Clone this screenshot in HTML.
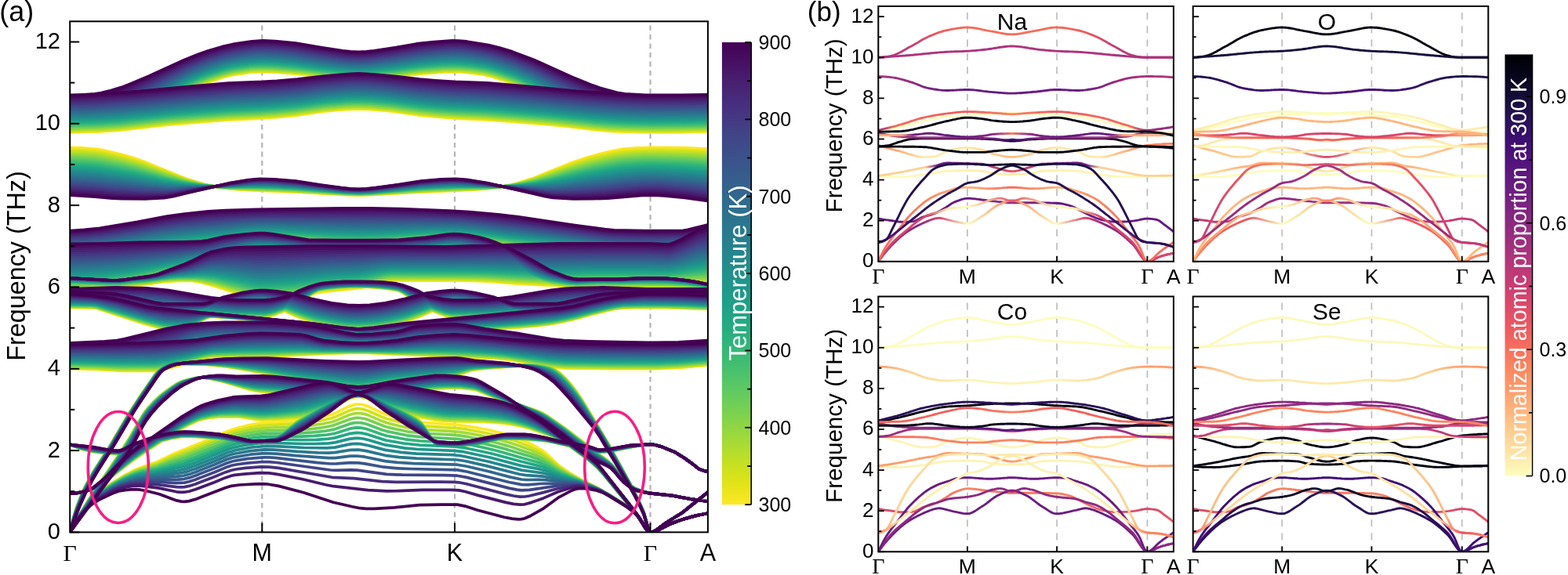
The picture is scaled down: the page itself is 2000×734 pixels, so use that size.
<!DOCTYPE html>
<html><head><meta charset="utf-8"><style>
html,body{margin:0;padding:0;background:#fff;overflow:hidden}
svg{display:block}
</style></head><body>
<svg width="2000" height="734" viewBox="0 0 2000 734">
<rect width="2000" height="734" fill="#fff"/>
<text x="-0.8" y="27.4" font-size="36" font-family="'Liberation Sans', Arial, sans-serif">(a)</text>
<text x="1029.8" y="27.2" font-size="35" font-family="'Liberation Sans', Arial, sans-serif">(b)</text>
<line x1="334.3" y1="32.6" x2="334.3" y2="679" stroke="#b4b4b4" stroke-width="2.2" stroke-dasharray="6.5 5"/>
<line x1="580.0" y1="32.6" x2="580.0" y2="679" stroke="#b4b4b4" stroke-width="2.2" stroke-dasharray="6.5 5"/>
<line x1="829.5" y1="32.6" x2="829.5" y2="679" stroke="#b4b4b4" stroke-width="2.2" stroke-dasharray="6.5 5"/>
<defs><clipPath id="cpa"><rect x="90" y="28" width="812" height="650.4"/></clipPath></defs>
<g clip-path="url(#cpa)" fill="none" stroke-linejoin="round">
<path stroke="#fde725" stroke-width="3.8" d="M89.2 168.9l18 -0.5 18 -1.5 12 -2.4 18 -5 16 -5.8 16 -7.1 24 -13.3 26 -15.9 12 -5.7 14 -5.8 22 -7.4 12 -3 22 -3.1 16 -0.9 16 0.6 26 2.1 32 3.8 20 1.6 26 1.4 18 -0.5 26 -2 36 -4.1 32 -2.5 18 -0.3 18 1.7 14 2.1 10 2.3 20 6.4 12 4.5 20 9 26 15.7 18 9.9 10 5.1 12 5.1 12 4.4 22 6.3 8 1.8 8 1.3 24 1.5 46 0.1 37.7 -0.8 M89.2 168.9l34 -0.7 28 -1.8 64 -7.4 74 -5.9 44 -2.1 20 -1.4 26 -2.6 34 -4.8 28 -2.6 16 -0.6 16 0.6 28 2.6 34 4.8 22 2.2 24 1.8 44 2 70 5.5 20 1.9 46 5.5 20 1.6 16 0.8 30 0.6 44 -0.2 31.7 -0.7 M89.2 188.4l16 0.5 20 1.7 10 1.9 20 4.8 14 4.1 16 5.5 44 18.1 10 3.7 20 6.3 16 3.4 18 2.5 22 1.6 68 2.9 60 3.2 14 0.4 14 -0.4 60 -3.2 70 -3 22 -1.7 20 -2.8 14 -3.1 22 -6.9 50 -20.1 18 -6.1 20 -5.6 16 -3.8 10 -1.8 20 -1.6 16 -0.5 42 0.3 31.7 1.6 M89.2 330.0l62 -4.1 58 -5.8 58 -4.8 14 -1.8 34 -6 10 -1.1 8 -0.4 26 0.9 68 5.9 16 0.9 14 0.3 14 -0.3 16 -0.9 70 -6.1 18 -0.7 14 0.2 20 1.9 48 6.7 72 5.9 66 7.5 28 1.7 18 -0.3 18 -2 20 -3.7 23.7 -5.9 M89.2 372.0l18 -1 22 -2.3 24 -3.2 18 -3.5 18 -4.4 32 -8.7 56 -17 30 -9.6 10 -2.4 8 -1.3 10 -0.6 206 0 38 -2 8 0.4 8 1.2 10 2.4 10 3 8 4 18 11.7 24 12.3 8 3.4 14 4.9 10 2.9 8 1.6 16 2.1 14 1 102 0.7 65.7 1.4 M89.2 367.5l66 -0.7 26 -3 26 -4 22 -1.5 14 -0.2 10 1.5 20 5.3 48 16.1 8 1.7 6 0.3 18 -0.8 24 -2.5 8 -1.4 20 -4.6 8 -1.4 46 -4.6 8 -1.8 22 -6.2 6 -1.1 6 -0.6 80 0 22 0.4 22 0.9 34 2.7 38 2 16 -0.2 44 -1.8 145.7 0 M89.2 392.4l38 0.3 52 5.2 58 4 84 2.9 16 0.1 4 -0.6 6 -1.6 14 -5.2 4 -1.8 22 -13 14 -9.6 6 -2.7 10 -1.6 14 -1.6 14 -0.9 12 -0.3 12 0.3 14 0.9 14 1.6 10 1.6 6 2.7 14 9.6 22 13.1 18 6.9 6 1.6 4 0.6 16 -0.1 88 -3.1 56 -3.7 48 -4.9 10 -0.7 56 0.2 51.7 1.9 M89.2 392.4l34 0.8 26 2.7 50 3.7 10 0.4 12 -0.2 24 -1.5 12 -1.4 22 -4.9 14 -4.4 6 -1.4 20 -1.7 16 -0.5 4 0.7 4 1.5 16 9 18 8.1 14 5.4 10 3.4 8 1.9 24 4.1 12 1.4 12 0.5 12 -0.5 12 -1.4 24 -4.1 8 -2 10 -3.4 14 -5.4 18 -8.1 16 -8.9 4 -1.5 4 -0.7 16 0.5 20 1.7 6 1.3 14 4.2 24 5.3 14 1.5 22 1.3 20 -0.1 54 -3.8 24 -2.6 16 -0.6 20 -0.3 28 0.3 45.7 1.8 M89.2 392.5l28 0 6 0.9 60 19.5 22 6 8 1.6 6 0.2 6 -0.5 16 -2.5 6 -2.5 12 -7.5 4 -2.1 4 -1.3 6 -0.3 40 3.1 58 5.5 42 6.2 38 4.4 14 2.4 4 0.4 46 -0.3 28 -2 22 -2.7 10 -0.9 56 -0.3 32 -2 18 -1.6 20 -2.4 14 -2.5 18 -4.1 22 -6 24 -5.9 8 -1.6 8 -1 54 0 53.7 1.8 M89.2 470.4l36 1.2 30 1.7 40 0.1 4 -0.3 4 -0.8 6 -1.9 10 -4.1 4 -2 6 -4.6 12 -10.5 6 -3.6 8 -2.2 10 -2.1 8 -1 6 -0.3 312 0.2 26 2 20 2.4 8 1.4 12 3.6 22 8.8 8 2.8 20 5.7 12 2.2 42 1.2 76 0.4 30 -1.4 35.7 -3.3 M89.2 470.4l36 1.2 30 1.7 42 0 6 -0.6 8 -1.7 24 -6.3 24 -7.2 12 -2.3 74 -0.4 82 -4 28 -0.8 14 0.3 32 1.6 106 4.2 32 1.8 14 1.7 30 5.4 24 3.7 14 1.3 58 0.6 58 0.1 28 -1.4 37.7 -3.3 M89.2 679.4l4 -16.3 4 -13.7 6 -16.1 6 -13.2 10 -18.1 20 -31 24 -40.9 16 -24.7 20 -28.8 4 -4 8 -5.1 6 -2.7 4 -0.8 18 0.3 22 0.8 12 1.1 18 2.2 18 2.9 26 4.9 40 8.8 22 4.2 44 7.4 8 1 8 0.4 6 -0.3 6 -0.9 24 -5.5 10 -1.8 52 -5.7 20 -2.9 8 -1.7 18 -6.7 10 -1.5 18 -1.7 46 -3.2 12 0.2 14 2 4 1.7 8 5.4 8 7.4 6 6.9 8 10.3 8 12.1 32 53.2 28 51.2 10 19.8 6 13.3 2 4.9 6 21.5 2 3.3 4 -0.6 4 -2.1 12 -9.1 20 -12.3 33.7 -26.9 M89.2 679.4l14 -24.8 12 -19.8 34 -50.7 16 -25.2 16 -27.7 4 -6 4 -5 8 -8.6 8 -7.2 12 -8.9 8 -5.3 6 -2.9 4 -1.4 12 -2.7 10 -1.2 4 0.1 6 0.8 18 4.2 30 9.2 10 2.4 8 1.2 26 1.6 24 0.5 34 -2 86 -0.1 74 -4.9 14 0.5 12 1.4 4 0.9 18 7.1 56 18.3 10 4 6 3.4 26 18.1 52 39.6 6 5.9 10 12.7 4 4.5 10 9 6 3.7 8 3.1 10 2.4 28 3.1 24 4.4 21.7 2.9 M89.2 630.2l10 -0.9 14 -3.2 6 -2.2 6 -3.2 10 -6.3 16 -13 18 -13.7 22 -15 38 -24.5 14 -7.3 10 -4.3 4 -1.2 10 -2 12 -1.4 24 0.1 6 0.6 16 2.6 8 0.7 24 -0.6 26 -1.7 6 -1.2 8 -2.2 24 -8.7 6 -2.8 18 -9.8 6 -2.2 6 -0.8 4 0.4 6 1.8 6 2.9 14 7.8 6 2.5 26 7.1 20 4.8 16 2.8 14 1.5 46 0.8 24 1.5 10 1.2 14 2.6 12 3 28 9.5 8 3.2 6 3.2 6 4.1 26 19.2 12 10.3 8 8.7 34 41.1 12 15.3 10 15.3 2 1.9 2 0.9 4 -0.4 4 -1.2 18 -9.2 16 -5.8 16 -4.4 15.7 -3.2 M89.2 567.5l14 5.3 14 3.5 16 2.1 18 0.6 6 -0.6 8 -2 24 -9.1 8 -2.6 22 -5.4 12 -2 6 -0.3 12 0.3 30 2.6 8 1.3 16 3.7 8 1.1 10 -0.4 12 -1.6 16 -3.8 6 -2.5 6 -4.4 12 -10.9 6 -4.9 18 -11.4 14 -7.8 24 -11.9 8 -3.5 8 -2.3 4 -0.5 4 0 8 1.6 8 3.2 18 9.3 22 10.2 8 4.5 6 3.8 6 4.5 2 2 4 5.5 8 13.6 4 6 4 3.8 2 0.8 20 -0.2 24 -0.9 8 -1.2 20 -4.6 8 -1.5 8 -0.5 16 0.4 26 1.5 10 1.2 10 2.1 44 10.4 6 1 6 0.4 8 -0.4 8 -1.1 26 -5.4 10 -1.7 8 -0.8 8 0.1 4 0.7 6 1.7 18 7.2 12 7.6 8 5.7 10 7.8 6 2.4 5.7 1.1"/>
<path stroke="#fde725" stroke-width="3.7" d="M89.2 679.4l8 -15.2 6 -9.9 6 -8.3 8 -8.8 12 -10.6 12 -8.9 16 -10 14 -7.4 8 -3.2 20 -6.9 24 -11.6 46 -18.6 22 -9.8 8 -2.8 18 -4.6 14 -2.4 12 -1.2 36 -2.1 12 -1.5 14 -2.4 18 -4.1 6 -2.5 12 -6 6 -2.6 6 -1.6 4 -0.4 6 0.7 6 1.9 18 8.5 6 2.4 26 6.9 10 1.8 8 1 46 3.1 26 3.9 16 3.1 16 4.1 14 4.3 14 5.5 12 5.8 10 5.8 6 4.7 16 14.9 14 9.8 14 8.2 18 8.9 10 5.6 12 7.2 20 13 10 8.2 4 5.4 8 13.5 2 2.6 2 1.8 2 0.8 4 -0.4 4 -1.2 18 -9.2 16 -5.8 16 -4.4 15.7 -3.2"/>
<path stroke="#eae51a" stroke-width="3.8" d="M89.2 168.0l18 -0.5 18 -1.5 12 -2.4 18 -5 16 -5.8 16 -7.1 24 -13.2 26 -15.8 12 -5.8 14 -5.7 22 -7.4 12 -3.1 22 -3.1 16 -0.8 24 1.2 22 1.8 32 3.9 26 2 16 0.6 18 -0.5 26 -2 36 -4.2 32 -2.5 18 -0.2 18 1.7 14 2 10 2.4 20 6.3 12 4.5 20 9 26 15.6 18 9.9 10 5.1 12 5.1 12 4.4 24 6.8 14 2.6 26 1.6 46 0 35.7 -0.8 M89.2 168.0l34 -0.7 28 -1.8 64 -7.3 74 -6 44 -2.1 20 -1.4 26 -2.5 34 -4.9 28 -2.5 16 -0.6 16 0.6 28 2.5 34 4.9 22 2.2 22 1.6 46 2.1 70 5.5 20 1.9 46 5.5 20 1.6 16 0.8 30 0.6 44 -0.2 31.7 -0.7 M89.2 190.4l16 0.6 20 1.6 10 1.9 20 4.7 14 4 16 5.2 52 20.3 22 6.5 14 2.9 18 2.3 18 1.4 68 2.8 64 3.7 16 0.4 16 -0.4 64 -3.7 70 -2.9 20 -1.6 18 -2.5 14 -3.1 20 -6 50 -19.1 18 -6 18 -4.9 18 -4.2 10 -1.7 20 -1.7 16 -0.5 42 0.5 31.7 1.6 M89.2 329.3l30 -1.7 32 -2.4 58 -5.9 58 -4.9 14 -1.8 34 -5.9 10 -1.1 8 -0.3 26 0.8 68 5.8 16 0.9 14 0.3 14 -0.3 16 -0.9 70 -5.9 18 -0.7 14 0.2 20 1.9 48 6.7 72 5.9 66 7.6 28 1.7 18 -0.4 18 -1.9 20 -3.7 23.7 -5.9 M89.2 370.9l18 -1 22 -2.3 24 -3.1 18 -3.5 50 -12.9 56 -16.7 30 -9.5 10 -2.4 8 -1.3 10 -0.6 206 0.1 38 -2 8 0.4 8 1.2 10 2.4 10 2.9 8 4.1 18 11.5 16 8.4 10 4.8 10 4 12 4 8 2.2 8 1.6 18 2.3 12 0.8 102 0.2 30 0.7 35.7 1.3 M89.2 366.4l64 -0.3 28 -3 28 -4.1 20 -1.3 14 0 10 1.4 20 4.9 48 15.7 8 1.7 6 0.3 18 -0.8 24 -2.4 8 -1.4 20 -4.5 8 -1.4 46 -4.5 8 -1.7 22 -6.1 6 -1.2 6 -0.5 82 0 20 0.4 22 0.8 32 2.5 26 1.6 14 0.5 16 -0.2 44 -1.7 96 0 49.7 -0.5 M89.2 392.0l38 0.2 52 5.2 60 4.1 82 2.9 16 0 4 -0.5 6 -1.6 14 -5.1 4 -1.8 22 -13 14 -9.5 6 -2.7 10 -1.6 14 -1.5 14 -1 12 -0.2 12 0.2 14 1 14 1.6 10 1.6 6 2.6 14 9.6 22 13 18 6.8 6 1.6 4 0.6 18 -0.2 86 -3.1 58 -3.9 46 -4.7 10 -0.6 56 0.2 51.7 1.8 M89.2 392.0l34 0.8 26 2.7 50 3.8 10 0.5 12 -0.2 24 -1.5 12 -1.4 22 -4.9 14 -4.3 6 -1.5 20 -1.8 16 -0.4 4 0.7 4 1.4 16 8.8 18 8.1 14 5.3 10 3.4 8 2 24 4.1 12 1.3 12 0.5 12 -0.5 12 -1.3 24 -4.1 8 -2 10 -3.4 14 -5.4 18 -8 16 -8.8 4 -1.5 4 -0.6 16 0.4 20 1.8 6 1.3 14 4.2 24 5.4 14 1.4 22 1.3 12 0.2 8 -0.3 54 -4 24 -2.6 14 -0.5 20 -0.4 28 0.3 24 0.6 23.7 1.2 M89.2 392.2l28 0 6 0.9 60 19.3 22 6.1 8 1.5 6 0.2 6 -0.4 16 -2.5 6 -2.4 12 -7.4 4 -2 4 -1.3 6 -0.2 40 3 58 5.5 42 6.2 38 4.4 14 2.4 4 0.4 46 -0.5 28 -1.9 32 -3.6 56 -0.5 32 -2 18 -1.5 20 -2.4 14 -2.5 18 -4.1 22 -6 24 -5.9 8 -1.6 8 -1 54 -0.1 53.7 1.9 M89.2 469.8l36 1.1 30 1.7 40 -0.1 4 -0.4 4 -0.8 6 -1.8 14 -6.1 4 -2.8 14 -12 6 -3.6 8 -2.1 10 -2.1 8 -1 6 -0.3 312 0.2 26 2.1 28 3.7 12 3.7 22 8.7 8 2.7 20 5.7 12 2.2 42 1.2 76 0.4 30 -1.4 35.7 -3.3 M89.2 469.8l36 1.2 30 1.7 42 0 6 -0.7 8 -1.6 26 -6.8 22 -6.6 12 -2.2 74 -0.5 50 -2.5 60 -2 14 0.2 32 1.6 74 2.7 62 3 16 1.8 30 5.3 24 3.7 14 1.3 58 0.7 58 0 28 -1.3 37.7 -3.3 M89.2 679.4l4 -16.2 4 -13.7 6 -16.1 6 -13.1 10 -18.1 20 -31 24 -41 16 -24.7 20 -28.7 4 -4.1 8 -5.2 6 -2.7 4 -0.7 16 0.1 24 0.8 12 1 18 2.2 18 2.8 26 4.8 40 8.7 22 4.2 44 7.3 8 0.9 8 0.4 6 -0.3 6 -0.8 24 -5.5 10 -1.7 52 -5.7 20 -2.8 8 -1.7 18 -6.6 10 -1.4 18 -1.7 46 -3 12 0.4 14 2.1 4 1.7 8 5.5 8 7.4 6 6.9 8 10.3 8 12 32 53.1 28 51.1 10 19.8 6 13.2 2 5 6 21.4 2 3.3 4 -0.6 4 -2.1 12 -9.1 20 -12.3 33.7 -26.9 M89.2 679.4l14 -24.7 12 -19.8 36 -53.6 14 -22.1 16 -27.7 4 -6 4 -5 8 -8.6 8 -7.3 12 -9 8 -5.2 6 -3 6 -1.9 12 -2.6 8 -0.9 4 0.1 6 0.7 16 3.6 10 2.7 22 6.9 10 2.4 8 1.1 26 1.6 24 0.5 34 -1.8 84 -0.1 36 -2.1 28 -2.3 12 -0.6 14 0.6 12 1.4 4 0.8 18 7.2 58 19.3 8 3.4 6 3.3 26 18.2 52 39.6 6 5.8 10 12.7 4 4.5 10 9 6 3.7 8 3 10 2.4 28 3.1 24 4.4 21.7 2.9 M89.2 630.2l10 -0.9 14 -3.2 6 -2.2 6 -3.2 10 -6.4 16 -13.1 18 -13.8 22 -14.9 38 -24.6 14 -7.3 10 -4.3 4 -1.2 10 -2.1 12 -1.4 24 0 6 0.6 16 2.5 8 0.7 24 -0.6 26 -1.9 10 -2.1 12 -4 18 -6.7 18 -9.4 6 -2.7 6 -1.7 4 -0.4 4 0.4 6 1.8 6 2.8 14 7.5 6 2.5 28 7.5 18 4.2 16 2.8 14 1.6 46 0.8 24 1.6 10 1.2 14 2.7 12 3.1 28 9.6 8 3.3 6 3.2 6 4.1 26 19.2 12 10.3 8 8.8 34 41.1 12 15.2 10 15.4 2 1.9 2 0.9 4 -0.4 4 -1.2 18 -9.2 16 -5.8 16 -4.4 15.7 -3.2 M89.2 567.5l14 5.3 14 3.4 16 2.1 18 0.6 6 -0.6 8 -2 24 -9.1 8 -2.6 22 -5.4 12 -2 6 -0.3 12 0.3 30 2.6 8 1.3 16 3.7 8 1.1 10 -0.3 12 -1.7 16 -3.6 6 -2.5 6 -4.4 12 -10.8 6 -4.8 18 -11.4 16 -8.9 22 -11 8 -3.5 8 -2.3 4 -0.6 4 0.1 8 1.6 8 3.2 18 9.4 22 10.3 8 4.5 6 3.8 6 4.4 2 2 4 5.5 8 13.5 4 5.8 4 3.8 2 0.8 22 -0.2 22 -0.9 8 -1.2 20 -4.6 8 -1.5 8 -0.5 16 0.3 26 1.7 10 1.2 10 2 44 10.4 6 1.1 6 0.3 8 -0.4 8 -1.1 26 -5.3 10 -1.7 10 -0.9 6 0.2 4 0.7 6 1.7 18 7.2 12 7.6 8 5.7 10 7.8 6 2.4 5.7 1.1"/>
<path stroke="#d2e21b" stroke-width="3.8" d="M89.2 167.1l18 -0.6 18 -1.4 12 -2.5 18 -5 16 -5.8 16 -7.1 24 -13.2 26 -15.7 12 -5.7 14 -5.7 22 -7.4 12 -3 22 -3.1 16 -0.9 24 1.2 22 1.9 32 3.8 26 2.1 16 0.7 14 -0.4 18 -1.2 18 -1.6 30 -3.6 32 -2.6 18 -0.2 18 1.7 14 2.1 10 2.3 20 6.3 12 4.5 20 9 26 15.5 18 9.9 10 5 12 5.1 12 4.5 24 6.7 14 2.7 26 1.5 46 0 35.7 -0.7 M89.2 167.1l34 -0.8 28 -1.8 64 -7.3 74 -5.9 44 -2.1 20 -1.4 26 -2.6 34 -4.8 28 -2.5 16 -0.6 16 0.6 28 2.5 34 4.9 22 2.1 24 1.8 40 1.8 34 2.5 52 4.3 52 6.1 22 1.7 16 0.8 30 0.7 44 -0.2 31.7 -0.7 M89.2 192.4l16 0.6 20 1.6 10 1.8 20 4.7 14 3.8 14 4.4 54 20 20 5.7 14 2.8 16 2 18 1.4 72 3 64 3.8 16 0.5 16 -0.5 64 -3.8 74 -3.1 18 -1.4 18 -2.4 14 -3 20 -5.8 48 -17.6 20 -6.3 12 -3.3 18 -4.1 16 -2.8 22 -1.6 20 -0.3 38 0.6 27.7 1.6 M89.2 328.6l30 -1.7 32 -2.5 58 -6 58 -4.9 14 -1.7 34 -5.8 10 -1.1 8 -0.4 26 0.8 68 5.7 16 0.9 14 0.2 14 -0.2 16 -0.9 70 -5.7 18 -0.7 14 0.2 20 1.9 48 6.6 70 5.9 66 7.5 16 1.3 14 0.6 18 -0.4 18 -1.9 20 -3.6 23.7 -5.9 M89.2 369.7l18 -1 22 -2.2 24 -3.1 18 -3.4 50 -12.7 54 -15.9 32 -10 10 -2.3 8 -1.3 10 -0.6 62 0.4 144 -0.2 38 -2.1 8 0.4 8 1.3 10 2.3 10 2.9 8 4 18 11.5 24 12.3 16 6.3 12 3.6 10 2.3 18 2.4 12 1 106 0 32 0.8 31.7 1.6 M89.2 365.4l64 0 30 -3.2 26 -3.8 18 -1.2 16 0 10 1.3 18 4.1 48 15.3 8 1.9 8 0.6 18 -0.8 24 -2.4 8 -1.3 28 -5.9 46 -4.4 8 -1.7 22 -5.9 6 -1.1 6 -0.6 82 0 20 0.4 22 0.8 32 2.4 40 2 16 -0.2 42 -1.6 98 0 49.7 -0.9 M89.2 391.5l38 0.2 52 5.1 60 4.1 80 3 18 0.1 4 -0.6 6 -1.5 18 -6.8 22 -13 14 -9.4 6 -2.6 10 -1.6 14 -1.6 14 -0.9 12 -0.3 12 0.3 14 0.9 14 1.6 10 1.6 6 2.7 14 9.4 22 12.9 18 6.8 6 1.5 4 0.6 18 -0.1 84 -3.1 60 -4.1 46 -4.6 10 -0.6 56 0.2 51.7 1.8 M89.2 391.6l34 0.8 26 2.7 50 4 10 0.4 12 -0.2 24 -1.4 12 -1.3 22 -5.1 14 -4.3 6 -1.4 20 -1.8 16 -0.5 4 0.7 4 1.4 16 8.7 18 7.9 14 5.4 10 3.3 8 2 24 4.1 12 1.3 12 0.5 12 -0.5 12 -1.3 24 -4.1 8 -2 22 -7.9 20 -8.8 16 -8.6 4 -1.4 4 -0.7 16 0.5 20 1.8 6 1.3 14 4.2 22 5 10 1.3 28 1.7 12 0.2 8 -0.3 54 -4.1 24 -2.6 14 -0.5 20 -0.4 28 0.3 24 0.6 23.7 1.2 M89.2 391.8l28 0.1 6 0.9 60 19.2 22 6 8 1.5 6 0.2 6 -0.4 16 -2.4 6 -2.4 12 -7.2 4 -1.9 4 -1.3 6 -0.2 40 3.1 58 5.5 44 6.4 36 4.2 14 2.3 4 0.3 46 -0.5 28 -2 32 -3.6 56 -0.5 32 -2.1 20 -1.7 18 -2.2 14 -2.5 18 -4 22 -6.1 24 -5.8 8 -1.6 8 -1 54 -0.1 53.7 1.8 M89.2 469.1l36 1.1 30 1.6 40 -0.3 4 -0.4 4 -0.8 6 -1.8 14 -6 4 -2.8 14 -11.8 6 -3.5 8 -2.1 10 -2.1 8 -1 6 -0.3 178 0.6 96 -0.5 38 0.2 26 2.1 28 3.8 12 3.6 22 8.6 8 2.7 20 5.6 12 2.2 42 1.2 76 0.4 30 -1.3 35.7 -3.3 M89.2 469.2l36 1.1 30 1.7 42 -0.1 6 -0.6 8 -1.6 26 -6.7 22 -6.5 12 -2.2 74 -0.6 48 -2.3 62 -1.9 14 0.3 32 1.5 74 2.4 60 2.9 18 2 30 5.2 24 3.7 14 1.2 58 0.7 58 0.1 28 -1.3 37.7 -3.3 M89.2 679.4l4 -16.1 4 -13.6 6 -16.1 6 -13.2 10 -18.1 20 -31 24 -40.9 16 -24.8 20 -28.7 4 -4.1 8 -5.2 6 -2.7 4 -0.8 16 0.1 24 0.7 12 1 18 2.1 18 2.7 26 4.7 40 8.6 24 4.4 44 7.2 14 1 6 -0.3 6 -0.8 24 -5.4 10 -1.7 52 -5.6 20 -2.8 8 -1.7 18 -6.3 10 -1.4 18 -1.6 46 -2.8 12 0.4 14 2.3 4 1.7 8 5.5 8 7.5 6 6.9 8 10.2 8 12.1 32 52.9 28 51 10 19.8 6 13.2 2 4.9 6 21.4 2 3.3 4 -0.6 4 -2.1 12 -9.1 20 -12.3 33.7 -26.9 M89.2 679.4l14 -24.6 12 -19.7 36 -53.5 14 -22.1 16 -27.7 4 -6 4 -5.1 8 -8.6 8 -7.3 12 -9 8 -5.3 6 -3 6 -1.9 12 -2.7 8 -0.9 4 0 6 0.8 16 3.5 32 9.4 10 2.3 8 1.1 28 1.7 22 0.5 32 -1.7 44 0.2 42 -0.4 36 -2.2 28 -2.3 12 -0.5 12 0.4 16 2 6 1.8 14 5.9 56 18.9 10 4.2 6 3.3 24 16.7 40 30.7 14 10.3 6 5.8 10 12.7 4 4.5 10 8.9 6 3.7 8 3 10 2.5 28 3 24 4.4 21.7 2.9 M89.2 630.2l10 -0.9 14 -3.2 6 -2.3 6 -3.2 10 -6.4 16 -13.2 18 -13.8 20 -13.7 40 -25.9 14 -7.3 10 -4.3 4 -1.3 10 -2.1 12 -1.4 24 -0.1 6 0.6 16 2.5 8 0.6 24 -0.7 26 -2 10 -2.1 10 -3.2 20 -7.3 18 -9.1 6 -2.6 6 -1.7 4 -0.3 4 0.4 6 1.7 6 2.7 14 7.2 6 2.5 28 7.4 18 4.2 16 2.8 14 1.6 46 0.9 22 1.5 12 1.4 14 2.8 12 3.1 26 9.1 10 4.1 6 3.3 6 4 26 19.2 12 10.3 8 8.8 34 41.1 12 15.3 10 15.4 2 1.9 2 0.9 4 -0.4 4 -1.2 18 -9.2 16 -5.8 16 -4.4 15.7 -3.2 M89.2 567.5l14 5.2 14 3.4 16 2.1 18 0.6 6 -0.6 8 -2 24 -9.2 8 -2.6 22 -5.4 12 -1.9 6 -0.3 12 0.3 30 2.6 8 1.3 16 3.7 8 1.1 10 -0.3 12 -1.6 16 -3.6 6 -2.4 6 -4.3 16 -14 8 -5.4 20 -12.1 28 -14.4 8 -3.8 6 -2.2 6 -1.3 6 -0.2 8 1.7 8 3.3 18 9.4 22 10.4 14 8.3 6 4.4 2 2 4 5.4 8 13.3 4 5.8 4 3.7 2 0.8 20 -0.1 22 -0.9 10 -1.4 20 -4.6 8 -1.4 8 -0.5 16 0.3 26 1.7 10 1.2 54 12.4 6 1.1 6 0.4 8 -0.4 8 -1.1 26 -5.4 10 -1.6 10 -0.9 6 0.2 4 0.7 6 1.7 18 7.2 12 7.6 8 5.7 10 7.8 6 2.4 5.7 1.1"/>
<path stroke="#d2e21b" stroke-width="3.7" d="M89.2 679.4l8 -15.1 8 -12.8 6 -7.7 8 -8.2 12 -10.1 12 -8.6 16 -9.6 12 -6 8 -3 20 -6.4 20 -9.1 50 -19.8 22 -9.7 8 -2.9 18 -4.4 14 -2.4 12 -1 38 -1.9 12 -1.3 14 -2.2 16 -3.4 6 -2.3 18 -8 6 -1.6 4 -0.3 6 0.8 6 1.8 18 8.1 6 2.2 24 6.1 10 1.9 10 1.2 46 3 12 1.5 14 2.4 18 3.7 16 4.2 16 5.1 14 5.5 12 5.6 8 4.6 20 16.9 10 6.6 18 10.1 18 8.6 10 5.5 12 7.2 20 13 10 8.1 4 5.4 8 13.5 2 2.6 2 1.8 2 0.8 4 -0.4 4 -1.2 18 -9.2 16 -5.8 16 -4.4 15.7 -3.2"/>
<path stroke="#bddf26" stroke-width="3.8" d="M89.2 166.1l18 -0.6 18 -1.4 12 -2.5 18 -5 16 -5.8 16 -7.1 24 -13.1 26 -15.6 12 -5.8 14 -5.7 20 -6.7 14 -3.6 22 -3.2 16 -0.8 24 1.2 22 1.9 32 3.8 26 2.2 16 0.6 14 -0.3 16 -1.1 20 -1.8 30 -3.6 32 -2.6 18 -0.2 18 1.7 14 2.1 10 2.3 20 6.3 12 4.4 20 9 26 15.4 18 9.9 10 5 12 5.1 12 4.5 24 6.7 14 2.7 26 1.6 46 0 35.7 -0.8 M89.2 166.1l34 -0.8 28 -1.8 64 -7.2 76 -6.2 42 -1.9 20 -1.4 26 -2.5 34 -4.8 28 -2.6 16 -0.6 16 0.6 28 2.6 34 4.8 22 2.2 24 1.7 38 1.7 34 2.4 54 4.5 52 6.1 22 1.7 16 0.8 30 0.7 44 -0.2 31.7 -0.7 M89.2 194.5l16 0.5 20 1.7 10 1.7 20 4.5 28 8 52 18.4 20 5.4 14 2.8 16 2 16 1.2 74 2.9 66 4.1 16 0.5 16 -0.5 66 -4.1 76 -3 16 -1.3 16 -1.9 14 -2.8 20 -5.4 50 -17.4 18 -5.5 12 -3.1 18 -4 16 -2.8 24 -1.7 18 -0.2 38 0.7 27.7 1.7 M89.2 327.9l30 -1.8 32 -2.5 58 -6.1 58 -4.9 14 -1.8 34 -5.7 10 -1 8 -0.4 26 0.8 68 5.5 16 0.9 14 0.2 30 -1.1 70 -5.5 18 -0.7 14 0.3 20 1.8 48 6.6 70 6 66 7.5 16 1.3 14 0.5 18 -0.3 18 -1.9 18 -3.2 25.7 -6.2 M89.2 368.4l18 -1 22 -2.1 24 -3.1 18 -3.3 50 -12.4 54 -15.7 32 -9.8 10 -2.4 8 -1.3 10 -0.5 62 0.5 144 -0.2 38 -2.1 8 0.3 8 1.3 10 2.3 10 2.9 8 4 18 11.4 26 13.1 14 5.5 12 3.5 10 2.2 18 2.5 12 1 106 -0.4 32 1 31.7 2 M89.2 364.5l48 0.4 16 -0.2 30 -3.1 28 -3.9 18 -1.1 16 0.2 10 1.4 18 4 48 14.9 8 1.5 6 0.4 18 -0.8 24 -2.4 36 -7 46 -4.3 8 -1.6 22 -5.9 6 -1.1 6 -0.5 82 0 20 0.4 22 0.7 52 3.6 22 0.8 56 -1.9 98 0 49.7 -1.3 M89.2 391.0l36 0.1 54 5 58 4.1 80 3.2 20 0.2 4 -0.6 6 -1.6 18 -6.7 22 -12.9 14 -9.3 6 -2.6 10 -1.6 14 -1.5 14 -0.9 12 -0.3 12 0.3 14 0.9 14 1.5 10 1.6 6 2.7 14 9.3 22 12.9 18 6.7 6 1.5 4 0.6 20 -0.2 82 -3.2 60 -4.2 46 -4.4 10 -0.6 56 0.2 51.7 1.8 M89.2 391.2l34 0.8 26 2.7 52 4.2 8 0.4 12 -0.2 24 -1.4 12 -1.3 22 -5.1 14 -4.3 6 -1.4 20 -1.9 16 -0.5 4 0.7 4 1.4 16 8.5 20 8.7 22 7.8 10 2.3 22 3.8 12 1.3 12 0.5 12 -0.5 14 -1.6 22 -3.9 8 -1.9 12 -4.1 14 -5.4 16 -7 16 -8.5 4 -1.4 4 -0.7 16 0.5 20 1.8 6 1.4 14 4.2 22 5.1 10 1.2 28 1.7 12 0.2 8 -0.3 54 -4.4 22 -2.3 14 -0.7 22 -0.4 26 0.2 26 0.7 23.7 1.1 M89.2 391.5l28 0.1 6 0.9 60 19 22 5.9 8 1.6 6 0.1 6 -0.3 16 -2.3 6 -2.3 12 -7 4 -2 4 -1.2 6 -0.2 40 3.1 58 5.5 44 6.4 36 4.2 14 2.3 4 0.3 46 -0.7 28 -2 32 -3.6 56 -0.6 32 -2.1 20 -1.8 18 -2.1 14 -2.5 18 -4 22 -6 24 -5.8 8 -1.6 8 -1 52 -0.2 55.7 1.9 M89.2 468.5l36 1 30 1.5 40 -0.6 4 -0.3 10 -2.7 14 -5.9 4 -2.7 14 -11.7 6 -3.4 8 -2.1 10 -2 8 -1 6 -0.3 90 0.1 88 0.8 86 -0.7 48 0.2 26 2.1 28 3.8 12 3.6 22 8.5 8 2.7 20 5.5 12 2.2 42 1.2 76 0.5 30 -1.4 35.7 -3.3 M89.2 468.6l36 1.1 30 1.6 42 -0.1 6 -0.6 8 -1.6 26 -6.6 22 -6.4 12 -2.2 74 -0.7 46 -2.1 64 -1.7 118 3.8 60 2.8 16 1.6 34 5.7 22 3.3 16 1.6 58 0.7 58 0.1 28 -1.4 37.7 -3.2 M89.2 679.4l4 -16 4 -13.5 6 -16.1 6 -13.2 10 -18.1 20 -31 24 -40.9 16 -24.8 18 -26.2 4 -4.9 4 -3.3 6 -3.8 6 -2.7 4 -0.7 16 -0.1 24 0.8 12 0.8 18 2 18 2.8 28 4.9 38 8.1 24 4.3 42 6.7 8 1 8 0.4 6 -0.3 6 -0.9 24 -5.3 10 -1.6 52 -5.5 20 -2.8 8 -1.6 18 -6.2 10 -1.3 20 -1.7 44 -2.4 12 0.5 14 2.4 6 3 8 6 6 5.8 8 9.4 6 7.7 6 8.8 26 42.6 12 20.4 18 32.6 16 31 8 18.2 6 21.3 2 3.3 4 -0.6 4 -2.1 12 -9.1 20 -12.3 33.7 -26.9 M89.2 679.4l14 -24.5 12 -19.6 38 -56.5 14 -22.2 14 -24.5 4 -6.1 4 -5 8 -8.7 8 -7.3 12 -9 8 -5.3 6 -3.1 6 -1.9 12 -2.8 8 -0.9 4 0 6 0.7 16 3.4 32 9.2 10 2.3 8 1.1 30 1.8 22 0.4 30 -1.6 42 0.3 42 -0.4 38 -2.3 28 -2.3 12 -0.5 12 0.4 16 2 6 1.8 14 6 56 19.3 10 4.2 6 3.3 24 16.7 38 29.2 16 11.8 6 5.7 10 12.7 4 4.5 10 8.9 6 3.7 8 2.9 10 2.5 28 3 24 4.4 21.7 2.9 M89.2 630.2l8 -0.6 10 -2 8 -2.2 8 -3.7 12 -7.7 16 -13.1 16 -12.4 22 -15.2 40 -26 14 -7.3 10 -4.4 4 -1.2 10 -2.2 12 -1.4 24 -0.2 6 0.5 16 2.4 8 0.7 22 -0.7 28 -2.2 10 -2.1 10 -3.2 20 -7.2 22 -10.5 6 -1.9 6 -0.7 4 0.4 6 1.6 6 2.6 14 7 6 2.3 28 7.4 16 3.7 16 3 16 1.9 46 1 22 1.5 12 1.5 14 2.8 12 3.2 26 9.3 10 4.2 4 2.1 6 3.8 24 17.6 8 6.2 8 7.1 8 8.8 34 41.2 12 15.3 10 15.4 2 1.9 2 0.9 4 -0.4 4 -1.2 18 -9.2 16 -5.8 16 -4.4 15.7 -3.2 M89.2 567.5l14 5.1 14 3.3 16 2.2 18 0.7 6 -0.7 8 -2.1 24 -9.1 8 -2.6 22 -5.4 12 -2 6 -0.3 12 0.4 30 2.6 8 1.2 16 3.8 8 1.1 10 -0.2 12 -1.6 16 -3.5 6 -2.4 6 -4.3 16 -13.9 10 -6.6 20 -12 28 -14.4 8 -3.6 6 -1.9 6 -1 4 0 8 1.7 8 3.3 18 9.5 22 10.6 14 8.3 6 4.4 2 1.9 4 5.4 8 13.1 4 5.6 4 3.7 2 0.8 20 -0.1 22 -0.9 10 -1.4 20 -4.6 8 -1.4 8 -0.5 16 0.3 18 1 16 1.6 12 2.4 44 10.3 6 1.1 6 0.4 8 -0.4 8 -1.1 26 -5.3 10 -1.6 10 -0.9 6 0.2 4 0.7 6 1.7 18 7.2 12 7.6 8 5.7 10 7.8 6 2.4 5.7 1.1"/>
<path stroke="#a5db36" stroke-width="3.8" d="M89.2 165.0l18 -0.5 18 -1.5 12 -2.4 18 -5 14 -5 16 -6.9 26 -14.1 26 -15.6 12 -5.6 14 -5.8 20 -6.7 14 -3.6 22 -3.1 16 -0.9 12 0.4 14 1 20 1.7 32 3.9 26 2.2 16 0.7 14 -0.3 16 -1.2 20 -1.8 30 -3.7 32 -2.5 18 -0.3 18 1.7 14 2.1 10 2.3 20 6.3 12 4.5 20 8.9 26 15.3 18 9.9 10 4.9 12 5.1 12 4.5 24 6.8 14 2.7 26 1.5 46 0 35.7 -0.7 M89.2 165.0l34 -0.7 28 -1.8 66 -7.4 74 -6 42 -1.9 20 -1.4 26 -2.5 34 -4.8 28 -2.5 16 -0.7 16 0.7 28 2.5 34 4.8 22 2.2 24 1.7 38 1.6 34 2.5 54 4.5 52 6 22 1.8 16 0.8 30 0.6 44 -0.1 31.7 -0.7 M89.2 196.5l16 0.6 18 1.4 10 1.5 20 4.4 14 3.5 16 4.6 38 13 14 4.5 20 5 14 2.6 14 1.5 14 1.1 78 2.9 66 4.4 16 0.5 16 -0.5 66 -4.4 78 -2.9 16 -1.2 14 -1.5 14 -2.6 20 -5 14 -4.4 36 -12.2 20 -5.7 30 -6.9 14 -2.3 24 -1.7 18 -0.2 38 0.8 27.7 1.8 M89.2 327.1l32 -1.9 30 -2.4 58 -6.3 60 -5.1 12 -1.5 34 -5.6 10 -1.1 8 -0.3 26 0.7 68 5.4 30 1.1 30 -1.1 70 -5.4 18 -0.6 14 0.3 20 1.8 48 6.6 70 6 64 7.4 16 1.3 16 0.7 18 -0.3 20 -2.2 18 -3.3 23.7 -5.8 M89.2 367.1l18 -1 22 -2.1 24 -3 18 -3.2 52 -12.7 52 -14.9 32 -9.7 10 -2.4 8 -1.2 10 -0.6 62 0.8 142 -0.3 40 -2.2 8 0.4 8 1.2 10 2.3 10 2.9 8 4 18 11.2 26 13.2 14 5.4 12 3.5 10 2.2 20 2.7 10 0.8 28 -0.5 78 -0.2 32 1.2 31.7 2.2 M89.2 363.6l62 0.6 32 -3.2 30 -4 16 -0.9 16 0.1 10 1.3 18 3.8 48 14.3 8 1.6 6 0.3 18 -0.8 24 -2.3 36 -6.9 46 -4.2 8 -1.6 22 -5.7 6 -1 6 -0.5 82 0 20 0.3 22 0.7 52 3.4 22 0.8 56 -1.8 98 0 49.7 -1.8 M89.2 390.5l38 0.1 50 4.7 62 4.5 76 3 22 0.3 4 -0.6 6 -1.5 18 -6.6 22 -12.9 14 -9.2 6 -2.6 10 -1.5 14 -1.6 14 -0.9 12 -0.2 12 0.2 14 0.9 14 1.6 10 1.6 6 2.6 14 9.2 16 9.6 6 3.2 18 6.6 6 1.5 4 0.6 12 0 30 -0.9 58 -2.5 62 -4.3 54 -4.9 58 0.2 51.7 1.7 M89.2 390.8l34 0.8 26 2.7 52 4.4 8 0.3 12 -0.2 28 -1.6 10 -1.4 20 -4.7 14 -4.3 6 -1.4 20 -2 16 -0.5 4 0.7 4 1.4 16 8.3 16 6.9 16 6.1 10 3.4 8 1.9 22 3.8 14 1.7 12 0.5 12 -0.6 14 -1.6 22 -3.8 8 -2 12 -4 14 -5.4 16 -6.9 16 -8.4 4 -1.3 4 -0.7 16 0.5 20 1.9 6 1.3 14 4.3 22 5.1 10 1.2 28 1.6 12 0.2 8 -0.3 54 -4.5 22 -2.4 12 -0.5 22 -0.5 28 0.2 26 0.6 23.7 1.2 M89.2 391.1l28 0.2 6 0.8 60 18.9 22 5.9 8 1.5 6 0.2 6 -0.4 16 -2.1 6 -2.3 12 -6.8 4 -1.9 4 -1.2 6 -0.2 40 3.2 58 5.5 44 6.3 36 4.2 14 2.2 4 0.3 44 -0.7 30 -2.1 32 -3.5 56 -0.8 32 -2.1 20 -1.8 18 -2.1 14 -2.4 18 -4 22 -6.1 22 -5.3 10 -2 8 -1 52 -0.3 55.7 1.9 M89.2 467.8l36 0.9 30 1.4 40 -0.7 4 -0.4 10 -2.7 14 -5.8 4 -2.7 14 -11.4 6 -3.4 8 -2 10 -2 8 -1 6 -0.3 90 0.1 88 1.1 46 -0.2 32 -0.7 54 0.1 26 2 30 4 12 3.5 22 8.4 8 2.7 20 5.5 12 2.1 42 1.2 76 0.5 30 -1.3 35.7 -3.3 M89.2 467.9l36 1.1 30 1.5 42 -0.1 6 -0.6 8 -1.6 26 -6.4 22 -6.4 12 -2.2 74 -0.7 44 -2 64 -1.5 14 0.2 36 1.4 68 1.8 60 2.8 18 1.7 34 5.7 22 3.3 16 1.5 60 0.7 56 0.1 28 -1.3 37.7 -3.2 M89.2 679.4l4 -15.9 4 -13.5 6 -16 6 -13.2 10 -18.1 20 -31.1 24 -40.9 16 -24.7 18 -26.2 4 -5 4 -3.3 6 -3.8 6 -2.7 4 -0.8 16 -0.1 26 0.8 30 2.9 44 7.2 38 7.9 24 4.3 42 6.6 8 0.9 8 0.4 12 -1.1 24 -5.2 10 -1.7 52 -5.4 20 -2.7 8 -1.6 16 -5.5 10 -1.6 20 -1.6 44 -2.3 12 0.3 14 2.3 4 1.3 4 2.3 6 4.3 6 5.4 6 6.7 8 9.9 10 14.6 32 52.6 28 50.8 10 19.7 6 13.2 2 4.9 6 21.3 2 3.3 4 -0.6 4 -2.1 12 -9.1 20 -12.3 33.7 -26.9 M89.2 679.4l14 -24.3 12 -19.6 38 -56.4 14 -22.2 14 -24.5 4 -6.1 4 -5 8 -8.7 8 -7.4 12 -9.1 8 -5.3 6 -3.1 6 -1.9 12 -2.8 8 -1 4 0 6 0.7 16 3.3 32 9 12 2.6 8 0.8 30 1.8 20 0.3 30 -1.5 42 0.5 42 -0.6 38 -2.3 26 -2.2 12 -0.6 14 0.4 16 2 6 1.9 14 6 56 19.6 10 4.3 6 3.3 24 16.8 38 29.2 16 11.6 6 5.7 10 12.6 4 4.5 10 9 6 3.6 8 3 10 2.4 28 3 24 4.4 21.7 2.9 M89.2 630.2l8 -0.6 12 -2.5 8 -2.4 6 -3.1 12 -7.7 16 -13.2 14 -11 10 -7.3 14 -9.4 40 -26 14 -7.4 10 -4.4 4 -1.2 10 -2.2 12 -1.5 24 -0.3 22 2.9 8 0.6 22 -0.8 28 -2.2 6 -1.2 8 -2.2 24 -8.2 6 -2.4 14 -6.7 6 -2.4 6 -1.5 4 -0.3 4 0.3 6 1.6 6 2.5 14 6.7 6 2.2 30 7.8 16 3.6 16 2.9 14 1.6 46 1.1 22 1.6 12 1.5 14 3 12 3.2 24 8.8 10 4.1 6 3 8 5.3 26 19.1 12 10.3 8 8.8 34 41.2 12 15.4 10 15.4 2 1.9 2 0.9 4 -0.4 4 -1.2 18 -9.2 16 -5.8 16 -4.4 15.7 -3.2 M89.2 567.5l14 5 14 3.3 16 2.2 18 0.7 6 -0.7 8 -2.1 24 -9.2 8 -2.6 22 -5.3 12 -2 6 -0.3 12 0.4 30 2.6 8 1.2 16 3.7 8 1.1 12 -0.3 12 -1.7 14 -3.1 6 -2.3 6 -4.2 16 -13.7 10 -6.7 20 -12 28 -14.5 8 -3.6 6 -2 6 -1 4 0 8 1.7 8 3.4 18 9.6 22 10.6 14 8.3 6 4.4 2 1.9 4 5.3 8 12.9 4 5.6 4 3.7 2 0.7 22 -0.1 20 -0.9 10 -1.4 20 -4.6 10 -1.6 8 -0.3 16 0.3 18 1.2 14 1.4 10 2 46 10.7 6 1.1 6 0.5 8 -0.5 8 -1 26 -5.3 10 -1.6 10 -0.9 6 0.2 4 0.7 6 1.7 18 7.2 12 7.6 8 5.7 10 7.8 6 2.4 5.7 1.1"/>
<path stroke="#a5db36" stroke-width="3.7" d="M89.2 679.4l8 -15 8 -12.7 6 -7.6 8 -8.2 12 -9.9 12 -8.5 16 -9.4 12 -5.7 8 -2.8 22 -6.7 18 -7.7 20 -7.2 30 -12 22 -9.6 10 -3.3 18 -4.2 14 -2.1 12 -0.8 36 -1.3 14 -1.4 16 -2.3 12 -2.3 6 -2.1 16 -6.9 6 -1.7 4 -0.5 4 0 6 1.1 6 2 16 7 6 2.1 16 4 12 2.5 16 2.1 36 2 12 1 14 2.1 22 4.2 14 3.3 16 4.6 12 4 14 5.3 10 4.4 6 3.3 6 4.3 12 9.7 10 6.3 20 10.6 16 7.3 10 5.2 12 7.1 20 12.8 6 4.4 6 5.2 4 5.4 8 13.4 2 2.6 2 1.8 2 0.8 4 -0.4 4 -1.2 18 -9.2 16 -5.8 16 -4.4 15.7 -3.2"/>
<path stroke="#90d743" stroke-width="3.8" d="M89.2 164.0l18 -0.6 18 -1.4 12 -2.5 18 -5 14 -5.1 16 -6.8 26 -14.1 26 -15.4 12 -5.7 14 -5.7 20 -6.7 14 -3.6 22 -3.1 16 -0.9 12 0.4 14 1 20 1.7 32 4 26 2.2 16 0.7 14 -0.3 16 -1.2 20 -1.8 30 -3.8 32 -2.5 18 -0.3 18 1.7 14 2.1 10 2.3 20 6.3 12 4.4 20 9 26 15.2 18 9.8 10 4.9 12 5.1 12 4.5 24 6.8 14 2.7 26 1.5 46 0 35.7 -0.7 M89.2 164.0l34 -0.8 28 -1.8 66 -7.4 74 -5.9 42 -2 20 -1.4 26 -2.5 34 -4.7 28 -2.6 16 -0.6 16 0.6 28 2.6 34 4.7 22 2.2 24 1.7 38 1.7 34 2.5 54 4.5 52 5.9 22 1.8 16 0.8 30 0.7 44 -0.2 31.7 -0.7 M89.2 198.5l16 0.6 18 1.4 10 1.5 20 4.2 14 3.4 16 4.5 50 16 20 4.8 14 2.5 26 2.3 80 2.9 68 4.6 16 0.5 16 -0.5 68 -4.6 80 -2.9 14 -0.9 14 -1.5 14 -2.6 20 -4.7 50 -15.7 20 -5.5 28 -6.1 14 -2.3 24 -1.7 18 -0.2 38 1 27.7 1.8 M89.2 326.3l32 -1.9 30 -2.5 60 -6.5 58 -5 12 -1.6 34 -5.5 10 -1 8 -0.3 26 0.7 68 5.2 30 1.1 30 -1.1 70 -5.2 18 -0.5 14 0.3 20 1.8 48 6.5 70 6.2 64 7.3 16 1.3 16 0.6 18 -0.2 20 -2.1 16 -2.8 25.7 -6.3 M89.2 365.7l18 -0.9 22 -2.1 24 -2.9 18 -3.2 48 -11.4 54 -15 32 -9.7 10 -2.5 10 -1.6 10 -0.5 62 0.9 122 -0.1 26 -0.4 26 -1.8 10 -0.3 6 0.4 8 1.2 10 2.3 10 2.9 8 3.9 18 11.1 26 13.2 14 5.5 12 3.4 10 2.2 20 2.7 10 0.8 28 -0.6 78 -0.3 32 1.2 31.7 2.6 M89.2 362.8l62 0.7 34 -3.3 20 -2.9 10 -1.1 14 -0.7 16 0.2 10 1.1 18 3.4 48 13.9 8 1.5 6 0.3 16 -0.6 24 -2.2 10 -1.4 28 -5.5 46 -4.1 8 -1.5 22 -5.6 6 -1 6 -0.5 82 0 22 0.3 22 0.8 54 3.4 18 0.5 56 -1.8 98 0.1 49.7 -2.3 M89.2 390.0l38 0.1 50 4.5 62 4.5 58 2.6 28 0.9 12 0 4 -0.6 6 -1.5 18 -6.5 6 -3.2 16 -9.6 14 -9.1 6 -2.5 10 -1.6 14 -1.6 14 -0.9 12 -0.2 12 0.3 14 0.8 14 1.6 10 1.6 6 2.6 14 9.1 16 9.5 6 3.2 18 6.6 6 1.4 4 0.6 12 0 30 -0.9 58 -2.6 62 -4.4 54 -4.8 58 0.3 51.7 1.6 M89.2 390.4l34 0.7 26 2.7 52 4.6 8 0.3 12 -0.2 28 -1.6 10 -1.3 20 -4.7 16 -4.9 6 -1.1 18 -1.7 16 -0.6 4 0.7 4 1.3 16 8.2 16 6.8 16 6.1 10 3.3 8 1.9 22 3.9 14 1.6 12 0.5 12 -0.5 12 -1.4 16 -2.6 14 -2.9 12 -3.9 16 -6.1 16 -6.7 16 -8.2 4 -1.3 4 -0.7 16 0.5 20 2 6 1.3 14 4.2 22 5.2 10 1.2 28 1.5 12 0.2 8 -0.3 54 -4.7 22 -2.3 12 -0.6 22 -0.4 28 0.1 26 0.7 23.7 1.1 M89.2 390.7l28 0.2 6 0.9 62 19.3 20 5.2 8 1.5 6 0.2 6 -0.3 16 -2.1 6 -2.2 12 -6.6 4 -1.8 4 -1.2 6 -0.1 40 3.1 58 5.5 44 6.3 54 6.7 46 -1 28 -2 32 -3.5 56 -0.9 34 -2.3 20 -1.8 18 -2.2 14 -2.6 16 -3.5 22 -6 22 -5.3 10 -2.1 8 -1 26 -0.4 26 0.1 55.7 1.9 M89.2 467.0l36 0.9 30 1.3 40 -1 4 -0.4 10 -2.6 14 -5.8 4 -2.6 14 -11.2 6 -3.3 8 -2 10 -2 8 -1 8 -0.3 88 0.2 88 1.4 46 -0.3 30 -0.8 56 0 26 2.1 30 4 12 3.5 22 8.2 8 2.7 20 5.4 12 2.1 42 1.2 76 0.6 30 -1.4 35.7 -3.2 M89.2 467.2l36 1 30 1.5 42 -0.1 6 -0.6 8 -1.6 26 -6.3 22 -6.2 8 -1.7 6 -0.7 70 -0.7 44 -1.8 66 -1.2 118 3 58 2.7 20 1.8 34 5.6 22 3.2 16 1.6 60 0.7 56 0.1 28 -1.3 37.7 -3.1 M89.2 679.4l4 -15.8 4 -13.4 6 -16 6 -13.2 10 -18.1 20 -31.1 24 -40.9 16 -24.8 18 -26.2 4 -4.9 4 -3.4 6 -3.8 6 -2.7 4 -0.9 16 -0.1 26 0.6 14 1.1 16 1.7 44 7 38 7.8 26 4.5 42 6.5 14 0.9 12 -1 24 -5.1 10 -1.7 52 -5.3 20 -2.7 8 -1.5 16 -5.3 10 -1.5 22 -1.7 42 -2 12 0.5 14 2.4 4 1.4 4 2.3 6 4.4 6 5.4 6 6.6 8 10 10 14.5 32 52.4 28 50.7 10 19.7 6 13.1 2 4.9 6 21.3 2 3.3 4 -0.6 4 -2.1 12 -9.1 20 -12.3 33.7 -26.9 M89.2 679.4l12 -20.9 14 -22.8 38 -56.2 14 -22.2 14 -24.6 4 -6.1 4 -5 8 -8.8 8 -7.3 12 -9.2 8 -5.3 6 -3.1 6 -2 12 -2.9 8 -1 4 0 6 0.6 16 3.2 32 8.8 12 2.5 8 0.9 32 1.8 18 0.3 30 -1.4 42 0.7 42 -0.8 38 -2.4 24 -2.1 14 -0.6 14 0.4 16 2 6 1.9 14 6 58 20.9 8 3.5 6 3.4 24 16.7 38 29.3 16 11.5 6 5.6 10 12.6 4 4.5 10 8.9 6 3.6 8 3 10 2.4 28 3 24 4.4 21.7 2.9 M89.2 630.2l8 -0.6 12 -2.5 8 -2.5 6 -3 12 -7.8 16 -13.4 18 -13.9 22 -15.1 40 -25.9 14 -7.2 10 -4.1 14 -3.2 10 -1.2 24 -0.4 24 3 8 0.4 22 -1 26 -2.2 12 -2.7 26 -8.8 6 -2.3 14 -6.4 6 -2.2 6 -1.4 4 -0.3 6 0.7 6 1.8 18 8.1 6 2.1 34 8.6 22 4.6 12 1.8 12 1.1 32 0.5 20 1.1 18 1.7 12 2 20 5.2 24 8.9 10 4.2 6 3.1 8 5.3 26 19.1 12 10.3 8 8.8 34 41.3 12 15.4 10 15.4 2 1.9 2 0.9 4 -0.4 4 -1.2 18 -9.2 16 -5.8 16 -4.4 15.7 -3.2 M89.2 567.5l14 4.9 14 3.3 18 2.3 16 0.6 6 -0.7 6 -1.5 26 -9.8 8 -2.6 22 -5.4 12 -1.9 6 -0.3 12 0.3 30 2.6 8 1.3 16 3.7 8 1.1 12 -0.2 12 -1.7 14 -3 6 -2.3 6 -4.1 16 -13.6 8 -5.3 22 -13.3 28 -14.7 8 -3.7 6 -2 6 -1 4 0 4 0.6 4 1.1 8 3.4 18 9.8 22 10.7 14 8.3 6 4.3 2 1.9 4 5.3 8 12.7 4 5.5 4 3.6 2 0.7 22 -0.1 20 -0.9 10 -1.5 20 -4.5 10 -1.7 6 -0.3 18 0.4 18 1.1 14 1.5 10 2 46 10.7 6 1.1 6 0.5 8 -0.4 8 -1.1 24 -4.9 12 -2 10 -0.8 6 0.2 4 0.7 6 1.7 18 7.2 12 7.6 8 5.7 10 7.8 6 2.4 5.7 1.1"/>
<path stroke="#7ad151" stroke-width="3.8" d="M89.2 162.8l18 -0.5 18 -1.5 12 -2.5 18 -5 14 -5 16 -6.9 26 -14 26 -15.3 12 -5.7 14 -5.6 20 -6.7 14 -3.6 22 -3.2 16 -0.9 12 0.4 14 1 20 1.8 32 4 26 2.3 16 0.7 12 -0.3 16 -1.1 22 -2 30 -3.8 32 -2.6 18 -0.2 18 1.7 14 2.1 10 2.3 20 6.3 12 4.4 20 8.9 26 15.1 18 9.7 10 5 12 5.1 12 4.4 24 6.9 14 2.6 26 1.6 46 0 35.7 -0.7 M89.2 162.8l34 -0.7 28 -1.8 66 -7.4 74 -6 42 -1.9 20 -1.4 26 -2.5 34 -4.7 28 -2.5 16 -0.7 16 0.7 28 2.5 34 4.8 22 2.1 24 1.7 38 1.6 34 2.6 52 4.3 54 6.1 22 1.7 16 0.9 30 0.6 44 -0.2 31.7 -0.6 M89.2 200.5l16 0.6 18 1.4 10 1.6 20 4 28 7 34 10.6 18 5.1 20 4.4 14 2.3 26 1.9 40 1 42 1.8 66 4.7 16 0.6 16 -0.6 66 -4.7 42 -1.8 42 -1 16 -1 12 -1.3 14 -2.4 20 -4.5 20 -5.7 28 -8.6 22 -5.7 28 -5.9 14 -2 24 -1.6 18 -0.1 36 1 27.7 1.9 M89.2 325.5l30 -1.8 26 -2.2 66 -7.2 58 -5 12 -1.5 34 -5.4 10 -1 8 -0.4 26 0.7 68 5.1 30 1 30 -1 70 -5 18 -0.5 14 0.3 20 1.8 48 6.5 70 6.3 60 7 18 1.4 16 0.8 20 -0.3 20 -2 16 -2.8 25.7 -6.3 M89.2 364.3l18 -1 22 -2 24 -2.8 18 -3.2 48 -11 54 -14.8 32 -9.6 10 -2.4 10 -1.6 10 -0.5 62 1.1 116 0 30 -0.4 28 -2 10 -0.3 6 0.3 8 1.3 10 2.3 10 2.8 8 3.9 20 12.1 26 12.9 12 4.7 12 3.3 10 2.2 20 2.9 10 0.8 28 -0.8 78 -0.4 32 1.4 31.7 2.9 M89.2 362.0l62 1 34 -3.4 30 -3.9 14 -0.7 18 0.1 10 1.2 16 2.9 48 13.4 8 1.4 6 0.3 16 -0.6 24 -2.1 10 -1.5 28 -5.3 46 -4 8 -1.5 22 -5.4 6 -1 6 -0.4 84 0 20 0.3 20 0.6 52 3.1 22 0.7 56 -1.7 98 0.1 49.7 -2.8 M89.2 389.4l38 0.1 50 4.4 64 4.7 56 2.6 28 0.9 12 0 10 -2.1 18 -6.4 6 -3.2 16 -9.5 12 -7.9 4 -2.1 4 -1.5 10 -1.6 14 -1.5 14 -0.9 12 -0.3 12 0.3 14 0.9 14 1.5 10 1.6 6 2.5 14 9.1 16 9.5 6 3.1 18 6.5 6 1.4 4 0.6 12 0 30 -0.9 56 -2.6 64 -4.7 54 -4.5 58 0.2 51.7 1.6 M89.2 389.9l34 0.8 78 7.4 8 0.3 12 -0.1 20 -1.1 14 -1.2 14 -2.8 30 -8.3 20 -2 16 -0.6 4 0.6 4 1.4 16 8 18 7.5 16 5.9 10 3.1 14 2.9 16 2.6 12 1.3 12 0.6 12 -0.6 12 -1.3 16 -2.6 14 -2.9 10 -3.1 16 -6 18 -7.5 16 -8 4 -1.3 4 -0.6 16 0.5 20 2 6 1.4 12 3.6 12 3.1 14 3 14 1.2 22 1.2 12 0.1 8 -0.3 54 -4.9 20 -2.1 12 -0.7 24 -0.5 26 0.1 26 0.6 25.7 1.1 M89.2 390.3l28 0.3 6 0.8 62 19.1 20 5.2 8 1.5 12 -0.1 16 -2 6 -2.1 12 -6.4 4 -1.8 4 -1.1 6 -0.1 40 3.1 58 5.5 46 6.6 52 6.3 44 -0.9 30 -2.2 32 -3.5 56 -1.1 34 -2.3 20 -1.8 18 -2.2 14 -2.5 16 -3.5 22 -6 22 -5.3 10 -2 8 -1 26 -0.5 26 0.1 55.7 1.9 M89.2 466.2l36 0.9 28 1.1 42 -1.2 4 -0.4 10 -2.6 14 -5.7 4 -2.6 14 -10.9 6 -3.3 8 -2 10 -1.9 8 -0.9 8 -0.4 88 0.2 88 1.8 46 -0.4 30 -1 56 0 26 2.2 30 4 12 3.4 30 10.7 20 5.4 12 2.1 42 1.2 76 0.6 30 -1.4 35.7 -3.1 M89.2 466.4l36 1 30 1.5 42 -0.2 6 -0.6 8 -1.5 26 -6.2 24 -6.6 12 -1.9 70 -0.8 44 -1.7 66 -0.9 16 0.1 34 1.2 66 1.2 58 2.7 22 2 34 5.5 22 3.2 16 1.5 60 0.7 56 0.1 28 -1.2 37.7 -3.1 M89.2 679.4l4 -15.7 4 -13.3 6 -16 6 -13.1 10 -18.2 22 -34.4 22 -37.6 16 -24.8 18 -26.2 4 -5 4 -3.4 6 -3.9 6 -2.7 4 -0.8 16 -0.2 26 0.5 14 1 16 1.7 44 6.8 38 7.6 26 4.4 42 6.3 14 1 12 -1.1 24 -5 10 -1.6 52 -5.2 20 -2.6 8 -1.5 16 -5.1 10 -1.5 22 -1.6 42 -1.7 12 0.6 14 2.6 6 2.4 8 5.7 6 5.5 8 9 12 15.8 24 38.4 20 34.2 18 32.6 10 19.4 6 12.6 4 9.5 6 21.2 2 3.3 4 -0.6 4 -2.1 12 -9.1 20 -12.3 33.7 -26.9 M89.2 679.4l12 -20.7 12 -19.6 8 -12.4 18 -25.8 16 -24.1 12 -19.1 14 -24.6 4 -6.1 4 -5.1 8 -8.8 8 -7.4 12 -9.2 8 -5.4 6 -3.1 6 -2 12 -3 8 -1 4 -0.1 6 0.6 16 3.1 32 8.6 12 2.5 8 0.8 32 1.8 18 0.4 30 -1.3 42 0.8 40 -0.8 18 -1 46 -3.7 14 -0.6 14 0.4 16 2.1 6 1.9 14 6.1 58 21.2 8 3.6 6 3.4 22 15.3 40 30.7 16 11.4 6 5.6 10 12.7 4 4.4 8 7.3 6 4.2 10 3.9 10 2.4 28 3 24 4.4 21.7 2.9 M89.2 630.2l8 -0.6 12 -2.5 8 -2.5 6 -3.1 12 -7.8 16 -13.5 18 -14 20 -13.8 42 -27.2 14 -7.3 10 -4.1 14 -3.3 10 -1.2 24 -0.5 24 2.9 8 0.4 22 -1.1 26 -2.3 12 -2.8 26 -8.5 20 -8.3 6 -2.1 6 -1.4 4 -0.2 6 0.6 6 1.8 18 7.6 6 2.1 36 9 22 4.4 12 1.7 10 0.9 32 0.5 18 1 18 1.7 12 1.9 12 2.9 10 2.9 24 9.1 10 4.3 6 3.1 8 5.3 26 19.1 12 10.3 8 8.8 34 41.4 12 15.3 10 15.5 2 1.9 2 0.9 4 -0.4 4 -1.2 18 -9.2 16 -5.8 16 -4.4 15.7 -3.2 M89.2 567.5l14 4.8 14 3.2 18 2.4 16 0.6 6 -0.7 6 -1.6 26 -9.8 8 -2.6 22 -5.4 12 -1.9 6 -0.3 12 0.4 30 2.6 8 1.3 16 3.7 8 1.1 12 -0.2 14 -2 14 -3.1 4 -1.7 6 -4.1 16 -13.4 8 -5.3 22 -13.3 28 -14.8 6 -2.9 6 -2.3 6 -1.4 4 -0.3 4 0.3 4 0.9 8 3.1 20 10.8 22 10.8 14 8.4 6 4.3 2 1.9 4 5.1 8 12.5 4 5.4 4 3.5 2 0.8 24 -0.1 20 -1.2 10 -1.6 22 -4.9 6 -0.9 6 -0.3 24 0.6 24 2.1 12 2.3 46 10.7 10 1.6 8 -0.2 8 -1 26 -5.1 12 -2 10 -0.8 6 0.2 4 0.7 6 1.7 18 7.2 12 7.6 8 5.7 10 7.8 6 2.4 5.7 1.1"/>
<path stroke="#7ad151" stroke-width="3.7" d="M89.2 679.4l8 -15 8 -12.5 6 -7.6 8 -8.1 12 -9.8 14 -9.5 14 -7.9 12 -5.5 8 -2.7 20 -5.4 20 -7.6 18 -6.1 34 -13.4 20 -8.7 6 -2.2 6 -1.6 16 -3.5 14 -2 12 -0.8 38 -0.9 16 -1.3 14 -1.8 12 -2.4 20 -7.6 6 -1.6 4 -0.5 4 0.1 6 1.1 6 1.9 20 8 14 3.4 14 2.9 18 2.2 36 1.9 12 1 12 1.8 22 4.2 14 3.3 16 4.4 32 10.8 12 5.4 6 3.9 12 8.7 8 4.7 22 10.8 18 8 8 4.1 12 7.1 18 11.4 8 5.8 6 5.1 4 5.4 8 13.5 2 2.5 2 1.8 2 0.8 4 -0.4 4 -1.2 18 -9.2 16 -5.8 16 -4.4 15.7 -3.2"/>
<path stroke="#67cc5c" stroke-width="3.8" d="M89.2 161.7l18 -0.6 18 -1.4 12 -2.5 18 -5.1 14 -5 16 -6.9 26 -13.9 26 -15.2 14 -6.5 12 -4.8 20 -6.7 14 -3.6 22 -3.1 16 -0.9 12 0.3 16 1.2 18 1.6 32 4.1 26 2.3 16 0.7 12 -0.2 16 -1.2 22 -2 30 -3.9 30 -2.4 18 -0.5 18 1.6 16 2.3 8 1.8 14 4.1 18 6.3 12 5 10 4.6 26 15 18 9.7 12 5.9 14 5.7 10 3.6 22 6.2 14 2.7 26 1.5 46 0 35.7 -0.7 M89.2 161.7l34 -0.8 28 -1.8 66 -7.3 74 -6 42 -1.9 20 -1.4 26 -2.5 34 -4.7 28 -2.6 16 -0.6 16 0.6 28 2.6 34 4.7 22 2.2 24 1.7 38 1.6 34 2.5 52 4.3 54 6.1 22 1.7 16 0.9 30 0.7 44 -0.2 31.7 -0.7 M89.2 202.5l14 0.5 18 1.3 16 2.5 22 4.5 16 3.9 40 11.6 16 4.2 20 4.2 14 2.2 26 1.7 42 0.8 38 1.6 70 5.2 16 0.5 16 -0.6 70 -5.1 38 -1.6 44 -0.8 26 -1.9 16 -2.5 20 -4.2 18 -4.8 28 -8.2 22 -5.5 28 -5.7 14 -2 24 -1.6 18 -0.1 36 1.1 27.7 2 M89.2 324.6l34 -2.1 34 -3.1 54 -6.2 62 -5.5 42 -6.3 10 -1 8 -0.3 26 0.6 68 4.9 30 1 30 -1 70 -4.7 18 -0.5 14 0.3 20 1.8 46 6.2 72 6.6 56 6.6 20 1.7 18 0.9 20 -0.3 20 -1.9 16 -2.7 25.7 -6.3 M89.2 362.8l20 -1.1 22 -2 24 -2.9 18 -3.2 48 -10.8 50 -13.4 34 -10.1 10 -2.3 10 -1.6 12 -0.5 58 1.3 114 0 34 -0.5 28 -2.1 10 -0.3 6 0.4 8 1.2 10 2.3 10 2.9 8 3.8 20 12 26 12.9 12 4.7 14 3.8 8 1.7 20 2.9 10 0.9 28 -0.9 78 -0.5 16 0.4 16 1 31.7 3.2 M89.2 361.3l50 1.2 12 -0.1 36 -3.5 20 -2.9 10 -1 12 -0.6 18 0.1 10 0.9 16 2.7 48 12.9 8 1.4 8 0.2 16 -0.7 24 -2.2 36 -6.3 46 -3.9 8 -1.5 22 -5.2 6 -1 6 -0.4 84 0 22 0.3 20 0.6 54 3.2 18 0.4 56 -1.7 98 0.1 36 -2.6 13.7 -0.7 M89.2 388.8l38 0 50 4.3 66 5 52 2.5 30 1 12 -0.1 10 -2 18 -6.4 6 -3.1 16 -9.5 12 -7.7 4 -2.1 4 -1.5 10 -1.6 14 -1.5 12 -0.8 14 -0.3 14 0.3 12 0.8 14 1.5 10 1.6 4 1.5 4 2.2 12 7.7 16 9.5 6 3.1 18 6.4 10 1.9 12 0.1 30 -1 54 -2.6 66 -4.8 54 -4.5 58 0.3 51.7 1.6 M89.2 389.4l34 0.8 78 7.6 8 0.3 12 -0.1 24 -1.3 12 -1.2 12 -2.5 30 -8.3 20 -2.2 16 -0.5 4 0.6 4 1.3 16 7.8 18 7.4 16 5.9 10 3.1 14 2.9 16 2.6 12 1.3 12 0.5 12 -0.5 12 -1.3 16 -2.6 14 -3 10 -3.1 16 -5.9 18 -7.3 16 -7.8 4 -1.3 4 -0.6 16 0.5 20 2.1 6 1.3 14 4.2 12 3.1 12 2.4 14 1.3 22 1.1 12 0.1 8 -0.3 74 -7.2 10 -0.6 24 -0.6 26 0.1 28 0.6 25.7 1.1 M89.2 389.9l28 0.3 6 0.8 62 19 20 5.1 8 1.5 12 -0.1 16 -1.9 6 -2.1 12 -6.2 4 -1.6 4 -1.1 6 -0.1 38 3 60 5.7 46 6.5 52 6.2 44 -1.1 30 -2.1 32 -3.6 56 -1.1 34 -2.4 20 -1.8 18 -2.1 14 -2.5 16 -3.5 22 -6 22 -5.3 10 -2 8 -1 26 -0.5 26 0.1 28 0.7 27.7 1.1 M89.2 465.4l36 0.8 28 1.1 46 -1.9 10 -2.7 14 -5.6 4 -2.5 14 -10.7 6 -3.1 18 -3.9 8 -1 8 -0.3 88 0.3 34 0.5 54 1.6 46 -0.5 30 -1.2 56 -0.1 24 2.1 32 4.2 12 3.4 30 10.6 20 5.3 12 2 42 1.3 76 0.5 30 -1.3 35.7 -3.1 M89.2 465.7l36 0.9 30 1.4 42 -0.2 6 -0.6 8 -1.5 26 -6 24 -6.5 12 -1.9 72 -0.9 42 -1.6 24 0.1 42 -0.7 50 1.2 66 1 56 2.6 24 2 54 8.4 10 1.2 8 0.5 60 0.7 56 0.1 28 -1.2 37.7 -3 M89.2 679.4l4 -15.6 4 -13.2 6 -15.9 6 -13.2 10 -18.2 22 -34.4 22 -37.6 16 -24.8 18 -26.2 4 -5.1 4 -3.4 6 -3.9 6 -2.7 4 -0.8 16 -0.4 26 0.5 14 0.9 16 1.6 44 6.6 38 7.4 26 4.4 42 6.1 14 1 12 -1 24 -5 10 -1.5 52 -5.2 20 -2.5 8 -1.5 16 -4.8 10 -1.4 22 -1.5 40 -1.5 14 0.6 12 2.3 4 1.1 4 1.9 8 5.8 4 3.5 6 6.3 8 9.7 6 7.9 6 9 30 48.7 30 53.8 10 19.6 6 13.2 2 4.9 6 21.1 2 3.3 4 -0.6 4 -2.1 12 -9.1 20 -12.3 33.7 -26.9 M89.2 679.4l12 -20.6 12 -19.5 8 -12.3 18 -25.8 16 -24.1 12 -19 14 -24.7 4 -6.1 4 -5.1 8 -8.8 8 -7.4 12 -9.3 8 -5.4 6 -3.1 6 -2.1 12 -3.1 8 -1 4 -0.1 6 0.6 16 2.9 32 8.4 12 2.4 8 0.8 34 2 16 0.2 30 -1.1 44 1 38 -1 18 -1 46 -3.8 14 -0.6 14 0.5 16 2.1 6 1.9 14 6.1 58 21.7 8 3.6 6 3.4 22 15.3 40 30.8 16 11.3 6 5.6 10 12.6 4 4.4 8 7.3 6 4.2 10 3.8 10 2.4 28 3 24 4.4 21.7 2.9 M89.2 630.2l8 -0.6 12 -2.6 8 -2.4 6 -3.2 12 -7.9 16 -13.5 18 -14.1 20 -13.8 42 -27.3 14 -7.3 10 -4.2 14 -3.2 12 -1.4 22 -0.5 24 2.8 8 0.3 20 -1 28 -2.6 12 -2.7 28 -9.1 22 -8.6 6 -1.5 6 -0.6 6 0.7 6 1.6 18 7.2 6 2 36 8.9 22 4.4 12 1.7 10 0.9 32 0.7 18 1 18 1.7 12 2 12 2.9 10 3 22 8.5 10 4.3 8 4.1 8 5.3 26 19.1 12 10.2 8 8.9 34 41.4 12 15.4 10 15.5 2 1.9 2 0.9 4 -0.4 4 -1.2 18 -9.2 16 -5.8 16 -4.4 15.7 -3.2 M89.2 567.5l14 4.7 14 3.2 18 2.4 16 0.6 6 -0.7 6 -1.7 26 -9.8 8 -2.6 22 -5.3 12 -1.9 6 -0.3 12 0.3 30 2.6 8 1.3 16 3.7 8 1.2 12 -0.1 14 -2 14 -3 4 -1.7 6 -4 12 -10.1 6 -4.6 28 -17.2 34 -17.9 8 -2.9 4 -0.8 4 -0.3 4 0.3 4 0.9 8 3.2 20 10.9 22 10.9 14 8.4 6 4.2 2 1.9 4 5.1 8 12.3 4 5.3 4 3.4 2 0.8 24 -0.1 20 -1.2 10 -1.7 22 -4.9 6 -0.8 6 -0.4 24 0.7 24 2.1 10 1.9 48 11 10 1.7 8 -0.2 8 -0.9 26 -5.2 12 -1.9 10 -0.8 6 0.2 4 0.7 6 1.7 18 7.2 12 7.6 8 5.7 10 7.8 6 2.4 5.7 1.1"/>
<path stroke="#54c568" stroke-width="3.8" d="M89.2 160.4l18 -0.5 18 -1.5 10 -2 18 -4.9 14 -4.9 18 -7.6 26 -13.9 26 -15.1 14 -6.5 12 -4.8 20 -6.6 14 -3.6 22 -3.2 16 -0.9 12 0.4 16 1.2 18 1.6 32 4.1 26 2.4 16 0.7 12 -0.2 16 -1.2 22 -2.1 30 -3.9 30 -2.5 18 -0.4 18 1.5 16 2.4 8 1.8 14 4.1 18 6.2 12 5 10 4.7 26 14.9 18 9.6 12 5.8 14 5.8 10 3.6 22 6.2 14 2.6 26 1.6 46 0 35.7 -0.7 M89.2 160.4l34 -0.8 28 -1.8 68 -7.4 72 -5.8 42 -1.9 20 -1.4 26 -2.5 34 -4.7 28 -2.5 16 -0.6 16 0.6 28 2.5 34 4.7 22 2.2 24 1.7 38 1.6 32 2.3 54 4.6 54 6 24 1.8 16 0.8 28 0.6 44 -0.1 31.7 -0.7 M89.2 204.6l14 0.5 18 1.3 14 2 22 4.3 16 3.7 40 10.9 16 4 18 3.5 16 2.5 24 1.5 44 0.6 34 1.3 20 1.2 56 4.5 16 0.6 16 -0.6 56 -4.5 20 -1.2 34 -1.3 46 -0.7 24 -1.5 18 -2.8 18 -3.6 18 -4.5 28 -7.8 22 -5.1 28 -5.4 12 -1.7 24 -1.6 18 -0.1 36 1.2 27.7 2.1 M89.2 323.7l32 -2 34 -3.1 56 -6.5 62 -5.5 42 -6.2 18 -1.3 28 0.7 64 4.5 30 1.1 30 -0.9 72 -4.6 18 -0.4 14 0.2 20 1.9 46 6.1 72 6.8 54 6.4 22 1.8 18 0.9 20 -0.3 20 -1.9 16 -2.6 25.7 -6.3 M89.2 361.2l20 -1 22 -2 24 -2.8 18 -3.1 48 -10.6 50 -13.1 34 -9.9 10 -2.3 10 -1.5 6 -0.5 10 0 56 1.5 110 0 36 -0.6 28 -2.1 10 -0.3 6 0.4 8 1.2 10 2.3 10 2.8 8 3.7 20 11.9 26 12.9 12 4.8 14 3.8 10 2.1 20 2.9 10 0.6 26 -1 28 0 38 -0.7 24 0.4 26 1.7 25.7 3 M89.2 360.6l50 1.4 12 -0.1 36 -3.5 30 -3.9 14 -0.7 18 0.1 10 0.9 14 2.1 48 12.4 8 1.3 8 0.3 16 -0.8 24 -2 36 -6.2 46 -3.8 8 -1.4 22 -5.1 12 -1.4 106 0.4 20 0.5 54 3 18 0.5 56 -1.7 98 0.1 18 -1.3 18 -1.8 13.7 -0.8 M89.2 388.2l38 0 120 9.4 50 2.6 28 0.8 12 0 10 -2 18 -6.3 6 -3.1 16 -9.4 12 -7.7 4 -2.1 4 -1.4 10 -1.6 14 -1.5 12 -0.8 14 -0.3 14 0.3 12 0.8 14 1.5 10 1.6 4 1.5 4 2.1 12 7.6 16 9.5 6 3 18 6.3 10 2 12 0 30 -0.9 48 -2.4 126 -9.6 58 0.3 51.7 1.5 M89.2 388.9l36 0.9 76 7.6 8 0.4 12 -0.2 24 -1.2 12 -1.1 12 -2.5 24 -7 6 -1.4 20 -2.2 16 -0.6 4 0.6 4 1.3 16 7.6 18 7.3 16 5.8 10 3.1 14 2.9 16 2.6 12 1.3 12 0.5 12 -0.5 12 -1.3 16 -2.6 14 -2.9 10 -3.1 16 -5.9 18 -7.2 16 -7.6 4 -1.3 4 -0.6 16 0.6 20 2.1 6 1.3 26 7.4 12 2.4 14 1.2 22 1.1 12 0.1 8 -0.4 74 -7.3 10 -0.6 24 -0.6 26 0.1 28 0.6 25.7 1.1 M89.2 389.4l28 0.4 6 0.8 62 18.8 20 5 8 1.5 12 0 16 -1.8 6 -2 16 -7.6 4 -1 6 -0.1 38 3 60 5.7 48 6.8 50 5.9 44 -1.3 30 -2.2 30 -3.4 58 -1.4 34 -2.4 22 -2 16 -1.9 16 -2.9 14 -3.1 22 -5.9 22 -5.3 10 -2 8 -1 24 -0.5 26 0 28 0.6 29.7 1.3 M89.2 464.6l64 1.6 46 -2.1 10 -2.7 14 -5.5 4 -2.5 14 -10.4 6 -3.1 18 -3.7 8 -1 8 -0.3 88 0.3 34 0.6 54 1.9 46 -0.6 30 -1.4 54 -0.2 24 1.9 34 4.5 12 3.3 30 10.5 20 5.2 12 2.1 40 1.1 76 0.7 30 -1.2 37.7 -3.2 M89.2 464.9l36 0.9 30 1.3 42 -0.2 6 -0.6 8 -1.5 26 -5.9 22 -5.9 12 -2.1 16 -0.6 60 -0.7 42 -1.5 22 0.4 52 -0.6 40 1.1 60 0.5 34 1.2 28 1.6 20 1.6 60 8.9 16 1.5 60 0.7 56 0.1 28 -1.2 37.7 -2.9 M89.2 679.4l4 -15.5 4 -13.1 6 -15.9 6 -13.2 10 -18.2 22 -34.4 24 -40.9 16 -24.5 16 -23.3 4 -5 2 -2 4 -3 6 -3.5 6 -2.2 4 -0.4 16 -0.3 24 0.4 16 1 16 1.5 42 6.2 38 7.2 28 4.6 40 5.7 14 1 12 -1 24 -4.9 10 -1.5 52 -5.1 20 -2.5 8 -1.4 16 -4.6 8 -1.1 22 -1.5 40 -1.4 14 0.6 12 2.1 6 1.7 4 1.9 8 5.9 4 3.5 6 6.3 8 9.7 6 7.9 6 9 30 48.4 30 53.7 10 19.6 6 13.1 2 4.9 6 21.1 2 3.3 4 -0.6 4 -2.1 12 -9.1 20 -12.3 33.7 -26.9 M89.2 679.4l12 -20.5 12 -19.4 10 -15.2 18 -25.7 16 -24.1 10 -15.9 14 -24.8 4 -6.2 4 -5.1 8 -8.8 8 -7.4 12 -9.3 8 -5.5 6 -3.2 6 -2.1 12 -3.1 8 -1.1 4 -0.1 6 0.5 16 2.9 32 8.1 12 2.3 6 0.7 38 2.1 14 0.3 30 -1 36 1.1 20 -0.2 34 -1.3 54 -4.4 14 -0.6 16 0.4 16 2.1 6 1.9 14 6.2 58 22.2 8 3.6 6 3.5 22 15.3 40 30.8 16 11.2 6 5.5 10 12.6 4 4.4 8 7.2 6 4.2 10 3.8 10 2.4 28 3 24 4.4 21.7 2.9 M89.2 630.2l8 -0.6 12 -2.6 8 -2.5 6 -3.1 12 -8 16 -13.6 12 -9.6 10 -7.5 10 -6.9 46 -30.2 16 -8.5 10 -4.2 14 -3.3 12 -1.5 22 -0.6 24 2.7 8 0.3 20 -1.1 28 -2.7 8 -1.7 8 -2.3 26 -8.3 20 -7.3 6 -1.5 6 -0.5 6 0.6 6 1.5 18 6.8 6 1.9 38 9.2 22 4.3 10 1.4 10 0.9 32 0.7 16 1 20 1.9 10 1.7 12 2.9 12 3.5 20 7.9 12 5.3 8 4.1 8 5.3 26 19.1 12 10.2 8 8.9 34 41.5 12 15.4 10 15.5 2 1.9 2 0.9 4 -0.4 4 -1.2 18 -9.2 16 -5.8 16 -4.4 15.7 -3.2 M89.2 567.5l14 4.6 14 3.1 18 2.5 16 0.6 6 -0.8 6 -1.6 26 -9.9 8 -2.6 22 -5.3 12 -1.9 6 -0.3 12 0.4 30 2.6 8 1.3 18 4 8 1 10 -0.2 16 -2.2 12 -2.6 4 -1.7 6 -3.9 14 -11.6 6 -4.2 24 -14.8 30 -16.2 6 -3 6 -2.4 6 -1.4 4 -0.3 4 0.3 4 1 8 3.2 20 11 22 11 14 8.4 8 6.1 4 5 8 12 4 5.2 4 3.4 2 0.8 24 -0.1 20 -1.2 8 -1.3 24 -5.3 6 -0.9 6 -0.3 24 0.6 24 2.2 10 2 50 11.3 8 1.3 8 -0.1 8 -1 26 -5.2 12 -1.8 10 -0.8 6 0.2 4 0.7 6 1.7 18 7.2 12 7.6 8 5.7 10 7.8 6 2.4 5.7 1.1"/>
<path stroke="#54c568" stroke-width="3.7" d="M89.2 679.4l8 -14.9 8 -12.4 6 -7.5 8 -8.1 12 -9.6 14 -9.3 14 -7.7 12 -5.3 8 -2.5 20 -4.9 18 -6.2 18 -5.5 36 -13.9 22 -9.5 6 -1.9 8 -1.9 14 -2.8 14 -1.8 12 -0.5 36 -0.4 16 -1 16 -1.7 10 -1.7 20 -7 6 -1.5 4 -0.4 6 0.4 6 1.3 20 7.5 6 1.9 26 5.2 18 2.1 46 2.5 12 1.7 22 4.3 14 3.2 16 4.3 30 9.2 10 3.5 8 3.6 16 10.2 6 3.3 40 17.5 8 3.9 12 6.8 18 11.4 8 5.5 8 6.7 4 5.4 8 13.4 2 2.5 2 1.8 2 0.8 4 -0.4 4 -1.2 18 -9.2 16 -5.8 16 -4.4 15.7 -3.2"/>
<path stroke="#44bf70" stroke-width="3.8" d="M89.2 159.2l18 -0.6 18 -1.5 10 -2 18 -4.9 14 -4.9 18 -7.6 26 -13.8 26 -15 14 -6.5 12 -4.8 20 -6.6 14 -3.5 22 -3.2 16 -0.9 16 0.6 24 2 38 4.7 26 2.4 16 0.8 12 -0.3 14 -1 24 -2.3 30 -3.9 30 -2.5 18 -0.5 18 1.6 16 2.4 8 1.7 14 4.2 18 6.1 12 5 10 4.6 26 14.8 18 9.6 12 5.8 14 5.8 10 3.6 22 6.2 14 2.7 26 1.5 46 0 35.7 -0.7 M89.2 159.2l34 -0.8 28 -1.9 68 -7.3 72 -5.9 42 -1.9 20 -1.3 26 -2.5 34 -4.7 28 -2.5 16 -0.6 16 0.6 28 2.5 34 4.7 22 2.1 24 1.7 38 1.6 32 2.4 54 4.5 54 6 24 1.8 16 0.8 28 0.7 44 -0.2 31.7 -0.7 M89.2 206.6l30 1.6 14 1.9 24 4.5 14 3 40 10.4 16 3.7 16 2.9 18 2.6 22 1.3 48 0.4 28 1.1 24 1.4 58 4.7 16 0.6 16 -0.6 58 -4.8 24 -1.3 28 -1.1 50 -0.4 22 -1.4 16 -2.2 16 -2.8 16 -3.6 30 -7.9 20 -4.6 30 -5.7 14 -1.9 24 -1.6 18 -0.1 36 1.3 27.7 2.1 M89.2 322.7l32 -2 32 -2.9 58 -6.8 62 -5.7 42 -6 18 -1.3 28 0.7 64 4.4 30 1 30 -0.8 72 -4.5 18 -0.3 14 0.3 20 1.8 46 6.1 72 6.9 54 6.4 22 1.8 18 0.8 20 -0.2 22 -2.1 14 -2.4 25.7 -6.3 M89.2 359.6l20 -1 24 -2.1 22 -2.6 18 -3 50 -10.7 48 -12.3 34 -9.8 10 -2.3 10 -1.5 6 -0.4 10 0 56 1.7 110 0 36 -0.7 28 -2.2 10 -0.3 6 0.4 8 1.2 20 5.1 8 3.7 20 11.7 18 9.2 10 4.6 10 3.9 14 3.9 10 2.1 20 3 10 0.7 26 -1.2 28 0 38 -0.8 24 0.5 26 1.8 25.7 3.2 M89.2 359.9l50 1.6 12 0 18 -2 20 -1.7 28 -3.8 12 -0.7 20 -0.2 10 0.8 14 1.8 48 11.8 8 1.3 8 0.2 16 -0.7 24 -2 36 -6 46 -3.6 8 -1.4 22 -4.9 12 -1.3 108 0.3 18 0.5 54 2.8 20 0.4 54 -1.6 98 0.2 18 -1.5 18 -2.1 13.7 -0.9 M89.2 387.6l40 0 126 9.8 42 2.2 28 0.8 12 0 10 -1.9 18 -6.3 6 -3 16 -9.4 12 -7.5 4 -2.1 4 -1.5 10 -1.5 14 -1.5 12 -0.8 14 -0.3 14 0.3 12 0.8 14 1.5 10 1.6 4 1.4 4 2.1 12 7.6 16 9.4 6 3 18 6.2 10 1.9 12 0 28 -0.8 44 -2.2 132 -10 60 0.4 49.7 1.5 M89.2 388.4l36 0.9 76 7.8 8 0.4 12 -0.2 24 -1.1 12 -1.2 12 -2.5 24 -7 6 -1.4 20 -2.2 16 -0.6 4 0.6 4 1.2 16 7.4 18 7.1 16 5.8 10 3.1 16 3.3 14 2.2 12 1.3 12 0.5 12 -0.5 12 -1.3 16 -2.6 14 -2.9 10 -3.1 16 -5.8 18 -7.1 16 -7.4 4 -1.3 4 -0.5 16 0.6 20 2.1 6 1.4 26 7.3 12 2.4 14 1.2 22 1 12 0.2 8 -0.4 72 -7.3 10 -0.8 24 -0.6 26 0.1 28 0.5 27.7 1.1 M89.2 389.0l28 0.4 6 0.8 62 18.6 20 5 8 1.4 12 0 16 -1.7 6 -1.9 16 -7.3 4 -0.9 6 -0.1 38 3.1 60 5.7 48 6.7 46 5.6 4 0.2 44 -1.4 30 -2.3 30 -3.3 58 -1.6 34 -2.4 22 -2 16 -1.9 16 -2.9 14 -3 22 -6 22 -5.2 10 -2 8 -1 26 -0.6 24 0.1 28 0.6 29.7 1.2 M89.2 463.7l64 1.5 46 -2.5 10 -2.6 14 -5.4 4 -2.5 14 -10.1 6 -3 18 -3.7 8 -1 8 -0.3 88 0.4 34 0.7 54 2.1 46 -0.6 30 -1.6 54 -0.3 22 1.8 36 4.7 12 3.3 30 10.2 20 5.2 12 2 40 1.2 76 0.7 30 -1.2 37.7 -3.2 M89.2 464.1l36 0.8 30 1.3 42 -0.3 6 -0.6 8 -1.4 26 -5.7 24 -6.3 10 -1.7 30 -0.9 48 -0.6 38 -1.2 24 0.5 52 -0.4 40 0.9 58 0.3 34 1.1 30 1.7 20 1.6 58 8.5 10 1.2 8 0.5 60 0.8 56 0.1 28 -1.2 37.7 -2.9 M89.2 679.4l4 -15.3 4 -13.1 6 -15.8 6 -13.2 10 -18.3 22 -34.4 24 -40.8 16 -24.6 16 -23.3 4 -5.1 2 -2 4 -3 6 -3.5 6 -2.2 4 -0.5 14 -0.3 26 0.3 16 0.8 16 1.5 42 5.9 38 7.1 28 4.5 40 5.6 14 0.9 12 -1 24 -4.7 10 -1.5 52 -5 20 -2.4 8 -1.4 16 -4.4 8 -1 22 -1.4 38 -1.1 14 0.4 12 2.1 8 2.2 4 2 8 5.9 4 3.5 6 6.4 8 9.6 6 7.9 6 8.9 28 44.9 12 20.8 20 36.1 10 19.6 6 13.1 2 4.9 6 21 2 3.3 4 -0.6 4 -2.1 12 -9.1 20 -12.3 33.7 -26.9 M89.2 679.4l12 -20.3 12 -19.3 8 -12.2 18 -25.7 16 -23.9 12 -19 16 -28 4 -5.7 4 -4.8 8 -8.5 8 -7.1 12 -9.2 8 -5.2 6 -2.9 10 -3 8 -1.9 8 -0.8 8 0.4 16 2.8 30 7.4 14 2.7 46 2.9 14 0.2 28 -0.8 36 1.2 18 -0.1 36 -1.6 52 -4.3 16 -0.7 16 0.4 16 2.2 6 1.9 14 6.3 58 22.6 8 3.7 6 3.4 22 15.4 38 29.3 20 14.2 4 3.9 10 12.5 4 4.4 8 7.2 6 4.2 10 3.8 10 2.3 28 3 24 4.4 21.7 2.9 M89.2 630.2l10 -0.9 10 -2.3 8 -2.5 6 -3.2 12 -8.1 16 -13.7 10 -8 10 -7.7 10 -7 48 -31.6 16 -8.6 10 -4.2 14 -3.4 12 -1.4 22 -0.8 24 2.6 8 0.3 16 -0.9 30 -2.9 8 -1.4 8 -2.2 28 -8.7 20 -6.8 6 -1.3 6 -0.5 6 0.5 6 1.4 24 8.2 38 9 22 4.3 20 2.4 32 0.8 16 1 20 2 10 1.7 12 3 12 3.6 30 12.5 10 5.2 8 5.3 26 19 12 10.3 8 8.9 34 41.5 12 15.5 10 15.5 2 1.9 2 0.9 4 -0.4 4 -1.2 18 -9.2 16 -5.8 16 -4.4 15.7 -3.2 M89.2 567.5l14 4.5 14 3.1 18 2.4 16 0.8 6 -0.9 6 -1.7 26 -9.9 8 -2.5 20 -4.9 14 -2.3 6 -0.3 12 0.3 30 2.6 8 1.3 18 4.1 8 1 10 -0.1 16 -2.2 12 -2.5 6 -2.8 6 -4.2 10 -8.3 6 -4.5 26 -16.1 32 -17.5 10 -4.3 6 -1.5 4 -0.3 4 0.4 4 0.9 8 3.2 20 11.3 24 12.1 12 7.3 8 6 4 5 8 11.8 4 5.1 4 3.3 2 0.7 24 0 20 -1.3 8 -1.3 24 -5.3 6 -0.8 6 -0.4 26 0.8 22 2.1 10 2 50 11.3 8 1.4 8 -0.2 8 -1 24 -4.8 12 -1.9 10 -0.9 8 0.1 4 0.7 6 1.7 18 7.2 12 7.6 8 5.7 10 7.8 6 2.4 5.7 1.1"/>
<path stroke="#35b779" stroke-width="3.8" d="M89.2 157.8l18 -0.5 18 -1.5 10 -2 18 -4.9 14 -4.9 18 -7.7 26 -13.7 26 -14.9 14 -6.4 12 -4.8 20 -6.6 14 -3.5 22 -3.2 16 -0.9 16 0.6 24 2 38 4.8 26 2.4 16 0.8 12 -0.2 14 -1.1 24 -2.4 30 -3.9 30 -2.5 18 -0.5 18 1.6 16 2.4 8 1.7 14 4.1 18 6.2 22 9.6 26 14.7 18 9.5 12 5.8 14 5.7 10 3.6 24 6.7 8 1.7 6 0.7 26 1.5 46 -0.1 33.7 -0.7 M89.2 157.8l34 -0.8 28 -1.8 70 -7.5 72 -5.8 40 -1.8 20 -1.3 26 -2.5 34 -4.6 28 -2.6 16 -0.6 16 0.6 28 2.6 34 4.6 22 2.1 24 1.7 38 1.6 32 2.4 52 4.4 56 6.1 24 1.8 16 0.8 28 0.6 44 -0.1 31.7 -0.7 M89.2 208.6l30 1.7 14 1.8 36 6.8 54 12.8 16 2.8 20 2.7 20 1.1 50 0 24 0.9 28 1.6 60 5 16 0.7 16 -0.7 60 -5.1 28 -1.5 24 -0.9 50 0 12 -0.4 10 -0.8 20 -2.6 16 -2.8 14 -3 30 -7.4 24 -5 28 -4.9 16 -1.6 20 -1.2 20 0.2 32 1.4 25.7 2.1 M89.2 321.7l32 -2 30 -2.8 60 -7.2 64 -5.8 42 -5.9 16 -1 28 0.6 64 4.2 30 0.9 30 -0.7 70 -4.1 20 -0.5 14 0.4 20 1.8 46 6 72 7 54 6.5 22 1.7 18 0.8 20 -0.2 22 -2 14 -2.3 25.7 -6.3 M89.2 357.9l20 -1 24 -2 22 -2.5 18 -2.9 50 -10.4 40 -9.9 42 -11.7 12 -2.6 10 -1.4 16 -0.1 54 1.9 108 0 38 -0.8 28 -2.2 10 -0.4 6 0.4 8 1.2 20 5 8 3.7 20 11.6 28 13.8 10 3.9 14 3.9 10 2.2 20 3.1 10 0.7 26 -1.2 28 0 38 -0.8 24 0.4 26 2 25.7 3.3 M89.2 359.4l50 1.6 12 0.1 18 -2.1 20 -1.6 30 -4.1 12 -0.7 20 -0.2 10 0.7 12 1.4 30 6.7 18 4.5 8 1.2 8 0.3 16 -0.7 24 -2 36 -5.8 46 -3.5 8 -1.3 22 -4.8 12 -1.2 110 0.3 18 0.5 52 2.6 20 0.4 54 -1.6 98 0.2 18 -1.7 18 -2.4 13.7 -1 M89.2 386.9l40 0 130 10.1 40 2.1 38 0.7 10 -1.9 18 -6.1 6 -3 28 -16.8 4 -2 4 -1.5 10 -1.6 14 -1.4 12 -0.8 14 -0.3 14 0.3 12 0.8 14 1.5 10 1.5 4 1.5 4 2.1 28 16.7 6 3 18 6.1 10 1.9 40 -0.8 38 -1.9 136 -10.3 60 0.3 51.7 1.5 M89.2 387.8l36 0.9 76 8 8 0.4 12 -0.1 24 -1.1 12 -1.1 12 -2.5 24 -7.1 6 -1.4 20 -2.3 16 -0.6 4 0.6 4 1.2 16 7.2 20 7.7 14 5 10 3.1 16 3.3 14 2.2 12 1.3 12 0.5 12 -0.5 12 -1.3 14 -2.3 16 -3.3 10 -3 14 -5 20 -7.7 16 -7.3 4 -1.2 4 -0.5 16 0.6 20 2.2 6 1.4 26 7.4 10 2.1 10 1 28 1.4 12 0.1 8 -0.4 70 -7.3 12 -0.9 24 -0.6 26 0 28 0.5 27.7 1.1 M89.2 388.5l28 0.5 6 0.8 62 18.3 20 5 8 1.4 12 0 16 -1.6 6 -1.8 16 -7 4 -0.9 6 0 38 3.1 60 5.7 50 6.9 44 5.3 4 0.2 44 -1.6 30 -2.2 30 -3.4 58 -1.7 34 -2.4 24 -2.3 16 -2 16 -2.8 12 -2.7 22 -5.9 20 -4.8 12 -2.4 8 -1 26 -0.7 24 0.1 28 0.6 29.7 1.2 M89.2 462.8l64 1.3 46 -2.8 10 -2.6 14 -5.3 4 -2.4 14 -9.9 6 -2.9 10 -2.3 10 -1.6 8 -0.8 8 -0.2 58 0 30 0.4 32 0.9 54 2.4 46 -0.7 30 -1.9 54 -0.3 22 1.9 36 4.7 12 3.2 30 10.1 20 5.1 12 2 40 1.2 76 0.7 30 -1.2 37.7 -3.1 M89.2 463.2l36 0.8 30 1.2 42 -0.3 6 -0.6 8 -1.4 26 -5.5 24 -6.2 10 -1.7 16 -0.7 60 -0.8 40 -1.2 24 0.7 48 -0.3 44 0.8 52 -0.1 38 1.1 30 1.7 20 1.6 60 8.6 18 1.6 60 0.8 56 0.1 28 -1.1 37.7 -2.8 M89.2 679.4l6 -22.1 4 -11.7 6 -14.8 6 -12.5 8 -14.4 22 -34.4 24 -40.8 16 -24.6 16 -23.3 4 -5.1 2 -2 4 -3.1 6 -3.5 6 -2.2 4 -0.5 14 -0.5 26 0.2 16 0.8 16 1.4 42 5.7 40 7.2 28 4.3 38 5.2 14 0.9 12 -1 24 -4.5 10 -1.5 54 -5.1 18 -2.2 8 -1.3 16 -4.1 6 -0.8 24 -1.5 36 -0.9 16 0.6 10 1.7 8 2.1 4 1.6 4 2.5 8 6.3 6 6 6 6.9 8 10.1 6 8.5 28 44.4 12 20.6 22 39.6 10 19.5 6 13.1 2 4.8 6 21 2 3.3 4 -0.6 4 -2.1 12 -9.1 20 -12.3 33.7 -26.9 M89.2 679.4l12 -20.2 12 -19.2 42 -61.6 12 -18.9 16 -28.1 4 -5.7 4 -4.9 8 -8.5 8 -7.2 12 -9.2 8 -5.2 6 -2.9 10 -3.2 8 -1.8 8 -0.9 8 0.3 16 2.7 30 7.2 14 2.6 48 3 12 0.1 28 -0.7 34 1.4 18 -0.1 38 -1.7 52 -4.4 16 -0.8 16 0.5 16 2.2 6 1.9 14 6.4 58 23.1 8 3.7 6 3.5 20 13.9 40 30.8 20 14 4 3.9 10 12.5 4 4.4 8 7.2 6 4.2 10 3.7 10 2.3 28 3 24 4.4 21.7 2.9 M89.2 630.2l8 -0.6 8 -1.6 10 -2.7 6 -2.9 12 -7.8 28 -23.4 10 -7.7 10 -7 48 -31.7 16 -8.6 10 -4.3 14 -3.4 12 -1.5 22 -0.9 24 2.5 8 0.2 16 -0.9 30 -3.1 6 -1 8 -2 50 -15.3 8 -1.5 6 -0.1 4 0.4 6 1.3 24 7.6 38 8.9 24 4.7 10 1.3 10 0.9 28 0.7 16 0.9 18 1.8 12 1.8 10 2.4 14 4.1 12 4.7 18 7.9 10 5 8 5.1 28 20.4 12 10.3 8 8.9 34 41.6 12 15.4 10 15.6 2 1.9 2 0.9 4 -0.4 4 -1.2 18 -9.2 16 -5.8 16 -4.4 15.7 -3.2 M89.2 567.5l14 4.4 14 3 18 2.5 16 0.8 6 -0.9 6 -1.8 24 -9.1 10 -3.3 20 -4.9 14 -2.3 6 -0.3 12 0.4 30 2.6 8 1.3 18 4 8 1 12 -0.2 16 -2.3 10 -2 6 -2.7 6 -4.2 16 -12.6 26 -16.1 32 -17.7 10 -4.4 6 -1.5 4 -0.3 4 0.4 4 0.9 8 3.3 20 11.4 24 12.3 12 7.2 8 6 4 4.9 8 11.5 4 5 4 3.3 2 0.7 24 0 18 -1.1 10 -1.5 24 -5.3 6 -0.9 6 -0.3 26 0.7 22 2.2 62 13.7 6 1 8 -0.2 8 -1 24 -4.7 12 -1.9 10 -0.9 8 0.1 4 0.7 6 1.7 18 7.2 12 7.6 8 5.7 10 7.8 6 2.4 5.7 1.1"/>
<path stroke="#35b779" stroke-width="3.7" d="M89.2 679.4l8 -14.8 6 -9.4 8 -10.3 8 -8 12 -9.4 14 -9.3 12 -6.4 12 -5.3 10 -3 20 -4.4 36 -10.4 12 -4.2 24 -9.6 22 -9.4 6 -1.9 10 -2.2 14 -2.6 14 -1.5 12 -0.3 36 0.1 16 -0.7 16 -1.4 10 -1.7 20 -6.4 8 -1.1 6 0.4 6 1.3 20 7 6 1.8 24 4.5 18 2 46 2.3 8 0.9 10 1.8 20 4.1 14 3.3 56 15.9 8 3.5 18 9.9 38 15.3 10 4.4 12 6.6 18 11.2 10 6.8 8 6.8 4 5.3 8 13.4 2 2.5 2 1.8 2 0.8 4 -0.4 4 -1.2 18 -9.2 16 -5.8 16 -4.4 15.7 -3.2"/>
<path stroke="#2ab07f" stroke-width="3.8" d="M89.2 156.5l18 -0.6 18 -1.4 10 -2.1 18 -4.9 14 -4.9 18 -7.7 26 -13.6 26 -14.8 14 -6.4 12 -4.7 20 -6.6 14 -3.5 22 -3.2 16 -1 16 0.7 24 2 38 4.8 26 2.5 16 0.8 12 -0.3 14 -1 24 -2.4 30 -4 30 -2.6 18 -0.4 18 1.6 16 2.4 8 1.7 16 4.7 16 5.6 22 9.5 26 14.5 18 9.5 12 5.8 14 5.7 10 3.7 24 6.7 8 1.6 6 0.8 26 1.4 46 -0.1 33.7 -0.7 M89.2 156.5l34 -0.9 28 -1.8 72 -7.6 70 -5.7 40 -1.7 20 -1.4 26 -2.4 34 -4.6 28 -2.6 16 -0.6 16 0.6 28 2.6 34 4.6 22 2.1 24 1.7 38 1.5 32 2.5 52 4.3 56 6.1 24 1.8 16 0.8 28 0.7 44 -0.2 31.7 -0.7 M89.2 210.6l26 1.4 16 1.8 38 6.9 52 11.6 16 2.6 20 2.3 20 1 50 -0.4 22 0.7 32 1.8 60 5.3 16 0.6 16 -0.6 60 -5.3 30 -1.7 24 -0.8 52 0.4 10 -0.3 12 -0.9 18 -2.2 16 -2.5 52 -11.5 36 -6.5 12 -1.7 16 -1.2 16 -0.8 22 0.4 30 1.5 23.7 2 M89.2 320.7l28 -1.7 24 -2.2 26 -2.8 44 -5.5 64 -5.9 40 -5.5 18 -1.3 28 0.6 64 4 30 0.9 30 -0.7 70 -3.9 20 -0.3 14 0.3 20 1.8 48 6.2 74 7.4 48 5.8 22 1.8 20 0.9 22 -0.3 22 -2.1 12 -2 25.7 -6.3 M89.2 356.1l20 -0.9 24 -2 22 -2.4 18 -2.8 52 -10.5 38 -9.1 42 -11.6 12 -2.6 10 -1.2 16 -0.2 54 2.2 106 0 40 -0.9 26 -2.2 12 -0.5 6 0.4 8 1.2 20 5 8 3.6 18 10.4 18 9.2 10 4.8 10 4.2 20 5.6 20 3.6 8 1.1 8 0.5 26 -1.2 30 -0.1 34 -0.9 20 0.3 12 0.5 18 1.5 27.7 3.7 M89.2 358.8l50 1.8 12 0.1 18 -2.1 20 -1.6 30 -4.2 12 -0.8 22 -0.4 20 1.6 28 5.8 22 5.2 8 0.9 6 0.1 16 -0.7 22 -1.7 10 -1.3 28 -4.5 46 -3.3 8 -1.3 22 -4.6 10 -1.1 88 -0.1 28 0.4 64 2.7 18 0.5 60 -1.6 94 0.3 20 -2 18 -2.6 13.7 -1.2 M89.2 386.3l32 -0.3 10 0.3 78 5.8 28 2.6 26 1.9 36 1.9 38 0.6 6 -0.8 6 -1.6 16 -5.4 6 -3 28 -16.6 4 -2 4 -1.4 10 -1.6 14 -1.4 12 -0.8 14 -0.3 14 0.3 12 0.8 14 1.4 10 1.6 4 1.4 4 2.1 28 16.6 6 2.9 16 5.5 6 1.5 6 0.8 38 -0.6 36 -1.9 26 -1.8 30 -2.7 84 -6 62 0.4 49.7 1.3 M89.2 387.3l36 0.9 56 5.7 20 2.5 8 0.4 12 -0.2 24 -1 12 -1.1 10 -2 26 -7.6 6 -1.4 20 -2.3 16 -0.7 4 0.6 4 1.1 16 7.1 20 7.5 14 5 10 3 14 2.9 14 2.3 14 1.6 12 0.5 12 -0.5 14 -1.6 14 -2.3 14 -2.9 10 -3 14 -5 20 -7.6 16 -7 4 -1.2 4 -0.5 16 0.7 20 2.3 6 1.3 26 7.4 10 2.2 10 0.9 28 1.3 12 0.2 8 -0.4 44 -4.9 38 -3.6 24 -0.6 26 0 28 0.5 27.7 1.1 M89.2 388.0l28 0.5 6 0.8 62 18.2 20 4.8 8 1.4 12 0.1 16 -1.5 6 -1.7 16 -6.6 4 -0.9 6 0 38 3.1 60 5.7 52 7.2 42 4.9 4 0.2 44 -1.7 30 -2.3 30 -3.4 58 -1.8 34 -2.5 24 -2.2 16 -2 16 -2.8 12 -2.7 22 -5.9 20 -4.7 12 -2.4 8 -1 26 -0.7 24 0 28 0.6 29.7 1.2 M89.2 461.9l64 1.1 46 -3.1 10 -2.6 14 -5.3 4 -2.3 14 -9.6 6 -2.8 10 -2.2 10 -1.7 8 -0.7 8 -0.2 58 0 30 0.5 32 0.9 54 2.7 46 -0.8 30 -2.1 54 -0.4 20 1.7 38 5.1 12 3.1 30 9.9 20 5 12 2 40 1.2 76 0.7 32 -1.2 35.7 -3 M89.2 462.3l36 0.7 30 1.2 42 -0.3 6 -0.6 8 -1.4 26 -5.4 24 -6 12 -1.9 112 -2.5 26 0.9 50 -0.1 42 0.6 48 -0.3 40 0.9 32 1.8 20 1.6 60 8.5 18 1.6 60 0.8 56 0.1 28 -1.1 37.7 -2.7 M89.2 679.4l6 -21.9 4 -11.7 6 -14.8 6 -12.5 8 -14.3 22 -34.5 26 -44 14 -21.4 16 -23.3 4 -5.1 2 -2.1 4 -3.1 6 -3.5 6 -2.2 6 -0.7 14 -0.4 26 0.1 16 0.8 16 1.4 40 5.2 38 6.7 28 4.3 38 5.1 14 1 6 -0.1 8 -0.8 24 -4.4 10 -1.5 54 -5 18 -2.1 8 -1.2 16 -3.9 6 -0.8 24 -1.3 36 -0.7 16 0.7 10 1.9 8 2.2 4 1.7 4 2.5 8 6.4 6 6 8 9.3 8 10.3 6 8.9 26 41.1 12 20.6 22 39.4 10 19.5 6 13 2 4.9 6 21 2 3.2 4 -0.6 4 -2.1 12 -9.1 20 -12.3 33.7 -26.9 M89.2 679.4l14 -23.3 14 -22 24 -34.4 18 -26.9 8 -12.8 16 -28.2 4 -5.8 4 -4.8 8 -8.5 8 -7.3 12 -9.2 8 -5.3 6 -3 10 -3.2 8 -1.9 8 -1 8 0.4 16 2.4 30 7 14 2.5 50 3.1 38 -0.4 34 1.5 16 0 38 -1.9 54 -4.6 16 -0.7 16 0.5 16 2.2 6 2 14 6.4 22 8.7 36 14.9 8 3.8 6 3.5 22 15.4 40 30.8 18 12.4 4 3.9 10 12.4 4 4.5 8 7.1 6 4.1 10 3.7 10 2.3 28 3 24 4.4 21.7 2.9 M89.2 630.2l8 -0.6 8 -1.6 10 -2.7 6 -2.9 12 -7.9 28 -23.6 10 -7.7 10 -7.1 48 -31.7 16 -8.7 10 -4.3 16 -3.9 6 -0.8 10 -0.7 16 -0.6 24 2.3 8 0.3 14 -0.9 32 -3.4 12 -2.5 50 -14.6 8 -1.5 8 -0.4 10 1.6 22 6.6 36 8.3 30 5.8 18 2 28 0.7 16 1 18 1.9 12 1.9 10 2.4 14 4.3 10 3.9 18 8 12 6.1 8 5.1 28 20.4 12 10.2 8 9 34 41.6 12 15.5 10 15.6 2 1.9 2 0.9 4 -0.4 4 -1.2 18 -9.2 16 -5.8 16 -4.4 15.7 -3.2 M89.2 567.5l14 4.3 14 3 18 2.5 16 0.8 4 -0.5 6 -1.6 26 -9.9 10 -3.2 20 -4.9 14 -2.3 6 -0.2 12 0.3 30 2.6 8 1.3 18 4 8 1.1 12 -0.1 18 -2.6 8 -1.6 6 -2.7 6 -4.1 16 -12.4 28 -17.3 30 -16.7 10 -4.4 6 -1.5 4 -0.4 4 0.4 4 1 8 3.3 20 11.5 24 12.4 12 7.3 8 5.9 4 4.8 8 11.3 4 4.9 4 3.2 2 0.7 24 0 18 -1.2 10 -1.5 24 -5.3 6 -0.8 6 -0.4 26 0.7 22 2.3 62 13.7 6 1 6 0 8 -0.9 26 -5 12 -1.8 10 -0.9 8 0.1 4 0.7 6 1.7 18 7.2 12 7.6 8 5.7 10 7.8 6 2.4 5.7 1.1"/>
<path stroke="#22a884" stroke-width="3.8" d="M89.2 155.1l18 -0.6 18 -1.5 10 -2 18 -4.9 14 -5 18 -7.6 26 -13.6 26 -14.7 14 -6.3 12 -4.7 20 -6.6 14 -3.5 22 -3.2 16 -0.9 16 0.6 24 2 38 4.9 26 2.6 16 0.8 12 -0.3 14 -1.1 24 -2.4 30 -4.1 30 -2.5 18 -0.5 18 1.6 16 2.4 8 1.7 16 4.8 16 5.5 22 9.4 26 14.5 18 9.4 12 5.7 14 5.8 10 3.6 24 6.7 8 1.7 6 0.8 26 1.4 46 -0.1 33.7 -0.7 M89.2 155.1l34 -0.9 28 -1.8 74 -7.7 68 -5.6 40 -1.7 20 -1.4 26 -2.4 34 -4.6 28 -2.5 16 -0.6 16 0.6 28 2.5 34 4.6 22 2.1 24 1.7 38 1.5 30 2.3 54 4.6 54 5.8 26 2 16 0.8 28 0.7 44 -0.2 31.7 -0.7 M89.2 212.6l22 1.1 18 1.8 38 6.5 50 10.6 16 2.4 20 2.1 20 1 54 -0.8 20 0.6 32 1.8 60 5.5 18 0.8 18 -0.9 60 -5.4 32 -1.8 20 -0.6 54 0.9 12 -0.4 12 -0.9 18 -1.9 16 -2.4 50 -10.4 36 -6.2 10 -1.3 18 -1.4 16 -0.7 20 0.4 30 1.6 23.7 2.1 M89.2 319.7l24 -1.5 22 -1.9 30 -3.2 46 -5.9 64 -6 42 -5.5 16 -1 28 0.5 64 3.8 30 0.9 30 -0.7 70 -3.6 18 -0.3 14 0.2 20 1.7 46 5.9 74 7.5 52 6.3 20 1.7 20 0.9 22 -0.1 24 -2.2 12 -2 25.7 -6.3 M89.2 354.3l22 -1 24 -2 22 -2.4 18 -2.8 52 -10.2 36 -8.3 42 -11.5 12 -2.5 10 -1.3 16 -0.1 54 2.4 106 0 40 -1 26 -2.2 12 -0.5 6 0.4 8 1.2 20 4.9 8 3.6 18 10.2 20 10.2 18 8.1 20 5.7 22 4 8 1.1 6 0.3 26 -1.3 30 0 34 -1 20 0.3 12 0.5 18 1.6 27.7 3.9 M89.2 358.3l50 2 12 0 18 -2.1 22 -1.8 20 -3.2 10 -1.1 34 -1.4 12 0.6 8 0.9 28 5.5 20 4.5 8 0.9 8 0 16 -0.7 22 -1.8 38 -5.5 44 -3 8 -1.3 22 -4.3 10 -1.1 90 -0.1 30 0.4 58 2.4 20 0.5 60 -1.5 94 0.3 8 -0.6 12 -1.6 18 -3 13.7 -1.2 M89.2 385.6l32 -0.3 10 0.2 76 5.5 32 3.1 28 2 32 1.7 38 0.7 6 -0.9 6 -1.5 16 -5.3 6 -3 28 -16.4 4 -2 4 -1.4 10 -1.5 14 -1.4 26 -1.1 26 1.1 14 1.4 10 1.6 4 1.4 4 2 28 16.4 6 2.9 16 5.4 6 1.4 6 0.9 38 -0.6 34 -1.8 28 -2.1 32 -3 82 -5.6 62 0.4 49.7 1.3 M89.2 386.7l36 0.9 34 3.4 42 5 8 0.4 12 -0.1 28 -1.3 10 -1 10 -2.3 24 -7.1 6 -1.4 20 -2.4 16 -0.7 4 0.5 4 1.2 16 6.8 20 7.4 14 4.9 10 3 14 2.9 14 2.3 14 1.6 12 0.5 12 -0.5 14 -1.6 14 -2.3 14 -2.9 10 -3 14 -4.9 20 -7.5 16 -6.8 4 -1.1 4 -0.5 16 0.7 20 2.3 8 1.9 24 7 10 2.1 10 0.9 28 1.3 12 0.1 8 -0.4 46 -5.3 36 -3.4 24 -0.6 26 0.1 28 0.4 27.7 1 M89.2 387.5l28 0.6 6 0.8 24 6.6 40 11.8 18 4.3 8 1.4 12 0.1 16 -1.4 6 -1.6 16 -6.3 4 -0.8 6 0 38 3.1 60 5.7 52 7.1 42 4.9 4 0.2 48 -2.2 26 -2 32 -3.5 62 -2.3 32 -2.4 22 -2.1 16 -2.1 16 -2.9 52 -12.8 12 -2.4 8 -1 24 -0.7 24 -0.1 30 0.6 29.7 1.3 M89.2 460.9l62 0.9 46 -3.1 10 -2.3 14 -4.9 6 -3.2 14 -9.2 6 -2.8 10 -2.1 10 -1.6 8 -0.8 10 -0.2 56 0 30 0.6 32 1 54 3 46 -0.9 30 -2.3 34 -0.5 20 0.1 20 1.7 38 5.1 12 3.1 30 9.7 20 4.9 12 1.9 40 1.3 76 0.7 32 -1.2 35.7 -3 M89.2 461.4l36 0.7 30 1 42 -0.3 14 -1.9 26 -5.2 24 -5.9 12 -1.9 38 -1.2 74 -1.4 28 1.2 48 0 42 0.5 50 -0.6 36 0.8 34 1.9 20 1.6 60 8.4 18 1.5 60 0.9 56 0.1 28 -1.1 37.7 -2.7 M89.2 679.4l6 -21.7 4 -11.6 6 -14.8 6 -12.5 8 -14.4 22 -34.5 20 -34.2 10 -16.1 26 -38.4 6 -7.3 6 -4.4 6 -3.1 6 -1.7 6 -0.5 14 -0.4 26 0.1 14 0.6 16 1.3 40 5.1 38 6.5 28 4.1 38 4.9 14 1.1 6 -0.1 8 -0.8 24 -4.4 10 -1.3 54 -5 18 -2 8 -1.2 14 -3.3 6 -0.9 26 -1.3 34 -0.5 16 0.7 10 1.7 10 2.8 4 1.7 4 2.6 6 4.7 6 5.7 6 6.6 10 12.4 6 8.5 26 40.5 14 24 22 39.3 10 19.4 6 13 2 4.9 6 20.9 2 3.2 4 -0.6 4 -2.1 12 -9.1 20 -12.3 33.7 -26.9 M89.2 679.4l14 -23.1 14 -21.9 24 -34.3 18 -26.9 8 -12.7 16 -28.3 4 -5.8 4 -4.8 8 -8.6 8 -7.3 12 -9.3 8 -5.3 6 -3 10 -3.3 8 -2 8 -1 8 0.3 16 2.3 30 6.8 14 2.3 50 3.2 38 -0.3 34 1.7 16 0 38 -2.1 52 -4.6 16 -0.8 16 0.4 18 2.4 6 2 14 6.5 22 8.8 36 15.4 8 3.8 6 3.5 22 15.4 40 30.9 18 12.2 4 3.8 10 12.5 4 4.4 8 7.1 6 4.1 8 3.1 10 2.4 8 1.2 22 2.2 24 4.4 21.7 2.9 M89.2 630.2l8 -0.6 8 -1.6 10 -2.8 6 -2.9 12 -8 26 -22.1 10 -7.9 10 -7.2 50 -33.1 16 -8.7 10 -4.4 8 -2.2 10 -2.1 16 -1.5 16 -0.4 22 2.1 8 0.2 14 -0.9 32 -3.5 12 -2.5 22 -6.6 26 -6.8 10 -1.8 8 -0.3 10 1.4 22 6 36 8.1 30 5.9 18 2 28 0.8 14 0.9 16 1.5 14 2.1 12 2.9 14 4.4 24 10.3 14 7.1 10 6.2 28 20.3 12 10.3 8 9 34 41.7 12 15.5 10 15.6 2 1.9 2 0.9 4 -0.4 4 -1.2 18 -9.2 16 -5.8 16 -4.4 15.7 -3.2 M89.2 567.5l14 4.2 14 2.9 20 2.7 14 0.6 4 -0.4 6 -1.6 26 -10 10 -3.3 20 -4.8 14 -2.3 6 -0.2 12 0.3 30 2.6 8 1.3 18 4 10 1.3 6 0 6 -0.4 18 -2.6 6 -1.2 6 -2.6 6 -4 16 -12.3 28 -17.3 30 -16.8 10 -4.6 6 -1.5 4 -0.3 4 0.3 4 1 8 3.4 20 11.7 24 12.5 12 7.3 6 4.1 4 3.9 10 13.6 4 4.7 4 3.1 2 0.7 24 0.1 18 -1.3 10 -1.5 24 -5.2 6 -0.9 6 -0.3 24 0.5 22 2.2 10 1.9 56 12.5 6 0.7 6 -0.3 8 -0.9 24 -4.8 12 -1.8 10 -0.8 8 0.1 4 0.7 6 1.7 18 7.2 12 7.6 8 5.7 10 7.8 6 2.4 5.7 1.1"/>
<path stroke="#22a884" stroke-width="3.7" d="M89.2 679.4l8 -14.7 6 -9.4 8 -10.2 8 -7.9 12 -9.2 14 -9.1 12 -6.2 12 -5 10 -2.8 20 -3.8 36 -9.1 18 -6.4 40 -16.5 6 -1.9 12 -2.5 14 -2.4 14 -1.2 10 -0.1 36 0.7 18 -0.4 16 -1.1 8 -1.3 20 -5.6 8 -0.9 6 0.4 6 1.3 20 6.5 6 1.6 22 3.8 20 2.1 46 2.1 12 1.6 34 7.2 38 10.3 26 6.3 6 2.3 18 8.4 22 7.6 22 8.6 8 3.9 10 5.7 22 13.9 10 7.8 4 4.2 10 16.3 2 2.5 2 1.8 2 0.8 4 -0.4 4 -1.2 18 -9.2 16 -5.8 16 -4.4 15.7 -3.2"/>
<path stroke="#1fa188" stroke-width="3.8" d="M89.2 153.6l18 -0.6 18 -1.4 10 -2.1 18 -4.9 14 -5 18 -7.6 26 -13.5 26 -14.6 14 -6.3 12 -4.7 20 -6.5 14 -3.5 22 -3.2 16 -0.9 16 0.6 24 2 38 5 26 2.6 16 0.8 10 -0.2 14 -1 26 -2.7 30 -4.1 30 -2.5 18 -0.5 18 1.6 16 2.4 8 1.7 16 4.7 16 5.5 22 9.4 26 14.4 18 9.3 12 5.7 24 9.4 24 6.8 8 1.6 6 0.8 26 1.4 46 0 33.7 -0.7 M89.2 153.6l34 -0.9 28 -1.8 76 -7.8 66 -5.4 40 -1.8 20 -1.3 26 -2.4 34 -4.6 28 -2.5 16 -0.6 16 0.6 28 2.6 34 4.5 22 2.1 22 1.5 34 1.4 18 1.2 68 5.6 58 6.1 26 2 18 0.9 26 0.6 44 -0.2 31.7 -0.6 M89.2 214.7l22 1.1 18 1.7 38 6.3 48 9.5 14 2 16 1.5 14 1 12 0.4 54 -1.3 20 0.4 34 1.9 60 5.7 18 0.8 18 -0.8 60 -5.7 34 -1.9 20 -0.4 56 1.3 12 -0.4 14 -1 16 -1.6 14 -1.9 50 -9.7 36 -5.9 10 -1.2 18 -1.3 14 -0.5 22 0.5 28 1.5 23.7 2.2 M89.2 318.6l22 -1.3 22 -1.9 32 -3.5 48 -6.3 62 -5.8 42 -5.4 16 -0.9 28 0.5 64 3.6 30 0.8 30 -0.6 68 -3.3 18 -0.4 16 0.3 20 1.7 46 5.8 74 7.7 52 6.3 20 1.6 20 0.9 22 -0.1 24 -2.1 12 -1.9 25.7 -6.3 M89.2 352.5l22 -1 24 -2 22 -2.3 18 -2.7 54 -10.2 34 -7.6 42 -11.3 12 -2.5 10 -1.2 6 -0.3 12 0.3 52 2.6 104 0 42 -1.1 26 -2.3 12 -0.5 6 0.3 8 1.2 20 4.9 8 3.5 18 10.2 20 10.1 18 8.1 22 6.4 22 4.1 12 1.1 26 -1.4 30 0 34 -1 18 0.2 14 0.6 16 1.4 14 1.7 15.7 2.6 M89.2 357.9l50 2 12 0.1 18 -2.2 22 -1.8 30 -4.5 28 -1.6 10 -0.2 12 0.6 8 1.1 46 9.1 6 0.5 8 0 16 -0.7 22 -1.7 38 -5.3 44 -2.9 30 -5.3 10 -1.1 92 0 30 0.3 74 2.6 62 -1.4 94 0.3 8 -0.6 12 -1.8 18 -3.2 13.7 -1.4 M89.2 384.8l32 -0.3 12 0.4 74 5.2 32 3.1 28 2.2 32 1.8 38 0.6 6 -0.8 6 -1.5 12 -3.7 6 -2.4 32 -18.3 4 -1.9 4 -1.4 10 -1.6 14 -1.4 26 -1 26 1 14 1.4 10 1.6 4 1.4 4 2 32 18.3 6 2.3 12 3.8 6 1.4 6 0.8 38 -0.6 32 -1.7 30 -2.3 34 -3.2 78 -5.3 64 0.3 49.7 1.3 M89.2 386.1l38 1 32 3.3 42 5.2 8 0.5 12 -0.2 28 -1.2 10 -1 10 -2.2 22 -6.6 8 -2 20 -2.5 16 -0.7 4 0.5 4 1.1 16 6.6 22 8 14 4.8 8 2.3 14 2.9 14 2.3 14 1.6 12 0.5 12 -0.5 12 -1.3 12 -1.9 16 -3.1 10 -2.8 14 -4.8 22 -8.1 16 -6.5 4 -1.1 4 -0.5 16 0.7 20 2.4 8 1.9 24 7 10 2.1 10 0.9 28 1.2 12 0.2 8 -0.5 46 -5.5 36 -3.4 24 -0.6 24 0 30 0.5 27.7 1 M89.2 386.9l28 0.7 6 0.8 24 6.5 40 11.7 18 4.2 8 1.4 12 0.1 16 -1.2 6 -1.5 16 -6 4 -0.8 6 0 38 3.2 60 5.8 52 7 44 5 50 -2.4 26 -2.1 32 -3.4 62 -2.4 32 -2.5 24 -2.4 14 -1.7 16 -2.9 52 -12.8 10 -2 10 -1.3 26 -0.9 22 0 30 0.6 29.7 1.3 M89.2 459.9l62 0.7 46 -3.5 10 -2.2 14 -4.8 6 -3.1 14 -9 6 -2.6 10 -2.1 10 -1.6 8 -0.8 10 -0.2 56 0.1 30 0.5 32 1.2 36 2.4 18 0.9 46 -1 30 -2.5 52 -0.6 18 1.4 42 5.6 12 3 30 9.5 20 4.9 12 1.9 40 1.2 76 0.8 32 -1.2 35.7 -2.9 M89.2 460.4l36 0.7 30 1 42 -0.4 8 -0.8 8 -1.4 24 -4.7 24 -5.8 12 -1.9 40 -1.4 70 -1.2 30 1.5 90 0.5 28 -0.8 26 -0.1 32 0.7 34 2 20 1.6 60 8.2 18 1.6 60 0.8 56 0.1 28 -1 37.7 -2.6 M89.2 679.4l6 -21.5 4 -11.6 6 -14.7 6 -12.5 8 -14.4 22 -34.5 20 -34.3 10 -16.1 26 -38.4 6 -7.3 6 -4.5 6 -3.1 6 -1.8 6 -0.5 14 -0.4 26 0 16 0.6 16 1.3 40 4.8 38 6.4 28 3.9 36 4.6 14 1 6 -0.1 8 -0.8 24 -4.2 10 -1.3 72 -6.8 8 -1.1 14 -3.1 6 -0.8 26 -1.2 34 -0.3 16 0.9 10 1.7 10 3.1 4 1.7 6 4.1 6 5.1 6 6 8 9.3 8 10.3 6 8.7 24 37.3 14 23.9 22 39.2 10 19.4 6 13 2 4.8 6 20.9 2 3.2 4 -0.6 4 -2.1 12 -9.1 20 -12.3 33.7 -26.9 M89.2 679.4l14 -23 14 -21.7 24 -34.2 18 -26.7 8 -12.8 16 -28.4 4 -5.8 4 -4.8 8 -8.7 8 -7.3 12 -9.3 8 -5.4 6 -3 10 -3.4 8 -2.1 8 -1 10 0.4 14 2 30 6.5 14 2.3 52 3.2 36 -0.2 32 1.8 16 0.2 40 -2.4 52 -4.7 16 -0.7 16 0.4 18 2.4 6 2 12 5.7 24 9.9 36 15.7 8 3.8 6 3.6 22 15.4 40 30.9 18 12.1 4 3.8 10 12.4 4 4.4 8 7.1 6 4.1 8 3 10 2.4 8 1.2 22 2.2 24 4.4 21.7 2.9 M89.2 630.2l8 -0.6 8 -1.6 10 -2.8 6 -3 12 -8 26 -22.3 10 -8 10 -7.1 50 -33.3 16 -8.7 10 -4.4 8 -2.3 10 -2.1 16 -1.6 16 -0.5 22 2 8 0.2 14 -1 32 -3.7 10 -2 24 -7 24 -5.7 10 -1.8 10 -0.5 6 0.6 6 1.1 20 5 40 8.8 28 5.3 16 1.8 28 0.8 14 0.9 14 1.4 14 2.1 12 2.8 14 4.3 10 3.9 14 6.4 14 7.1 10 6 30 21.7 12 10.2 8 9 34 41.8 12 15.5 10 15.7 2 1.9 2 0.9 4 -0.4 4 -1.2 18 -9.2 16 -5.8 16 -4.4 15.7 -3.2 M89.2 567.5l14 4 14 2.9 20 2.8 14 0.6 4 -0.5 6 -1.6 26 -10 10 -3.3 20 -4.8 14 -2.2 6 -0.3 12 0.4 28 2.4 8 1 22 4.8 8 1 6 0.1 6 -0.4 20 -2.9 6 -1.4 6 -3.1 20 -14.8 28 -17.3 30 -17.1 10 -4.6 6 -1.6 4 -0.3 4 0.4 4 1 8 3.4 18 10.7 24 12.7 14 8.4 6 4.1 4 3.8 10 13.2 4 4.7 4 3 2 0.7 24 0.1 18 -1.3 10 -1.6 24 -5.2 6 -0.9 6 -0.3 24 0.5 22 2.2 8 1.5 58 13 6 0.7 6 -0.2 8 -1 22 -4.4 12 -1.8 12 -1.1 8 0.1 4 0.7 6 1.7 18 7.2 12 7.6 8 5.7 10 7.8 6 2.4 5.7 1.1"/>
<path stroke="#1f988b" stroke-width="3.8" d="M89.2 152.1l18 -0.6 18 -1.4 10 -2.1 18 -5 14 -4.9 18 -7.6 26 -13.4 26 -14.5 14 -6.3 12 -4.7 20 -6.5 14 -3.5 22 -3.2 16 -0.9 16 0.6 24 2.1 34 4.5 22 2.4 14 1.2 12 0.4 10 -0.3 14 -1.1 24 -2.6 30 -4.1 28 -2.5 20 -0.6 16 1.4 18 2.6 8 1.8 16 4.7 16 5.4 22 9.4 26 14.2 18 9.3 12 5.7 24 9.4 24 6.7 8 1.7 6 0.8 26 1.4 46 0 33.7 -0.7 M89.2 152.1l34 -0.9 28 -1.8 80 -8.1 62 -5.1 40 -1.7 20 -1.4 26 -2.4 34 -4.5 28 -2.5 16 -0.7 16 0.7 28 2.5 34 4.5 22 2.1 22 1.6 34 1.3 18 1.2 68 5.6 58 6.1 26 2 18 0.9 26 0.6 44 -0.2 31.7 -0.6 M89.2 216.7l22 1.1 18 1.7 36 5.7 48 8.9 22 2.5 18 1.2 14 0.4 58 -1.8 18 0.3 36 2.1 58 5.6 20 1.1 20 -1.1 58 -5.6 36 -2.1 20 -0.3 56 1.8 14 -0.4 20 -1.3 22 -2.4 48 -8.7 36 -5.7 10 -1.2 20 -1.4 14 -0.4 22 0.6 26 1.6 23.7 2.2 M89.2 317.4l22 -1.3 20 -1.7 34 -3.8 50 -6.6 60 -5.6 40 -5 18 -1.1 28 0.4 64 3.4 30 0.8 30 -0.6 68 -3.1 18 -0.3 16 0.3 22 1.9 44 5.6 74 7.8 52 6.4 20 1.5 20 0.9 24 -0.2 24 -2.2 12 -2 23.7 -5.9 M89.2 350.5l22 -0.9 26 -2.1 20 -2 20 -3 36 -6.3 20 -3.9 30 -6.5 42 -11.2 12 -2.3 10 -1.3 8 -0.2 10 0.2 50 2.9 98 0 20 -0.2 28 -0.9 28 -2.5 12 -0.5 6 0.4 8 1.2 20 4.8 8 3.5 18 9.9 22 11.1 16 7.2 22 6.6 22 4.2 6 0.9 6 0.3 26 -1.3 30 -0.1 34 -1 20 0.2 12 0.6 18 1.7 27.7 4.2 M89.2 357.4l50 2.2 12 0.1 18 -2.2 22 -1.8 22 -3.6 10 -1.3 28 -1.9 10 -0.3 10 0.3 8 1 22 3.7 24 4.7 6 0.6 8 0 16 -0.7 22 -1.6 38 -5.1 44 -2.8 30 -5.1 10 -1 122 0.2 74 2.5 62 -1.4 74 0 20 0.4 8 -0.8 12 -1.9 18 -3.6 13.7 -1.5 M89.2 384.1l32 -0.4 14 0.5 70 4.8 36 3.5 40 3.1 22 1.1 34 0.4 6 -0.8 6 -1.4 12 -3.7 6 -2.3 32 -18.1 8 -3.3 10 -1.5 14 -1.4 26 -1 26 1 14 1.4 10 1.6 8 3.3 32 18 6 2.3 12 3.7 6 1.4 6 0.8 36 -0.5 20 -1 34 -2.4 46 -4.4 76 -4.9 64 0.4 49.7 1.2 M89.2 385.4l38 1.1 30 3 44 5.7 8 0.5 14 -0.2 26 -1.1 10 -1 8 -1.7 24 -7.1 8 -2 20 -2.6 16 -0.7 4 0.5 4 1 16 6.4 24 8.5 12 4.1 10 2.7 16 3.2 12 1.8 14 1.5 10 0.4 10 -0.4 14 -1.5 12 -1.8 16 -3.2 10 -2.8 12 -4 24 -8.6 16 -6.3 4 -1.1 4 -0.4 16 0.7 20 2.5 8 1.9 24 7 10 2.1 10 0.9 28 1.1 12 0.2 8 -0.5 46 -5.8 36 -3.3 24 -0.6 24 0 30 0.5 27.7 0.9 M89.2 386.4l28 0.7 6 0.8 24 6.4 40 11.6 18 4.1 8 1.3 12 0.2 16 -1.1 6 -1.4 16 -5.6 4 -0.7 6 0 98 9 54 7.3 42 4.6 50 -2.6 26 -2.1 32 -3.4 62 -2.6 32 -2.5 24 -2.4 14 -1.7 16 -2.8 50 -12.3 12 -2.5 10 -1.3 26 -0.9 22 0 30 0.5 29.7 1.3 M89.2 458.9l62 0.5 46 -3.9 10 -2.2 14 -4.8 6 -3 14 -8.6 6 -2.6 10 -2 10 -1.5 8 -0.8 10 -0.2 56 0 30 0.7 32 1.2 36 2.7 18 1 46 -1.1 30 -2.8 30 -0.6 22 0 18 1.5 42 5.6 12 2.9 30 9.3 20 4.8 12 1.9 40 1.2 76 0.9 32 -1.2 35.7 -2.9 M89.2 459.4l66 1.5 42 -0.4 8 -0.8 8 -1.3 24 -4.6 26 -6 10 -1.5 44 -1.6 66 -1 8 0.2 18 1.4 16 0.3 76 0.4 30 -1 26 -0.2 32 0.6 34 2.1 20 1.6 60 8 18 1.5 60 0.9 56 0.1 28 -1 37.7 -2.5 M89.2 679.4l6 -21.3 4 -11.5 6 -14.7 6 -12.5 10 -17.7 20 -31.3 20 -34.2 12 -19.2 24 -35.4 6 -7.4 6 -4.5 6 -3.1 6 -1.8 8 -0.7 40 -0.5 14 0.5 16 1.2 40 4.6 38 6.1 28 3.9 36 4.3 14 1 6 -0.1 8 -0.7 24 -4.1 10 -1.3 72 -6.6 28 -4.6 26 -1 30 -0.2 16 0.7 6 0.7 6 1.1 14 4.5 6 3.7 6 4.8 6 5.7 6 6.6 10 12.4 6 8.4 18 27.1 8 12.9 14 23.9 22 39.1 10 19.3 6 13 2 4.8 6 20.8 2 3.2 4 -0.6 4 -2.1 12 -9.1 20 -12.3 33.7 -26.9 M89.2 679.4l14 -22.8 14 -21.6 24 -34.1 18 -26.6 8 -12.7 16 -28.5 4 -5.8 4 -4.9 8 -8.7 8 -7.3 12 -9.5 8 -5.4 6 -3.1 10 -3.4 8 -2.1 8 -1.1 10 0.3 14 1.9 30 6.2 14 2.1 54 3.4 34 -0.1 32 2 16 0.2 42 -2.8 52 -4.8 14 -0.5 16 0.4 18 2.5 6 2 12 5.7 24 10.1 36 16.1 8 3.9 6 3.6 22 15.5 38 29.4 20 13.4 4 3.8 10 12.3 4 4.4 8 7.1 6 4 8 3 10 2.4 30 3.4 24 4.4 21.7 2.9 M89.2 630.2l8 -0.6 10 -2.1 8 -2.3 6 -3 12 -8.2 26 -22.5 10 -7.9 10 -7.2 50 -33.4 16 -8.8 10 -4.4 8 -2.3 10 -2.1 20 -2 12 -0.4 20 1.8 8 0.4 12 -0.7 20 -2.3 22 -3.2 30 -8.2 22 -4.6 10 -1.5 10 -0.4 6 0.5 8 1.3 60 13.1 28 5.1 16 1.7 24 0.7 14 0.9 16 1.6 14 2.1 12 2.9 14 4.5 10 4 12 5.5 14 7.2 12 7.2 30 21.7 12 10.2 8 9 34 41.8 12 15.6 10 15.7 2 1.9 2 0.9 4 -0.4 4 -1.2 18 -9.2 16 -5.8 16 -4.4 15.7 -3.2 M89.2 567.5l14 3.9 14 2.8 20 2.8 14 0.7 4 -0.5 6 -1.7 26 -10 10 -3.3 18 -4.4 16 -2.6 6 -0.3 12 0.4 28 2.4 8 1.1 22 4.7 10 1.1 12 -0.5 20 -2.9 4 -1 6 -3 20 -14.6 28 -17.3 16 -8.9 14 -8.4 10 -4.7 6 -1.6 4 -0.3 4 0.4 4 1 8 3.5 18 10.9 24 12.8 14 8.4 6 4.1 4 3.7 10 12.9 4 4.5 4 3 2 0.6 24 0.2 18 -1.4 10 -1.6 24 -5.2 6 -0.9 6 -0.3 24 0.5 22 2.3 66 14.4 6 0.8 6 -0.2 8 -1 22 -4.4 12 -1.8 12 -1 8 0.1 4 0.7 6 1.7 18 7.2 12 7.6 8 5.7 10 7.8 6 2.4 5.7 1.1"/>
<path stroke="#1f988b" stroke-width="3.7" d="M89.2 679.4l8 -14.6 6 -9.3 8 -10.1 8 -7.8 12 -9.1 14 -8.8 10 -5.2 14 -5.6 8 -2.2 22 -3.6 36 -7.6 16 -5.5 42 -17.2 6 -1.8 16 -3.2 14 -2 12 -0.7 44 1.4 18 0 16 -0.6 8 -1 18 -4.5 8 -1.1 4 0 6 0.7 8 2 20 5.9 24 3.9 18 1.7 46 1.8 12 1.4 34 7.3 40 10.6 22 4 8 2.1 20 7.6 20 5.7 18 6.4 10 4.1 10 5.3 24 15 6 4.2 6 4.9 4 4.1 10 16.3 2 2.6 2 1.7 2 0.8 4 -0.4 4 -1.2 18 -9.2 16 -5.8 16 -4.4 15.7 -3.2"/>
<path stroke="#21918c" stroke-width="3.8" d="M89.2 150.5l18 -0.5 18 -1.5 10 -2 18 -5 14 -5 18 -7.6 26 -13.4 26 -14.3 14 -6.2 12 -4.7 20 -6.5 14 -3.4 22 -3.3 16 -0.9 16 0.6 24 2.1 34 4.6 22 2.4 14 1.3 12 0.4 10 -0.3 14 -1.2 24 -2.6 30 -4.2 28 -2.5 20 -0.6 16 1.4 18 2.7 8 1.7 16 4.7 16 5.4 22 9.3 26 14.1 20 10.2 10 4.7 24 9.4 24 6.8 8 1.6 6 0.8 24 1.4 46 0 35.7 -0.7 M89.2 150.5l34 -0.8 28 -1.9 58 -6 36 -3.3 50 -4 38 -1.6 20 -1.3 26 -2.4 34 -4.5 28 -2.5 16 -0.6 16 0.6 28 2.5 34 4.5 22 2.1 22 1.5 34 1.3 16 1.1 68 5.6 60 6.2 28 2.1 42 1.4 44 -0.1 31.7 -0.7 M89.2 218.7l20 1 18 1.6 38 5.7 46 7.9 18 1.9 22 1.2 16 0.3 56 -2.3 18 0.1 36 2.1 60 6 20 1 20 -1.1 60 -6 36 -2 18 -0.1 58 2.3 16 -0.3 22 -1.2 18 -1.8 46 -7.8 38 -5.7 30 -2.5 14 -0.3 20 0.7 26 1.6 23.7 2.3 M89.2 316.3l20 -1.2 20 -1.7 36 -4.1 52 -6.9 58 -5.5 40 -4.8 18 -1.1 28 0.4 64 3.2 30 0.7 28 -0.5 70 -2.9 18 -0.2 16 0.4 22 1.8 42 5.3 76 8.2 52 6.4 20 1.5 18 0.8 24 -0.1 26 -2.1 10 -1.6 25.7 -6.3 M89.2 348.6l24 -1.1 28 -2.2 18 -1.8 22 -3.3 36 -6.1 24 -4.6 22 -4.7 24 -6.5 18 -4.4 12 -2.3 10 -1.2 8 -0.3 10 0.3 50 3.1 90 0.1 26 -0.2 30 -1.1 28 -2.5 12 -0.5 6 0.3 8 1.2 20 4.8 8 3.4 18 9.8 22 11 16 7.3 22 6.8 22 4.5 6 0.8 6 0.4 26 -1.3 30 -0.1 34 -1.1 20 0.3 12 0.5 18 1.8 14 1.9 13.7 2.4 M89.2 357.1l50 2.2 12 0.1 18 -2.2 24 -2 20 -3.6 10 -1.3 16 -1.1 14 -1.4 10 -0.4 8 0.1 10 1.1 46 7.8 6 0.3 12 -0.2 34 -2.3 36 -4.6 44 -2.6 30 -4.8 12 -1 120 0.1 74 2.2 62 -1.3 74 0 20 0.4 8 -0.8 12 -2.1 18 -3.9 13.7 -1.7 M89.2 383.3l34 -0.4 14 0.5 66 4.4 50 4.9 32 2.4 18 0.9 34 0.4 6 -0.8 6 -1.4 12 -3.6 6 -2.3 32 -17.8 8 -3.2 10 -1.6 14 -1.4 26 -0.9 26 1 14 1.3 10 1.6 8 3.2 32 17.9 6 2.3 12 3.6 6 1.3 6 0.8 34 -0.4 20 -1 32 -2.3 52 -5 72 -4.6 66 0.4 49.7 1.1 M89.2 384.8l38 1 30 3.1 46 6 6 0.4 14 -0.2 26 -1.1 10 -0.9 8 -1.7 22 -6.6 10 -2.5 20 -2.7 16 -0.8 4 0.5 4 1 16 6.1 24 8.4 12 4 10 2.8 16 3.1 12 1.8 14 1.5 10 0.4 10 -0.4 14 -1.5 12 -1.8 16 -3.2 10 -2.7 12 -4.1 24 -8.3 14 -5.5 6 -1.6 4 -0.5 16 0.8 20 2.6 10 2.4 22 6.5 10 2.1 10 0.9 28 1 12 0.2 8 -0.5 48 -6.3 34 -3 24 -0.6 24 0 57.7 1.3 M89.2 385.8l28 0.8 6 0.8 26 6.8 38 11 18 4 8 1.3 12 0.2 16 -0.9 6 -1.4 16 -5.2 4 -0.7 6 0.1 98 9 58 7.7 38 4 50 -2.7 26 -2.1 32 -3.4 62 -2.8 32 -2.6 26 -2.5 14 -1.8 14 -2.5 50 -12.2 12 -2.4 10 -1.4 24 -0.9 22 -0.1 32 0.6 29.7 1.2 M89.2 457.8l62 0.3 46 -4.2 10 -2.3 14 -4.6 6 -2.9 14 -8.4 6 -2.4 20 -3.5 8 -0.7 10 -0.2 56 0 30 0.7 32 1.4 36 2.9 18 1.1 46 -1.2 30 -3.1 30 -0.7 22 0 18 1.6 42 5.6 14 3.5 28 8.5 20 4.7 12 1.9 38 1.2 78 0.9 32 -1.2 35.7 -2.9 M89.2 458.4l66 1.4 42 -0.5 12 -1.3 24 -4.3 28 -6.3 12 -1.9 44 -1.7 66 -0.9 8 0.3 20 1.7 28 0.4 62 0.1 30 -1.1 24 -0.3 32 0.4 34 2 20 1.7 62 8 18 1.5 60 0.9 56 0.1 28 -1 37.7 -2.4 M89.2 679.4l6 -21.1 4 -11.4 6 -14.7 6 -12.5 10 -17.8 20 -31.3 20 -34.2 12 -19.2 24 -35.3 6 -7.5 6 -4.6 6 -3.1 6 -1.8 8 -0.8 40 -0.7 14 0.4 16 1.1 40 4.4 38 5.8 30 4 34 4 14 0.9 6 -0.1 8 -0.7 24 -3.9 10 -1.3 72 -6.3 28 -4.3 26 -0.9 30 0.1 16 0.8 6 0.7 6 1.3 6 1.7 8 3 6 3.7 6 4.9 6 5.8 8 9 8 9.9 8 11.3 16 24 8 12.8 36 62.8 10 19.3 6 13 2 4.8 6 20.7 2 3.2 4 -0.6 4 -2.1 12 -9.1 20 -12.3 33.7 -26.9 M89.2 679.4l14 -22.6 14 -21.4 24 -34.1 18 -26.5 8 -12.7 16 -28.6 4 -5.8 4 -4.9 8 -8.7 8 -7.4 12 -9.5 8 -5.5 6 -3.1 10 -3.5 8 -2.2 8 -1.1 8 0 14 1.6 32 6.3 16 2.2 48 3 38 0.3 36 2.4 10 0 12 -0.6 32 -2.4 48 -4.6 10 -0.7 12 -0.1 10 0.3 10 1 10 1.6 6 2.1 12 5.8 24 10.3 36 16.5 8 3.9 6 3.6 22 15.5 38 29.5 20 13.2 4 3.7 10 12.4 4 4.4 8 7 6 4 8 3 10 2.3 30 3.4 24 4.4 21.7 2.9 M89.2 630.2l8 -0.6 10 -2.1 8 -2.3 6 -3.1 12 -8.3 26 -22.6 10 -8 10 -7.2 52 -34.6 16 -8.7 10 -4.1 10 -2.7 8 -1.5 22 -2.1 10 0 24 1.8 8 -0.2 12 -1.2 34 -4.5 8 -1.9 24 -6.6 18 -3.4 14 -1.9 10 -0.3 8 0.6 10 1.6 26 5 32 7.1 28 5.1 14 1.4 24 0.8 14 0.9 14 1.4 14 2.1 12 2.8 14 4.5 8 3 12 5.5 16 8.2 14 8.4 28 20.1 12 9.8 8 8.6 36 44.3 12 15.6 10 15.7 2 1.9 2 0.9 4 -0.4 4 -1.2 18 -9.2 16 -5.8 16 -4.4 15.7 -3.2 M89.2 567.5l14 3.8 14 2.7 20 2.9 14 0.7 4 -0.5 6 -1.8 26 -10.1 10 -3.2 18 -4.5 16 -2.5 6 -0.3 12 0.4 28 2.4 8 1.1 22 4.8 10 1.1 12 -0.5 20 -2.7 4 -1 6 -2.9 20 -14.3 28 -17.4 16 -9 16 -9.5 6 -2.9 4 -1.5 4 -0.9 4 -0.3 6 0.8 8 3.1 20 12 24 13 14 8.4 6 4.1 4 3.6 10 12.6 4 4.3 4 2.9 2 0.7 22 0.3 14 -1 14 -1.8 28 -5.9 6 -0.7 6 -0.2 24 0.6 20 2.3 66 14.4 6 0.9 6 -0.3 8 -1 22 -4.4 12 -1.7 12 -1 8 0.1 4 0.7 6 1.7 18 7.2 12 7.6 8 5.7 10 7.8 6 2.4 5.7 1.1"/>
<path stroke="#23888e" stroke-width="3.8" d="M89.2 148.9l18 -0.5 18 -1.5 10 -2.1 18 -5 14 -4.9 18 -7.7 26 -13.2 26 -14.2 14 -6.2 12 -4.6 20 -6.5 14 -3.5 22 -3.2 16 -0.9 16 0.6 24 2.1 34 4.6 22 2.5 14 1.3 12 0.4 10 -0.3 12 -1 26 -2.9 30 -4.2 28 -2.5 20 -0.6 16 1.4 18 2.6 8 1.8 16 4.6 16 5.4 22 9.3 26 13.9 20 10.2 10 4.7 24 9.4 24 6.8 8 1.6 6 0.8 24 1.4 46 0 35.7 -0.7 M89.2 148.9l34 -0.9 28 -1.8 60 -6.2 36 -3.2 48 -3.9 38 -1.5 20 -1.3 26 -2.4 34 -4.5 28 -2.5 16 -0.7 16 0.7 28 2.5 34 4.5 22 2 22 1.6 34 1.3 16 1 66 5.5 60 6.1 30 2.3 42 1.4 44 -0.1 31.7 -0.7 M89.2 220.7l20 1 18 1.6 38 5.5 44 7 14 1.5 24 1 18 0.1 56 -2.8 18 -0.1 38 2.2 60 6.2 20 1 20 -1 60 -6.2 38 -2.2 18 0.1 58 2.8 18 -0.1 24 -1 14 -1.5 46 -7.2 36 -5.1 32 -2.6 14 -0.1 20 0.8 26 1.7 21.7 2.3 M89.2 315.1l20 -1.2 20 -1.7 36 -4.2 52 -7.1 58 -5.5 40 -4.7 18 -1 28 0.3 62 2.9 30 0.7 30 -0.4 70 -2.6 18 -0.1 16 0.3 24 2.1 42 5.2 78 8.6 46 5.8 20 1.5 20 0.9 26 -0.1 26 -2.2 10 -1.8 23.7 -5.9 M89.2 346.5l24 -1 32 -2.5 16 -1.6 22 -3.2 36 -5.8 38 -7.2 46 -11.7 12 -2.4 12 -1.4 8 -0.3 10 0.3 50 3.4 86 0.1 30 -0.2 30 -1.2 28 -2.6 12 -0.5 6 0.3 8 1.2 20 4.7 8 3.4 18 9.6 26 13 12 5.4 22 7 24 5 10 1 26 -1.3 30 -0.1 34 -1.1 18 0.2 14 0.6 16 1.5 14 1.9 15.7 2.8 M89.2 356.7l50 2.4 12 0 18 -2.1 24 -2.1 22 -4 10 -1.4 14 -1.1 16 -1.9 12 -0.5 8 0.3 10 1.2 42 6.6 6 0.3 14 -0.3 32 -2.1 36 -4.4 44 -2.4 30 -4.6 12 -0.9 120 0.1 74 2 62 -1.3 74 0 20 0.4 8 -0.9 12 -2.2 18 -4.3 13.7 -1.8 M89.2 382.5l34 -0.4 16 0.5 66 4.4 50 5.1 30 2.3 18 0.9 34 0.4 6 -0.8 6 -1.4 12 -3.5 6 -2.2 32 -17.6 8 -3.2 10 -1.5 14 -1.4 26 -0.9 26 0.9 14 1.4 10 1.5 8 3.2 32 17.6 6 2.3 12 3.5 6 1.3 6 0.8 34 -0.4 18 -0.9 30 -2.2 56 -5.5 70 -4.4 12 -0.2 56 0.6 49.7 1.1 M89.2 384.1l24 0.5 16 0.7 28 2.9 46 6.3 6 0.4 14 -0.2 26 -1 10 -0.9 8 -1.7 22 -6.7 10 -2.5 20 -2.7 16 -0.8 4 0.4 6 1.6 14 5.3 30 10.2 16 4.6 14 2.9 12 1.9 14 1.5 12 0.6 12 -0.6 14 -1.5 12 -1.9 14 -2.9 16 -4.7 30 -10.2 14 -5.2 6 -1.6 4 -0.4 16 0.7 20 2.7 12 3 20 6 10 2.1 10 0.8 26 1 14 0.2 6 -0.4 50 -6.6 34 -3.1 24 -0.6 22 0 30 0.4 29.7 0.8 M89.2 385.3l28 0.8 6 0.7 26 6.7 38 10.9 18 4 8 1.2 12 0.3 16 -0.8 6 -1.2 16 -4.9 4 -0.6 6 0.1 98 9 60 8 36 3.6 50 -2.9 26 -2.2 32 -3.4 62 -3 32 -2.5 28 -2.8 14 -1.9 14 -2.5 46 -11.3 14 -2.9 10 -1.3 24 -1 22 -0.1 32 0.6 29.7 1.2 M89.2 456.7l62 0.1 46 -4.6 10 -2.3 14 -4.5 6 -2.9 14 -7.9 6 -2.4 20 -3.4 8 -0.7 10 -0.2 56 0 30 0.8 32 1.5 36 3.2 18 1.1 20 -0.3 26 -1 30 -3.3 30 -0.7 22 -0.1 16 1.4 44 6 12 2.8 32 9.3 18 4.2 12 1.8 38 1.2 78 0.9 32 -1.1 35.7 -2.8 M89.2 457.4l66 1.2 42 -0.5 12 -1.3 24 -4.2 28 -6 12 -1.9 46 -2 64 -0.7 8 0.3 20 2 36 0.6 56 -0.1 28 -1.3 24 -0.4 32 0.3 34 2.1 20 1.7 60 7.6 20 1.7 60 0.9 56 0.2 28 -1 37.7 -2.4 M89.2 679.4l6 -20.8 4 -11.5 6 -14.6 6 -12.5 10 -17.8 20 -31.3 20 -34.2 12 -19.2 24 -35.4 6 -7.5 6 -4.7 6 -3.1 6 -1.9 8 -0.8 42 -0.9 14 0.4 16 1.1 38 3.9 38 5.6 30 3.9 34 3.8 14 0.9 14 -0.8 24 -3.8 12 -1.4 70 -6 28 -3.8 26 -0.7 28 0.2 16 0.9 12 1.7 8 2.4 8 3.1 6 3.8 6 5 6 5.8 8 8.9 8 10 8 11.2 22 33.2 16 27.2 22 38.8 10 19.2 6 12.9 2 4.8 6 20.7 2 3.2 4 -0.6 4 -2.1 12 -9.1 20 -12.3 33.7 -26.9 M89.2 679.4l14 -22.4 14 -21.3 24 -33.9 18 -26.4 8 -12.7 16 -28.7 4 -5.9 4 -4.9 8 -8.8 8 -7.4 12 -9.6 8 -5.5 6 -3.1 10 -3.6 8 -2.3 8 -1.2 10 0.2 12 1.3 32 6 16 2.1 50 3.1 38 0.5 36 2.5 10 0 10 -0.7 34 -2.7 46 -4.6 10 -0.6 12 -0.2 10 0.4 10 1 10 1.7 6 2.1 12 5.8 26 11.5 38 17.8 10 5.7 20 14.1 40 31 20 13 4 3.7 10 12.3 4 4.4 8 7 6 4 8 2.9 10 2.3 30 3.4 24 4.4 21.7 2.9 M89.2 630.2l8 -0.6 10 -2.1 8 -2.4 6 -3.1 12 -8.3 24 -21.2 10 -8.1 10 -7.4 52 -34.9 18 -9.9 10 -4.2 10 -2.7 8 -1.6 22 -2.3 10 0 24 1.7 8 -0.2 8 -0.8 38 -5.3 30 -7.8 10 -1.9 20 -2.6 14 -0.6 14 1.2 24 4 38 8.1 30 5.4 12 1.1 36 1.7 14 1.4 14 2 10 2.2 10 3 12 4.2 12 5.3 16 8.1 16 9.4 30 21.5 12 9.8 8 8.5 36 44.4 12 15.6 10 15.8 2 1.9 2 0.9 4 -0.4 4 -1.2 18 -9.2 16 -5.8 16 -4.4 15.7 -3.2 M89.2 567.5l14 3.6 14 2.7 20 2.9 14 0.8 4 -0.6 4 -1.1 26 -10.1 12 -4 18 -4.4 16 -2.5 6 -0.3 12 0.4 28 2.4 10 1.5 20 4.4 10 1.2 6 0 6 -0.4 20 -2.6 4 -0.9 6 -2.9 20 -14 28 -17.4 16 -9.1 16 -9.7 6 -3 4 -1.4 4 -1 4 -0.3 6 0.8 8 3.2 20 12.2 24 13.1 14 8.5 6 4 4 3.6 10 12.1 4 4.3 4 2.8 2 0.6 22 0.4 12 -0.8 16 -2.1 28 -5.9 6 -0.7 6 -0.2 24 0.6 20 2.3 68 14.9 4 0.5 6 -0.3 8 -1 22 -4.3 12 -1.7 12 -1 8 0.1 4 0.7 6 1.7 18 7.2 12 7.6 8 5.7 10 7.8 6 2.4 5.7 1.1"/>
<path stroke="#23888e" stroke-width="3.7" d="M89.2 679.4l6 -11.1 6 -9.7 6 -8.2 8 -8.8 6 -5.3 10 -7.2 12 -7.5 10 -5.3 12 -4.8 10 -2.9 22 -3 30 -4.8 10 -2.2 16 -5.7 20 -7.9 18 -7.6 8 -2.5 22 -3.9 18 -1.6 12 0.2 36 1.9 30 0.4 10 -0.8 16 -3.5 6 -0.9 6 -0.3 4 0.2 10 1.9 22 5.9 20 3 20 1.7 46 1.6 12 1.3 34 7.3 42 10.8 28 3.9 22 6.3 18 4 6 1.6 20 7.1 12 5.8 26 16 6 4.2 6 4.9 4 4.2 10 16.2 2 2.6 2 1.7 2 0.8 4 -0.4 4 -1.2 18 -9.2 16 -5.8 16 -4.4 15.7 -3.2"/>
<path stroke="#27808e" stroke-width="3.8" d="M89.2 147.3l18 -0.6 18 -1.5 10 -2 18 -5 14 -5 18 -7.6 26 -13.2 26 -14 14 -6.2 12 -4.6 20 -6.5 14 -3.4 22 -3.3 16 -0.9 16 0.6 24 2.1 34 4.7 24 2.8 14 1.2 10 0.3 10 -0.3 12 -1 26 -3 28 -4 28 -2.6 20 -0.8 8 0.3 10 1.1 18 2.7 8 1.7 16 4.6 16 5.4 22 9.2 26 13.8 20 10.2 10 4.6 24 9.4 24 6.8 8 1.7 6 0.8 24 1.4 46 0 35.7 -0.7 M89.2 147.3l34 -0.9 28 -1.9 60 -6.1 36 -3.2 48 -3.9 38 -1.6 20 -1.3 26 -2.3 34 -4.5 28 -2.5 16 -0.6 16 0.6 28 2.6 34 4.4 22 2 22 1.5 34 1.3 14 0.9 72 6 60 6.1 26 1.9 42 1.5 44 -0.2 31.7 -0.6 M89.2 222.7l18 0.9 18 1.5 80 11.4 16 1.6 24 0.6 18 -0.1 58 -3.5 16 -0.1 40 2.2 60 6.4 20 1.1 20 -1.1 60 -6.4 40 -2.2 16 0.1 60 3.5 18 0.1 24 -0.6 16 -1.6 80 -11.2 32 -2.4 14 -0.1 20 1 24 1.6 21.7 2.4 M89.2 313.9l38 -2.7 38 -4.6 54 -7.5 58 -5.5 36 -4.1 20 -1.2 28 0.3 62 2.7 30 0.7 28 -0.4 70 -2.3 20 -0.1 16 0.4 24 2 42 5.2 76 8.5 48 6 20 1.5 20 0.9 26 -0.2 26 -2 10 -1.8 23.7 -5.8 M89.2 344.4l28 -1.2 34 -2.6 14 -1.6 24 -3.4 32 -4.9 36 -6.6 46 -11.4 12 -2.3 12 -1.4 8 -0.3 10 0.3 50 3.7 80 0.2 34 -0.3 30 -1.2 30 -2.8 12 -0.5 6 0.3 8 1.2 20 4.7 8 3.2 18 9.6 26 12.9 12 5.5 22 7.2 24 5.3 10 1 26 -1.3 30 0 34 -1.2 20 0.2 12 0.6 18 1.8 14 2.1 13.7 2.5 M89.2 356.4l50 2.4 12 0.1 18 -2.2 24 -2.1 22 -4.2 10 -1.5 14 -1.2 18 -2.5 12 -0.7 8 0.4 12 1.3 38 5.6 8 0.3 14 -0.5 30 -1.9 34 -3.9 46 -2.5 30 -4.3 12 -0.8 122 0 72 1.7 62 -1.2 74 0 20 0.5 8 -1 12 -2.4 18 -4.7 13.7 -1.9 M89.2 381.7l36 -0.4 26 1 56 3.8 50 5.3 30 2.4 16 0.7 34 0.4 6 -0.7 6 -1.4 12 -3.4 6 -2.2 32 -17.4 8 -3.1 10 -1.5 14 -1.4 26 -0.9 26 0.9 14 1.4 10 1.5 8 3.2 32 17.4 6 2.1 12 3.5 6 1.3 6 0.7 34 -0.4 16 -0.7 30 -2.3 58 -5.9 68 -4.1 12 -0.3 58 0.7 49.7 1 M89.2 383.5l24 0.4 16 0.7 28 2.9 46 6.6 6 0.3 14 -0.1 26 -1 10 -0.8 8 -1.7 20 -6.2 12 -3.1 20 -2.8 16 -0.8 4 0.4 6 1.5 14 5.1 32 10.6 14 4 14 2.8 12 1.9 14 1.6 12 0.5 12 -0.5 14 -1.6 12 -1.9 14 -2.8 14 -4 32 -10.7 14 -5 6 -1.5 4 -0.4 16 0.8 20 2.7 12 3 20 6.1 8 1.8 10 1 28 1 14 0.1 6 -0.3 50 -6.9 32 -3 24 -0.7 22 0 32 0.4 29.7 0.8 M89.2 384.7l28 0.8 6 0.8 26 6.5 38 10.8 18 3.9 8 1.2 12 0.4 16 -0.8 6 -1 16 -4.6 4 -0.5 6 0.1 100 9.4 60 7.9 22 2.4 12 0.9 50 -3.2 26 -2.2 32 -3.3 62 -3.2 34 -2.8 28 -2.8 12 -1.6 14 -2.5 46 -11.3 14 -2.8 10 -1.3 24 -1.1 20 -0.1 34 0.5 29.7 1.3 M89.2 455.6l62 -0.1 46 -5.1 10 -2.3 14 -4.4 6 -2.7 14 -7.7 6 -2.2 20 -3.3 8 -0.7 10 -0.2 56 0 30 0.9 32 1.6 36 3.5 18 1.2 20 -0.3 26 -1.1 30 -3.6 30 -0.8 22 -0.1 16 1.5 44 6 14 3.3 30 8.6 18 4 12 1.8 38 1.2 78 1 32 -1.2 35.7 -2.7 M89.2 456.3l66 1.1 42 -0.6 12 -1.2 24 -4 30 -6.3 12 -1.6 46 -2 60 -0.6 10 0.4 20 2.2 38 0.8 54 -0.3 28 -1.5 24 -0.5 32 0.3 34 2.1 20 1.7 60 7.5 20 1.6 62 0.9 54 0.2 28 -1 37.7 -2.3 M89.2 679.4l6 -20.6 4 -11.4 6 -14.6 8 -16.4 8 -13.9 22 -34.7 20 -34.2 14 -22 22 -32.1 4 -4.8 2 -1.8 6 -4 6 -2.8 4 -1.1 10 -1 42 -1 28 1.2 38 3.7 38 5.4 32 4 32 3.4 14 0.9 14 -0.8 32 -4.6 70 -5.8 32 -3.9 28 -0.5 26 0.4 16 1.1 12 1.9 8 2.5 8 3.2 6 3.9 6 5 6 5.9 8 8.9 8 10 8 11.1 16 23.4 6 9.5 38 65.8 10 19.2 6 12.9 2 4.8 6 20.6 2 3.2 4 -0.6 4 -2.1 12 -9.1 20 -12.3 33.7 -26.9 M89.2 679.4l14 -22.2 14 -21.2 24 -33.8 18 -26.2 8 -12.7 16 -28.8 4 -5.9 6 -7.3 8 -8.4 8 -7.2 12 -9.5 8 -5.2 6 -2.8 12 -4.2 8 -1.8 6 -0.6 8 0.2 12 1.2 32 5.6 16 2 50 3.2 38 0.7 36 2.7 10 -0.1 10 -0.6 88 -8.2 12 -0.2 12 0.4 10 1 10 1.7 6 2.1 12 5.9 24 10.8 22 10.9 18 8.3 10 5.8 20 14 40 31.1 20 12.8 4 3.7 10 12.3 4 4.3 8 7 6 4 8 2.8 10 2.3 30 3.4 24 4.4 21.7 2.9 M89.2 630.2l8 -0.6 10 -2.2 8 -2.3 6 -3.1 12 -8.5 24 -21.4 10 -8.1 10 -7.4 52 -35 18 -10 10 -4.3 10 -2.7 8 -1.6 22 -2.4 10 -0.1 24 1.6 14 -0.9 40 -5.7 28 -7.3 8 -1.6 22 -2.4 18 -0.4 16 1.3 22 3.2 34 7.3 32 5.7 12 1.3 36 1.8 14 1.4 12 1.8 10 2 10 2.9 12 4.2 12 5.2 16 8.2 18 10.8 30 21.4 12 9.8 8 8.6 36 44.5 12 15.6 10 15.8 2 1.9 2 0.9 4 -0.4 4 -1.2 18 -9.2 16 -5.8 16 -4.4 15.7 -3.2 M89.2 567.5l14 3.5 14 2.6 20 3 14 0.8 4 -0.6 4 -1.2 26 -10.1 12 -4 18 -4.4 16 -2.5 6 -0.3 12 0.4 28 2.4 10 1.5 22 4.7 8 1 6 0.1 8 -0.6 20 -2.7 4 -1.3 6 -3.2 18 -12.5 28 -17.4 16 -9.2 16 -9.9 6 -3 4 -1.5 4 -0.9 4 -0.4 6 0.9 8 3.2 20 12.4 22 12.1 14 8.3 10 6.9 16 17.8 4 2.7 2 0.6 22 0.4 12 -0.8 16 -2.1 28 -5.9 6 -0.7 6 -0.2 24 0.6 20 2.4 50 10.7 18 4.2 4 0.5 12 -1 24 -4.6 10 -1.4 12 -1.1 10 0 4 0.7 6 1.7 18 7.2 12 7.6 8 5.7 10 7.8 6 2.4 5.7 1.1"/>
<path stroke="#2a788e" stroke-width="3.8" d="M89.2 145.6l16 -0.5 18 -1.3 10 -1.8 18 -5 14 -4.8 18 -7.5 28 -13.9 26 -13.9 14 -6.2 12 -4.6 20 -6.4 14 -3.4 22 -3.3 16 -0.9 16 0.6 26 2.3 32 4.6 24 2.8 14 1.2 10 0.4 10 -0.4 12 -1 26 -3 28 -4.1 28 -2.6 20 -0.8 8 0.3 10 1.1 18 2.7 8 1.7 16 4.6 16 5.4 22 9.1 26 13.7 30 14.6 24 9.5 24 6.8 8 1.7 6 0.8 24 1.4 46 0 35.7 -0.7 M89.2 145.6l34 -0.9 30 -2.1 60 -6 36 -3.3 46 -3.7 38 -1.5 22 -1.5 24 -2.2 34 -4.4 28 -2.5 16 -0.6 16 0.6 28 2.5 34 4.4 22 2.1 22 1.5 34 1.2 14 0.9 70 5.9 60 6 28 2.1 42 1.5 44 -0.2 31.7 -0.6 M89.2 224.8l36 2.3 74 9.9 18 1.9 16 0.3 28 -0.4 58 -4 16 -0.4 18 0.7 24 1.7 60 6.5 20 1.1 20 -1.1 60 -6.5 40 -2.4 18 0.4 60 4.1 28 0.3 16 -0.3 18 -1.9 74 -9.7 32 -2.4 14 0 20 0.9 24 1.8 21.7 2.4 M89.2 312.6l22 -1.4 20 -1.8 38 -4.8 38 -5.6 20 -2.3 50 -4.7 36 -3.9 20 -1.2 28 0.3 62 2.4 30 0.6 28 -0.3 70 -2 20 -0.1 16 0.5 28 2.5 114 13.3 48 6 18 1.4 20 0.9 26 0 28 -2 10 -1.8 23.7 -5.9 M89.2 342.2l28 -1.1 36 -2.7 18 -2.1 40 -5.6 48 -8 28 -7.2 16 -3.6 12 -2.3 12 -1.4 8 -0.2 10 0.3 50 4 76 0.2 34 -0.2 18 -0.6 20 -1 26 -2.7 12 -0.6 8 0.6 8 1.3 14 3.2 6 1.8 8 3.5 40 20.3 14 6.5 22 7.6 24 5.5 10 1 26 -1.2 30 -0.1 34 -1.2 20 0.3 12 0.6 18 1.8 14 2.1 13.7 2.6 M89.2 356.2l50 2.4 12 0.1 18 -2.2 24 -2.2 28 -5.3 18 -2.1 16 -2.6 10 -1.1 6 -0.2 10 0.5 20 2.1 24 3.6 8 0.4 8 -0.1 36 -1.9 38 -4.1 44 -2.1 30 -4 10 -0.7 124 -0.1 72 1.4 62 -1.1 74 0 20 0.5 8 -1 12 -2.7 18 -5 13.7 -2.1 M89.2 380.9l36 -0.5 28 1 56 3.8 48 5.3 30 2.5 16 0.8 34 0.3 6 -0.7 6 -1.3 12 -3.3 6 -2.2 30 -16.1 6 -2.8 4 -1.3 10 -1.5 14 -1.3 26 -0.9 26 0.9 16 1.5 8 1.3 4 1.4 6 2.7 30 16.2 6 2.1 12 3.4 6 1.2 6 0.7 34 -0.3 16 -0.8 30 -2.3 58 -6.2 44 -2.8 22 -1.1 16 -0.2 105.7 1.6 M89.2 382.8l28 0.5 14 0.8 26 2.7 46 6.8 6 0.4 14 -0.1 26 -0.9 10 -0.8 8 -1.7 20 -6.3 12 -3 20 -2.9 16 -0.9 4 0.4 6 1.5 48 15.8 14 3.8 14 2.7 12 1.8 14 1.5 10 0.3 10 -0.3 14 -1.5 12 -1.8 14 -2.7 14 -3.8 48 -15.9 6 -1.4 4 -0.4 16 0.8 20 2.9 12 2.9 20 6.2 8 1.8 10 0.9 28 1 14 0.1 6 -0.3 50 -7.3 32 -2.9 24 -0.7 20 0 34 0.3 29.7 0.8 M89.2 384.0l26 0.9 8 0.8 26 6.4 38 10.7 18 3.8 8 1.2 12 0.4 16 -0.6 6 -1 16 -4.1 4 -0.5 6 0.2 100 9.4 62 8.1 20 2.2 12 0.7 50 -3.3 26 -2.3 32 -3.3 64 -3.6 60 -5.4 12 -1.6 14 -2.4 44 -10.8 14 -2.9 12 -1.6 24 -1.2 20 -0.1 34 0.5 29.7 1.3 M89.2 454.4l62 -0.3 46 -5.5 8 -1.7 16 -4.9 6 -2.6 12 -6.4 8 -3 12 -2.1 10 -1.3 18 -0.7 54 0 32 1 32 1.8 34 3.6 18 1.3 20 -0.3 26 -1.2 30 -3.9 30 -0.8 22 -0.1 14 1.3 46 6.3 14 3.2 30 8.3 18 4 12 1.8 38 1.2 78 1 32 -1.1 35.7 -2.7 M89.2 455.2l66 0.9 42 -0.6 12 -1.2 24 -3.8 30 -6 12 -1.7 46 -2.2 56 -0.4 12 0.3 24 2.7 38 0.9 52 -0.5 28 -1.7 24 -0.7 32 0.2 54 4 46 5.7 22 2.4 12 0.7 60 1 54 0.2 28 -0.8 39.7 -2.4 M89.2 679.4l6 -20.4 4 -11.3 6 -14.5 8 -16.4 10 -17.3 20 -31.4 22 -37.5 14 -21.8 20 -29.1 6 -6.7 6 -4 6 -2.8 6 -1.4 10 -1 42 -1.1 28 1.2 36 3.3 38 5.2 32 3.8 32 3.3 14 0.8 14 -0.7 32 -4.5 68 -5.4 32 -3.5 26 -0.4 26 0.4 18 1.1 12 1.8 8 2.4 10 4.2 4 2.4 6 4.8 8 7.7 8 8.9 8 9.9 8 11.1 16 23.2 6 9.4 38 65.7 10 19.2 6 12.8 2 4.8 6 20.5 2 3.2 4 -0.6 4 -2.1 12 -9.1 20 -12.3 33.7 -26.9 M89.2 679.4l14 -22 14 -21 24 -33.7 18 -26.1 8 -12.7 16 -28.9 4 -6 6 -7.3 8 -8.4 8 -7.3 12 -9.5 8 -5.3 6 -2.9 12 -4.2 8 -1.9 6 -0.6 8 0 12 1.1 30 5.1 16 1.9 52 3.4 38 0.9 36 3 8 0 10 -0.6 80 -8 10 -0.7 12 -0.2 12 0.5 10 1 10 1.8 6 2.1 12 5.9 24 11 22 11.2 18 8.5 10 5.8 20 14.1 40 31.1 20 12.7 4 3.6 10 12.2 4 4.4 8 6.9 6 3.9 8 2.9 10 2.2 30 3.4 24 4.4 21.7 2.9 M89.2 630.2l8 -0.6 10 -2.2 8 -2.3 6 -3.2 12 -8.6 22 -19.8 12 -9.9 10 -7.5 52 -35 18 -10.1 10 -4.3 10 -2.8 8 -1.7 22 -2.5 10 -0.2 24 1.5 12 -0.7 42 -6.2 26 -6.7 8 -1.7 20 -1.8 24 -0.3 18 1.2 18 2.3 46 9.5 22 3.8 10 1 34 1.7 14 1.4 12 1.8 10 1.9 10 2.8 14 5 12 5.4 14 7.2 20 12.2 30 21.3 12 9.8 8 8.6 36 44.6 12 15.7 10 15.8 2 1.9 2 0.9 4 -0.4 4 -1.2 18 -9.2 16 -5.8 16 -4.4 15.7 -3.2 M89.2 567.5l18 4.2 20 3.3 14 1.8 10 0.4 4 -0.6 4 -1.1 26 -10.3 12 -4 18 -4.4 16 -2.4 6 -0.3 12 0.4 28 2.4 10 1.5 22 4.7 10 1.2 14 -0.8 18 -2.2 4 -1.3 6 -3.1 16 -11.1 62 -37.9 6 -3.1 4 -1.5 4 -1 4 -0.3 6 0.8 8 3.3 20 12.6 22 12.2 14 8.4 10 6.8 16 17.2 4 2.7 2 0.6 20 0.4 12 -0.6 16 -2.1 30 -6.2 6 -0.7 6 -0.2 24 0.6 20 2.4 52 11.1 16 3.9 4 0.5 12 -1 24 -4.6 10 -1.4 12 -1 10 0 4 0.7 6 1.7 18 7.2 12 7.6 8 5.7 10 7.8 6 2.4 5.7 1.1"/>
<path stroke="#2a788e" stroke-width="3.7" d="M89.2 679.4l6 -11.1 6 -9.5 6 -8.1 8 -8.7 6 -5.2 10 -7.1 12 -7.3 10 -5.1 12 -4.6 10 -2.6 52 -5.8 8 -1.4 14 -4.4 24 -9.5 16 -6.8 8 -2.7 22 -3.9 18 -1.7 12 0.2 30 2.3 26 1.4 14 0.3 8 -0.5 20 -3.3 10 -0.2 10 1.5 24 5.7 18 2.3 22 1.6 52 1.8 10 1.5 26 5.9 44 11.1 8 1.1 22 1.6 24 4.6 18 2.8 18 5.5 12 4.7 12 6.6 22 13.8 6 4.5 6 5.1 4 5.3 8 13.2 2 2.6 2 1.7 2 0.8 4 -0.4 4 -1.2 18 -9.2 16 -5.8 16 -4.4 15.7 -3.2"/>
<path stroke="#2d708e" stroke-width="3.8" d="M89.2 143.8l16 -0.4 18 -1.3 10 -1.9 18 -4.9 14 -4.9 18 -7.4 28 -13.9 26 -13.8 14 -6.1 12 -4.6 20 -6.3 14 -3.4 22 -3.3 16 -1 16 0.7 26 2.3 32 4.6 24 2.9 14 1.3 10 0.3 10 -0.3 12 -1.1 26 -3.1 28 -4.2 28 -2.6 20 -0.8 8 0.4 10 1 18 2.8 8 1.7 14 3.9 16 5.2 24 9.9 40 20.5 18 8.4 14 5.7 10 3.6 24 6.6 12 2 26 1.5 46 -0.1 33.7 -0.7 M89.2 143.8l34 -0.9 30 -2 96 -9.3 46 -3.7 38 -1.5 22 -1.5 24 -2.2 30 -3.9 20 -2 16 -1.2 12 -0.4 16 0.6 28 2.6 34 4.3 22 2.1 22 1.5 34 1.2 14 0.9 68 5.7 60 6 30 2.3 42 1.4 44 -0.1 31.7 -0.7 M89.2 226.8l36 2.3 68 8.6 22 2.2 14 0.1 30 -0.9 58 -4.6 18 -0.6 18 0.7 24 1.7 60 6.7 20 1.2 20 -1.2 60 -6.7 24 -1.7 18 -0.7 18 0.5 60 4.8 30 0.8 14 -0.1 22 -2.2 70 -8.6 32 -2.3 14 0.1 20 1.1 22 1.7 21.7 2.5 M89.2 311.3l22 -1.4 20 -1.8 40 -5.2 36 -5.5 22 -2.6 84 -8.2 20 -1.1 28 0.2 62 2.2 28 0.5 28 -0.2 72 -1.7 36 0.4 30 2.8 110 13 50 6.2 18 1.3 20 0.9 28 -0.1 28 -2 16 -3.4 15.7 -4 M89.2 340.0l28 -1.1 36 -2.5 60 -7.5 46 -7.3 28 -7.1 14 -3.1 14 -2.6 12 -1.3 8 -0.3 10 0.4 50 4.3 74 0.2 36 -0.3 16 -0.5 22 -1.2 26 -2.8 12 -0.5 8 0.6 8 1.2 14 3.2 6 1.7 8 3.5 42 21.1 14 6.4 20 7.1 26 6.1 6 0.7 4 0.1 22 -1.2 32 -0.1 32 -1.2 22 0.2 12 0.6 18 1.9 14 2.1 13.7 2.6 M89.2 355.9l50 2.6 12 0.1 18 -2.3 16 -1.3 10 -1.2 26 -5.4 18 -2.4 18 -3.2 10 -1.2 6 -0.2 12 0.6 16 1.5 24 3.2 8 0.4 8 -0.1 36 -1.8 38 -3.8 44 -2 30 -3.6 10 -0.8 62 0.3 62 -0.4 70 1.2 64 -1.1 74 0 20 0.5 8 -1.1 12 -2.8 18 -5.4 13.7 -2.3 M89.2 380.0l38 -0.5 28 0.9 32 1.9 22 1.8 50 5.7 28 2.4 16 0.8 34 0.3 6 -0.7 6 -1.2 12 -3.3 6 -2.1 4 -1.9 10 -5.8 16 -8.2 6 -2.7 4 -1.3 8 -1.3 16 -1.5 26 -0.8 26 0.8 16 1.5 8 1.3 4 1.3 6 2.7 16 8.2 10 5.9 4 1.9 6 2 12 3.3 6 1.2 6 0.7 34 -0.3 16 -0.7 28 -2.3 58 -6.4 20 -1.5 44 -2.3 18 -0.3 107.7 1.5 M89.2 382.0l26 0.5 16 0.9 26 2.7 46 7.1 6 0.3 16 -0.1 24 -0.8 10 -0.7 8 -1.7 20 -6.4 12 -3 20 -3 16 -0.9 4 0.4 6 1.4 48 15.4 14 3.7 14 2.7 12 1.8 14 1.5 10 0.3 10 -0.3 14 -1.5 12 -1.8 14 -2.7 14 -3.8 48 -15.4 6 -1.3 4 -0.4 16 0.9 20 2.9 12 2.9 20 6.3 8 1.8 10 0.8 28 0.9 14 0.1 6 -0.3 50 -7.5 32 -2.9 24 -0.7 20 -0.1 63.7 1.1 M89.2 383.4l28 1 8 1.1 24 5.8 38 10.6 16 3.4 10 1.5 12 0.5 16 -0.4 6 -0.9 16 -3.7 8 -0.3 100 9.3 66 8.5 18 1.9 12 0.7 50 -3.6 58 -5.6 64 -3.7 62 -5.7 24 -3.7 44 -10.8 14 -2.8 12 -1.7 24 -1.2 18 -0.2 34 0.5 31.7 1.3 M89.2 453.2l62 -0.6 44 -5.5 10 -2.1 16 -4.8 6 -2.5 12 -6 8 -2.9 12 -2 10 -1.3 18 -0.7 54 0.1 32 1 32 1.9 34 3.9 18 1.4 20 -0.3 26 -1.3 8 -0.9 16 -2.7 6 -0.6 30 -0.9 22 0 14 1.3 46 6.4 14 3.1 30 8.1 18 3.9 12 1.7 38 1.2 78 1.1 32 -1.1 35.7 -2.7 M89.2 454.1l66 0.8 42 -0.7 12 -1.2 26 -3.9 28 -5.5 12 -1.7 46 -2.4 46 -0.3 20 0.2 26 3.2 40 1 50 -0.6 28 -2 22 -0.7 32 0 18 1.1 34 2.6 52 6.3 20 2 12 0.8 60 0.9 54 0.2 28 -0.8 39.7 -2.2 M89.2 679.4l6 -20.1 4 -11.3 6 -14.5 8 -16.4 10 -17.3 20 -31.4 22 -37.5 14 -21.8 20 -29.1 6 -6.8 6 -4.1 6 -2.8 6 -1.5 10 -1 42 -1.3 28 0.9 38 3.3 36 4.7 34 3.8 30 3 14 0.7 14 -0.6 34 -4.5 66 -5 32 -3.1 28 -0.2 24 0.6 16 1.1 14 2.2 8 2.5 10 4.3 6 4 8 7.1 10 10.6 10 12.3 22 30.9 8 12.3 14 23.8 22 38.2 8 14.9 6 11.9 6 13.5 6 20.4 2 3.2 4 -0.6 4 -2.1 12 -9.1 20 -12.3 33.7 -26.9 M89.2 679.4l14 -21.8 14 -20.9 22 -30.7 20 -28.8 8 -12.7 16 -29 4 -6 6 -7.3 8 -8.5 8 -7.3 12 -9.6 8 -5.4 6 -2.9 12 -4.4 8 -1.9 6 -0.7 8 0 12 1 28 4.5 18 2 52 3.4 38 1.2 36 3.2 8 0 10 -0.7 88 -9 12 -0.2 14 0.5 10 1.1 10 1.8 8 3 34 16.4 22 11.5 18 8.6 10 5.9 20 14.1 40 31.1 20 12.5 4 3.6 10 12.2 4 4.3 8 6.9 6 3.9 8 2.8 10 2.2 30 3.4 24 4.4 21.7 2.9 M89.2 630.2l8 -0.6 10 -2.2 8 -2.4 6 -3.2 12 -8.7 22 -20 12 -10 10 -7.4 52 -35.2 18 -10.1 10 -4.3 10 -2.9 8 -1.7 22 -2.7 10 -0.2 24 1.3 6 -0.2 8 -0.8 40 -6.3 26 -6.5 10 -1.8 16 -1 34 0.3 14 0.7 14 1.6 48 9.8 20 3.4 10 1 34 1.9 14 1.4 12 1.8 10 2.1 10 2.9 14 5.1 12 5.5 14 7.4 22 13.8 28 20 12 9.8 8 8.6 36 44.6 12 15.7 10 15.9 2 1.9 2 0.9 4 -0.4 4 -1.2 18 -9.2 16 -5.8 16 -4.4 15.7 -3.2 M89.2 567.5l18 4 24 3.9 12 1.5 8 0.2 4 -0.6 4 -1.2 24 -9.6 14 -4.7 18 -4.4 16 -2.5 8 -0.2 10 0.4 28 2.4 10 1.5 22 4.7 10 1.2 14 -0.6 18 -2.1 4 -1.2 6 -3 16 -10.8 32 -19.9 14 -8.2 16 -10.2 6 -3.1 4 -1.5 4 -1 4 -0.4 6 0.9 8 3.3 20 12.8 22 12.4 14 8.4 10 6.7 4 3.9 8 9 4 3.8 4 2.5 2 0.6 20 0.5 12 -0.6 16 -2.2 30 -6.2 6 -0.7 8 -0.1 22 0.4 20 2.6 24 5.4 30 6.1 14 3.5 4 0.5 12 -1 24 -4.6 10 -1.3 12 -1 10 0 4 0.7 6 1.7 18 7.2 12 7.6 8 5.7 10 7.8 6 2.4 5.7 1.1"/>
<path stroke="#31688e" stroke-width="3.8" d="M89.2 142.0l16 -0.4 18 -1.3 10 -1.9 18 -4.9 14 -4.9 18 -7.5 28 -13.8 26 -13.5 14 -6.1 12 -4.6 20 -6.3 14 -3.4 22 -3.3 16 -1 16 0.7 26 2.3 32 4.7 24 2.9 14 1.3 10 0.4 10 -0.4 12 -1.1 26 -3.1 28 -4.2 26 -2.5 22 -1 16 1.2 18 2.6 10 2.1 14 3.9 16 5.2 24 9.8 40 20.3 18 8.4 24 9.2 24 6.7 12 2 26 1.5 44 -0.1 35.7 -0.6 M89.2 142.0l34 -0.9 30 -2 98 -9.4 44 -3.6 38 -1.5 22 -1.4 24 -2.2 30 -3.9 20 -2 16 -1.2 12 -0.4 12 0.4 16 1.3 20 1.9 30 3.9 22 2 22 1.5 46 2 66 5.5 62 6.1 34 2.6 40 1.3 44 -0.1 31.7 -0.6 M89.2 228.8l34 2.1 62 7.4 28 2.6 14 0 30 -1.4 58 -5.3 18 -0.8 18 0.6 26 1.8 60 7 10 0.8 10 0.3 10 -0.3 10 -0.8 60 -7 24 -1.7 16 -0.7 10 0 10 0.6 60 5.4 38 1.6 10 -0.2 12 -1.1 54 -5.8 22 -2.8 30 -2.2 14 0 18 0.9 26 2.1 21.7 2.5 M89.2 309.9l22 -1.3 20 -1.9 40 -5.3 36 -5.6 24 -2.9 80 -7.6 24 -1.3 28 0.2 58 1.9 30 0.5 28 -0.2 70 -1.4 38 0.5 16 1.3 20 2.2 72 8.4 82 10.3 16 1.1 20 0.9 28 0.1 30 -2 16 -3.4 15.7 -4 M89.2 337.7l28 -1 36 -2.4 64 -7.5 42 -6.3 26 -6.5 16 -3.5 14 -2.5 12 -1.3 8 -0.3 10 0.5 50 4.5 70 0.2 38 -0.2 16 -0.5 26 -1.5 26 -2.9 12 -0.3 6 0.5 8 1.3 14 3.1 6 1.7 8 3.4 42 20.9 14 6.5 20 7.4 26 6.4 6 0.8 4 0 22 -1 32 -0.2 32 -1.2 22 0.2 12 0.6 18 1.9 14 2.2 13.7 2.6 M89.2 355.7l52 2.7 12 -0.1 16 -2.1 16 -1.4 10 -1.2 26 -5.7 18 -2.7 20 -4.1 12 -1.4 10 0.2 12 0.7 10 0.9 20 2.5 12 0.6 42 -1.9 38 -3.5 44 -1.8 28 -3.2 12 -0.8 62 0.2 64 -0.4 68 0.9 64 -1 74 0 20 0.5 8 -1.1 12 -3.1 18 -5.7 13.7 -2.5 M89.2 379.1l38 -0.6 32 1.1 30 1.7 22 1.8 48 5.8 28 2.5 16 0.8 34 0.3 6 -0.7 6 -1.2 12 -3.2 6 -2 4 -1.9 10 -5.8 16 -8 6 -2.6 4 -1.3 8 -1.3 16 -1.5 26 -0.8 26 0.8 16 1.5 8 1.3 4 1.3 6 2.6 16 8.1 10 5.8 4 1.9 6 2 12 3.2 6 1.1 6 0.7 34 -0.3 16 -0.8 28 -2.3 54 -6.3 22 -1.7 38 -2 26 -0.6 107.7 1.5 M89.2 381.3l30 0.6 14 0.9 24 2.5 46 7.4 6 0.4 16 -0.2 24 -0.7 10 -0.7 8 -1.6 20 -6.5 12 -3 20 -3.1 16 -0.9 6 0.7 6 1.5 24 7.2 24 7.8 12 3 14 2.8 10 1.5 14 1.6 12 0.5 12 -0.5 14 -1.6 10 -1.5 14 -2.8 12 -3.1 24 -7.7 24 -7.2 6 -1.5 6 -0.7 16 0.9 20 3 12 2.9 20 6.3 8 1.9 10 0.8 28 0.8 14 0.1 6 -0.4 50 -7.8 32 -2.8 42 -0.8 65.7 1 M89.2 382.8l28 1.1 8 1 24 5.7 40 10.9 16 3.2 8 1.2 12 0.4 16 -0.2 6 -0.8 16 -3.2 4 -0.4 6 0.2 100 9.5 62 8.1 20 2.1 10 0.6 14 -0.7 28 -2.3 68 -6.5 64 -4 62 -5.6 24 -3.7 44 -10.7 14 -2.8 12 -1.6 24 -1.4 18 -0.1 36 0.5 29.7 1.3 M89.2 452.0l60 -0.7 8 -0.7 18 -2.5 22 -3.2 12 -2.9 14 -4.3 16 -7.4 8 -2.7 22 -3.2 18 -0.7 54 0.1 32 1.1 32 2.1 34 4.1 18 1.5 20 -0.4 26 -1.3 8 -1 16 -2.8 6 -0.7 30 -1 22 0 14 1.3 46 6.5 14 3 30 7.9 18 3.8 12 1.7 36 1.2 78 1.1 32 -1 37.7 -2.7 M89.2 452.9l68 0.6 42 -0.8 10 -1 26 -3.7 28 -5.4 10 -1.5 34 -2.1 26 -0.8 52 0.1 28 3.7 42 1.2 48 -0.9 28 -2.1 22 -0.8 18 -0.3 14 0.2 48 3.4 68 7.7 22 1.5 58 0.9 54 0.2 28 -0.7 39.7 -2.2 M89.2 679.4l6 -19.9 4 -11.2 6 -14.4 8 -16.5 10 -17.3 20 -31.4 22 -37.5 16 -24.8 18 -26.2 4 -5 4 -3.6 6 -3.5 6 -2.3 6 -1.2 10 -1 42 -1.4 28 0.9 36 2.8 36 4.5 34 3.7 30 2.8 14 0.7 14 -0.7 24 -3.2 12 -1.2 96 -7.3 30 0.1 22 0.7 16 1.3 14 2.3 8 2.6 10 4.6 6 4.1 8 7.1 10 10.7 10 12.2 22 30.6 8 12.3 14 23.8 22 38 8 14.8 6 11.9 6 13.4 6 20.5 2 3.1 4 -0.6 4 -2.1 12 -9.1 20 -12.3 33.7 -26.9 M89.2 679.4l28 -42.3 22 -30.6 20 -28.7 8 -12.6 16 -29.2 4 -6 6 -7.4 8 -8.5 8 -7.3 12 -9.7 8 -5.4 6 -3 12 -4.5 8 -2 6 -0.7 8 -0.1 12 0.8 26 4 18 2 20 1 34 2.6 38 1.3 28 2.9 10 0.6 16 -0.8 88 -9.3 12 -0.2 14 0.6 10 1.1 10 1.8 8 3.1 32 15.6 24 12.8 18 8.8 10 5.9 20 14.2 40 31.2 20 12.2 4 3.6 10 12.2 4 4.3 8 6.8 6 3.9 8 2.8 10 2.1 30 3.4 24 4.4 21.7 2.9 M89.2 630.2l6 -0.4 8 -1.4 10 -2.7 6 -2.7 14 -10.1 22 -20.2 12 -10 10 -7.5 54 -36.5 18 -9.9 10 -4.1 16 -4 22 -2.9 10 -0.2 24 1.1 12 -0.8 40 -6.4 28 -6.8 10 -1.7 12 -0.4 22 0.6 26 0 12 0.7 10 1.5 30 6.2 34 6.2 10 1 34 2 14 1.5 12 1.9 10 2.1 10 3 14 5.3 12 5.5 14 7.7 22 14 28 20 12 9.8 8 8.6 36 44.8 12 15.7 10 15.9 2 1.9 2 0.9 4 -0.4 4 -1.2 18 -9.2 16 -5.8 16 -4.4 15.7 -3.2 M89.2 567.5l18 3.8 26 4.2 10 1.2 8 0.3 4 -0.7 4 -1.2 24 -9.7 14 -4.7 16 -4 18 -2.8 8 -0.2 10 0.3 28 2.4 10 1.5 24 5.2 8 0.9 12 -0.4 20 -2.1 6 -2 6 -3.3 14 -9.3 12 -7.2 22 -14 12 -7 18 -11.5 8 -3.5 4 -1.1 4 -0.3 6 0.9 8 3.3 22 14.3 18 10.1 16 9.6 10 6.6 12 12.4 4 3.7 4 2.4 2 0.6 18 0.6 12 -0.5 18 -2.4 32 -6.5 6 -0.5 6 -0.1 22 0.5 20 2.6 24 5.5 32 6.4 12 3.1 4 0.6 12 -1 24 -4.6 8 -1.1 14 -1.2 10 0.1 4 0.7 6 1.7 18 7.2 12 7.6 8 5.7 10 7.8 6 2.4 5.7 1.1"/>
<path stroke="#31688e" stroke-width="3.7" d="M89.2 679.4l6 -11 6 -9.4 6 -8 8 -8.6 6 -5.2 10 -6.8 14 -8.3 8 -3.8 14 -4.8 10 -2.1 48 -3.1 10 -1.3 6 -1.6 8 -2.7 24 -9.4 16 -6.8 8 -2.6 22 -3.7 18 -1.5 14 0.4 26 2.6 42 3 8 -0.1 20 -2.5 8 -0.1 10 1.2 26 5.4 16 1.7 20 1.3 56 1.6 12 2 28 6.6 28 7.3 14 2.9 6 0.5 16 -0.1 8 0.3 36 3.3 6 0.9 16 4.6 12 4.5 12 6.5 22 13.8 6 4.4 6 5.2 4 5.3 8 13.2 2 2.5 2 1.7 2 0.8 4 -0.4 4 -1.2 18 -9.2 16 -5.8 16 -4.4 15.7 -3.2"/>
<path stroke="#355f8d" stroke-width="3.8" d="M89.2 140.2l16 -0.5 18 -1.3 10 -1.9 18 -4.9 14 -4.9 18 -7.5 28 -13.7 26 -13.4 14 -6 12 -4.6 20 -6.2 14 -3.4 22 -3.3 8 -0.8 8 -0.2 16 0.7 26 2.3 32 4.8 24 2.9 14 1.4 10 0.3 10 -0.3 12 -1.1 26 -3.3 28 -4.2 26 -2.6 22 -0.9 16 1.2 18 2.6 10 2.1 14 3.9 16 5.1 24 9.8 42 21.1 16 7.3 24 9.3 24 6.7 12 2 26 1.4 44 0 35.7 -0.7 M89.2 140.2l34 -1 32 -2.2 96 -9.1 44 -3.6 38 -1.5 22 -1.4 24 -2.2 30 -3.9 20 -1.9 16 -1.3 12 -0.3 12 0.3 16 1.3 20 2 30 3.8 22 2 22 1.5 46 2 64 5.3 62 6.1 36 2.7 40 1.4 44 -0.2 31.7 -0.6 M89.2 230.8l32 2 64 7 30 2.2 12 -0.3 30 -2 56 -5.7 18 -1.1 18 0.5 28 2 60 7.1 10 0.8 10 0.4 10 -0.4 10 -0.8 60 -7.1 24 -1.8 18 -0.7 10 0.1 10 0.8 60 6 38 2.2 8 -0.1 18 -1.3 48 -4.8 24 -2.9 30 -2 14 0.1 18 1.1 24 1.9 21.7 2.6 M89.2 308.6l22 -1.4 20 -1.9 40 -5.5 36 -5.7 24 -2.9 80 -7.5 24 -1.2 28 0.2 86 2 98 -1.2 40 0.6 24 2.1 56 6.5 110 13.7 34 1.9 30 0.1 30 -1.8 16 -3.4 15.7 -4 M89.2 335.4l28 -1 36 -2.2 66 -7.2 40 -5.6 10 -2.2 16 -4.3 16 -3.3 14 -2.5 12 -1.2 8 -0.2 10 0.4 50 4.9 68 0.2 40 -0.2 14 -0.5 26 -1.5 28 -3.1 12 -0.4 6 0.5 8 1.3 20 4.7 10 4.3 54 26.4 20 7.7 26 6.7 6 0.8 4 0.1 22 -1 32 -0.1 32 -1.3 22 0.3 12 0.6 18 1.9 14 2.2 13.7 2.7 M89.2 355.5l52 2.8 8 0.1 6 -0.4 14 -2 16 -1.4 10 -1.3 24 -5.5 22 -3.9 18 -4.1 8 -1.4 6 -0.4 22 0.6 28 2.9 12 0.4 42 -1.7 38 -3.2 44 -1.7 28 -2.8 12 -0.8 62 0.3 66 -0.6 66 0.7 60 -1 76 0 22 0.6 8 -1.2 12 -3.3 18 -6.2 13.7 -2.6 M89.2 378.2l44 -0.6 20 0.6 28 1.4 32 2.6 46 5.8 28 2.6 16 0.8 34 0.3 12 -1.8 12 -3.2 6 -1.9 4 -1.9 10 -5.8 16 -7.8 6 -2.6 4 -1.2 8 -1.3 14 -1.3 28 -1 28 1 14 1.3 8 1.3 4 1.3 6 2.5 16 7.9 10 5.8 4 1.8 6 2 12 3.1 12 1.8 34 -0.3 14 -0.6 30 -2.7 52 -6.3 24 -1.9 34 -1.8 28 -0.5 109.7 1.5 M89.2 380.5l32 0.7 14 1 22 2.4 46 7.6 6 0.4 16 -0.1 26 -0.8 10 -0.8 8 -2 18 -5.9 12 -3 20 -3.2 8 -0.7 8 -0.2 6 0.7 6 1.4 24 6.8 24 7.6 14 3.5 14 2.7 10 1.4 14 1.5 10 0.3 10 -0.4 14 -1.4 10 -1.4 14 -2.7 14 -3.5 24 -7.7 24 -6.8 6 -1.4 6 -0.6 16 0.9 20 3.1 12 2.9 20 6.4 8 1.8 10 0.8 26 0.7 16 0.1 6 -0.4 50 -8 30 -2.8 38 -0.9 38 0.3 33.7 0.7 M89.2 382.1l28 1.2 8 1 24 5.5 40 10.8 16 3.1 8 1.2 12 0.5 16 -0.1 6 -0.7 16 -2.8 8 -0.1 102 9.6 64 8.3 18 1.8 10 0.5 26 -1.8 84 -7.9 64 -4.2 64 -5.9 14 -1.9 12 -2.3 30 -7.5 18 -4 10 -1.7 10 -1.2 24 -1.3 18 -0.1 34 0.5 29.7 1.3 M89.2 450.7l56 -0.8 14 -1.2 38 -5.7 8 -1.8 18 -5.3 16 -7 8 -2.5 22 -3.1 18 -0.7 54 0.1 32 1.2 32 2.2 34 4.4 18 1.6 20 -0.4 26 -1.4 8 -1.1 16 -3 6 -0.7 28 -1 22 -0.2 14 1.2 48 6.8 14 2.9 24 6.3 14 3.1 12 2.4 10 1.2 36 1.3 78 1.1 32 -0.9 37.7 -2.7 M89.2 451.7l68 0.5 42 -0.9 10 -1 26 -3.4 30 -5.6 10 -1.3 34 -2.2 24 -0.7 52 0.2 28 4 24 1.1 18 0.3 22 -0.2 26 -0.8 28 -2.4 22 -0.9 18 -0.4 14 0.2 46 3.3 70 7.7 22 1.5 58 0.9 54 0.2 28 -0.7 39.7 -2.1 M89.2 679.4l6 -19.6 4 -11.1 6 -14.5 8 -16.4 10 -17.4 20 -31.4 22 -37.5 18 -27.8 18 -25.9 2 -2.4 4 -3.6 6 -3.5 6 -2.4 8 -1.6 10 -0.8 42 -1.6 16 0.2 14 0.7 32 2.3 36 4.2 34 3.6 30 2.6 14 0.7 14 -0.6 26 -3.3 14 -1.2 90 -6.3 28 0.1 22 0.8 18 1.4 14 2.2 10 3.3 10 4.8 6 4.1 6 5.3 10 10.4 10 11.9 8 10.5 16 22.3 6 9 6 10 30 51.4 10 18.3 6 11.8 6 13.4 6 20.4 2 3.1 4 -0.6 4 -2.1 12 -9.1 20 -12.3 33.7 -26.9 M89.2 679.4l28 -41.9 42 -59.1 8 -12.6 16 -29.3 4 -6 8 -9.7 6 -6.3 8 -7.4 12 -9.7 8 -5.5 8 -3.8 12 -4.5 6 -1.4 8 -0.9 8 0 10 0.6 22 3.2 20 2.2 22 1.1 34 2.7 38 1.6 28 3 10 0.6 16 -0.8 78 -8.8 10 -0.9 12 -0.1 14 0.6 10 1.1 10 1.9 8 3.1 32 15.9 24 13.2 20 10 10 6.2 18 12.9 38 29.8 6 4.1 12 6.7 4 2.7 4 3.5 10 12.1 4 4.3 8 6.8 6 3.9 8 2.7 10 2.1 30 3.4 24 4.4 21.7 2.9 M89.2 630.2l8 -0.6 8 -1.7 10 -2.9 4 -2.1 14 -10.2 22 -20.4 12 -10 10 -7.5 54 -36.6 18 -10.1 10 -4.1 16 -4.1 22 -3.1 10 -0.3 24 1 12 -0.8 40 -6.7 26 -6.3 10 -1.8 12 -0.3 26 1.4 30 -0.6 8 0.5 10 1.5 28 5.8 34 6.2 10 1.1 34 2.1 14 1.6 12 1.9 10 2.2 10 3.1 14 5.4 12 5.7 14 7.8 22 14.4 28 19.9 12 9.8 8 8.6 36 44.9 12 15.8 10 15.9 2 1.9 2 0.9 4 -0.4 4 -1.2 18 -9.2 16 -5.8 16 -4.4 15.7 -3.2 M89.2 567.5l18 3.6 28 4.5 8 1 8 0.2 4 -0.6 4 -1.3 22 -9.1 16 -5.4 18 -4.4 12 -1.9 8 -0.6 20 0.7 26 2.5 30 6.2 8 1 12 -0.3 20 -2 6 -1.9 6 -3.1 12 -7.9 46 -28.3 20 -12.9 8 -3.7 4 -1 4 -0.4 6 0.9 8 3.5 22 14.4 34 20 10 6.5 12 11.9 4 3.5 4 2.4 2 0.5 18 0.6 12 -0.4 18 -2.5 32 -6.5 6 -0.6 8 0 20 0.5 20 2.7 22 5 36 7.3 10 2.7 4 0.6 12 -1.1 24 -4.5 8 -1 14 -1.2 10 0.1 4 0.7 6 1.7 18 7.2 12 7.6 8 5.7 10 7.8 6 2.4 5.7 1.1"/>
<path stroke="#39568c" stroke-width="3.8" d="M89.2 138.3l16 -0.4 18 -1.4 10 -1.9 18 -4.9 14 -4.9 18 -7.5 16 -7.6 38 -19.2 14 -6 12 -4.6 20 -6.2 14 -3.4 22 -3.3 8 -0.8 8 -0.2 16 0.7 26 2.4 32 4.8 24 3 14 1.4 10 0.4 10 -0.4 10 -0.9 28 -3.5 28 -4.4 26 -2.5 22 -1 16 1.2 20 3 8 1.7 14 3.9 16 5.1 24 9.7 42 20.9 18 8.1 22 8.5 24 6.7 12 2 26 1.4 44 0 35.7 -0.7 M89.2 138.3l34 -1 32 -2.2 26 -2.2 50 -5.1 56 -4.8 66 -3.3 24 -2.1 32 -4 22 -2.2 14 -1.1 12 -0.3 12 0.3 16 1.3 20 2 30 3.8 22 2 22 1.5 46 1.9 62 5.2 60 5.9 40 3 40 1.4 44 -0.1 31.7 -0.7 M89.2 232.8l32 2 26 3 34 3.2 32 2.1 12 -0.4 26 -2.2 18 -1.8 28 -3.5 22 -2.2 12 -0.6 18 0.5 28 2 58 7.1 20 1.4 10 -0.2 12 -1 60 -7.3 24 -1.8 18 -0.7 18 0.7 24 2.5 36 4.2 42 3.3 12 -0.3 20 -1.4 40 -3.6 24 -2.8 30 -2.1 14 0.1 18 1.1 24 2 21.7 2.7 M89.2 307.2l20 -1.3 20 -1.9 42 -5.8 38 -6.1 24 -2.9 76 -6.9 26 -1.3 28 0.1 84 1.7 98 -0.9 42 0.8 24 2 54 6.2 110 14 12 0.9 24 1.1 30 0.1 30 -1.7 16 -3.3 15.7 -4 M89.2 333.0l28 -0.9 36 -2.1 70 -7.1 36 -4.7 8 -1.7 18 -4.7 14 -2.8 16 -2.7 12 -1.2 8 -0.3 10 0.5 50 5.2 64 0.3 56 -0.7 28 -1.7 28 -3.2 12 -0.4 8 0.8 8 1.3 14 3.2 6 1.9 10 4.3 50 24.6 12 5.1 12 4.5 24 6.4 6 0.8 4 0.1 22 -0.9 32 -0.1 34 -1.4 22 0.4 12 0.7 16 1.8 14 2.2 13.7 2.7 M89.2 355.4l52 2.8 8 0.1 6 -0.5 14 -1.9 16 -1.4 10 -1.4 24 -5.8 22 -4.3 20 -5.1 8 -1.4 6 -0.4 22 0.3 26 2.4 12 0.4 42 -1.6 38 -2.9 44 -1.5 28 -2.6 12 -0.6 64 0.2 64 -0.7 66 0.5 66 -0.9 72 0 20 0.6 8 -1.3 12 -3.5 18 -6.6 13.7 -2.8 M89.2 377.3l46 -0.7 18 0.4 28 1.4 32 2.6 46 6 28 2.7 16 0.8 34 0.3 12 -1.7 12 -3.1 6 -1.9 4 -1.8 10 -5.8 14 -6.7 6 -2.7 6 -1.9 8 -1.3 14 -1.3 28 -0.9 28 0.9 14 1.3 8 1.3 6 2 6 2.7 14 6.7 10 5.8 4 1.8 18 4.9 12 1.7 34 -0.2 14 -0.7 30 -2.7 52 -6.6 24 -1.9 32 -1.6 28 -0.5 32 0.7 79.7 0.7 M89.2 379.8l32 0.7 14 0.9 22 2.4 46 7.9 6 0.4 18 -0.1 24 -0.7 10 -0.7 8 -2 18 -6 12 -3 22 -3.5 8 -0.6 8 0 6 0.9 6 1.4 22 5.9 24 7.6 16 3.8 12 2.3 12 1.7 12 1.2 10 0.3 10 -0.3 12 -1.2 12 -1.7 12 -2.3 16 -3.9 24 -7.5 24 -6.4 6 -1.3 6 -0.6 8 0.2 8 0.7 20 3.2 12 2.9 20 6.4 8 1.9 10 0.7 26 0.6 16 0.1 6 -0.4 50 -8.3 30 -2.8 36 -0.8 40 0.2 33.7 0.6 M89.2 381.4l28 1.3 8 1 24 5.3 40 10.7 14 2.7 10 1.4 12 0.6 16 0.1 6 -0.6 16 -2.3 8 -0.1 102 9.7 66 8.5 16 1.6 10 0.4 22 -1.6 86 -8.2 60 -4.1 70 -6.4 22 -3.3 44 -10.7 16 -3 12 -1.5 22 -1.3 18 -0.2 36 0.5 29.7 1.3 M89.2 449.4l54 -0.9 14 -1.1 38 -6.1 8 -1.6 20 -5.7 16 -6.5 8 -2.4 22 -2.9 18 -0.7 54 0 32 1.3 32 2.3 34 4.8 18 1.7 20 -0.4 26 -1.6 8 -1.1 16 -3.2 6 -0.7 28 -1.1 22 -0.2 14 1.2 50 7.3 12 2.4 24 6.1 14 3.1 12 2.2 10 1.3 36 1.2 78 1.2 32 -0.9 37.7 -2.7 M89.2 450.5l68 0.3 42 -0.9 38 -4.5 28 -5 10 -1.4 34 -2.3 24 -0.8 52 0.4 28 4.3 24 1.3 18 0.4 22 -0.3 26 -1 28 -2.6 20 -1 18 -0.5 16 0.2 42 3 74 7.9 12 1 12 0.4 58 1 52 0.2 30 -0.8 37.7 -1.9 M89.2 679.4l6 -19.4 4 -11 6 -14.4 8 -16.5 10 -17.3 20 -31.5 22 -37.5 18 -27.8 18 -26 2 -2.4 4 -3.7 6 -3.5 6 -2.4 8 -1.6 10 -1 42 -1.9 16 0.2 16 0.6 32 2.2 34 3.8 36 3.5 28 2.3 14 0.7 14 -0.6 26 -3.1 18 -1.5 84 -5.3 30 0.3 22 0.9 18 1.7 14 2.3 10 3.5 10 5 6 4.2 6 5.4 10 10.4 10 11.9 24 32.4 10 15.5 32 54.7 10 18.2 6 11.8 6 13.4 6 20.3 2 3.1 4 -0.6 4 -2.1 12 -9.1 20 -12.3 33.7 -26.9 M89.2 679.4l28 -41.5 42 -58.8 8 -12.6 16 -29.4 4 -6 8 -9.8 6 -6.4 8 -7.4 12 -9.8 8 -5.5 8 -4 12 -4.5 6 -1.5 8 -0.9 8 -0.2 10 0.6 20 2.7 18 1.8 28 1.5 34 2.8 34 1.5 30 3.5 10 0.6 8 -0.2 8 -0.7 20 -2.5 66 -7.4 12 -0.2 14 0.5 12 1.3 10 1.8 8 3.2 32 16.2 24 13.5 20 10.3 10 6.2 18 12.9 38 29.8 6 4.1 14 7.9 4 2.9 4 4.1 8 9.9 4 4.3 8 6.7 6 3.9 8 2.6 10 2.1 30 3.4 24 4.4 21.7 2.9 M89.2 630.2l8 -0.6 8 -1.7 10 -3 4 -2 14 -10.4 22 -20.5 12 -10.2 10 -7.5 54 -36.7 18 -10.1 10 -4.2 16 -4.2 22 -3.3 10 -0.3 24 0.8 12 -0.9 40 -6.9 26 -6.2 10 -1.7 10 -0.1 20 1.9 8 0.4 32 -1.5 8 0.6 8 1.2 48 9.5 14 2.4 10 1.2 34 2.2 14 1.6 12 2 10 2.3 10 3.2 14 5.6 12 5.8 14 8 26 17.4 26 18.6 6 4.8 6 5.4 6 6.8 36 44.9 12 15.8 10 15.9 2 2 2 0.9 4 -0.4 4 -1.2 18 -9.2 16 -5.8 16 -4.4 15.7 -3.2 M89.2 567.5l16 3.1 30 4.8 8 1 8 0.3 6 -1.3 24 -9.9 16 -5.3 18 -4.4 12 -1.9 8 -0.7 20 0.8 26 2.5 30 6.2 8 1.1 12 -0.3 20 -1.7 6 -1.8 6 -3.1 58 -36.1 20 -13.1 8 -3.7 4 -1 4 -0.4 4 0.4 4 1.2 8 4 18 12.3 24 14 20 12.3 4 3.1 12 11.6 4 2.8 4 1.5 18 0.7 12 -0.5 18 -2.6 32 -6.4 6 -0.6 8 0 20 0.4 18 2.5 24 5.4 34 6.8 12 3.2 4 0.6 12 -1.1 22 -4.2 8 -1.1 16 -1.3 10 0.1 4 0.7 6 1.7 18 7.2 12 7.6 8 5.7 10 7.8 6 2.4 5.7 1.1"/>
<path stroke="#39568c" stroke-width="3.7" d="M89.2 679.4l6 -10.9 6 -9.3 8 -10.2 6 -6.2 6 -5.1 8 -5.4 14 -8.2 10 -4.7 14 -4.4 10 -1.9 30 -0.8 18 0 10 -1 6 -1.4 8 -2.7 24 -9.3 16 -6.7 6 -2 6 -1.4 14 -2.1 20 -1.8 8 0 8 0.5 54 6.2 16 1.4 8 -0.1 18 -1.3 10 0.2 8 1.1 24 4.3 18 1.6 16 0.7 60 1.4 12 2.1 54 13.5 16 3.1 8 0.2 16 -1.3 18 -0.4 24 0.1 8 1 16 4.3 6 2 6 2.6 10 5.5 22 13.8 6 4.4 6 5.2 4 5.2 8 13.2 2 2.5 2 1.7 2 0.8 4 -0.4 4 -1.2 18 -9.2 16 -5.8 16 -4.4 15.7 -3.2"/>
<path stroke="#3d4d8a" stroke-width="3.8" d="M89.2 136.4l16 -0.5 18 -1.3 10 -1.9 18 -5 12 -4.1 20 -8.3 14 -6.6 40 -19.9 16 -6.8 12 -4.4 18 -5.5 14 -3.4 22 -3.3 8 -0.8 8 -0.2 16 0.7 26 2.4 32 4.8 26 3.4 12 1.2 10 0.4 10 -0.4 10 -1 28 -3.6 28 -4.4 26 -2.5 22 -1 16 1.2 20 3 8 1.7 14 3.9 16 5.1 24 9.6 44 21.6 18 7.9 20 7.7 24 6.7 12 2 26 1.5 44 0 35.7 -0.7 M89.2 136.4l34 -1 34 -2.4 26 -2.2 50 -5.1 54 -4.6 66 -3.3 26 -2.3 30 -3.8 22 -2.1 14 -1.1 12 -0.4 12 0.4 14 1.1 22 2.1 30 3.8 22 2 22 1.5 46 1.9 60 5 58 5.7 44 3.3 40 1.5 44 -0.2 31.7 -0.6 M89.2 234.9l32 2 26 2.9 34 2.9 30 1.5 16 -0.8 34 -3.6 32 -4.4 20 -2.3 12 -1 8 -0.3 18 0.7 26 2 58 7.2 20 1.5 10 -0.3 12 -1 60 -7.5 26 -1.9 18 -0.7 18 1.1 22 2.4 40 5.2 30 3.1 10 0.6 14 -0.3 20 -1.2 36 -3 24 -2.7 32 -2.1 14 0.2 18 1.3 22 1.9 21.7 2.7 M89.2 305.7l20 -1.2 20 -1.9 44 -6.3 36 -6 26 -3.2 72 -6.3 16 -1.1 14 -0.4 28 0.1 78 1.4 100 -0.5 44 0.9 26 2.2 52 5.9 110 14.2 10 0.9 24 1 30 0.2 32 -1.5 8 -1.5 23.7 -5.9 M89.2 330.5l28 -0.8 36 -2 78 -7.3 28 -3.4 8 -1.6 18 -4.7 12 -2.3 16 -2.7 14 -1.5 8 -0.2 10 0.5 50 5.5 64 0.3 44 -0.3 12 -0.4 28 -1.8 28 -3.3 12 -0.4 8 0.8 8 1.3 14 3.1 6 1.9 8 3.3 22 10.4 30 15 16 7 10 3.6 22 6.1 6 0.9 4 0.1 22 -0.8 32 -0.1 34 -1.4 24 0.4 12 0.9 16 1.9 12 1.9 13.7 2.7 M89.2 355.3l52 2.8 8 0.1 6 -0.4 14 -2 18 -1.7 10 -1.5 22 -5.8 22 -4.7 22 -6.2 8 -1.3 8 -0.5 22 0.2 28 2.1 14 -0.1 34 -1.4 36 -2.5 46 -1.4 28 -2.2 12 -0.6 64 0.3 62 -0.8 68 0.1 66 -0.8 72 0 20 0.7 8 -1.5 12 -3.7 18 -6.9 13.7 -3 M89.2 376.3l48 -0.8 18 0.5 28 1.3 30 2.4 48 6.6 26 2.5 16 0.9 34 0.2 12 -1.7 18 -4.7 4 -1.8 10 -5.8 14 -6.5 6 -2.6 6 -2 8 -1.2 14 -1.3 28 -0.9 28 0.9 14 1.3 8 1.3 6 1.9 6 2.6 14 6.6 10 5.7 4 1.8 18 4.8 12 1.6 34 -0.2 14 -0.7 30 -2.8 50 -6.7 24 -2 30 -1.4 30 -0.6 34 0.8 79.7 0.7 M89.2 379.0l32 0.7 18 1.2 18 2.1 46 8.2 6 0.4 18 -0.1 24 -0.6 10 -0.7 8 -2 18 -6.1 12 -2.9 22 -3.6 8 -0.7 8 0 8 1.2 24 6 26 8 18 4.2 12 2.2 12 1.6 10 0.9 10 0.4 10 -0.4 10 -0.9 12 -1.6 10 -1.8 18 -4.1 26 -8 22 -5.5 8 -1.7 6 -0.6 8 0.2 8 0.8 20 3.3 14 3.4 18 6 8 1.8 10 0.7 24 0.5 18 0.1 6 -0.4 50 -8.7 30 -2.7 36 -0.8 73.7 0.7 M89.2 380.7l26 1.2 10 1.1 24 5.2 40 10.6 14 2.6 10 1.4 10 0.6 18 0.2 22 -2.3 10 0.2 102 9.8 62 8 16 1.7 10 0.4 20 -1.3 90 -8.8 60 -4.3 72 -6.6 14 -2 10 -1.8 32 -8 14 -3 12 -2.1 10 -1.2 22 -1.4 16 -0.2 36 0.4 31.7 1.4 M89.2 448.1l52 -1.1 14 -0.9 40 -6.8 8 -1.7 20 -5.5 16 -6.1 8 -2.2 22 -2.8 18 -0.7 54 0.1 32 1.3 32 2.5 34 5.1 18 1.8 20 -0.5 26 -1.6 8 -1.2 16 -3.5 6 -0.7 28 -1.2 22 -0.2 14 1.3 50 7.4 14 2.8 24 5.8 14 2.9 10 1.9 10 1.2 36 1.2 78 1.2 32 -0.9 37.7 -2.5 M89.2 449.2l68 0.2 42 -1 38 -4.2 38 -6.2 34 -2.5 24 -0.8 52 0.6 28 4.7 24 1.3 18 0.5 22 -0.4 26 -1.1 28 -2.8 20 -1.1 18 -0.6 16 0.1 46 3.4 72 7.6 12 0.9 12 0.4 58 0.9 50 0.2 30 -0.7 37.7 -1.8 M89.2 679.4l6 -19.1 6 -16 6 -13.7 8 -15.8 8 -13.7 20 -31.5 26 -43.9 12 -18.5 18 -26.2 4 -5.2 4 -3.8 8 -4.4 4 -1.5 6 -1.4 14 -1.5 40 -2 16 0 18 0.6 28 1.7 68 6.7 32 2.5 14 0.6 14 -0.6 26 -2.9 20 -1.5 66 -4.2 12 -0.4 32 0.6 22 1 18 1.6 16 2.9 10 3.6 10 5.2 6 4.3 6 5.4 10 10.6 10 11.8 24 32 10 15.5 34 58 8 14.7 6 11.7 6 13.4 6 20.2 2 3.1 4 -0.6 4 -2.1 12 -9.1 20 -12.3 33.7 -26.9 M89.2 679.4l28 -41.1 42 -58.5 8 -12.6 16 -29.5 4 -6.1 8 -9.8 8 -8.4 8 -7.2 12 -9.7 8 -5.2 10 -4.6 10 -3.5 6 -1.4 8 -0.7 16 0.3 20 2.5 16 1.5 28 1.4 34 2.8 36 1.9 30 3.7 10 0.7 14 -0.7 24 -3.2 64 -7.4 12 -0.2 16 0.8 10 1.1 10 1.9 8 3.2 30 15.4 26 15 20 10.4 10 6.3 18 12.9 38 29.9 6 4.1 14 7.6 4 2.9 4 4.1 8 9.9 4 4.2 8 6.8 6 3.8 8 2.6 10 2 30 3.4 24 4.4 21.7 2.9 M89.2 630.2l8 -0.6 8 -1.7 10 -3 4 -2.1 14 -10.5 20 -19 12 -10.3 10 -7.8 56 -38.2 18 -10.2 10 -4.2 16 -4.3 22 -3.5 10 -0.4 24 0.7 12 -1 40 -7.2 24 -5.7 12 -2 10 0.2 20 2.7 8 0.5 8 -0.4 18 -1.8 8 -0.2 8 0.6 8 1.2 48 9.5 14 2.4 10 1.1 30 1.9 16 1.9 10 1.7 12 2.8 8 2.5 16 6.5 10 4.8 14 8 30 20.5 24 17.1 6 4.8 6 5.4 6 6.8 36 45.1 12 15.8 10 15.9 2 2 2 0.9 4 -0.4 4 -1.2 18 -9.2 16 -5.8 16 -4.4 15.7 -3.2 M89.2 567.5l48 8 8 0.9 6 0.2 6 -1.4 12 -5.3 10 -3.9 18 -6.1 18 -4.4 12 -1.9 8 -0.6 22 0.9 24 2.3 30 6.3 8 1.2 12 -0.2 20 -1.6 6 -1.7 8 -4.2 26 -15.7 18 -11.7 14 -8.6 18 -12 8 -3.8 4 -1.1 4 -0.4 4 0.5 4 1.2 8 4 20 13.8 42 25.2 4 3 12 11.1 4 2.7 4 1.4 16 0.7 12 -0.2 20 -2.9 32 -6.4 6 -0.6 10 0 18 0.4 18 2.5 24 5.5 34 6.6 12 3.3 4 0.6 12 -1 28 -5 16 -1.4 12 0 4 0.7 6 1.7 18 7.2 12 7.6 8 5.7 10 7.8 6 2.4 5.7 1.1"/>
<path stroke="#414487" stroke-width="3.8" d="M89.2 134.4l16 -0.5 18 -1.3 10 -1.9 18 -5 12 -4.1 20 -8.3 54 -26.3 16 -6.7 12 -4.4 18 -5.5 14 -3.3 22 -3.4 8 -0.7 8 -0.3 16 0.7 26 2.4 32 5 26 3.4 12 1.2 10 0.4 10 -0.4 10 -1 28 -3.6 28 -4.5 26 -2.6 22 -0.9 16 1.2 20 3 8 1.7 14 3.8 16 5.1 24 9.6 46 22.2 18 7.8 20 7.5 22 6.1 12 2 26 1.5 44 0 35.7 -0.7 M89.2 134.4l34 -1 36 -2.5 24 -2.1 52 -5.2 52 -4.5 66 -3.2 26 -2.3 30 -3.8 22 -2.1 14 -1.1 12 -0.4 12 0.4 14 1.1 22 2.1 30 3.8 22 2 22 1.4 44 1.8 60 5 58 5.7 48 3.6 38 1.3 44 -0.2 31.7 -0.6 M89.2 236.9l32 2 26 2.8 32 2.4 18 1 16 0.3 10 -0.7 28 -3.4 42 -6.1 20 -2.5 12 -1.1 10 -0.3 16 0.7 26 2 60 7.7 12 1 10 0.2 20 -1.5 58 -7.4 26 -2 18 -0.7 12 0.6 24 2.7 44 6.2 30 3.7 10 0.8 16 -0.1 20 -1 34 -2.6 26 -2.7 30 -2 14 0.3 18 1.2 22 2 21.7 2.8 M89.2 304.2l20 -1.2 20 -2 44 -6.4 36 -6.1 26 -3.2 28 -2.8 42 -3.3 18 -1.1 14 -0.4 28 0 80 1.1 98 -0.2 44 1.1 26 2.2 50 5.6 112 14.7 8 0.7 22 0.9 34 0.3 32 -1.3 8 -1.5 23.7 -5.9 M89.2 328.0l28 -0.8 36 -1.8 62 -5 24 -2.3 22 -2.6 24 -5.9 18 -3.3 12 -1.8 12 -1.1 8 -0.2 10 0.5 50 5.8 60 0.3 46 -0.2 14 -0.5 28 -1.9 28 -3.4 12 -0.4 8 0.7 8 1.4 14 3 6 1.8 8 3.3 20 9.3 32 16 18 8.1 6 2.3 16 5 10 2.5 8 0.6 22 -0.7 32 -0.1 34 -1.4 22 0.4 12 0.7 16 1.8 14 2.2 13.7 2.8 M89.2 355.2l58 2.9 8 -0.4 14 -1.9 16 -1.6 10 -1.5 6 -1.3 18 -5.1 22 -5.2 24 -7.2 6 -1.2 12 -0.8 16 -0.1 28 1.7 16 0 34 -1.4 36 -2.1 46 -1.2 40 -2.5 64 0.4 64 -1 64 -0.1 66 -0.7 74 0 20 0.7 8 -1.5 12 -4 18 -7.4 13.7 -3.1 M89.2 375.4l50 -0.9 44 1.5 30 2.5 48 6.8 26 2.6 16 0.9 34 0.2 12 -1.6 18 -4.6 4 -1.8 12 -6.6 16 -7.2 8 -2.7 8 -1.3 14 -1.2 28 -0.9 28 0.9 14 1.3 8 1.2 8 2.7 16 7.2 12 6.7 4 1.7 18 4.6 12 1.6 34 -0.2 14 -0.7 28 -2.7 52 -7.1 24 -2 26 -1.3 30 -0.6 40 0.9 77.7 0.6 M89.2 378.1l32 0.7 20 1.5 16 1.9 46 8.5 6 0.4 20 -0.1 24 -0.6 8 -0.6 8 -2 18 -6.1 14 -3.4 20 -3.3 8 -0.6 8 -0.1 10 1.6 22 5.1 26 7.8 20 4.7 10 1.8 12 1.5 10 1 10 0.4 10 -0.4 10 -1 12 -1.5 10 -1.8 20 -4.7 26 -7.8 22 -5.1 10 -1.6 8 0.1 8 0.6 22 3.6 14 3.4 18 6.1 8 1.9 10 0.5 24 0.5 18 0.1 6 -0.4 50 -9 28 -2.6 38 -1 73.7 0.7 M89.2 380.0l28 1.4 10 1.3 22 4.7 40 10.4 22 3.7 12 0.8 18 0.5 22 -1.8 10 0.3 104 10.1 60 7.8 16 1.6 8 0.4 16 -0.9 94 -9.3 62 -4.8 72 -6.6 14 -1.9 10 -1.8 34 -8.4 12 -2.6 12 -2.1 10 -1.1 22 -1.5 14 -0.2 38 0.4 31.7 1.4 M89.2 446.7l52 -1.2 14 -1.1 48 -8.9 20 -5.4 16 -5.6 8 -2 22 -2.7 18 -0.7 54 0.1 32 1.4 32 2.6 34 5.4 18 1.9 20 -0.5 26 -1.7 8 -1.3 16 -3.6 6 -0.8 28 -1.2 22 -0.3 12 1.1 22 3.5 30 4.2 14 2.7 38 8.5 10 1.8 10 1.1 36 1.3 78 1.2 34 -0.9 35.7 -2.5 M89.2 447.9l68 0 42 -1 40 -4.2 28 -4.7 12 -1.5 34 -2.4 20 -0.6 52 0.7 6 0.8 20 4 20 1.5 18 0.7 18 0 22 -0.8 18 -1.1 26 -2.9 26 -1.4 20 -0.4 16 0.7 30 2.4 62 6.5 32 2.4 60 1.1 54 0.3 30 -0.6 39.7 -1.8 M89.2 679.4l6 -18.8 6 -15.9 6 -13.7 8 -15.9 8 -13.7 20 -31.5 26 -43.9 12 -18.5 18 -26.3 4 -5.2 4 -3.9 8 -4.4 4 -1.5 6 -1.5 16 -1.6 40 -2.3 16 -0.1 20 0.7 26 1.4 72 6.6 28 1.9 14 0.5 12 -0.5 28 -2.9 30 -2.1 54 -3.1 14 -0.2 36 1.2 18 1.1 18 1.9 14 2.8 10 3.8 10 5.4 6 4.4 6 5.5 10 10.6 10 11.8 26 34.5 6 9.2 34 57.8 12 21.8 6 12.2 4 9.1 6 20.1 2 3.1 4 -0.6 4 -2.1 12 -9.1 20 -12.3 33.7 -26.9 M89.2 679.4l28 -40.7 42 -58.2 8 -12.6 16 -29.7 4 -6.1 8 -9.8 8 -8.4 8 -7.3 12 -9.8 8 -5.3 10 -4.7 10 -3.6 6 -1.4 10 -0.9 14 0.2 30 3.2 34 1.6 34 2.9 34 2.1 10 0.9 22 3.1 10 0.7 14 -0.7 24 -3.4 64 -7.6 12 -0.1 16 0.7 10 1.2 10 1.9 8 3.3 30 15.7 26 15.3 20 10.7 10 6.3 18 13 38 29.9 6 4 14 7.5 4 2.9 4 4 8 9.9 4 4.2 8 6.7 6 3.8 8 2.5 10 2 30 3.4 24 4.4 21.7 2.9 M89.2 630.2l8 -0.6 8 -1.7 10 -3 4 -2.2 14 -10.6 20 -19.2 12 -10.4 10 -7.8 56 -38.3 18 -10.3 6 -2.8 6 -2.1 16 -4.2 20 -3.2 10 -0.5 24 0.5 12 -1 40 -7.6 24 -5.6 10 -1.6 4 -0.3 6 0.4 22 3.7 8 0.6 8 -0.5 20 -2.7 8 -0.2 8 0.7 8 1.3 48 9.4 12 2 10 1.2 30 2 16 2 10 1.8 12 2.8 8 2.6 16 6.7 10 4.9 14 8.2 32 22.2 22 15.7 6 4.8 6 5.5 6 6.7 36 45.2 12 15.8 10 16 2 2 2 0.9 4 -0.4 4 -1.2 18 -9.2 16 -5.8 16 -4.4 15.7 -3.2 M89.2 567.5l50 8.1 6 0.7 6 0.1 6 -1.4 14 -6.3 16 -6 10 -3.1 18 -4.4 12 -1.8 8 -0.7 10 0.2 14 0.9 22 2.2 30 6.3 8 1.2 10 0 22 -1.4 4 -1 6 -2.5 24 -13.9 36 -22.9 16 -11 6 -3.7 8 -3.3 6 -0.9 4 0.5 4 1.2 8 4.1 20 14 42 25.3 4 3 12 10.5 4 2.6 4 1.3 16 0.8 12 -0.3 20 -3 32 -6.4 6 -0.5 14 0 16 0.5 18 2.8 22 5.1 36 7.1 10 2.9 4 0.6 12 -1 26 -4.8 18 -1.5 12 0 4 0.7 6 1.7 18 7.2 12 7.6 8 5.7 10 7.8 6 2.4 5.7 1.1"/>
<path stroke="#414487" stroke-width="3.7" d="M89.2 679.4l6 -10.8 6 -9.2 8 -10 6 -6.2 6 -4.9 8 -5.3 16 -8.9 8 -3.5 14 -4 10 -1.5 28 0.4 20 1.2 10 -0.6 6 -1.3 8 -2.6 24 -9.2 14 -5.9 8 -2.8 6 -1.3 14 -1.9 20 -1.6 8 0.1 10 0.9 68 9.5 8 0.3 18 -0.5 8 0.4 38 5.1 20 0.9 54 0.5 16 0.5 12 2.2 54 13.7 10 2 6 0.8 10 -0.5 36 -5.2 20 -1.6 8 0.4 14 3.3 12 4 10 5.3 22 13.5 8 5.8 6 5.2 4 5.2 8 13.1 2 2.5 2 1.7 2 0.8 4 -0.4 4 -1.2 18 -9.2 16 -5.8 16 -4.4 15.7 -3.2"/>
<path stroke="#443983" stroke-width="3.8" d="M89.2 132.4l16 -0.5 18 -1.3 10 -1.9 12 -3.3 16 -5.1 20 -8.2 14 -6.4 42 -20.5 16 -6.6 12 -4.4 18 -5.5 14 -3.3 22 -3.3 8 -0.8 8 -0.2 16 0.6 26 2.5 32 5 26 3.5 12 1.2 10 0.4 10 -0.4 10 -1 28 -3.7 28 -4.6 24 -2.4 22 -1.1 8 0.2 10 1 20 3 8 1.7 14 3.8 16 5.1 24 9.5 46 22 20 8.6 18 6.7 22 6.1 12 2 26 1.5 44 0 35.7 -0.7 M89.2 132.4l34 -1.1 40 -2.8 20 -1.6 52 -5.3 54 -4.6 14 -0.9 32 -1.1 18 -1.1 26 -2.3 30 -3.7 22 -2.1 14 -1.1 12 -0.4 12 0.4 14 1.1 22 2.1 30 3.7 20 1.8 24 1.6 44 1.8 58 4.8 58 5.7 50 3.7 38 1.4 44 -0.2 31.7 -0.6 M89.2 238.9l32 2 26 2.7 30 2.1 18 0.7 18 0.1 10 -0.9 28 -4 46 -7.3 24 -2.8 14 -0.7 16 0.7 26 2 60 7.9 12 1 10 0.2 10 -0.5 10 -1 58 -7.6 26 -2 18 -0.7 14 0.8 22 2.7 48 7.4 28 3.9 10 0.9 20 -0.1 18 -0.8 30 -2 22 -2.3 20 -1.7 16 -0.7 16 0.5 26 2.2 31.7 3.8 M89.2 302.7l20 -1.2 20 -2 46 -6.9 34 -5.9 28 -3.6 28 -2.7 36 -2.7 20 -1.2 18 -0.5 102 0.7 92 0.1 30 0.5 24 0.8 28 2.4 48 5.4 112 14.8 8 0.7 20 0.9 34 0.4 34 -1.3 8 -1.4 23.7 -5.9 M89.2 325.4l28 -0.7 36 -1.7 64 -4.6 28 -2.4 16 -1.8 24 -5.8 18 -3.1 14 -2 12 -0.9 8 -0.1 10 0.7 40 5.3 8 0.7 52 0.4 44 -0.2 22 -0.5 30 -2.2 28 -3.5 12 -0.4 8 0.8 10 1.7 12 2.6 8 2.5 28 12.5 30 15.1 18 8.6 6 2.4 16 5.2 10 2.5 8 0.8 22 -0.7 32 -0.1 34 -1.3 24 0.4 12 0.8 16 1.9 12 2 13.7 2.8 M89.2 355.1l50 2.8 10 0.2 38 -4.3 12 -2.1 20 -5.9 20 -5.1 20 -6.8 8 -2.2 8 -1.3 14 -0.9 12 -0.2 26 1.4 14 -0.1 36 -1.3 36 -1.8 46 -1 40 -2 66 0.3 64 -1.1 126 -1 76 0 20 0.7 8 -1.6 12 -4.2 18 -7.8 13.7 -3.3 M89.2 374.4l52 -1.1 42 1.4 30 2.5 48 7 26 2.8 16 0.9 34 0.1 12 -1.5 18 -4.4 4 -1.8 12 -6.6 16 -7 8 -2.5 8 -1.3 14 -1.3 28 -0.8 28 0.8 14 1.3 8 1.3 8 2.6 16 7 12 6.6 4 1.7 18 4.5 12 1.5 34 -0.2 14 -0.7 28 -2.8 52 -7.4 22 -1.9 20 -1 34 -0.8 44 1 77.7 0.5 M89.2 377.3l32 0.7 20 1.4 16 1.9 46 8.8 6 0.5 24 -0.2 20 -0.4 8 -0.5 8 -2.1 18 -6.2 14 -3.3 20 -3.4 8 -0.7 8 0 10 1.3 22 4.8 28 8.2 20 4.5 10 1.7 12 1.5 18 1.1 18 -1.2 12 -1.4 10 -1.7 20 -4.5 28 -8.2 22 -4.8 10 -1.3 8 0 8 0.7 22 3.7 14 3.4 18 6.1 8 1.9 32 0.9 20 0.1 6 -0.4 50 -9.4 28 -2.5 36 -1 75.7 0.6 M89.2 379.2l26 1.4 12 1.4 22 4.5 40 10.3 22 3.6 12 0.9 18 0.6 22 -1.1 10 0.4 104 10.1 22 2.5 38 5.2 16 1.7 8 0.3 18 -1.2 94 -9.6 60 -4.8 74 -6.9 22 -3.4 34 -8.3 10 -2.2 14 -2.4 10 -1.2 20 -1.4 12 -0.4 42 0.4 31.7 1.4 M89.2 445.3l50 -1.3 14 -1 48 -9.2 22 -5.7 14 -4.6 8 -2 22 -2.8 20 -0.8 54 0 32 1.6 32 2.8 34 5.6 18 2.1 20 -0.6 26 -1.8 8 -1.3 16 -3.9 6 -0.8 28 -1.3 22 -0.3 12 1.1 22 3.6 30 4.2 14 2.6 38 8.2 10 1.7 10 1.1 36 1.3 78 1.3 34 -0.9 35.7 -2.4 M89.2 446.6l70 -0.2 40 -1.1 40 -3.8 30 -4.8 12 -1.5 32 -2.3 20 -0.7 30 0.2 22 0.7 6 0.9 20 4.3 20 1.6 18 0.8 18 -0.1 22 -0.9 18 -1.2 26 -3.1 26 -1.6 20 -0.4 24 1.3 28 2.4 56 5.8 32 2.4 60 1.1 54 0.3 30 -0.6 39.7 -1.7 M89.2 679.4l6 -18.6 6 -15.7 8 -17.9 8 -15.3 8 -13.4 18 -28.2 20 -34.2 8 -13 12 -18.2 20 -28.7 4 -3.9 4 -2.5 6 -2.8 6 -1.8 12 -1.7 38 -2.7 26 -0.5 38 1.2 74 6.2 32 2.1 14 0.4 12 -0.4 28 -2.7 36 -2.3 46 -2.5 12 -0.1 42 1.8 16 1.1 18 2.2 14 2.9 8 3.1 12 6.6 6 4.5 6 5.5 12 12.9 8 9.5 26 34.1 6 9.2 34 57.6 12 21.8 6 12.1 4 9.1 6 20 2 3.1 4 -0.6 4 -2.1 12 -9.1 20 -12.3 33.7 -26.9 M89.2 679.4l28 -40.3 42 -57.9 8 -12.6 12 -22.6 6 -10.4 6 -8.1 6 -7 8 -8.1 10 -8.8 8 -6.5 8 -5.3 10 -4.8 10 -3.8 6 -1.4 10 -1 14 0 26 2.6 42 1.9 30 2.8 38 2.6 28 3.9 10 0.8 6 -0.1 8 -0.7 24 -3.6 54 -6.9 10 -1 12 0 16 0.8 10 1.2 10 2 8 3.2 30 16 26 15.8 20 10.9 10 6.3 18 13 38 30 6 4 12 6.2 6 3.9 4 4 8 9.8 4 4.3 8 6.6 6 3.8 8 2.5 10 1.9 30 3.4 24 4.4 21.7 2.9 M89.2 630.2l8 -0.7 8 -1.6 10 -3.1 4 -2.1 14 -10.8 20 -19.4 12 -10.5 10 -7.8 56 -38.5 18 -10.3 6 -2.8 6 -2.2 16 -4.3 20 -3.4 10 -0.5 24 0.3 10 -0.8 42 -8.1 24 -5.6 10 -1.5 4 -0.2 6 0.5 20 4.3 10 1 8 -0.6 20 -3.4 8 -0.5 8 0.7 8 1.2 60 11.5 10 1.1 30 2.2 24 3.5 12 2.7 10 3.3 16 6.8 10 5.1 14 8.4 36 25.4 20 14.4 10 8.7 6 6.7 36 45.3 12 15.9 10 16 2 2 2 0.9 4 -0.4 4 -1.2 18 -9.2 16 -5.8 16 -4.4 15.7 -3.2 M89.2 567.5l50 7.9 6 0.7 6 0.2 6 -1.5 16 -7.2 14 -5.2 12 -3.7 16 -3.8 12 -1.8 8 -0.6 10 0.2 14 0.8 22 2.3 32 6.6 8 1.2 16 -0.5 16 -1.3 4 -1.1 6 -2.8 24 -13.8 34 -21.8 16 -11.2 6 -3.7 8 -3.4 6 -0.9 6 1 4 1.5 4 2.2 22 15.4 44 26.8 12 10 4 2.8 4 1.9 2 0.5 16 0.8 12 -0.2 20 -3.1 32 -6.4 6 -0.6 18 0.1 12 0.4 18 2.9 20 4.8 38 7.4 10 2.9 4 0.7 12 -1 26 -4.8 18 -1.4 12 0 4 0.7 6 1.7 18 7.2 12 7.6 8 5.7 10 7.8 6 2.4 5.7 1.1"/>
<path stroke="#472f7d" stroke-width="3.8" d="M89.2 130.3l16 -0.5 18 -1.3 8 -1.5 12 -3.1 16 -5 22 -8.9 56 -26.6 16 -6.6 12 -4.4 18 -5.4 14 -3.3 22 -3.4 8 -0.7 8 -0.3 16 0.7 26 2.5 32 5 26 3.6 12 1.3 10 0.4 10 -0.4 10 -1 28 -3.9 28 -4.6 24 -2.4 22 -1.2 8 0.3 10 1 20 3 8 1.7 14 3.8 16 5 24 9.5 48 22.6 20 8.4 16 6 22 6.1 12 2 26 1.5 44 0 35.7 -0.7 M89.2 130.3l36 -1.2 42 -2.9 70 -6.8 52 -4.5 14 -0.9 32 -1 18 -1.1 26 -2.3 30 -3.7 22 -2.1 14 -1.1 12 -0.4 12 0.4 14 1.1 22 2.1 30 3.7 20 1.8 24 1.6 44 1.7 58 4.9 56 5.5 52 3.8 38 1.4 44 -0.2 31.7 -0.6 M89.2 240.9l30 1.9 26 2.6 24 1.5 20 0.9 20 0 6 -0.3 8 -1 74 -12.4 20 -2.7 12 -1 18 0.3 30 2.4 58 7.8 12 1.1 10 0.4 10 -0.4 12 -1.1 58 -7.8 26 -2.1 18 -0.7 14 0.9 24 3.1 72 11.9 12 1.4 22 0.2 20 -0.7 26 -1.6 44 -4 14 -0.6 16 0.6 26 2.2 31.7 3.9 M89.2 301.2l20 -1.3 20 -2 46 -7.1 34 -6 30 -3.9 26 -2.5 30 -2.1 26 -1.5 20 -0.5 178 0.5 38 0.7 30 1 34 3 42 4.7 112 15.1 24 1.3 36 0.5 36 -1.1 8 -1.4 23.7 -5.9 M89.2 322.7l28 -0.6 36 -1.5 66 -4.1 30 -2.3 14 -1.6 22 -5.3 14 -2.4 16 -2.3 14 -1.1 8 -0.1 10 0.8 24 3.1 16 2.5 8 0.7 50 0.4 44 -0.2 24 -0.5 30 -2.3 28 -3.6 12 -0.4 8 0.7 8 1.3 14 3 8 2.4 8 3.2 20 9 50 25.1 20 7 10 2.7 8 0.8 22 -0.5 32 -0.1 34 -1.4 24 0.4 12 0.9 16 1.9 12 1.9 13.7 2.8 M89.2 355.1l50 2.7 10 0.2 6 -0.4 32 -4 8 -1.2 6 -1.5 18 -5.6 20 -5.6 20 -7.3 8 -2.5 8 -1.5 14 -1.2 12 -0.4 26 0.9 14 -0.1 70 -2.6 48 -0.9 40 -1.5 66 0.3 68 -1.3 120 -1.1 76 0 22 0.7 4 -0.5 4 -1.1 12 -4.5 18 -8.2 13.7 -3.6 M89.2 373.3l54 -1.2 42 1.3 28 2.5 48 7.3 26 2.8 14 0.9 32 0.3 6 -0.2 8 -1 10 -2 10 -2.6 4 -1.7 12 -6.6 16 -6.8 8 -2.5 6 -1 10 -1 20 -1.1 18 -0.1 18 0.4 14 1 12 1.4 8 2.2 8 3.2 12 5.2 10 5.7 4 1.7 16 3.9 8 1.3 6 0.5 36 -0.1 14 -0.9 26 -2.7 50 -7.5 20 -1.9 14 -0.8 40 -1.1 48 1.2 77.7 0.4 M89.2 376.4l34 0.8 26 2.1 10 1.5 38 7.8 8 1.2 32 0.1 20 -0.4 4 -0.4 8 -2.1 18 -6.3 14 -3.3 20 -3.5 8 -0.7 8 0 10 1.2 22 4.4 28 8 22 4.9 22 2.9 16 1 16 -1 22 -2.9 22 -4.9 28 -8 22 -4.4 10 -1.2 8 0 8 0.7 20 3.4 16 3.8 18 6.2 8 1.9 28 0.7 24 0.2 6 -0.5 50 -9.6 26 -2.5 38 -1.1 75.7 0.6 M89.2 378.5l26 1.4 12 1.4 24 4.8 38 9.7 22 3.4 30 1.8 22 -0.5 10 0.5 106 10.4 22 2.5 36 5 16 1.6 6 0.3 16 -0.9 40 -4.5 54 -5.4 64 -5.4 76 -7.1 20 -3.1 42 -10.1 14 -2.4 12 -1.5 20 -1.5 12 -0.4 42 0.4 31.7 1.3 M89.2 443.9l50 -1.6 14 -1 48 -9.7 22 -5.5 16 -4.7 6 -1.3 22 -2.6 20 -0.9 54 0.1 32 1.6 32 3 34 5.9 12 1.7 6 0.5 20 -0.6 26 -1.9 8 -1.4 16 -4.1 6 -0.9 28 -1.4 22 -0.2 12 1.1 22 3.8 32 4.5 14 2.5 36 7.5 10 1.6 10 1.1 34 1.2 78 1.5 34 -0.9 37.7 -2.4 M89.2 445.2l70 -0.4 40 -1.1 42 -3.7 30 -4.7 12 -1.4 30 -2.3 20 -0.7 26 0.2 24 0.7 8 1.1 14 3.5 8 1.4 22 1.7 16 0.7 18 -0.2 20 -0.9 18 -1.4 26 -3.3 26 -1.7 20 -0.5 22 1.1 84 8.2 34 2.4 60 1.1 54 0.3 30 -0.5 39.7 -1.6 M89.2 679.4l6 -18.3 6 -15.6 8 -17.9 8 -15.3 8 -13.4 18 -28.3 26 -44 14 -21.4 20 -28.8 4 -4 4 -2.4 6 -2.9 8 -2.3 12 -1.6 40 -3 22 -0.5 38 0.9 76 5.9 30 1.8 14 0.4 12 -0.5 28 -2.4 38 -2.4 36 -1.8 16 -0.3 60 3.5 18 2.2 14 2.9 8 2.8 10 5.3 6 3.9 8 6.9 10 10.4 10 11.5 28 36.1 6 9.2 34 57.5 12 21.6 6 12.1 4 9.1 6 19.9 2 3.1 4 -0.6 4 -2.1 12 -9.1 20 -12.3 33.7 -26.9 M89.2 679.4l28 -39.9 42 -57.6 8 -12.5 12 -22.8 6 -10.4 6 -8.1 6 -7.1 8 -8.2 10 -8.9 8 -6.5 8 -5.4 10 -4.9 10 -3.8 8 -1.8 10 -0.9 12 -0.1 22 2.1 46 1.8 28 2.7 40 3 28 4.2 10 0.8 6 -0.1 8 -0.7 24 -3.8 54 -7.1 10 -1 12 0 16 0.9 10 1.2 10 2 8 3.3 28 15.1 10 5.9 16 10.3 22 12.2 10 6.5 18 13 38 30 6 4 12 6 6 3.9 4 4 8 9.7 4 4.3 8 6.5 6 3.8 6 1.9 10 2.1 10 1.4 22 2.3 24 4.4 21.7 2.9 M89.2 630.2l8 -0.7 8 -1.6 10 -3.1 4 -2.2 14 -10.9 20 -19.6 12 -10.5 10 -7.9 56 -38.6 18 -10.4 6 -2.9 6 -2.2 16 -4.4 20 -3.6 10 -0.5 24 0.1 10 -0.8 42 -8.5 22 -5.1 10 -1.6 4 -0.3 6 0.4 6 1.2 16 4.2 6 1 4 0.2 8 -0.7 20 -4.2 6 -0.7 4 0 16 2 58 11.1 10 1.2 30 2.3 24 3.6 12 2.9 8 2.6 14 5.9 12 6 16 9.7 16 11.8 34 23.8 8 6 8 7.1 6 6.8 36 45.4 12 16 10 16 2 2 2 0.9 4 -0.4 4 -1.2 18 -9.2 16 -5.8 16 -4.4 15.7 -3.2 M89.2 567.5l32 4.6 18 3.2 6 0.7 6 0.1 6 -1.5 14 -6.5 12 -4.6 16 -5.1 16 -3.8 12 -1.8 8 -0.6 10 0.2 14 0.9 22 2.2 8 1.4 24 5.3 8 1.2 16 -0.3 16 -1.1 4 -1.1 6 -2.6 24 -13.5 34 -22 16 -11.4 6 -3.8 4 -2 4 -1.5 6 -0.8 6 1 4 1.6 4 2.1 22 15.7 44 26.9 14 10.9 4 2.3 4 1.2 16 0.9 12 -0.3 18 -2.8 36 -7 6 -0.4 22 0.2 8 0.6 16 2.7 20 4.9 38 7.2 10 3.1 4 0.7 12 -1.1 26 -4.7 18 -1.3 12 0 4 0.7 6 1.7 18 7.2 12 7.6 8 5.7 10 7.8 6 2.4 5.7 1.1"/>
<path stroke="#472f7d" stroke-width="3.7" d="M89.2 679.4l6 -10.7 6 -9.1 8 -9.8 6 -6 6 -4.9 8 -5 16 -8.7 8 -3.3 14 -3.5 6 -0.9 6 -0.2 24 1.6 22 2.8 6 0.2 4 -0.3 6 -1.2 8 -2.5 24 -9.2 14 -5.8 8 -2.7 6 -1.2 12 -1.6 20 -1.5 10 0.2 12 1.3 68 11.9 28 1.3 36 4 18 0.8 56 -0.3 18 0.2 6 0.5 10 2 50 13.1 10 2.1 8 1.1 6 -0.1 6 -1 18 -4.4 16 -4.4 18 -3.5 8 -0.8 6 0.4 16 3.6 6 1.9 4 1.7 10 5.4 20 12.3 8 5.8 6 5.1 4 5.3 8 13 2 2.5 2 1.7 2 0.8 4 -0.4 4 -1.2 18 -9.2 16 -5.8 16 -4.4 15.7 -3.2"/>
<path stroke="#482475" stroke-width="3.8" d="M89.2 128.2l14 -0.4 18 -1.2 8 -1.3 12 -3 16 -4.9 16 -6.2 18 -7.8 46 -21.9 16 -6.5 12 -4.4 18 -5.4 14 -3.2 24 -3.7 14 -0.7 16 0.6 26 2.5 32 5.2 26 3.6 12 1.3 10 0.5 10 -0.5 10 -1 28 -3.9 28 -4.7 22 -2.3 14 -1 10 -0.3 8 0.2 8 0.8 28 4.5 14 3.6 16 4.9 26 10.1 48 22.3 22 9.3 16 5.7 22 6 10 1.6 26 1.5 44 0 35.7 -0.7 M89.2 128.2l36 -1.2 46 -3.3 66 -6.4 52 -4.5 14 -0.9 32 -1 18 -1.1 26 -2.2 30 -3.7 24 -2.3 14 -1 10 -0.3 12 0.4 14 1.1 22 2.1 30 3.7 20 1.7 24 1.6 44 1.7 56 4.7 58 5.7 52 3.7 38 1.5 44 -0.2 31.7 -0.6 M89.2 242.9l32 2.1 22 2.2 14 0.8 26 1.2 22 -0.1 8 -0.3 8 -1 72 -13.4 24 -3.4 12 -1.1 18 0.3 30 2.4 58 8 12 1.2 10 0.4 10 -0.4 12 -1.2 58 -8 26 -2.2 18 -0.6 14 1 24 3.2 74 13.5 12 1.4 22 0.4 22 -0.7 22 -1.2 46 -4 14 -0.5 16 0.8 26 2.3 29.7 3.8 M89.2 299.6l18 -1.1 20 -2 48 -7.5 34 -6.2 36 -4.5 22 -2.1 30 -2 26 -1.2 22 -0.5 156 0.2 46 0.8 40 1.4 26 2.1 40 4.3 118 16.1 10 1 14 0.6 38 0.6 38 -1 8 -1.4 23.7 -5.8 M89.2 320.0l28 -0.5 36 -1.3 72 -3.8 30 -2.1 10 -1.4 18 -4.4 6 -1.2 24 -3.5 16 -1.2 8 -0.1 10 0.8 46 6.6 48 0.5 42 -0.1 28 -0.6 32 -2.5 28 -3.7 12 -0.4 8 0.7 10 1.7 14 3 8 2.6 28 12.2 48 24.6 20 7.4 10 2.8 8 0.8 52 -0.4 38 -1.5 22 0.5 12 0.9 16 1.9 12 1.9 13.7 2.8 M89.2 355.0l50 2.8 10 0.2 8 -0.7 32 -4.1 12 -2.5 38 -12 22 -8.7 6 -2 10 -1.9 16 -1.6 10 -0.3 34 0.5 72 -2.2 50 -0.8 36 -1.1 70 0.4 70 -1.5 80 -1.1 114 -0.2 22 0.8 4 -0.6 4 -1.2 12 -4.7 18 -8.7 8 -2.4 5.7 -1.3 M89.2 372.3l56 -1.4 40 1.2 28 2.5 48 7.5 26 3 14 0.9 32 0.2 6 -0.2 8 -0.9 10 -2 10 -2.5 4 -1.6 12 -6.6 16 -6.5 8 -2.5 14 -1.8 20 -1.1 18 -0.3 20 0.5 14 0.9 12 1.5 8 2.1 8 3.1 12 5.1 10 5.6 4 1.7 18 4.1 8 1.1 6 0.3 34 -0.2 14 -0.8 26 -2.9 50 -7.7 20 -1.9 14 -0.9 36 -0.9 52 1.4 77.7 0.3 M89.2 375.6l34 0.8 26 1.9 10 1.6 38 8.1 8 1.2 6 0.3 38 -0.3 10 -0.2 4 -0.7 6 -1.7 18 -6.3 22 -5 16 -2.4 12 -0.3 10 1 22 4.1 28 7.8 24 5.2 20 2.6 16 0.9 16 -0.9 20 -2.6 24 -5.2 28 -7.9 22 -4 10 -1.1 8 0.1 8 0.7 20 3.6 16 3.7 18 6.3 6 1.6 4 0.5 16 0.3 38 0 8 -1.2 44 -9 10 -1.2 16 -1.2 38 -1.1 75.7 0.4 M89.2 377.7l26 1.5 14 1.7 22 4.3 38 9.6 20 3.1 32 2.2 22 0.1 10 0.6 108 10.7 20 2.3 36 4.9 16 1.7 6 0.2 18 -1.3 38 -4.5 54 -5.3 142 -13.1 18 -2.8 40 -9.6 16 -2.8 12 -1.5 20 -1.6 12 -0.4 42 0.4 31.7 1.4 M89.2 442.5l48 -1.7 14 -1 8 -1.4 40 -8.6 44 -10.8 24 -2.8 20 -0.9 54 0.1 32 1.7 32 3.1 34 6.3 12 1.8 6 0.5 20 -0.6 26 -2 8 -1.5 16 -4.3 6 -1 28 -1.4 22 -0.3 12 1.2 22 3.8 34 4.8 48 9.3 10 1.6 10 1.1 34 1.2 78 1.5 34 -0.8 37.7 -2.4 M89.2 443.8l72 -0.6 38 -1.1 42 -3.3 32 -4.9 12 -1.4 30 -2.3 18 -0.6 26 0.2 24 0.9 8 1.2 14 3.7 8 1.5 22 1.8 16 0.7 16 -0.1 20 -1 20 -1.6 26 -3.6 26 -1.8 20 -0.6 20 1 84 8.1 36 2.4 60 1.2 52 0.3 32 -0.5 39.7 -1.5 M89.2 679.4l6 -18 6 -15.5 8 -17.9 8 -15.3 8 -13.5 20 -31.6 24 -40.6 14 -21.5 20 -28.9 4 -4 4 -2.5 6 -2.8 8 -2.4 12 -1.7 40 -3.3 22 -0.7 38 0.6 76 5.3 30 1.6 14 0.4 12 -0.4 28 -2.3 44 -2.5 28 -1.3 16 -0.3 62 4.3 18 2.4 14 3.1 8 3 8 4.3 8 5.2 8 7 12 12.7 8 9.3 28 35.6 6 9.2 36 60.7 10 18.2 6 12 4 9.1 6 19.8 2 3.1 4 -0.6 4 -2.1 12 -9.1 20 -12.3 33.7 -26.9 M89.2 679.4l26 -36.7 44 -60.1 8 -12.5 12 -22.8 6 -10.5 6 -8.2 6 -7 8 -8.3 12 -10.7 8 -6.3 8 -5.2 12 -5.6 8 -2.8 6 -1.2 12 -1.2 10 -0.1 22 1.8 36 0.9 10 0.6 28 2.8 40 3.3 28 4.4 10 0.8 6 -0.1 8 -0.7 24 -4.1 54 -7.3 10 -1 12 0.1 16 0.9 10 1.3 10 2 8 3.3 28 15.4 10 6.1 16 10.5 22 12.5 10 6.5 18 13 38 30.2 6 3.9 12 5.8 6 3.8 4 4 8 9.7 4 4.2 8 6.6 4 2.6 6 2.4 12 2.6 32 3.7 24 4.4 21.7 2.9 M89.2 630.2l8 -0.7 8 -1.7 10 -3 4 -2.3 14 -11.1 20 -19.7 12 -10.6 10 -7.9 56 -38.8 20 -11.5 6 -2.7 6 -2.1 14 -3.8 20 -3.8 10 -0.6 24 -0.1 10 -0.9 44 -9.2 18 -4.2 12 -1.9 4 -0.2 6 0.5 6 1.4 16 5 6 1.2 4 0.2 4 -0.2 6 -1.1 20 -4.9 8 -0.6 8 0.7 8 1.2 60 11.4 36 3.1 14 1.9 12 2.1 12 2.9 8 2.7 14 6.1 12 6.1 14 8.5 18 13.6 34 23.8 8 6 8 7.1 6 6.8 36 45.5 12 16 10 16.1 2 2 2 0.9 4 -0.4 4 -1.2 18 -9.2 16 -5.8 16 -4.4 15.7 -3.2 M89.2 567.5l32 4.3 20 3.6 10 0.5 6 -1.5 12 -5.8 12 -4.7 18 -5.8 16 -3.8 12 -1.7 8 -0.6 10 0.1 14 0.9 22 2.3 8 1.4 26 5.8 6 0.8 18 -0.3 14 -0.8 4 -1.1 6 -2.5 24 -13.1 34 -22.2 16 -11.6 6 -3.8 4 -2.1 4 -1.5 6 -0.9 6 1.1 4 1.6 4 2.2 22 15.9 44 27.1 14 10.2 4 2.1 4 1.2 14 0.8 12 0 20 -3.1 36 -6.9 6 -0.4 22 0.1 8 0.6 16 2.8 20 4.9 38 7.2 10 3.1 4 0.8 12 -1.1 26 -4.7 18 -1.2 12 0 4 0.7 6 1.7 18 7.2 12 7.6 8 5.7 10 7.8 6 2.4 5.7 1.1"/>
<path stroke="#481a6c" stroke-width="3.8" d="M89.2 126.0l14 -0.4 18 -1.2 8 -1.3 12 -3 16 -4.9 14 -5.4 18 -7.7 48 -22.5 16 -6.5 12 -4.3 18 -5.4 14 -3.2 24 -3.7 14 -0.8 16 0.7 26 2.5 32 5.3 26 3.7 12 1.4 10 0.4 10 -0.5 10 -1 28 -4.1 28 -4.7 22 -2.3 14 -1.1 10 -0.3 8 0.3 8 0.7 28 4.6 14 3.6 16 4.9 26 10 48 22 24 10 14 5 22 6 10 1.6 26 1.5 44 0 35.7 -0.6 M89.2 126.0l36 -1.2 48 -3.4 64 -6.2 52 -4.5 14 -0.9 32 -1 18 -1.1 26 -2.3 30 -3.6 24 -2.3 14 -1 10 -0.2 10 0.2 14 1.1 24 2.2 30 3.7 20 1.7 24 1.6 44 1.7 56 4.7 56 5.5 54 3.9 38 1.4 44 -0.1 31.7 -0.6 M89.2 245.0l32 2 28 2.5 32 1.3 18 -0.2 12 -0.5 8 -1 74 -14.9 24 -3.6 12 -1.2 18 0.3 30 2.4 32 4.8 26 3.4 12 1.2 10 0.4 10 -0.4 12 -1.2 26 -3.4 32 -4.8 26 -2.2 18 -0.6 14 1 24 3.5 74 14.6 12 1.7 24 0.7 24 -0.6 20 -1 44 -3.8 14 -0.4 16 0.7 26 2.4 29.7 3.9 M89.2 298.0l18 -1.1 20 -2.1 48 -7.6 34 -6.4 20 -2.8 20 -2.2 20 -1.9 28 -1.6 28 -1.2 26 -0.5 138 -0.2 50 1 48 1.8 36 3.1 36 3.9 110 15.4 10 1.1 8 0.4 42 0.9 42 -0.8 8 -1.4 23.7 -5.9 M89.2 317.2l62 -1.5 78 -3.3 28 -1.6 8 -1.2 22 -5.2 24 -3.3 18 -1.5 8 0 10 0.8 46 6.9 42 0.5 44 0 32 -0.6 32 -2.6 28 -3.9 8 -0.4 6 0.1 10 1.2 12 2.3 10 2.3 8 2.7 28 12.2 48 25.1 18 6.8 10 2.9 8 0.9 52 -0.3 38 -1.5 22 0.5 12 0.8 16 1.9 12 2 13.7 2.8 M89.2 355.0l50 2.8 10 0.2 8 -0.7 32 -4.2 8 -1.5 6 -1.7 36 -12.2 22 -9.4 8 -2.7 12 -2.2 14 -1.6 8 -0.4 32 0.2 72 -1.8 86 -1.2 76 0.4 68 -1.7 78 -1.3 114 -0.2 22 0.9 4 -0.6 4 -1.3 12 -4.9 18 -9.2 8 -2.5 5.7 -1.4 M89.2 371.2l56 -1.6 40 1.1 30 2.8 46 7.5 26 3.1 14 0.9 32 0.2 6 -0.2 8 -0.9 10 -1.8 10 -2.4 4 -1.7 12 -6.4 14 -5.7 10 -3 14 -1.9 18 -1 18 -0.3 20 0.3 16 1.1 12 1.4 10 2.8 16 6.3 12 6.5 4 1.6 18 4 8 1 6 0.3 34 -0.1 14 -0.9 26 -3 50 -8 18 -1.8 14 -0.9 36 -0.9 54 1.6 77.7 0.2 M89.2 374.7l36 0.9 24 1.8 10 1.6 38 8.4 8 1.3 6 0.3 40 -0.3 8 -0.1 4 -0.7 6 -1.7 18 -6.4 22 -5 16 -2.5 12 -0.4 12 1.2 20 3.4 28 7.7 24 5.2 20 2.5 16 0.9 16 -0.9 20 -2.5 24 -5.3 28 -7.6 20 -3.4 12 -1.2 12 0.4 16 2.4 24 5.4 22 7.6 6 0.9 8 0.2 46 -0.1 8 -1.2 44 -9.4 10 -1.2 16 -1.1 38 -1.1 75.7 0.3 M89.2 376.9l26 1.6 16 2 20 3.8 38 9.4 18 2.8 34 2.6 22 0.8 12 1 110 10.9 18 2.1 34 4.7 20 1.8 18 -1.2 36 -4.5 22 -2.3 180 -17 16 -2.5 40 -9.6 16 -2.8 12 -1.5 20 -1.6 12 -0.5 42 0.4 31.7 1.4 M89.2 441.0l48 -1.9 14 -1.1 24 -5 66 -15.3 24 -2.7 22 -1 54 0.1 14 0.5 18 1.3 32 3.3 34 6.6 12 1.9 6 0.5 20 -0.6 26 -2.1 8 -1.6 16 -4.6 6 -1 28 -1.5 22 -0.3 10 1 24 4.2 36 5.1 46 8.6 10 1.5 10 1 34 1.2 78 1.6 34 -0.8 37.7 -2.3 M89.2 442.4l78 -0.9 34 -1.1 42 -3.1 32 -4.8 12 -1.4 28 -2.2 18 -0.7 24 0.3 26 1 8 1.3 14 3.9 8 1.6 22 2 16 0.8 16 -0.1 20 -1.2 20 -1.7 26 -3.8 26 -2 20 -0.7 18 0.8 84 8.1 38 2.5 60 1.1 52 0.4 32 -0.5 39.7 -1.3 M89.2 679.4l6 -17.7 6 -15.4 8 -17.9 8 -15.3 8 -13.5 20 -31.6 24 -40.7 14 -21.5 20 -29 4 -4.1 4 -2.5 6 -2.8 8 -2.5 12 -1.8 42 -3.7 22 -0.8 38 0.3 74 4.8 28 1.3 16 0.4 12 -0.4 28 -2 46 -2.5 40 -1.3 22 2.1 42 3.1 16 2.3 14 3.1 8 2.7 8 4.2 10 6.6 6 5.2 8 8.2 12 13.4 30 37.6 6 9.1 36 60.5 8 14.4 6 11.6 6 13.2 6 19.8 2 3 4 -0.6 4 -2.1 12 -9.1 20 -12.3 33.7 -26.9 M89.2 679.4l26 -36.2 44 -59.8 8 -12.5 12 -22.9 6 -10.6 6 -8.2 8 -9.3 8 -8 12 -10.6 8 -6.2 6 -3.7 12 -5.8 8 -2.9 8 -1.6 12 -1.1 10 -0.1 20 1.6 34 0.4 12 0.7 68 6.4 28 4.6 10 0.9 6 -0.1 8 -0.8 24 -4.2 32 -4.6 30 -3.8 12 -0.1 16 0.9 12 1.4 10 2.1 8 3.4 26 14.5 10 6 20 13.4 20 11.5 10 6.5 16 11.6 40 31.7 6 3.8 12 5.8 6 3.7 4 3.9 8 9.7 4 4.2 8 6.5 4 2.6 6 2.4 10 2.2 10 1.5 24 2.5 24 4.4 21.7 2.9 M89.2 630.2l8 -0.7 8 -1.7 10 -3.1 4 -2.2 14 -11.3 20 -20 12 -10.7 10 -7.9 56 -38.8 20 -11.7 6 -2.7 6 -2.2 14 -3.9 20 -4 10 -0.6 26 -0.4 8 -0.8 60 -13.3 12 -2 6 -0.4 6 0.8 6 1.6 16 5.7 6 1.3 4 0.3 4 -0.3 6 -1.2 20 -5.8 8 -0.7 8 0.6 8 1.1 60 11.4 36 3.3 24 3.6 12 3 10 3.3 10 4.4 14 7 16 9.8 20 15.4 36 25.3 6 4.8 6 5.4 6 6.8 38 48.3 10 13.4 10 16.1 2 2 2 0.9 4 -0.4 4 -1.2 18 -9.2 16 -5.8 16 -4.4 15.7 -3.2 M89.2 567.5l32 4 20 3.7 10 0.6 6 -1.6 12 -6 10 -3.9 10 -3.6 10 -3 16 -3.7 12 -1.7 8 -0.6 10 0.2 14 0.9 22 2.2 10 1.8 24 5.5 6 0.9 18 -0.2 14 -0.6 4 -1 6 -2.4 24 -12.8 34 -22.4 16 -11.7 6 -3.9 4 -2.1 4 -1.6 6 -0.9 6 1.1 4 1.6 4 2.3 22 16.1 44 27.2 12 8.4 4 2.3 4 1.5 4 0.7 10 0.6 14 0.1 20 -3.2 36 -7 6 -0.4 22 0.1 8 0.6 16 2.9 20 5 38 7.1 10 3.2 4 0.7 12 -1 26 -4.8 18 -1.1 12 0.1 4 0.7 6 1.7 18 7.2 12 7.6 8 5.7 10 7.8 6 2.4 5.7 1.1"/>
<path stroke="#481a6c" stroke-width="3.7" d="M89.2 679.4l6 -10.6 4 -6.2 8 -10.1 8 -8.1 6 -4.7 6 -3.7 16 -8.4 8 -3.4 8 -2.1 8 -1.4 6 -0.7 6 0.1 24 3 22 4.7 6 0.5 4 -0.1 6 -1 8 -2.4 24 -9.1 14 -5.8 8 -2.6 4 -0.9 12 -1.3 20 -1.4 12 0.2 12 1.7 32 6.4 28 6.7 10 2 44 5 24 1.1 14 -0.1 32 -1.3 36 0 10 0.5 8 1.6 16 4.6 36 9.3 10 2 8 0.8 6 -0.4 8 -2.2 16 -5.7 18 -7.9 16 -5 6 -1.4 4 -0.4 8 0.7 14 3 8 2.8 10 5.4 22 13.6 6 4.4 6 5.2 4 5.2 8 13 2 2.4 2 1.7 2 0.8 4 -0.4 4 -1.2 18 -9.2 16 -5.8 16 -4.4 15.7 -3.2"/>
<path stroke="#470d60" stroke-width="3.8" d="M89.2 123.8l14 -0.4 18 -1.2 8 -1.3 12 -3 14 -4.2 14 -5.4 20 -8.5 46 -21.3 16 -6.5 14 -5.1 18 -5.3 14 -3.3 24 -3.6 14 -0.8 16 0.7 26 2.5 32 5.3 26 3.8 12 1.4 10 0.5 10 -0.5 10 -1.1 28 -4.1 28 -4.8 22 -2.3 14 -1.1 10 -0.3 8 0.2 8 0.8 28 4.5 14 3.6 16 4.9 28 10.8 48 21.8 22 9.1 14 5 22 6 10 1.6 26 1.5 44 0 35.7 -0.6 M89.2 123.8l34 -1.2 52 -3.5 62 -6.1 54 -4.7 44 -1.7 18 -1.1 26 -2.2 30 -3.6 24 -2.3 14 -1 10 -0.2 10 0.2 14 1.1 24 2.2 30 3.6 20 1.7 22 1.5 46 1.8 56 4.7 56 5.6 56 3.8 36 1.4 44 -0.2 31.7 -0.5 M89.2 247.0l32 2.1 24 2.1 16 0.7 26 0.4 24 -1.1 12 -1.9 70 -15.3 24 -3.9 14 -1.2 18 0.4 28 2.4 32 4.9 26 3.4 12 1.3 10 0.4 10 -0.4 12 -1.3 26 -3.5 32 -4.8 26 -2.3 18 -0.6 14 1.1 26 3.9 72 15.5 12 1.9 24 1.1 26 -0.4 18 -0.7 44 -3.8 14 -0.4 16 0.8 26 2.4 29.7 4 M89.2 296.3l18 -1.1 20 -2.1 48 -7.8 36 -6.8 20 -2.8 22 -2.5 20 -1.6 30 -1.5 26 -0.9 34 -0.5 84 -0.7 36 0.2 50 1.1 54 2.2 38 3.3 34 3.6 78 11.4 36 4.8 12 0.9 42 0.8 44 -0.6 6 -0.9 25.7 -6.3 M89.2 314.4l60 -1.2 28 -1.2 56 -1.5 24 -1.1 8 -1.1 22 -5.1 26 -3.4 16 -1.1 8 -0.1 10 0.9 46 7.3 40 0.5 42 0 34 -0.6 34 -2.8 28 -4 8 -0.5 6 0.2 12 1.5 16 3.2 8 2.2 8 2.9 16 6.7 10 4.7 22 11.5 24 13.2 18 7.2 10 3 8 0.9 52 -0.1 38 -1.5 24 0.6 10 0.7 16 1.9 12 2 13.7 2.8 M89.2 355.0l50 2.8 10 0.2 8 -0.7 34 -4.7 6 -1.2 6 -1.8 34 -12.2 8 -3.2 16 -7.6 8 -3 14 -2.9 14 -1.7 116 -2 80 -0.4 74 0.4 72 -2 74 -1.4 116 -0.2 22 1 4 -0.7 4 -1.3 12 -5.2 18 -9.6 8 -2.7 5.7 -1.5 M89.2 370.1l58 -1.8 38 0.9 30 2.9 46 7.8 26 3.2 14 1 32 0 8 -0.2 8 -1 18 -3.8 4 -1.6 12 -6.4 14 -5.4 10 -3 14 -1.8 18 -1 20 -0.3 20 0.4 14 0.9 12 1.4 10 2.7 16 6.1 12 6.5 4 1.5 18 3.8 14 1.2 34 0 14 -0.9 26 -3.1 50 -8.3 18 -1.8 14 -0.9 36 -0.8 54 1.8 77.7 0.1 M89.2 373.7l36 0.9 24 1.9 12 2.1 38 8.6 8 1.1 50 -0.1 4 -0.3 4 -0.9 20 -7.2 24 -5.6 16 -2.5 8 -0.5 6 0.2 12 1.2 20 3.1 26 7.1 26 5.5 20 2.4 14 0.7 14 -0.7 20 -2.4 26 -5.5 20 -5.7 8 -1.8 20 -3 12 -1 6 0 8 0.6 16 2.7 22 5 22 7.7 4 0.7 4 0.2 52 -0.1 8 -1.3 44 -9.6 8 -1 16 -1.3 38 -1.1 77.7 0.2 M89.2 376.1l26 1.7 18 2.2 18 3.3 38 9.4 16 2.3 16 1.6 48 3.5 108 10.7 24 2.6 36 5 20 1.8 20 -1.6 34 -4.5 20 -2.2 184 -17.6 16 -2.7 38 -9.1 16 -2.7 12 -1.5 20 -1.7 12 -0.5 42 0.4 31.7 1.3 M89.2 439.5l46 -2 16 -1.3 8 -1.6 54 -12.8 24 -5.1 26 -2.9 24 -1.1 54 0 14 0.6 18 1.4 32 3.4 34 7 12 2 6 0.5 20 -0.6 26 -2.3 8 -1.7 16 -4.7 6 -1.1 28 -1.6 22 -0.3 10 1 24 4.3 44 6.3 42 7.6 16 1.8 32 1.2 80 1.6 34 -0.8 37.7 -2.2 M89.2 441.0l88 -1.4 44 -2.1 26 -1.9 40 -5.7 28 -2.4 18 -0.7 24 0.4 26 1.1 8 1.4 14 4.1 8 1.7 22 2.2 16 0.8 16 -0.1 20 -1.3 20 -1.8 26 -4.1 26 -2.1 20 -0.8 18 0.8 74 7.2 26 2 20 1.1 60 1.2 52 0.4 34 -0.4 39.7 -1.3 M89.2 679.4l6 -17.4 6 -15.3 8 -17.9 8 -15.3 8 -13.5 20 -31.6 26 -43.9 28 -41.9 6 -7.9 4 -3.2 6 -3.1 6 -2.3 6 -1.6 10 -1.4 44 -4.2 20 -0.9 38 0 76 4.3 42 1.4 12 -0.3 28 -1.8 48 -2.5 36 -1 6 0.4 18 2.2 42 3.5 14 2.1 14 3.1 8 2.6 6 2.9 10 6.3 8 6.3 8 8 12 13.2 32 39.4 6 9.2 36 60.3 8 14.3 6 11.6 6 13.1 6 19.7 2 3 4 -0.6 4 -2.1 12 -9.1 20 -12.3 33.7 -26.9 M89.2 679.4l26 -35.8 44 -59.4 8 -12.5 14 -26.8 4 -6.8 6 -8.3 8 -9.4 8 -8 12 -10.7 8 -6.2 6 -3.9 12 -5.9 8 -2.9 8 -1.7 14 -1.5 8 0 18 1.2 36 0.2 12 0.7 68 6.8 28 4.8 10 1 6 -0.1 8 -0.9 26 -4.8 30 -4.4 30 -3.9 12 -0.1 18 1.2 10 1.3 10 2.1 8 3.4 26 14.8 10 6.2 20 13.7 20 11.7 12 8 14 10.2 40 31.7 6 3.9 12 5.5 6 3.7 4 3.9 8 9.6 4 4.2 8 6.5 4 2.6 6 2.3 10 2.1 10 1.5 24 2.5 24 4.4 21.7 2.9 M89.2 630.2l8 -0.7 8 -1.7 10 -3.1 4 -2.3 14 -11.4 16 -16.4 10 -9.3 8 -7 8 -6.2 58 -40.3 18 -10.4 6 -2.8 6 -2.2 14 -4.1 20 -4.1 8 -0.7 28 -0.6 8 -0.9 58 -13.2 12 -2.1 8 -0.5 6 0.9 6 2 16 6.3 6 1.5 4 0.3 4 -0.3 6 -1.3 20 -6.6 6 -1 4 0.1 8 0.6 8 1.2 58 11.1 8 1 28 2.4 24 3.8 12 3 10 3.4 10 4.5 14 7.3 16 10 20 15.8 36 25.3 6 4.7 6 5.5 6 6.8 38 48.4 10 13.4 10 16.2 2 2 2 0.9 4 -0.4 4 -1.2 18 -9.2 16 -5.8 16 -4.4 15.7 -3.2 M89.2 567.5l30 3.5 24 4.2 8 0.4 6 -1.6 12 -6.1 8 -3.2 12 -4.3 10 -3 14 -3.4 14 -2 8 -0.6 10 0.2 16 1 20 2.1 22 4.4 12 3 6 1 18 -0.1 14 -0.4 4 -0.9 6 -2.3 22 -11.3 8 -5 28 -18.7 16 -12 6 -4 4 -2.1 4 -1.5 6 -1 6 1.1 6 2.7 6 4 18 13.7 56 35.1 4 2.1 4 1.4 14 1.3 14 0.1 8 -1.1 48 -9.2 6 -0.3 22 0 8 0.7 16 2.9 20 5.1 38 6.9 10 3.3 4 0.8 6 -0.3 6 -0.8 26 -4.7 18 -1 12 0.1 4 0.7 6 1.7 18 7.2 12 7.6 8 5.7 10 7.8 6 2.4 5.7 1.1"/>
<path stroke="#440154" stroke-width="3.8" d="M89.2 121.5l14 -0.4 18 -1.2 8 -1.3 10 -2.4 16 -4.8 12 -4.6 22 -9.3 46 -21 18 -7.2 12 -4.3 18 -5.3 14 -3.2 24 -3.7 14 -0.8 16 0.7 26 2.5 32 5.4 28 4.2 10 1.2 10 0.4 10 -0.5 10 -1.1 28 -4.2 26 -4.6 22 -2.4 24 -1.6 8 0.1 10 0.9 28 4.6 14 3.5 16 4.8 28 10.7 48 21.6 24 9.9 12 4.2 22 6 10 1.6 26 1.5 44 0 35.7 -0.6 M89.2 121.5l34 -1.2 54 -3.6 60 -5.9 54 -4.7 44 -1.7 18 -1.1 26 -2.2 30 -3.5 24 -2.3 14 -1 10 -0.3 10 0.3 14 1 24 2.3 30 3.5 20 1.7 24 1.6 42 1.5 58 4.9 56 5.5 56 3.8 36 1.4 44 -0.1 31.7 -0.6 M89.2 249.0l32 2.1 22 1.9 12 0.6 30 0.3 24 -1.3 12 -1.9 18 -4.5 54 -12.5 24 -4 14 -1.3 18 0.4 28 2.4 32 5 26 3.5 12 1.3 10 0.4 10 -0.4 12 -1.3 26 -3.5 32 -5 26 -2.3 18 -0.6 14 1.1 26 4.2 56 12.7 18 4.4 10 1.7 26 1.5 26 -0.2 18 -0.7 44 -3.7 14 -0.3 14 0.8 26 2.5 29.7 4.1 M89.2 294.6l18 -1.1 20 -2.1 48 -8 38 -7.3 22 -3 30 -3.1 22 -1.3 40 -1.3 110 -1.6 36 0 38 0.8 62 2.5 26 1.6 36 3.2 26 2.9 72 10.8 38 5.1 12 1.1 40 0.8 48 -0.3 6 -1 25.7 -6.3 M89.2 311.5l42 -0.6 46 -1.4 54 -0.7 26 -0.8 8 -1.1 22 -5 26 -3.1 16 -1.1 8 0 10 0.9 46 7.6 38 0.5 44 0 34 -0.5 34 -3 28 -4.1 8 -0.5 6 0.2 12 1.4 16 3.2 8 2.1 10 3.6 16 6.6 10 4.9 20 10.5 24 13.8 20 8.2 10 2.8 6 0.6 48 0 40 -1.5 26 0.6 10 0.7 16 1.9 12 2 13.7 2.8 M89.2 355.0l50 2.8 10 0.2 8 -0.7 34 -4.8 6 -1.3 6 -1.8 32 -12.2 10 -4.2 16 -8.1 8 -3.3 16 -3.6 14 -1.9 16 -0.6 78 -1.3 74 0 100 0.7 106 -3.1 40 -0.8 116 0 22 1 4 -0.7 4 -1.4 12 -5.4 18 -10.2 8 -2.8 5.7 -1.5 M89.2 369.0l58 -2 40 0.9 28 2.8 54 9.2 22 2.6 14 0.6 32 0 8 -0.6 8 -1.2 16 -3.6 12 -6.5 14 -5.4 10 -3 6 -1.2 6 -0.7 22 -1.4 38 0.1 14 0.7 12 1.3 10 2.3 12 4.2 8 3.1 10 5.6 4 1.6 18 3.5 14 1.2 34 0 14 -1 26 -3.2 50 -8.5 18 -1.9 14 -0.9 34 -0.6 56 2 77.7 0 M89.2 372.8l36 0.9 24 1.8 12 2.1 38 8.9 8 1.2 50 0.1 4 -0.3 4 -0.9 20 -7.3 24 -5.6 16 -2.6 6 -0.4 8 0 14 1.2 18 2.5 26 7 26 5.5 20 2.4 14 0.7 14 -0.7 20 -2.4 26 -5.6 26 -6.9 18 -2.5 14 -1.2 8 0 6 0.4 16 2.5 24 5.5 16 5.9 6 1.9 4 0.7 4 0.2 52 -0.3 8 -1.3 44 -10 8 -1 14 -1.1 40 -1.3 77.7 0.2 M89.2 375.3l26 1.7 22 2.8 16 3 34 8.3 14 2.3 186 18.3 18 2.1 32 4.4 20 1.8 20 -1.8 34 -4.7 18 -2 188 -18.3 14 -2.4 38 -9 20 -3.3 18 -1.9 18 -1.2 22 -0.1 30 0.5 25.7 1.2 M89.2 437.9l44 -2.1 16 -1.2 10 -1.9 52 -12.9 22 -4.3 8 -1.1 22 -2 24 -1.1 54 0.1 14 0.6 18 1.4 32 3.6 34 7.3 16 2.6 20 -0.5 28 -2.5 8 -1.7 16 -5 6 -1.1 26 -1.6 22 -0.5 12 1.1 26 4.8 44 6.1 40 6.9 16 1.7 32 1.2 78 1.7 36 -0.7 37.7 -2.2 M89.2 439.5l90 -1.6 54 -2.5 18 -1.6 36 -5.2 28 -2.4 18 -0.8 24 0.4 26 1.2 8 1.5 14 4.4 8 1.8 22 2.3 18 1 16 -0.3 18 -1.3 20 -2 26 -4.3 26 -2.3 20 -0.8 18 0.8 56 5.7 24 1.9 40 2.5 58 1.2 52 0.4 34 -0.3 41.7 -1.2 M89.2 679.4l8 -22.4 6 -14.6 6 -13.1 8 -15.4 8 -13.6 20 -31.6 26 -43.9 10 -15.4 20 -29.4 4 -5.1 4 -3.3 6 -3.1 6 -2.3 6 -1.7 12 -1.7 18 -1.6 20 -2.4 10 -0.7 22 -0.8 32 -0.2 74 3.7 42 1.2 14 -0.4 78 -3.9 32 -0.7 6 0.5 18 2.7 42 3.8 14 2.3 12 2.7 8 2.5 8 3.8 10 6.6 8 6.4 8 8.1 12 13.3 32 38.9 6 9.1 10 17.2 26 42.9 8 14.2 6 11.6 6 13.1 6 19.6 2 3 4 -0.6 4 -2.1 12 -9.1 20 -12.3 33.7 -26.9 M89.2 679.4l70 -94.5 8 -12.4 14 -26.9 4 -6.9 8 -10.8 8 -9.1 8 -7.8 12 -10.6 8 -6 6 -3.6 12 -5.8 8 -2.8 12 -2 10 -0.9 8 0 16 1 34 -0.3 14 0.7 68 7.2 28 5.1 12 1 12 -1 26 -5 30 -4.7 30 -3.9 12 0 16 1 10 1.2 10 1.9 4 1.2 6 2.8 24 13.8 12 7.6 20 14.1 20 11.9 10 6.7 16 11.5 32 25.9 8 6 6 3.8 12 5.4 6 3.5 4 3.9 8 9.6 4 4.2 8 6.4 4 2.6 6 2.3 10 2.1 10 1.4 24 2.5 24 4.4 21.7 2.9 M89.2 630.2l8 -0.7 8 -1.7 10 -3.2 4 -2.3 14 -11.6 16 -16.5 10 -9.4 8 -7 8 -6.3 58 -40.4 18 -10.5 6 -2.9 6 -2.2 14 -4.2 20 -4.3 8 -0.7 28 -0.8 8 -1 56 -13.1 14 -2.4 8 -0.4 6 1.1 6 2.2 16 7.1 6 1.6 4 0.4 4 -0.3 6 -1.5 20 -7.5 6 -1.1 4 -0.1 8 0.6 8 1.2 60 11.4 34 3.2 24 4 12 3.1 10 3.5 10 4.6 14 7.4 16 10.3 20 16.2 38 26.8 10 8.7 6 6.8 38 48.5 10 13.5 10 16.2 2 2 2 0.9 4 -0.4 4 -1.2 18 -9.2 16 -5.8 16 -4.4 15.7 -3.2 M89.2 567.5l30 3.2 22 4.1 10 0.6 6 -1.6 12 -6.3 4 -1.6 14 -5.2 12 -3.6 14 -3.4 14 -2 8 -0.6 10 0.2 16 1.1 20 2.1 10 1.8 24 5.6 6 1 32 -0.1 4 -0.9 6 -2.1 22 -11 8 -5 28 -18.9 16 -12.1 6 -4.1 4 -2.2 4 -1.5 6 -1 6 1.1 6 2.8 6 4 16 12.6 28 18.1 30 17.9 4 1.9 4 1.3 14 1.3 14 0.2 8 -1.2 30 -6 18 -3.2 6 -0.4 22 0 6 0.4 8 1.3 12 2.5 18 4.6 36 6.5 6 1.5 6 2.3 4 0.8 10 -0.8 28 -5 18 -0.9 12 0.1 4 0.7 6 1.7 18 7.2 12 7.6 8 5.7 10 7.8 6 2.4 5.7 1.1"/>
<path stroke="#440154" stroke-width="3.7" d="M89.2 679.4l6 -10.4 4 -6 8 -9.6 8 -7.9 6 -4.4 6 -3.4 18 -8.5 6 -2.2 8 -1.4 8 -0.8 6 -0.2 6 0.6 8 1.5 16 4 22 8.2 6 1.2 4 0.2 6 -0.7 8 -2.2 38 -14.6 8 -2.5 10 -1.3 20 -1.2 10 -0.1 6 0.3 14 2.4 32 8.4 38 12.4 24 5.6 10 1.9 8 0.7 10 0 26 -1.6 32 -3.1 28 -0.6 20 0 10 2 16 5.1 34 9.1 10 1.8 8 0.7 4 -0.2 4 -0.9 8 -3.5 16 -9.1 20 -14.5 16 -8.4 6 -2.1 4 -0.7 10 0.6 12 2.2 8 2.8 8 4.4 22 13.5 6 4.5 6 5.1 4 5.2 8 12.8 2 2.5 2 1.7 2 0.7 4 -0.4 4 -1.2 18 -9.2 16 -5.8 16 -4.4 15.7 -3.2"/>
</g>
<ellipse cx="150.8" cy="596.5" rx="38.6" ry="70.9" fill="none" stroke="#f81d84" stroke-width="3.5"/>
<ellipse cx="784" cy="596.5" rx="38.3" ry="71.2" fill="none" stroke="#f81d84" stroke-width="3.5"/>
<rect x="89.2" y="27.3" width="813.6999999999999" height="652.1" fill="none" stroke="#000" stroke-width="2"/>
<line x1="89.2" y1="679.4" x2="101.2" y2="679.4" stroke="#000" stroke-width="2"/>
<text x="77" y="688.0" font-size="29" text-anchor="end" font-family="'Liberation Sans', Arial, sans-serif">0</text>
<line x1="89.2" y1="627.2" x2="95.2" y2="627.2" stroke="#000" stroke-width="2"/>
<line x1="89.2" y1="575.1" x2="101.2" y2="575.1" stroke="#000" stroke-width="2"/>
<text x="77" y="583.7" font-size="29" text-anchor="end" font-family="'Liberation Sans', Arial, sans-serif">2</text>
<line x1="89.2" y1="522.9" x2="95.2" y2="522.9" stroke="#000" stroke-width="2"/>
<line x1="89.2" y1="470.8" x2="101.2" y2="470.8" stroke="#000" stroke-width="2"/>
<text x="77" y="479.4" font-size="29" text-anchor="end" font-family="'Liberation Sans', Arial, sans-serif">4</text>
<line x1="89.2" y1="418.6" x2="95.2" y2="418.6" stroke="#000" stroke-width="2"/>
<line x1="89.2" y1="366.4" x2="101.2" y2="366.4" stroke="#000" stroke-width="2"/>
<text x="77" y="375.0" font-size="29" text-anchor="end" font-family="'Liberation Sans', Arial, sans-serif">6</text>
<line x1="89.2" y1="314.3" x2="95.2" y2="314.3" stroke="#000" stroke-width="2"/>
<line x1="89.2" y1="262.1" x2="101.2" y2="262.1" stroke="#000" stroke-width="2"/>
<text x="77" y="270.7" font-size="29" text-anchor="end" font-family="'Liberation Sans', Arial, sans-serif">8</text>
<line x1="89.2" y1="210.0" x2="95.2" y2="210.0" stroke="#000" stroke-width="2"/>
<line x1="89.2" y1="157.8" x2="101.2" y2="157.8" stroke="#000" stroke-width="2"/>
<text x="77" y="166.4" font-size="29" text-anchor="end" font-family="'Liberation Sans', Arial, sans-serif">10</text>
<line x1="89.2" y1="105.6" x2="95.2" y2="105.6" stroke="#000" stroke-width="2"/>
<line x1="89.2" y1="53.5" x2="101.2" y2="53.5" stroke="#000" stroke-width="2"/>
<text x="77" y="62.1" font-size="29" text-anchor="end" font-family="'Liberation Sans', Arial, sans-serif">12</text>
<line x1="334.3" y1="679.4" x2="334.3" y2="667.4" stroke="#000" stroke-width="2"/>
<line x1="580.0" y1="679.4" x2="580.0" y2="667.4" stroke="#000" stroke-width="2"/>
<line x1="829.5" y1="679.4" x2="829.5" y2="667.4" stroke="#000" stroke-width="2"/>
<text x="89.2" y="715.5" font-size="30" text-anchor="middle" font-family="'Liberation Serif', 'Times New Roman', serif">Γ</text>
<text x="334.3" y="715.6" font-size="30.5" text-anchor="middle" font-family="'Liberation Sans', Arial, sans-serif">M</text>
<text x="580.0" y="715.6" font-size="30.5" text-anchor="middle" font-family="'Liberation Sans', Arial, sans-serif">K</text>
<text x="829.5" y="715.5" font-size="30" text-anchor="middle" font-family="'Liberation Serif', 'Times New Roman', serif">Γ</text>
<text x="902.9" y="715.6" font-size="30.5" text-anchor="middle" font-family="'Liberation Sans', Arial, sans-serif">A</text>
<text transform="translate(32.2,339.5) rotate(-90)" font-size="32.3" text-anchor="middle" font-family="'Liberation Sans', Arial, sans-serif">Frequency (THz)</text>
<defs><linearGradient id="cba" x1="0" y1="0" x2="0" y2="1"><stop offset="0.00" stop-color="#440154"/><stop offset="0.05" stop-color="#471365"/><stop offset="0.10" stop-color="#482475"/><stop offset="0.15" stop-color="#463480"/><stop offset="0.20" stop-color="#414487"/><stop offset="0.25" stop-color="#3b528b"/><stop offset="0.30" stop-color="#355f8d"/><stop offset="0.35" stop-color="#2f6c8e"/><stop offset="0.40" stop-color="#2a788e"/><stop offset="0.45" stop-color="#25848e"/><stop offset="0.50" stop-color="#21918c"/><stop offset="0.55" stop-color="#1e9c89"/><stop offset="0.60" stop-color="#22a884"/><stop offset="0.65" stop-color="#2fb47c"/><stop offset="0.70" stop-color="#44bf70"/><stop offset="0.75" stop-color="#5ec962"/><stop offset="0.80" stop-color="#7ad151"/><stop offset="0.85" stop-color="#9bd93c"/><stop offset="0.90" stop-color="#bddf26"/><stop offset="0.95" stop-color="#dfe318"/><stop offset="1.00" stop-color="#fde725"/></linearGradient></defs>
<rect x="920.9" y="54.0" width="37.30000000000007" height="590.2" fill="url(#cba)"/>
<line x1="958.2" y1="54.0" x2="958.2" y2="644.2" stroke="#000" stroke-width="1.6"/>
<line x1="958.2" y1="644.2" x2="950.2" y2="644.2" stroke="#000" stroke-width="1.8"/>
<text x="967.5" y="653.0" font-size="25" font-family="'Liberation Sans', Arial, sans-serif">300</text>
<line x1="958.2" y1="595.0" x2="953.2" y2="595.0" stroke="#000" stroke-width="1.8"/>
<line x1="958.2" y1="545.8" x2="950.2" y2="545.8" stroke="#000" stroke-width="1.8"/>
<text x="967.5" y="554.6" font-size="25" font-family="'Liberation Sans', Arial, sans-serif">400</text>
<line x1="958.2" y1="496.7" x2="953.2" y2="496.7" stroke="#000" stroke-width="1.8"/>
<line x1="958.2" y1="447.5" x2="950.2" y2="447.5" stroke="#000" stroke-width="1.8"/>
<text x="967.5" y="456.3" font-size="25" font-family="'Liberation Sans', Arial, sans-serif">500</text>
<line x1="958.2" y1="398.3" x2="953.2" y2="398.3" stroke="#000" stroke-width="1.8"/>
<line x1="958.2" y1="349.1" x2="950.2" y2="349.1" stroke="#000" stroke-width="1.8"/>
<text x="967.5" y="357.9" font-size="25" font-family="'Liberation Sans', Arial, sans-serif">600</text>
<line x1="958.2" y1="299.9" x2="953.2" y2="299.9" stroke="#000" stroke-width="1.8"/>
<line x1="958.2" y1="250.7" x2="950.2" y2="250.7" stroke="#000" stroke-width="1.8"/>
<text x="967.5" y="259.5" font-size="25" font-family="'Liberation Sans', Arial, sans-serif">700</text>
<line x1="958.2" y1="201.6" x2="953.2" y2="201.6" stroke="#000" stroke-width="1.8"/>
<line x1="958.2" y1="152.4" x2="950.2" y2="152.4" stroke="#000" stroke-width="1.8"/>
<text x="967.5" y="161.2" font-size="25" font-family="'Liberation Sans', Arial, sans-serif">800</text>
<line x1="958.2" y1="103.2" x2="953.2" y2="103.2" stroke="#000" stroke-width="1.8"/>
<line x1="958.2" y1="54.0" x2="950.2" y2="54.0" stroke="#000" stroke-width="1.8"/>
<text x="967.5" y="62.8" font-size="25" font-family="'Liberation Sans', Arial, sans-serif">900</text>
<text transform="translate(952.3,348.5) rotate(-90)" font-size="31" text-anchor="middle" fill="#fff" font-family="'Liberation Sans', Arial, sans-serif">Temperature (K)</text>
<line x1="1233.9" y1="16.0" x2="1233.9" y2="333.8" stroke="#bdbdbd" stroke-width="1.7" stroke-dasharray="9 8.3"/>
<line x1="1348.1" y1="16.0" x2="1348.1" y2="333.8" stroke="#bdbdbd" stroke-width="1.7" stroke-dasharray="9 8.3"/>
<line x1="1463.4" y1="16.0" x2="1463.4" y2="333.8" stroke="#bdbdbd" stroke-width="1.7" stroke-dasharray="9 8.3"/>
<line x1="1635.3" y1="16.0" x2="1635.3" y2="333.8" stroke="#bdbdbd" stroke-width="1.7" stroke-dasharray="9 8.3"/>
<line x1="1749.5" y1="16.0" x2="1749.5" y2="333.8" stroke="#bdbdbd" stroke-width="1.7" stroke-dasharray="9 8.3"/>
<line x1="1864.8" y1="16.0" x2="1864.8" y2="333.8" stroke="#bdbdbd" stroke-width="1.7" stroke-dasharray="9 8.3"/>
<line x1="1233.9" y1="386.5" x2="1233.9" y2="704.3" stroke="#bdbdbd" stroke-width="1.7" stroke-dasharray="9 8.3"/>
<line x1="1348.1" y1="386.5" x2="1348.1" y2="704.3" stroke="#bdbdbd" stroke-width="1.7" stroke-dasharray="9 8.3"/>
<line x1="1463.4" y1="386.5" x2="1463.4" y2="704.3" stroke="#bdbdbd" stroke-width="1.7" stroke-dasharray="9 8.3"/>
<line x1="1635.3" y1="386.5" x2="1635.3" y2="704.3" stroke="#bdbdbd" stroke-width="1.7" stroke-dasharray="9 8.3"/>
<line x1="1749.5" y1="386.5" x2="1749.5" y2="704.3" stroke="#bdbdbd" stroke-width="1.7" stroke-dasharray="9 8.3"/>
<line x1="1864.8" y1="386.5" x2="1864.8" y2="704.3" stroke="#bdbdbd" stroke-width="1.7" stroke-dasharray="9 8.3"/>
<defs><linearGradient id="gNab1" gradientUnits="userSpaceOnUse" x1="1120.3" y1="0" x2="1496.9" y2="0"><stop offset="0.000" stop-color="#ad347c"/><stop offset="0.106" stop-color="#c43c75"/><stop offset="0.212" stop-color="#ef5d5e"/><stop offset="0.302" stop-color="#f66c5c"/><stop offset="0.453" stop-color="#f66c5c"/><stop offset="0.604" stop-color="#f66c5c"/><stop offset="0.695" stop-color="#ef5d5e"/><stop offset="0.803" stop-color="#c43c75"/><stop offset="0.911" stop-color="#ad347c"/><stop offset="1.000" stop-color="#ad347c"/></linearGradient><linearGradient id="gNab2" gradientUnits="userSpaceOnUse" x1="1120.3" y1="0" x2="1496.9" y2="0"><stop offset="0.000" stop-color="#ad347c"/><stop offset="0.453" stop-color="#ad347c"/><stop offset="0.911" stop-color="#ad347c"/><stop offset="1.000" stop-color="#ad347c"/></linearGradient><linearGradient id="gNab3" gradientUnits="userSpaceOnUse" x1="1120.3" y1="0" x2="1496.9" y2="0"><stop offset="0.000" stop-color="#ad347c"/><stop offset="0.106" stop-color="#962c80"/><stop offset="0.212" stop-color="#6b1d81"/><stop offset="0.453" stop-color="#641a80"/><stop offset="0.695" stop-color="#6b1d81"/><stop offset="0.803" stop-color="#962c80"/><stop offset="0.911" stop-color="#ad347c"/><stop offset="1.000" stop-color="#ad347c"/></linearGradient><linearGradient id="gNaL10" gradientUnits="userSpaceOnUse" x1="1120.3" y1="0" x2="1496.9" y2="0"><stop offset="0.000" stop-color="#fcfdbf"/><stop offset="0.453" stop-color="#fdebac"/><stop offset="0.911" stop-color="#fcfdbf"/><stop offset="1.000" stop-color="#fcfdbf"/></linearGradient><linearGradient id="gNaL9" gradientUnits="userSpaceOnUse" x1="1120.3" y1="0" x2="1496.9" y2="0"><stop offset="0.000" stop-color="#fed194"/><stop offset="0.159" stop-color="#fed194"/><stop offset="0.199" stop-color="#6b1d81"/><stop offset="0.302" stop-color="#6b1d81"/><stop offset="0.453" stop-color="#ea5661"/><stop offset="0.604" stop-color="#6b1d81"/><stop offset="0.708" stop-color="#6b1d81"/><stop offset="0.749" stop-color="#fed194"/><stop offset="0.911" stop-color="#fed194"/><stop offset="1.000" stop-color="#fed194"/></linearGradient><linearGradient id="gNap2" gradientUnits="userSpaceOnUse" x1="1120.3" y1="0" x2="1496.9" y2="0"><stop offset="0.000" stop-color="#641a80"/><stop offset="0.133" stop-color="#6b1d81"/><stop offset="0.302" stop-color="#641a80"/><stop offset="0.453" stop-color="#962c80"/><stop offset="0.604" stop-color="#641a80"/><stop offset="0.776" stop-color="#6b1d81"/><stop offset="0.911" stop-color="#641a80"/><stop offset="1.000" stop-color="#641a80"/></linearGradient><linearGradient id="gNapl" gradientUnits="userSpaceOnUse" x1="1120.3" y1="0" x2="1496.9" y2="0"><stop offset="0.000" stop-color="#ad347c"/><stop offset="0.133" stop-color="#812581"/><stop offset="0.204" stop-color="#d8456c"/><stop offset="0.302" stop-color="#fcfdbf"/><stop offset="0.453" stop-color="#fb8560"/><stop offset="0.604" stop-color="#fcfdbf"/><stop offset="0.703" stop-color="#d8456c"/><stop offset="0.776" stop-color="#812581"/><stop offset="0.911" stop-color="#ad347c"/><stop offset="1.000" stop-color="#ad347c"/></linearGradient><linearGradient id="gNapk" gradientUnits="userSpaceOnUse" x1="1120.3" y1="0" x2="1496.9" y2="0"><stop offset="0.000" stop-color="#d8456c"/><stop offset="0.159" stop-color="#d8456c"/><stop offset="0.239" stop-color="#fdebac"/><stop offset="0.302" stop-color="#fcfdbf"/><stop offset="0.453" stop-color="#ea5661"/><stop offset="0.604" stop-color="#fcfdbf"/><stop offset="0.668" stop-color="#fdebac"/><stop offset="0.749" stop-color="#d8456c"/><stop offset="0.911" stop-color="#d8456c"/><stop offset="1.000" stop-color="#d8456c"/></linearGradient><linearGradient id="gNala" gradientUnits="userSpaceOnUse" x1="1120.3" y1="0" x2="1496.9" y2="0"><stop offset="0.000" stop-color="#f66c5c"/><stop offset="0.159" stop-color="#fb8560"/><stop offset="0.302" stop-color="#feb77e"/><stop offset="0.453" stop-color="#f66c5c"/><stop offset="0.604" stop-color="#feb77e"/><stop offset="0.749" stop-color="#fb8560"/><stop offset="0.911" stop-color="#f66c5c"/><stop offset="1.000" stop-color="#f66c5c"/></linearGradient><linearGradient id="gNaL8" gradientUnits="userSpaceOnUse" x1="1120.3" y1="0" x2="1496.9" y2="0"><stop offset="0.000" stop-color="#fb8560"/><stop offset="0.080" stop-color="#feb77e"/><stop offset="0.159" stop-color="#fdebac"/><stop offset="0.302" stop-color="#fdebac"/><stop offset="0.453" stop-color="#feb77e"/><stop offset="0.604" stop-color="#fdebac"/><stop offset="0.749" stop-color="#fdebac"/><stop offset="0.830" stop-color="#feb77e"/><stop offset="0.911" stop-color="#fb8560"/><stop offset="1.000" stop-color="#fb8560"/></linearGradient><linearGradient id="gNaL7" gradientUnits="userSpaceOnUse" x1="1120.3" y1="0" x2="1496.9" y2="0"><stop offset="0.000" stop-color="#030312"/><stop offset="0.453" stop-color="#030312"/><stop offset="0.911" stop-color="#030312"/><stop offset="1.000" stop-color="#030312"/></linearGradient><linearGradient id="gNaL6" gradientUnits="userSpaceOnUse" x1="1120.3" y1="0" x2="1496.9" y2="0"><stop offset="0.000" stop-color="#030312"/><stop offset="0.453" stop-color="#030312"/><stop offset="0.911" stop-color="#030312"/><stop offset="1.000" stop-color="#030312"/></linearGradient><linearGradient id="gNaL5" gradientUnits="userSpaceOnUse" x1="1120.3" y1="0" x2="1496.9" y2="0"><stop offset="0.000" stop-color="#962c80"/><stop offset="0.302" stop-color="#962c80"/><stop offset="0.453" stop-color="#400f74"/><stop offset="0.604" stop-color="#962c80"/><stop offset="0.911" stop-color="#962c80"/><stop offset="1.000" stop-color="#962c80"/></linearGradient><linearGradient id="gNaL4" gradientUnits="userSpaceOnUse" x1="1120.3" y1="0" x2="1496.9" y2="0"><stop offset="0.000" stop-color="#feb77e"/><stop offset="0.080" stop-color="#fe9f6d"/><stop offset="0.119" stop-color="#6b1d81"/><stop offset="0.302" stop-color="#641a80"/><stop offset="0.398" stop-color="#962c80"/><stop offset="0.453" stop-color="#fb8560"/><stop offset="0.507" stop-color="#962c80"/><stop offset="0.604" stop-color="#641a80"/><stop offset="0.789" stop-color="#6b1d81"/><stop offset="0.830" stop-color="#fe9f6d"/><stop offset="0.911" stop-color="#feb77e"/><stop offset="1.000" stop-color="#feb77e"/></linearGradient><linearGradient id="gNaL2" gradientUnits="userSpaceOnUse" x1="1120.3" y1="0" x2="1496.9" y2="0"><stop offset="0.000" stop-color="#fcfdbf"/><stop offset="0.453" stop-color="#fcfdbf"/><stop offset="0.911" stop-color="#fcfdbf"/><stop offset="1.000" stop-color="#fcfdbf"/></linearGradient><linearGradient id="gNaL1" gradientUnits="userSpaceOnUse" x1="1120.3" y1="0" x2="1496.9" y2="0"><stop offset="0.000" stop-color="#962c80"/><stop offset="0.053" stop-color="#f66c5c"/><stop offset="0.302" stop-color="#ef5d5e"/><stop offset="0.453" stop-color="#fb8560"/><stop offset="0.604" stop-color="#ef5d5e"/><stop offset="0.857" stop-color="#f66c5c"/><stop offset="0.911" stop-color="#962c80"/><stop offset="1.000" stop-color="#962c80"/></linearGradient><linearGradient id="gNaL3" gradientUnits="userSpaceOnUse" x1="1120.3" y1="0" x2="1496.9" y2="0"><stop offset="0.000" stop-color="#030312"/><stop offset="0.453" stop-color="#030312"/><stop offset="0.911" stop-color="#030312"/><stop offset="1.000" stop-color="#030312"/></linearGradient><linearGradient id="gNacb" gradientUnits="userSpaceOnUse" x1="1120.3" y1="0" x2="1496.9" y2="0"><stop offset="0.000" stop-color="#57157e"/><stop offset="0.159" stop-color="#29115a"/><stop offset="0.453" stop-color="#160f3b"/><stop offset="0.749" stop-color="#29115a"/><stop offset="0.911" stop-color="#57157e"/><stop offset="1.000" stop-color="#57157e"/></linearGradient><linearGradient id="gNaca" gradientUnits="userSpaceOnUse" x1="1120.3" y1="0" x2="1496.9" y2="0"><stop offset="0.000" stop-color="#29115a"/><stop offset="0.453" stop-color="#100b2d"/><stop offset="0.911" stop-color="#29115a"/><stop offset="1.000" stop-color="#29115a"/></linearGradient><clipPath id="cpb00"><rect x="1120.8" y="8.800000000000011" width="376.1" height="325.3"/></clipPath><linearGradient id="gOb1" gradientUnits="userSpaceOnUse" x1="1521.7" y1="0" x2="1898.3000000000002" y2="0"><stop offset="0.000" stop-color="#030312"/><stop offset="0.453" stop-color="#030312"/><stop offset="0.911" stop-color="#030312"/><stop offset="1.000" stop-color="#030312"/></linearGradient><linearGradient id="gOb2" gradientUnits="userSpaceOnUse" x1="1521.7" y1="0" x2="1898.3000000000002" y2="0"><stop offset="0.000" stop-color="#160f3b"/><stop offset="0.453" stop-color="#160f3b"/><stop offset="0.911" stop-color="#160f3b"/><stop offset="1.000" stop-color="#160f3b"/></linearGradient><linearGradient id="gOb3" gradientUnits="userSpaceOnUse" x1="1521.7" y1="0" x2="1898.3000000000002" y2="0"><stop offset="0.000" stop-color="#1d1147"/><stop offset="0.159" stop-color="#38106c"/><stop offset="0.302" stop-color="#491078"/><stop offset="0.453" stop-color="#57157e"/><stop offset="0.604" stop-color="#491078"/><stop offset="0.749" stop-color="#38106c"/><stop offset="0.911" stop-color="#1d1147"/><stop offset="1.000" stop-color="#1d1147"/></linearGradient><linearGradient id="gOL10" gradientUnits="userSpaceOnUse" x1="1521.7" y1="0" x2="1898.3000000000002" y2="0"><stop offset="0.000" stop-color="#fcfdbf"/><stop offset="0.453" stop-color="#fcfdbf"/><stop offset="0.911" stop-color="#fcfdbf"/><stop offset="1.000" stop-color="#fcfdbf"/></linearGradient><linearGradient id="gOL9" gradientUnits="userSpaceOnUse" x1="1521.7" y1="0" x2="1898.3000000000002" y2="0"><stop offset="0.000" stop-color="#fcfdbf"/><stop offset="0.159" stop-color="#feb77e"/><stop offset="0.302" stop-color="#feb77e"/><stop offset="0.453" stop-color="#fdebac"/><stop offset="0.604" stop-color="#feb77e"/><stop offset="0.749" stop-color="#feb77e"/><stop offset="0.911" stop-color="#fcfdbf"/><stop offset="1.000" stop-color="#fcfdbf"/></linearGradient><linearGradient id="gOp2" gradientUnits="userSpaceOnUse" x1="1521.7" y1="0" x2="1898.3000000000002" y2="0"><stop offset="0.000" stop-color="#c43c75"/><stop offset="0.133" stop-color="#c43c75"/><stop offset="0.302" stop-color="#8e2a81"/><stop offset="0.453" stop-color="#ad347c"/><stop offset="0.604" stop-color="#8e2a81"/><stop offset="0.776" stop-color="#c43c75"/><stop offset="0.911" stop-color="#c43c75"/><stop offset="1.000" stop-color="#c43c75"/></linearGradient><linearGradient id="gOpl" gradientUnits="userSpaceOnUse" x1="1521.7" y1="0" x2="1898.3000000000002" y2="0"><stop offset="0.000" stop-color="#f66c5c"/><stop offset="0.186" stop-color="#ea5661"/><stop offset="0.302" stop-color="#fcfdbf"/><stop offset="0.453" stop-color="#feb77e"/><stop offset="0.604" stop-color="#fcfdbf"/><stop offset="0.722" stop-color="#ea5661"/><stop offset="0.911" stop-color="#f66c5c"/><stop offset="1.000" stop-color="#f66c5c"/></linearGradient><linearGradient id="gOpk" gradientUnits="userSpaceOnUse" x1="1521.7" y1="0" x2="1898.3000000000002" y2="0"><stop offset="0.000" stop-color="#fb8560"/><stop offset="0.159" stop-color="#feb77e"/><stop offset="0.302" stop-color="#fcfdbf"/><stop offset="0.453" stop-color="#fb8560"/><stop offset="0.604" stop-color="#fcfdbf"/><stop offset="0.749" stop-color="#feb77e"/><stop offset="0.911" stop-color="#fb8560"/><stop offset="1.000" stop-color="#fb8560"/></linearGradient><linearGradient id="gOla" gradientUnits="userSpaceOnUse" x1="1521.7" y1="0" x2="1898.3000000000002" y2="0"><stop offset="0.000" stop-color="#feb77e"/><stop offset="0.453" stop-color="#feb77e"/><stop offset="0.911" stop-color="#feb77e"/><stop offset="1.000" stop-color="#feb77e"/></linearGradient><linearGradient id="gOL8" gradientUnits="userSpaceOnUse" x1="1521.7" y1="0" x2="1898.3000000000002" y2="0"><stop offset="0.000" stop-color="#feb77e"/><stop offset="0.302" stop-color="#fdebac"/><stop offset="0.453" stop-color="#d8456c"/><stop offset="0.604" stop-color="#fdebac"/><stop offset="0.911" stop-color="#feb77e"/><stop offset="1.000" stop-color="#feb77e"/></linearGradient><linearGradient id="gOL7" gradientUnits="userSpaceOnUse" x1="1521.7" y1="0" x2="1898.3000000000002" y2="0"><stop offset="0.000" stop-color="#fcfdbf"/><stop offset="0.453" stop-color="#fdebac"/><stop offset="0.911" stop-color="#fcfdbf"/><stop offset="1.000" stop-color="#fcfdbf"/></linearGradient><linearGradient id="gOL6" gradientUnits="userSpaceOnUse" x1="1521.7" y1="0" x2="1898.3000000000002" y2="0"><stop offset="0.000" stop-color="#fdebac"/><stop offset="0.453" stop-color="#fdebac"/><stop offset="0.911" stop-color="#fdebac"/><stop offset="1.000" stop-color="#fdebac"/></linearGradient><linearGradient id="gOL5" gradientUnits="userSpaceOnUse" x1="1521.7" y1="0" x2="1898.3000000000002" y2="0"><stop offset="0.000" stop-color="#fe9f6d"/><stop offset="0.302" stop-color="#ea5661"/><stop offset="0.453" stop-color="#f66c5c"/><stop offset="0.604" stop-color="#ea5661"/><stop offset="0.911" stop-color="#fe9f6d"/><stop offset="1.000" stop-color="#fe9f6d"/></linearGradient><linearGradient id="gOL4" gradientUnits="userSpaceOnUse" x1="1521.7" y1="0" x2="1898.3000000000002" y2="0"><stop offset="0.000" stop-color="#fe9f6d"/><stop offset="0.106" stop-color="#d8456c"/><stop offset="0.302" stop-color="#d8456c"/><stop offset="0.453" stop-color="#d8456c"/><stop offset="0.604" stop-color="#d8456c"/><stop offset="0.803" stop-color="#d8456c"/><stop offset="0.911" stop-color="#fe9f6d"/><stop offset="1.000" stop-color="#fe9f6d"/></linearGradient><linearGradient id="gOL2" gradientUnits="userSpaceOnUse" x1="1521.7" y1="0" x2="1898.3000000000002" y2="0"><stop offset="0.000" stop-color="#fcfdbf"/><stop offset="0.453" stop-color="#fcfdbf"/><stop offset="0.911" stop-color="#fcfdbf"/><stop offset="1.000" stop-color="#fcfdbf"/></linearGradient><linearGradient id="gOL1" gradientUnits="userSpaceOnUse" x1="1521.7" y1="0" x2="1898.3000000000002" y2="0"><stop offset="0.000" stop-color="#fdebac"/><stop offset="0.453" stop-color="#fcfdbf"/><stop offset="0.911" stop-color="#fdebac"/><stop offset="1.000" stop-color="#fdebac"/></linearGradient><linearGradient id="gOL3" gradientUnits="userSpaceOnUse" x1="1521.7" y1="0" x2="1898.3000000000002" y2="0"><stop offset="0.000" stop-color="#feb77e"/><stop offset="0.453" stop-color="#feb77e"/><stop offset="0.911" stop-color="#feb77e"/><stop offset="1.000" stop-color="#feb77e"/></linearGradient><linearGradient id="gOcb" gradientUnits="userSpaceOnUse" x1="1521.7" y1="0" x2="1898.3000000000002" y2="0"><stop offset="0.000" stop-color="#962c80"/><stop offset="0.302" stop-color="#962c80"/><stop offset="0.453" stop-color="#ad347c"/><stop offset="0.604" stop-color="#962c80"/><stop offset="0.911" stop-color="#962c80"/><stop offset="1.000" stop-color="#962c80"/></linearGradient><linearGradient id="gOca" gradientUnits="userSpaceOnUse" x1="1521.7" y1="0" x2="1898.3000000000002" y2="0"><stop offset="0.000" stop-color="#c43c75"/><stop offset="0.080" stop-color="#d8456c"/><stop offset="0.159" stop-color="#ea5661"/><stop offset="0.302" stop-color="#fe9f6d"/><stop offset="0.453" stop-color="#d8456c"/><stop offset="0.604" stop-color="#fe9f6d"/><stop offset="0.749" stop-color="#ea5661"/><stop offset="0.830" stop-color="#d8456c"/><stop offset="0.911" stop-color="#c43c75"/><stop offset="1.000" stop-color="#c43c75"/></linearGradient><clipPath id="cpb01"><rect x="1522.2" y="8.800000000000011" width="376.1" height="325.3"/></clipPath><linearGradient id="gCob1" gradientUnits="userSpaceOnUse" x1="1120.3" y1="0" x2="1496.9" y2="0"><stop offset="0.000" stop-color="#fcfdbf"/><stop offset="0.453" stop-color="#fcfdbf"/><stop offset="0.911" stop-color="#fcfdbf"/><stop offset="1.000" stop-color="#fcfdbf"/></linearGradient><linearGradient id="gCob2" gradientUnits="userSpaceOnUse" x1="1120.3" y1="0" x2="1496.9" y2="0"><stop offset="0.000" stop-color="#fcfdbf"/><stop offset="0.453" stop-color="#fcfdbf"/><stop offset="0.911" stop-color="#fcfdbf"/><stop offset="1.000" stop-color="#fcfdbf"/></linearGradient><linearGradient id="gCob3" gradientUnits="userSpaceOnUse" x1="1120.3" y1="0" x2="1496.9" y2="0"><stop offset="0.000" stop-color="#fe9f6d"/><stop offset="0.106" stop-color="#fed194"/><stop offset="0.302" stop-color="#fcf4b6"/><stop offset="0.453" stop-color="#fcf4b6"/><stop offset="0.604" stop-color="#fcf4b6"/><stop offset="0.803" stop-color="#fed194"/><stop offset="0.911" stop-color="#fe9f6d"/><stop offset="1.000" stop-color="#fe9f6d"/></linearGradient><linearGradient id="gCoL10" gradientUnits="userSpaceOnUse" x1="1120.3" y1="0" x2="1496.9" y2="0"><stop offset="0.000" stop-color="#fcf4b6"/><stop offset="0.453" stop-color="#fcf4b6"/><stop offset="0.911" stop-color="#fcf4b6"/><stop offset="1.000" stop-color="#fcf4b6"/></linearGradient><linearGradient id="gCoL9" gradientUnits="userSpaceOnUse" x1="1120.3" y1="0" x2="1496.9" y2="0"><stop offset="0.000" stop-color="#fe9f6d"/><stop offset="0.453" stop-color="#fe9f6d"/><stop offset="0.911" stop-color="#fe9f6d"/><stop offset="1.000" stop-color="#fe9f6d"/></linearGradient><linearGradient id="gCop2" gradientUnits="userSpaceOnUse" x1="1120.3" y1="0" x2="1496.9" y2="0"><stop offset="0.000" stop-color="#d8456c"/><stop offset="0.302" stop-color="#fb8560"/><stop offset="0.453" stop-color="#f66c5c"/><stop offset="0.604" stop-color="#fb8560"/><stop offset="0.911" stop-color="#d8456c"/><stop offset="1.000" stop-color="#ea5661"/></linearGradient><linearGradient id="gCopl" gradientUnits="userSpaceOnUse" x1="1120.3" y1="0" x2="1496.9" y2="0"><stop offset="0.000" stop-color="#6b1d81"/><stop offset="0.453" stop-color="#6b1d81"/><stop offset="0.911" stop-color="#6b1d81"/><stop offset="1.000" stop-color="#6b1d81"/></linearGradient><linearGradient id="gCopk" gradientUnits="userSpaceOnUse" x1="1120.3" y1="0" x2="1496.9" y2="0"><stop offset="0.000" stop-color="#8e2a81"/><stop offset="0.453" stop-color="#8e2a81"/><stop offset="0.911" stop-color="#8e2a81"/><stop offset="1.000" stop-color="#8e2a81"/></linearGradient><linearGradient id="gCola" gradientUnits="userSpaceOnUse" x1="1120.3" y1="0" x2="1496.9" y2="0"><stop offset="0.000" stop-color="#6b1d81"/><stop offset="0.453" stop-color="#6b1d81"/><stop offset="0.911" stop-color="#6b1d81"/><stop offset="1.000" stop-color="#6b1d81"/></linearGradient><linearGradient id="gCoL8" gradientUnits="userSpaceOnUse" x1="1120.3" y1="0" x2="1496.9" y2="0"><stop offset="0.000" stop-color="#fcf4b6"/><stop offset="0.453" stop-color="#fcf4b6"/><stop offset="0.911" stop-color="#fcf4b6"/><stop offset="1.000" stop-color="#fcf4b6"/></linearGradient><linearGradient id="gCoL7" gradientUnits="userSpaceOnUse" x1="1120.3" y1="0" x2="1496.9" y2="0"><stop offset="0.000" stop-color="#f66c5c"/><stop offset="0.302" stop-color="#fb8560"/><stop offset="0.453" stop-color="#fb8560"/><stop offset="0.604" stop-color="#fb8560"/><stop offset="0.911" stop-color="#f66c5c"/><stop offset="1.000" stop-color="#f66c5c"/></linearGradient><linearGradient id="gCoL6" gradientUnits="userSpaceOnUse" x1="1120.3" y1="0" x2="1496.9" y2="0"><stop offset="0.000" stop-color="#962c80"/><stop offset="0.302" stop-color="#c43c75"/><stop offset="0.453" stop-color="#d8456c"/><stop offset="0.604" stop-color="#c43c75"/><stop offset="0.911" stop-color="#962c80"/><stop offset="1.000" stop-color="#962c80"/></linearGradient><linearGradient id="gCoL5" gradientUnits="userSpaceOnUse" x1="1120.3" y1="0" x2="1496.9" y2="0"><stop offset="0.000" stop-color="#ad347c"/><stop offset="0.302" stop-color="#6b1d81"/><stop offset="0.453" stop-color="#57157e"/><stop offset="0.604" stop-color="#6b1d81"/><stop offset="0.911" stop-color="#ad347c"/><stop offset="1.000" stop-color="#ad347c"/></linearGradient><linearGradient id="gCoL4" gradientUnits="userSpaceOnUse" x1="1120.3" y1="0" x2="1496.9" y2="0"><stop offset="0.000" stop-color="#07061c"/><stop offset="0.453" stop-color="#07061c"/><stop offset="0.911" stop-color="#07061c"/><stop offset="1.000" stop-color="#07061c"/></linearGradient><linearGradient id="gCoL2" gradientUnits="userSpaceOnUse" x1="1120.3" y1="0" x2="1496.9" y2="0"><stop offset="0.000" stop-color="#030312"/><stop offset="0.453" stop-color="#030312"/><stop offset="0.911" stop-color="#030312"/><stop offset="1.000" stop-color="#030312"/></linearGradient><linearGradient id="gCoL1" gradientUnits="userSpaceOnUse" x1="1120.3" y1="0" x2="1496.9" y2="0"><stop offset="0.000" stop-color="#29115a"/><stop offset="0.453" stop-color="#29115a"/><stop offset="0.911" stop-color="#29115a"/><stop offset="1.000" stop-color="#29115a"/></linearGradient><linearGradient id="gCoL3" gradientUnits="userSpaceOnUse" x1="1120.3" y1="0" x2="1496.9" y2="0"><stop offset="0.000" stop-color="#f66c5c"/><stop offset="0.302" stop-color="#ef5d5e"/><stop offset="0.453" stop-color="#fb8560"/><stop offset="0.604" stop-color="#ef5d5e"/><stop offset="0.911" stop-color="#f66c5c"/><stop offset="1.000" stop-color="#f66c5c"/></linearGradient><linearGradient id="gCocb" gradientUnits="userSpaceOnUse" x1="1120.3" y1="0" x2="1496.9" y2="0"><stop offset="0.000" stop-color="#fb8560"/><stop offset="0.080" stop-color="#fdebac"/><stop offset="0.302" stop-color="#fcf4b6"/><stop offset="0.453" stop-color="#fdebac"/><stop offset="0.604" stop-color="#fcf4b6"/><stop offset="0.830" stop-color="#fdebac"/><stop offset="0.911" stop-color="#fb8560"/><stop offset="1.000" stop-color="#fb8560"/></linearGradient><linearGradient id="gCoca" gradientUnits="userSpaceOnUse" x1="1120.3" y1="0" x2="1496.9" y2="0"><stop offset="0.000" stop-color="#fb8560"/><stop offset="0.053" stop-color="#fed194"/><stop offset="0.302" stop-color="#fdebac"/><stop offset="0.453" stop-color="#fdebac"/><stop offset="0.604" stop-color="#fdebac"/><stop offset="0.857" stop-color="#fed194"/><stop offset="0.911" stop-color="#fb8560"/><stop offset="1.000" stop-color="#fb8560"/></linearGradient><clipPath id="cpb10"><rect x="1120.8" y="379.29999999999995" width="376.1" height="325.3"/></clipPath><linearGradient id="gSeb1" gradientUnits="userSpaceOnUse" x1="1521.7" y1="0" x2="1898.3000000000002" y2="0"><stop offset="0.000" stop-color="#fcf9bb"/><stop offset="0.453" stop-color="#fcf9bb"/><stop offset="0.911" stop-color="#fcf9bb"/><stop offset="1.000" stop-color="#fcf9bb"/></linearGradient><linearGradient id="gSeb2" gradientUnits="userSpaceOnUse" x1="1521.7" y1="0" x2="1898.3000000000002" y2="0"><stop offset="0.000" stop-color="#fcf9bb"/><stop offset="0.453" stop-color="#fcf9bb"/><stop offset="0.911" stop-color="#fcf9bb"/><stop offset="1.000" stop-color="#fcf9bb"/></linearGradient><linearGradient id="gSeb3" gradientUnits="userSpaceOnUse" x1="1521.7" y1="0" x2="1898.3000000000002" y2="0"><stop offset="0.000" stop-color="#fe9f6d"/><stop offset="0.106" stop-color="#fed194"/><stop offset="0.302" stop-color="#fdebac"/><stop offset="0.453" stop-color="#fdebac"/><stop offset="0.604" stop-color="#fdebac"/><stop offset="0.803" stop-color="#fed194"/><stop offset="0.911" stop-color="#fe9f6d"/><stop offset="1.000" stop-color="#fe9f6d"/></linearGradient><linearGradient id="gSeL10" gradientUnits="userSpaceOnUse" x1="1521.7" y1="0" x2="1898.3000000000002" y2="0"><stop offset="0.000" stop-color="#030312"/><stop offset="0.453" stop-color="#030312"/><stop offset="0.911" stop-color="#030312"/><stop offset="1.000" stop-color="#030312"/></linearGradient><linearGradient id="gSeL9" gradientUnits="userSpaceOnUse" x1="1521.7" y1="0" x2="1898.3000000000002" y2="0"><stop offset="0.000" stop-color="#030312"/><stop offset="0.453" stop-color="#030312"/><stop offset="0.911" stop-color="#030312"/><stop offset="1.000" stop-color="#030312"/></linearGradient><linearGradient id="gSep2" gradientUnits="userSpaceOnUse" x1="1521.7" y1="0" x2="1898.3000000000002" y2="0"><stop offset="0.000" stop-color="#d8456c"/><stop offset="0.302" stop-color="#fb8560"/><stop offset="0.453" stop-color="#f66c5c"/><stop offset="0.604" stop-color="#fb8560"/><stop offset="0.911" stop-color="#d8456c"/><stop offset="1.000" stop-color="#ea5661"/></linearGradient><linearGradient id="gSepl" gradientUnits="userSpaceOnUse" x1="1521.7" y1="0" x2="1898.3000000000002" y2="0"><stop offset="0.000" stop-color="#29115a"/><stop offset="0.453" stop-color="#29115a"/><stop offset="0.911" stop-color="#29115a"/><stop offset="1.000" stop-color="#29115a"/></linearGradient><linearGradient id="gSepk" gradientUnits="userSpaceOnUse" x1="1521.7" y1="0" x2="1898.3000000000002" y2="0"><stop offset="0.000" stop-color="#400f74"/><stop offset="0.302" stop-color="#07061c"/><stop offset="0.453" stop-color="#160f3b"/><stop offset="0.604" stop-color="#07061c"/><stop offset="0.911" stop-color="#400f74"/><stop offset="1.000" stop-color="#400f74"/></linearGradient><linearGradient id="gSela" gradientUnits="userSpaceOnUse" x1="1521.7" y1="0" x2="1898.3000000000002" y2="0"><stop offset="0.000" stop-color="#400f74"/><stop offset="0.453" stop-color="#400f74"/><stop offset="0.911" stop-color="#400f74"/><stop offset="1.000" stop-color="#400f74"/></linearGradient><linearGradient id="gSeL8" gradientUnits="userSpaceOnUse" x1="1521.7" y1="0" x2="1898.3000000000002" y2="0"><stop offset="0.000" stop-color="#030312"/><stop offset="0.453" stop-color="#030312"/><stop offset="0.911" stop-color="#030312"/><stop offset="1.000" stop-color="#030312"/></linearGradient><linearGradient id="gSeL7" gradientUnits="userSpaceOnUse" x1="1521.7" y1="0" x2="1898.3000000000002" y2="0"><stop offset="0.000" stop-color="#fcf4b6"/><stop offset="0.453" stop-color="#fcf4b6"/><stop offset="0.911" stop-color="#fcf4b6"/><stop offset="1.000" stop-color="#fcf4b6"/></linearGradient><linearGradient id="gSeL6" gradientUnits="userSpaceOnUse" x1="1521.7" y1="0" x2="1898.3000000000002" y2="0"><stop offset="0.000" stop-color="#c43c75"/><stop offset="0.453" stop-color="#c43c75"/><stop offset="0.911" stop-color="#c43c75"/><stop offset="1.000" stop-color="#c43c75"/></linearGradient><linearGradient id="gSeL5" gradientUnits="userSpaceOnUse" x1="1521.7" y1="0" x2="1898.3000000000002" y2="0"><stop offset="0.000" stop-color="#962c80"/><stop offset="0.302" stop-color="#962c80"/><stop offset="0.453" stop-color="#c43c75"/><stop offset="0.604" stop-color="#962c80"/><stop offset="0.911" stop-color="#962c80"/><stop offset="1.000" stop-color="#962c80"/></linearGradient><linearGradient id="gSeL4" gradientUnits="userSpaceOnUse" x1="1521.7" y1="0" x2="1898.3000000000002" y2="0"><stop offset="0.000" stop-color="#d8456c"/><stop offset="0.302" stop-color="#ea5661"/><stop offset="0.453" stop-color="#962c80"/><stop offset="0.604" stop-color="#ea5661"/><stop offset="0.911" stop-color="#d8456c"/><stop offset="1.000" stop-color="#d8456c"/></linearGradient><linearGradient id="gSeL2" gradientUnits="userSpaceOnUse" x1="1521.7" y1="0" x2="1898.3000000000002" y2="0"><stop offset="0.000" stop-color="#8e2a81"/><stop offset="0.453" stop-color="#8e2a81"/><stop offset="0.911" stop-color="#8e2a81"/><stop offset="1.000" stop-color="#8e2a81"/></linearGradient><linearGradient id="gSeL1" gradientUnits="userSpaceOnUse" x1="1521.7" y1="0" x2="1898.3000000000002" y2="0"><stop offset="0.000" stop-color="#8e2a81"/><stop offset="0.453" stop-color="#8e2a81"/><stop offset="0.911" stop-color="#8e2a81"/><stop offset="1.000" stop-color="#8e2a81"/></linearGradient><linearGradient id="gSeL3" gradientUnits="userSpaceOnUse" x1="1521.7" y1="0" x2="1898.3000000000002" y2="0"><stop offset="0.000" stop-color="#fb8560"/><stop offset="0.453" stop-color="#fb8560"/><stop offset="0.911" stop-color="#fb8560"/><stop offset="1.000" stop-color="#fb8560"/></linearGradient><linearGradient id="gSecb" gradientUnits="userSpaceOnUse" x1="1521.7" y1="0" x2="1898.3000000000002" y2="0"><stop offset="0.000" stop-color="#ea5661"/><stop offset="0.080" stop-color="#fed194"/><stop offset="0.302" stop-color="#fdebac"/><stop offset="0.453" stop-color="#fed194"/><stop offset="0.604" stop-color="#fdebac"/><stop offset="0.830" stop-color="#fed194"/><stop offset="0.911" stop-color="#ea5661"/><stop offset="1.000" stop-color="#fb8560"/></linearGradient><linearGradient id="gSeca" gradientUnits="userSpaceOnUse" x1="1521.7" y1="0" x2="1898.3000000000002" y2="0"><stop offset="0.000" stop-color="#ea5661"/><stop offset="0.053" stop-color="#feb77e"/><stop offset="0.302" stop-color="#fdebac"/><stop offset="0.453" stop-color="#fdebac"/><stop offset="0.604" stop-color="#fdebac"/><stop offset="0.857" stop-color="#feb77e"/><stop offset="0.911" stop-color="#ea5661"/><stop offset="1.000" stop-color="#fb8560"/></linearGradient><clipPath id="cpb11"><rect x="1522.2" y="379.29999999999995" width="376.1" height="325.3"/></clipPath></defs>
<g clip-path="url(#cpb00)" fill="none" stroke-width="2.9" stroke-linecap="round" stroke-linejoin="round">
<path stroke="url(#gNab1)" d="M1120.3 73.3l2 -0.1 2 -0.1 2 -0.1 2 -0.2 2 -0.3 2 -0.3 2 -0.4 2 -0.4 2 -0.5 2 -0.6 2 -0.7 2 -0.9 2 -0.9 2 -1 2 -1.1 2 -1.2 2 -1.1 2 -1.1 2 -1.2 2 -1.1 2 -1 2 -1.1 2 -1.2 2 -1.2 2 -1.1 2 -1.2 2 -1.2 2 -1.2 2 -1.1 2 -1 2 -1 2 -0.9 2 -0.9 2 -0.8 2 -0.8 2 -0.9 2 -0.7 2 -0.8 2 -0.7 2 -0.6 2 -0.6 2 -0.6 2 -0.5 2 -0.4 2 -0.4 2 -0.4 2 -0.4 2 -0.4 2 -0.3 2 -0.4 2 -0.3 2 -0.2 2 -0.3 2 -0.2 2 -0.1 2 -0.1 2 0 2 0.1 2 0.1 2 0.2 2 0.3 2 0.3 2 0.3 2 0.4 2 0.4 2 0.5 2 0.4 2 0.4 2 0.4 2 0.4 2 0.4 2 0.3 2 0.3 2 0.4 2 0.4 2 0.4 2 0.4 2 0.4 2 0.3 2 0.4 2 0.3 2 0.3 2 0.2 2 0.1 2 0.1 2 -0.1 2 -0.1 2 -0.1 2 -0.3 2 -0.2 2 -0.4 2 -0.3 2 -0.4 2 -0.4 2 -0.4 2 -0.4 2 -0.4 2 -0.3 2 -0.4 2 -0.3 2 -0.4 2 -0.4 2 -0.4 2 -0.4 2 -0.4 2 -0.4 2 -0.4 2 -0.4 2 -0.4 2 -0.3 2 -0.2 2 -0.2 2 -0.1 2 0 2 0.1 2 0.1 2 0.1 2 0.2 2 0.3 2 0.2 2 0.4 2 0.3 2 0.4 2 0.3 2 0.4 2 0.4 2 0.4 2 0.4 2 0.5 2 0.6 2 0.6 2 0.6 2 0.7 2 0.8 2 0.7 2 0.8 2 0.8 2 0.9 2 0.8 2 0.9 2 1 2 1 2 1.1 2 1.1 2 1.2 2 1.2 2 1.1 2 1.2 2 1.1 2 1.1 2 1 2 1.1 2 1.1 2 1.2 2 1.1 2 1.1 2 1.1 2 1 2 1 2 0.8 2 0.8 2 0.6 2 0.5 2 0.5 2 0.4 2 0.3 2 0.3 2 0.2 2 0.2 2 0.1 2 0.1 2 0 2 0 2 0 2 0 2 0 2 0 2 0 2 0 2 0 2 0 2 0 2 0 2 0 2 0 2 0 2 0 2.6 0"/>
<path stroke="url(#gNab2)" d="M1120.3 73.3l2 -0.1 2 -0.1 2 -0.2 2 -0.1 2 -0.1 2 -0.2 2 -0.1 2 -0.1 2 -0.2 2 -0.1 2 -0.1 2 -0.2 2 -0.1 2 -0.2 2 -0.1 2 -0.2 2 -0.1 2 -0.2 2 -0.1 2 -0.2 2 -0.1 2 -0.2 2 -0.2 2 -0.2 2 -0.2 2 -0.2 2 -0.2 2 -0.2 2 -0.2 2 -0.2 2 -0.2 2 -0.2 2 -0.2 2 -0.2 2 -0.2 2 -0.2 2 -0.2 2 -0.1 2 -0.2 2 -0.2 2 -0.1 2 -0.1 2 -0.2 2 -0.1 2 -0.1 2 -0.1 2 0 2 -0.1 2 -0.1 2 0 2 -0.1 2 -0.1 2 0 2 -0.1 2 -0.1 2 -0.1 2 -0.1 2 -0.1 2 -0.2 2 -0.1 2 -0.2 2 -0.1 2 -0.2 2 -0.2 2 -0.2 2 -0.2 2 -0.2 2 -0.2 2 -0.2 2 -0.3 2 -0.3 2 -0.3 2 -0.3 2 -0.4 2 -0.3 2 -0.3 2 -0.4 2 -0.3 2 -0.2 2 -0.3 2 -0.2 2 -0.2 2 -0.2 2 -0.1 2 0 2 0 2 0.1 2 0.1 2 0.2 2 0.2 2 0.2 2 0.3 2 0.3 2 0.3 2 0.3 2 0.4 2 0.3 2 0.3 2 0.3 2 0.3 2 0.3 2 0.3 2 0.2 2 0.2 2 0.2 2 0.2 2 0.2 2 0.2 2 0.1 2 0.2 2 0.2 2 0.1 2 0.1 2 0.2 2 0.1 2 0 2 0.1 2 0.1 2 0.1 2 0 2 0.1 2 0.1 2 0 2 0.1 2 0.1 2 0.1 2 0.1 2 0.1 2 0.1 2 0.1 2 0.2 2 0.1 2 0.2 2 0.2 2 0.1 2 0.2 2 0.2 2 0.2 2 0.2 2 0.2 2 0.2 2 0.2 2 0.2 2 0.2 2 0.2 2 0.2 2 0.2 2 0.2 2 0.2 2 0.1 2 0.2 2 0.2 2 0.1 2 0.2 2 0.2 2 0.2 2 0.1 2 0.2 2 0.2 2 0.2 2 0.2 2 0.1 2 0.2 2 0.1 2 0.2 2 0.1 2 0.1 2 0.1 2 0 2 0.1 2 0 2 0 2 0 2 0 2 0 2 0 2 0 2 0 2 0 2 0 2 0 2 0 2 0 2 0 2 0 2 0 2 0 2.6 0"/>
<path stroke="url(#gNab3)" d="M1120.3 97.5l2 0.1 2 0 2 0.1 2 0.2 2 0.1 2 0.2 2 0.2 2 0.2 2 0.3 2 0.2 2 0.4 2 0.4 2 0.4 2 0.5 2 0.5 2 0.6 2 0.6 2 0.6 2 0.6 2 0.6 2 0.6 2 0.6 2 0.8 2 0.7 2 0.9 2 0.8 2 0.8 2 0.8 2 0.7 2 0.6 2 0.6 2 0.4 2 0.4 2 0.3 2 0.4 2 0.3 2 0.3 2 0.3 2 0.3 2 0.2 2 0.2 2 0.1 2 0.1 2 0 2 0 2 -0.1 2 -0.1 2 -0.1 2 -0.1 2 -0.1 2 -0.1 2 -0.1 2 -0.1 2 -0.1 2 -0.1 2 0 2 0 2 0 2 0.1 2 0.1 2 0.2 2 0.2 2 0.2 2 0.3 2 0.2 2 0.3 2 0.3 2 0.2 2 0.2 2 0.3 2 0.2 2 0.1 2 0.2 2 0.2 2 0.1 2 0.2 2 0.2 2 0.1 2 0.2 2 0.1 2 0.2 2 0.1 2 0.1 2 0 2 0 2 0 2 0 2 -0.1 2 -0.1 2 -0.1 2 -0.1 2 -0.2 2 -0.1 2 -0.2 2 -0.2 2 -0.1 2 -0.2 2 -0.2 2 -0.2 2 -0.1 2 -0.2 2 -0.3 2 -0.2 2 -0.3 2 -0.2 2 -0.3 2 -0.2 2 -0.3 2 -0.2 2 -0.2 2 -0.1 2 -0.2 2 0 2 0 2 0 2 0 2 0.1 2 0.1 2 0.1 2 0.1 2 0.1 2 0.2 2 0.1 2 0.1 2 0 2 0.1 2 0 2 0 2 -0.1 2 -0.1 2 -0.2 2 -0.2 2 -0.3 2 -0.3 2 -0.3 2 -0.3 2 -0.4 2 -0.3 2 -0.4 2 -0.4 2 -0.6 2 -0.6 2 -0.7 2 -0.8 2 -0.8 2 -0.8 2 -0.8 2 -0.7 2 -0.8 2 -0.6 2 -0.6 2 -0.6 2 -0.6 2 -0.6 2 -0.6 2 -0.5 2 -0.6 2 -0.5 2 -0.4 2 -0.4 2 -0.4 2 -0.3 2 -0.2 2 -0.2 2 -0.2 2 -0.2 2 -0.2 2 -0.1 2 -0.1 2 -0.1 2 -0.1 2 0 2 0 2 0 2 0 2 0.1 2 0 2 0 2 0.1 2 0 2 0.1 2 0.1 2 0.1 2 0.1 2 0.1 2 0.2 2 0.2 2.6 0.2"/>
<path stroke="url(#gNaL10)" d="M1120.3 224.9l2 0.2 2 0.2 2 0.1 2 0.1 2 0.1 2 0.1 2 0.1 2 0 2 0.1 2 0 2 0 2 0 2 0.1 2 0 2 -0.1 2 0 2 -0.1 2 -0.2 2 -0.2 2 -0.1 2 -0.3 2 -0.2 2 -0.2 2 -0.3 2 -0.2 2 -0.3 2 -0.3 2 -0.2 2 -0.2 2 -0.3 2 -0.3 2 -0.4 2 -0.3 2 -0.4 2 -0.4 2 -0.4 2 -0.4 2 -0.3 2 -0.4 2 -0.3 2 -0.3 2 -0.2 2 -0.2 2 -0.1 2 -0.1 2 -0.1 2 -0.1 2 -0.1 2 -0.1 2 0 2 -0.1 2 -0.1 2 0 2 0 2 -0.1 2 0 2 0 2 0 2 0.1 2 0 2 0.1 2 0.1 2 0.1 2 0.1 2 0.1 2 0.2 2 0.1 2 0.4 2 0.5 2 0.5 2 0.6 2 0.5 2 0.3 2 0.3 2 0.1 2 0.1 2 0.2 2 0.1 2 0.1 2 0.1 2 0.1 2 0.1 2 0 2 0.1 2 0 2 0 2 -0.1 2 0 2 -0.1 2 0 2 -0.1 2 -0.1 2 -0.1 2 -0.2 2 -0.1 2 -0.2 2 -0.1 2 -0.3 2 -0.5 2 -0.5 2 -0.5 2 -0.5 2 -0.5 2 -0.3 2 -0.1 2 -0.1 2 -0.2 2 -0.1 2 -0.1 2 0 2 -0.1 2 -0.1 2 0 2 0 2 0 2 0 2 0.1 2 0 2 0.1 2 0 2 0.1 2 0.1 2 0 2 0.1 2 0.1 2 0.1 2 0.1 2 0.1 2 0.2 2 0.3 2 0.2 2 0.4 2 0.3 2 0.4 2 0.3 2 0.4 2 0.4 2 0.4 2 0.3 2 0.4 2 0.3 2 0.2 2 0.3 2 0.2 2 0.3 2 0.2 2 0.3 2 0.2 2 0.3 2 0.2 2 0.2 2 0.2 2 0.2 2 0.1 2 0.1 2 0.1 2 0 2 0 2 0 2 0 2 -0.1 2 -0.1 2 0 2 -0.1 2 -0.1 2 -0.1 2 -0.1 2 -0.1 2 -0.1 2 -0.1 2 -0.1 2 0 2 -0.1 2 0 2 0 2 -0.1 2 0 2 -0.1 2 0 2 0 2 -0.1 2 0 2 0 2 0 2 -0.1 2 0 2 0 2.6 0"/>
<path stroke="url(#gNaL9)" d="M1120.3 224.4l2 -0.3 2 -0.3 2 -0.3 2 -0.3 2 -0.3 2 -0.3 2 -0.3 2 -0.3 2 -0.4 2 -0.3 2 -0.3 2 -0.4 2 -0.3 2 -0.4 2 -0.4 2 -0.3 2 -0.4 2 -0.4 2 -0.5 2 -0.4 2 -0.4 2 -0.4 2 -0.4 2 -0.5 2 -0.4 2 -0.4 2 -0.4 2 -0.3 2 -0.4 2 -0.3 2 -0.3 2 -0.3 2 -0.3 2 -0.3 2 -0.3 2 -0.4 2 -0.4 2 -0.5 2 -0.7 2 -0.6 2 -0.6 2 -0.5 2 -0.3 2 -0.1 2 0 2 0 2 0.1 2 0 2 0.1 2 0.1 2 0 2 0.1 2 0.1 2 0.1 2 0 2 0.1 2 0.1 2 0 2 0.1 2 0 2 0 2 0.1 2 0 2 0.1 2 0.1 2 0.1 2 0.1 2 0.4 2 0.5 2 0.7 2 0.7 2 0.7 2 0.6 2 0.6 2 0.5 2 0.6 2 0.6 2 0.6 2 0.6 2 0.5 2 0.5 2 0.5 2 0.3 2 0.2 2 0.2 2 -0.1 2 -0.1 2 -0.3 2 -0.4 2 -0.5 2 -0.5 2 -0.6 2 -0.6 2 -0.6 2 -0.6 2 -0.6 2 -0.5 2 -0.6 2 -0.7 2 -0.7 2 -0.6 2 -0.6 2 -0.5 2 -0.3 2 -0.1 2 -0.1 2 0 2 -0.1 2 0 2 -0.1 2 0 2 -0.1 2 0 2 -0.1 2 0 2 -0.1 2 -0.1 2 0 2 -0.1 2 -0.1 2 -0.1 2 0 2 -0.1 2 -0.1 2 0 2 0 2 0 2 0.1 2 0.4 2 0.5 2 0.6 2 0.6 2 0.6 2 0.6 2 0.4 2 0.3 2 0.3 2 0.3 2 0.3 2 0.3 2 0.3 2 0.3 2 0.4 2 0.3 2 0.4 2 0.4 2 0.4 2 0.4 2 0.4 2 0.4 2 0.5 2 0.4 2 0.4 2 0.4 2 0.4 2 0.3 2 0.4 2 0.4 2 0.4 2 0.4 2 0.4 2 0.4 2 0.4 2 0.4 2 0.4 2 0.3 2 0.4 2 0.2 2 0.2 2 0.2 2 0.1 2 0 2 0 2 0 2 0 2 0 2 0 2 0 2 -0.1 2 0 2 0 2 0 2 -0.1 2 0 2 -0.1 2 0 2 -0.1 2.6 -0.1"/>
<path stroke="url(#gNap2)" d="M1120.3 279.1l2 0.3 2 0.3 2 0.4 2 0.3 2 0.3 2 0.2 2 0.3 2 0.3 2 0.3 2 0.3 2 0.3 2 0.3 2 0.3 2 0.2 2 0.1 2 0 2 -0.1 2 0 2 -0.1 2 -0.1 2 -0.1 2 -0.2 2 -0.4 2 -0.7 2 -1 2 -1.1 2 -1.1 2 -1 2 -0.7 2 -0.6 2 -0.6 2 -0.5 2 -0.5 2 -0.6 2 -0.7 2 -0.7 2 -0.9 2 -1 2 -1.1 2 -1.1 2 -1.2 2 -1.1 2 -1.2 2 -1.4 2 -1.3 2 -1.4 2 -1.2 2 -1.1 2 -0.9 2 -0.8 2 -0.7 2 -0.8 2 -0.7 2 -0.5 2 -0.5 2 -0.2 2 -0.1 2 0 2 0.1 2 0.2 2 0.1 2 0.2 2 0.3 2 0.2 2 0.3 2 0.3 2 0.2 2 0.3 2 0.3 2 0.3 2 0.2 2 0.2 2 0.2 2 0.2 2 0.2 2 0.3 2 0.2 2 0.2 2 0.2 2 0.2 2 0.2 2 0.1 2 0.2 2 0 2 0.1 2 0 2 0 2 0 2 0 2 0 2 0 2 0 2 0 2 0 2 0 2 0 2 0 2 0 2 0 2 0 2 0 2 0 2 0 2 0 2 0.1 2 0 2 0 2 0.1 2 0 2 0.1 2 0 2 0.1 2 0 2 0.1 2 0.2 2 0.2 2 0.3 2 0.4 2 0.4 2 0.5 2 0.5 2 0.5 2 0.7 2 0.8 2 1 2 1 2 1.1 2 1 2 1 2 1 2 1 2 1.1 2 1 2 1 2 1 2 0.9 2 0.8 2 0.8 2 0.8 2 0.7 2 0.7 2 0.6 2 0.6 2 0.4 2 0.4 2 0.4 2 0.3 2 0.3 2 0.2 2 0.1 2 0 2 0 2 0 2 0 2 0 2 0 2 0 2 -0.1 2 -0.1 2 -0.2 2 -0.2 2 -0.3 2 -0.2 2 -0.3 2 -0.3 2 -0.4 2 -0.5 2 -0.4 2 -0.4 2 -0.3 2 -0.2 2 0 2 0.1 2 0.2 2 0.2 2 0.3 2 0.3 2 0.5 2 0.9 2 1.4 2 1.6 2 1.6 2 1.4 2 1.5 2 1.5 2 1.5 2 1.6 2.6 2.1"/>
<path stroke="url(#gNapl)" d="M1120.3 333.8l2 -2.7 2 -2.6 2 -2.6 2 -2.5 2 -2.4 2 -2.4 2 -2.2 2 -2.2 2 -2 2 -2 2 -2 2 -1.9 2 -1.8 2 -1.8 2 -1.7 2 -1.6 2 -1.6 2 -1.4 2 -1.4 2 -1.2 2 -1.3 2 -1.1 2 -1.2 2 -1 2 -1.1 2 -0.9 2 -1 2 -0.9 2 -0.9 2 -0.9 2 -0.9 2 -0.8 2 -0.8 2 -0.7 2 -0.6 2 -0.5 2 -0.5 2 -0.3 2 -0.1 2 0.2 2 0.4 2 0.5 2 0.5 2 0.5 2 0.5 2 0.4 2 0.6 2 0.5 2 0.4 2 0.4 2 0.5 2 0.4 2 0.4 2 0.4 2 0.2 2 0.2 2 0 2 -0.2 2 -0.6 2 -0.9 2 -1 2 -1.2 2 -1.3 2 -1.4 2 -1.3 2 -1.3 2 -1.2 2 -1.3 2 -1.5 2 -1.6 2 -1.5 2 -1.6 2 -1.5 2 -1.4 2 -1.3 2 -1.1 2 -0.9 2 -1 2 -0.9 2 -0.9 2 -0.8 2 -0.8 2 -0.5 2 -0.5 2 -0.1 2 0 2 0.3 2 0.5 2 0.6 2 0.8 2 0.9 2 0.9 2 1 2 0.9 2 1 2 1.2 2 1.3 2 1.5 2 1.5 2 1.6 2 1.5 2 1.6 2 1.4 2 1.3 2 1.2 2 1.3 2 1.3 2 1.3 2 1.3 2 1.2 2 1 2 0.7 2 0.4 2 0.1 2 -0.1 2 -0.2 2 -0.3 2 -0.3 2 -0.5 2 -0.4 2 -0.4 2 -0.4 2 -0.5 2 -0.5 2 -0.5 2 -0.4 2 -0.5 2 -0.5 2 -0.5 2 -0.5 2 -0.3 2 -0.2 2 0.1 2 0.3 2 0.5 2 0.6 2 0.6 2 0.6 2 0.8 2 0.8 2 0.9 2 0.9 2 0.8 2 1 2 0.9 2 1 2 1 2 1 2 1.1 2 1.2 2 1.2 2 1.2 2 1.3 2 1.4 2 1.5 2 1.6 2 1.7 2 1.7 2 1.8 2 1.8 2 2 2 1.9 2 2 2 2.6 2 2.9 2 3.2 2 3.1 2 2.9 2 2.5 2 1.9 2 1.1 2 0.1 2 -0.4 2 -0.6 2 -0.9 2 -1 2 -1 2 -1 2 -0.9 2 -0.7 2 -0.6 2 -0.6 2 -0.5 2 -0.6 2 -0.5 2 -0.4 2 -0.5 2.6 -0.5"/>
<path stroke="url(#gNapk)" d="M1120.3 333.8l2 -3.1 2 -3 2 -2.9 2 -2.8 2 -2.7 2 -2.5 2 -2.5 2 -2.3 2 -2.2 2 -2 2 -1.9 2 -1.9 2 -1.7 2 -1.7 2 -1.7 2 -1.6 2 -1.7 2 -1.6 2 -1.7 2 -1.7 2 -1.7 2 -1.7 2 -1.6 2 -1.6 2 -1.4 2 -1.4 2 -1.3 2 -1.3 2 -1.3 2 -1.1 2 -1 2 -0.9 2 -0.7 2 -0.6 2 -0.6 2 -0.5 2 -0.5 2 -0.6 2 -0.6 2 -0.7 2 -0.7 2 -0.7 2 -0.7 2 -0.6 2 -0.4 2 -0.4 2 -0.2 2 -0.3 2 -0.2 2 -0.2 2 -0.2 2 -0.1 2 -0.2 2 -0.2 2 -0.2 2 -0.3 2 -0.2 2 -0.3 2 -0.4 2 -0.3 2 -0.4 2 -0.4 2 -0.5 2 -0.6 2 -0.7 2 -0.7 2 -0.8 2 -0.8 2 -0.8 2 -0.7 2 -0.7 2 -0.6 2 -0.5 2 -0.4 2 -0.5 2 -0.3 2 -0.2 2 0 2 0.3 2 0.5 2 0.7 2 0.7 2 0.6 2 0.5 2 0.3 2 -0.1 2 -0.4 2 -0.5 2 -0.7 2 -0.7 2 -0.6 2 -0.5 2 -0.2 2 0.1 2 0.3 2 0.4 2 0.5 2 0.4 2 0.5 2 0.7 2 0.7 2 0.8 2 0.8 2 0.8 2 0.7 2 0.7 2 0.7 2 0.5 2 0.5 2 0.4 2 0.3 2 0.4 2 0.3 2 0.3 2 0.2 2 0.3 2 0.2 2 0.2 2 0.1 2 0.2 2 0.2 2 0.2 2 0.2 2 0.2 2 0.3 2 0.4 2 0.4 2 0.6 2 0.7 2 0.7 2 0.7 2 0.7 2 0.6 2 0.5 2 0.5 2 0.6 2 0.5 2 0.6 2 0.8 2 0.8 2 1 2 1.1 2 1.2 2 1.3 2 1.3 2 1.4 2 1.4 2 1.5 2 1.6 2 1.6 2 1.7 2 1.7 2 1.7 2 1.6 2 1.6 2 1.6 2 1.6 2 1.7 2 1.7 2 1.8 2 1.8 2 2 2 2.2 2 2.7 2 3.2 2 3.5 2 3.5 2 3.3 2 2.8 2 2.2 2 1.1 2 0.2 2 -0.4 2 -0.6 2 -0.9 2 -1 2 -1 2 -1 2 -0.9 2 -0.7 2 -0.6 2 -0.6 2 -0.5 2 -0.6 2 -0.5 2 -0.4 2 -0.5 2.6 -0.5"/>
<path stroke="url(#gNala)" d="M1120.3 333.8l2 -4.3 2 -4.1 2 -3.9 2 -3.7 2 -3.4 2 -3.1 2 -2.9 2 -2.7 2 -2.5 2 -2.5 2 -2.5 2 -2.6 2 -2.6 2 -2.7 2 -2.7 2 -2.7 2 -2.6 2 -2.5 2 -2.3 2 -2.2 2 -2.1 2 -2 2 -2 2 -1.9 2 -1.8 2 -1.8 2 -1.7 2 -1.7 2 -1.6 2 -1.5 2 -1.4 2 -1.3 2 -1.2 2 -1.2 2 -1 2 -1 2 -1 2 -0.9 2 -0.8 2 -0.7 2 -0.7 2 -0.6 2 -0.7 2 -0.6 2 -0.6 2 -0.7 2 -0.8 2 -0.7 2 -0.6 2 -0.5 2 -0.3 2 -0.2 2 -0.1 2 -0.2 2 -0.1 2 0 2 -0.1 2 0.1 2 0 2 0.1 2 0.2 2 0.1 2 0.2 2 0.1 2 0.2 2 0.1 2 0.2 2 0.1 2 0.1 2 0.1 2 0 2 0 2 -0.1 2 -0.1 2 -0.1 2 -0.1 2 -0.2 2 -0.1 2 -0.2 2 -0.2 2 -0.1 2 -0.1 2 -0.2 2 0 2 -0.1 2 0.1 2 0 2 0.1 2 0.1 2 0.2 2 0.1 2 0.2 2 0.1 2 0.2 2 0.2 2 0.1 2 0.1 2 0.1 2 0 2 0 2 -0.1 2 0 2 -0.2 2 -0.1 2 -0.1 2 -0.2 2 -0.2 2 -0.1 2 -0.2 2 -0.1 2 -0.1 2 -0.1 2 0 2 -0.1 2 0.1 2 0.1 2 0.1 2 0.1 2 0.2 2 0.2 2 0.3 2 0.6 2 0.6 2 0.8 2 0.7 2 0.6 2 0.6 2 0.7 2 0.6 2 0.6 2 0.7 2 0.8 2 0.8 2 0.8 2 1 2 1 2 1 2 1.1 2 1.2 2 1.3 2 1.4 2 1.5 2 1.6 2 1.6 2 1.7 2 1.7 2 1.8 2 1.9 2 1.9 2 2 2 2.1 2 2.1 2 2.3 2 2.4 2 2.5 2 2.6 2 2.7 2 2.6 2 2.7 2 2.5 2 2.5 2 2.4 2 2.5 2 2.6 2 2.7 2 3 2 3.9 2 4.9 2 4.9 2 4.2 2 2.4 2 0.3 2 -0.7 2 -1.2 2 -1.6 2 -1.9 2 -2 2 -2 2 -1.9 2 -1.6 2 -1.5 2 -1.4 2 -1.4 2 -1.4 2 -1.4 2 -1.3 2 -1.4 2.6 -1.7"/>
<path stroke="url(#gNaL8)" d="M1120.3 185.6l2 0.5 2 0.6 2 0.6 2 0.5 2 0.6 2 0.5 2 0.6 2 0.5 2 0.6 2 0.5 2 0.5 2 0.6 2 0.5 2 0.5 2 0.6 2 0.5 2 0.7 2 0.6 2 0.7 2 0.6 2 0.6 2 0.6 2 0.6 2 0.5 2 0.4 2 0.4 2 0.2 2 0.2 2 0 2 0 2 -0.1 2 0 2 -0.1 2 -0.2 2 -0.1 2 -0.2 2 -0.3 2 -0.6 2 -1 2 -1 2 -1.2 2 -1 2 -0.9 2 -0.7 2 -0.5 2 -0.5 2 -0.5 2 -0.5 2 -0.5 2 -0.5 2 -0.4 2 -0.3 2 -0.3 2 -0.3 2 -0.1 2 -0.1 2 -0.1 2 0.1 2 0.2 2 0.2 2 0.4 2 0.3 2 0.5 2 0.4 2 0.5 2 0.4 2 0.5 2 0.7 2 0.7 2 0.8 2 0.8 2 0.8 2 0.7 2 0.5 2 0.4 2 0.5 2 0.4 2 0.4 2 0.4 2 0.4 2 0.3 2 0.3 2 0.2 2 0.2 2 0 2 0 2 -0.1 2 -0.2 2 -0.2 2 -0.3 2 -0.4 2 -0.3 2 -0.4 2 -0.5 2 -0.4 2 -0.5 2 -0.4 2 -0.6 2 -0.7 2 -0.8 2 -0.8 2 -0.8 2 -0.7 2 -0.6 2 -0.5 2 -0.4 2 -0.5 2 -0.4 2 -0.4 2 -0.4 2 -0.3 2 -0.2 2 -0.1 2 -0.1 2 0.1 2 0.1 2 0.2 2 0.3 2 0.3 2 0.4 2 0.4 2 0.4 2 0.5 2 0.5 2 0.5 2 0.5 2 0.5 2 0.7 2 1 2 1 2 1.1 2 1.1 2 0.9 2 0.6 2 0.2 2 0.2 2 0.1 2 0.2 2 0.1 2 0.1 2 0 2 0 2 0 2 -0.2 2 -0.2 2 -0.4 2 -0.4 2 -0.5 2 -0.5 2 -0.6 2 -0.6 2 -0.6 2 -0.7 2 -0.6 2 -0.6 2 -0.6 2 -0.6 2 -0.5 2 -0.5 2 -0.6 2 -0.7 2 -0.6 2 -0.6 2 -0.7 2 -0.6 2 -0.6 2 -0.6 2 -0.5 2 -0.4 2 -0.4 2 -0.3 2 -0.2 2 -0.2 2 -0.2 2 -0.2 2 -0.2 2 -0.2 2 -0.1 2 -0.2 2 -0.1 2 -0.1 2 -0.2 2 -0.1 2 0 2 -0.1 2 -0.1 2 0 2.6 0"/>
<path stroke="url(#gNaL7)" d="M1120.3 187.1l2 0 2 0 2 0 2 0 2 0 2 0 2 0 2 0 2 0 2 0 2 0 2 0 2 0 2 0 2 0 2 0.1 2 0 2 0 2 0 2 0 2 0.1 2 0 2 0 2 0.1 2 0 2 0.1 2 0 2 0.1 2 0.1 2 0.1 2 0.1 2 0.3 2 0.2 2 0.4 2 0.3 2 0.4 2 0.3 2 0.4 2 0.4 2 0.3 2 0.4 2 0.3 2 0.3 2 0.2 2 0.3 2 0.2 2 0.2 2 0.3 2 0.2 2 0.3 2 0.2 2 0.2 2 0.1 2 0.2 2 0.1 2 0 2 0 2 0 2 0 2 0 2 0 2 0 2 0 2 0 2 0 2 0 2 0 2 -0.1 2 -0.2 2 -0.3 2 -0.3 2 -0.2 2 -0.3 2 -0.2 2 -0.1 2 -0.2 2 -0.2 2 -0.2 2 -0.2 2 -0.1 2 -0.2 2 -0.1 2 -0.1 2 -0.1 2 0 2 0 2 0.1 2 0 2 0.2 2 0.1 2 0.1 2 0.2 2 0.2 2 0.2 2 0.2 2 0.1 2 0.2 2 0.2 2 0.3 2 0.3 2 0.2 2 0.3 2 0.1 2 0.1 2 0 2 0 2 0 2 0 2 0 2 0 2 0 2 0 2 0 2 0 2 0 2 -0.1 2 -0.1 2 -0.1 2 -0.2 2 -0.2 2 -0.2 2 -0.2 2 -0.3 2 -0.2 2 -0.3 2 -0.2 2 -0.2 2 -0.3 2 -0.2 2 -0.4 2 -0.3 2 -0.4 2 -0.3 2 -0.4 2 -0.4 2 -0.3 2 -0.4 2 -0.3 2 -0.2 2 -0.3 2 -0.1 2 -0.1 2 -0.1 2 0 2 -0.1 2 -0.1 2 0 2 0 2 -0.1 2 0 2 -0.1 2 0 2 0 2 0 2 0 2 -0.1 2 0 2 0 2 0 2 0 2 0 2 0 2 0 2 0 2 0 2 0 2 0 2 0 2 0 2 0 2 0 2 0 2 0.1 2 0 2 0.1 2 0 2 0.1 2 0.1 2 0.2 2 0.1 2 0.1 2 0.2 2 0.2 2 0.1 2 0.2 2 0.2 2 0.2 2.6 0.2"/>
<path stroke="url(#gNaL6)" d="M1120.3 186.9l2 -0.1 2 -0.1 2 -0.2 2 -0.2 2 -0.3 2 -0.3 2 -0.4 2 -0.5 2 -0.6 2 -0.7 2 -0.7 2 -0.8 2 -0.6 2 -0.6 2 -0.5 2 -0.6 2 -0.5 2 -0.5 2 -0.5 2 -0.4 2 -0.2 2 -0.2 2 -0.2 2 -0.1 2 -0.1 2 -0.1 2 -0.1 2 -0.1 2 0 2 0 2 0 2 0 2 0 2 0 2 0 2 0 2 0 2 0 2 0 2 0 2 0 2 0 2 0 2 0 2 0 2 0 2 0 2 0 2 0 2 0 2 0 2 0 2 0 2 0 2 0 2 0 2 0 2 0 2 0.1 2 0 2 0 2 0.1 2 0.1 2 0 2 0.1 2 0.1 2 0.1 2 0.1 2 0.1 2 0.1 2 0.1 2 0.1 2 0.1 2 0.1 2 0.2 2 0.2 2 0.2 2 0.2 2 0.3 2 0.2 2 0.3 2 0.2 2 0.1 2 0.1 2 0.1 2 0 2 -0.1 2 -0.1 2 -0.2 2 -0.2 2 -0.3 2 -0.2 2 -0.3 2 -0.2 2 -0.2 2 -0.2 2 -0.1 2 -0.1 2 -0.1 2 -0.1 2 -0.1 2 -0.2 2 -0.1 2 -0.1 2 0 2 -0.1 2 -0.1 2 -0.1 2 0 2 -0.1 2 0 2 -0.1 2 0 2 0 2 0 2 0 2 0 2 0 2 0 2 0 2 0 2 0 2 0 2 0 2 0 2 0 2 0 2 0 2 0 2 0 2 0 2 0 2 0 2 0 2 0 2 0 2 0 2 0 2 0 2 0 2 0 2 0 2 0 2 0.1 2 0.1 2 0.1 2 0.1 2 0.1 2 0.2 2 0.1 2 0.3 2 0.3 2 0.5 2 0.5 2 0.5 2 0.5 2 0.6 2 0.5 2 0.6 2 0.7 2 0.8 2 0.7 2 0.6 2 0.6 2 0.4 2 0.3 2 0.2 2 0.3 2 0.2 2 0.1 2 0.1 2 0.1 2 0.1 2 0 2 0.1 2 0 2 0.1 2 0 2 0 2 0.1 2 0 2 0 2 0 2 0.1 2 0 2 0 2 0 2.6 0"/>
<path stroke="url(#gNaL5)" d="M1120.3 169.7l2 0.4 2 0.5 2 0.4 2 0.4 2 0.5 2 0.3 2 0.4 2 0.4 2 0.3 2 0.3 2 0.2 2 0.3 2 0.1 2 0.2 2 0.1 2 0.2 2 0.1 2 0.1 2 0.1 2 0.1 2 0.2 2 0 2 0.1 2 0.1 2 0.1 2 0 2 0 2 0.1 2 0 2 0 2 0 2 0 2 0 2 0 2 0 2 0 2 0 2 0 2 0 2 0 2 0 2 0 2 0 2 0 2 0 2 0 2 0 2 0 2 0 2 0 2 0 2 0 2 0 2 0 2 0 2 0 2 0 2 0 2 0 2 0.1 2 0.1 2 0.1 2 0.1 2 0.1 2 0.1 2 0.1 2 0.1 2 0.1 2 0.1 2 0.1 2 0.1 2 0.1 2 0.1 2 0.2 2 0.2 2 0.2 2 0.3 2 0.3 2 0.2 2 0.2 2 0.1 2 0 2 -0.2 2 -0.2 2 -0.1 2 0 2 0.2 2 0.2 2 0.1 2 0 2 -0.2 2 -0.2 2 -0.2 2 -0.3 2 -0.3 2 -0.2 2 -0.2 2 -0.1 2 -0.1 2 -0.1 2 -0.1 2 -0.1 2 -0.1 2 -0.1 2 -0.1 2 -0.1 2 -0.1 2 -0.1 2 -0.1 2 -0.1 2 -0.1 2 -0.1 2 0 2 0 2 0 2 0 2 0 2 0 2 0 2 0 2 0 2 0 2 0 2 0 2 0 2 0 2 0 2 0 2 0 2 0 2 0 2 0 2 0 2 0 2 0 2 0 2 0 2 0 2 0 2 0 2 0 2 0 2 0 2 0 2 -0.1 2 0 2 -0.1 2 -0.1 2 0 2 -0.1 2 -0.1 2 -0.1 2 -0.2 2 -0.1 2 -0.1 2 -0.1 2 -0.2 2 -0.1 2 -0.3 2 -0.3 2 -0.4 2 -0.4 2 -0.4 2 -0.5 2 -0.5 2 -0.4 2 -0.4 2 -0.4 2 -0.3 2 -0.2 2 -0.1 2 0 2 0 2 0 2 0 2 0 2 0 2 0.1 2 0 2 0.1 2 0 2 0.1 2 0.1 2 0.1 2 0.2 2 0.1 2 0.2 2.6 0.3"/>
<path stroke="url(#gNaL4)" d="M1120.3 172.8l2 0 2 0 2 0 2 0 2 0 2 0 2 0 2 0 2 0 2 0 2 0 2 0 2 0 2 0 2 0 2 0 2 -0.1 2 -0.1 2 -0.1 2 -0.1 2 -0.1 2 -0.1 2 -0.2 2 -0.2 2 -0.2 2 -0.2 2 -0.3 2 -0.2 2 -0.3 2 -0.2 2 -0.1 2 -0.1 2 0 2 0.1 2 0.1 2 0.3 2 0.2 2 0.3 2 0.3 2 0.3 2 0.3 2 0.3 2 0.2 2 0.2 2 0.2 2 0.3 2 0.2 2 0.2 2 0.2 2 0.2 2 0.2 2 0.2 2 0.1 2 0.1 2 0.1 2 0.1 2 0 2 0 2 -0.1 2 -0.1 2 -0.1 2 -0.2 2 -0.2 2 -0.2 2 -0.2 2 -0.1 2 -0.3 2 -0.3 2 -0.3 2 -0.4 2 -0.4 2 -0.4 2 -0.2 2 -0.2 2 -0.1 2 -0.1 2 -0.1 2 -0.1 2 -0.1 2 0 2 -0.1 2 -0.1 2 0 2 0 2 0 2 0 2 0 2 0 2 0.1 2 0 2 0.1 2 0.1 2 0.1 2 0 2 0.2 2 0.1 2 0.1 2 0.2 2 0.3 2 0.4 2 0.3 2 0.4 2 0.4 2 0.2 2 0.2 2 0.2 2 0.2 2 0.2 2 0.2 2 0.1 2 0.1 2 0.1 2 0.1 2 0 2 0 2 -0.1 2 -0.1 2 -0.1 2 -0.2 2 -0.2 2 -0.2 2 -0.2 2 -0.2 2 -0.2 2 -0.2 2 -0.2 2 -0.2 2 -0.2 2 -0.3 2 -0.2 2 -0.3 2 -0.4 2 -0.3 2 -0.2 2 -0.3 2 -0.2 2 -0.1 2 -0.1 2 0 2 0.1 2 0.1 2 0.2 2 0.2 2 0.3 2 0.2 2 0.3 2 0.2 2 0.2 2 0.2 2 0.1 2 0.1 2 0.1 2 0.1 2 0.1 2 0 2 0.1 2 0 2 0 2 0 2 0 2 0 2 0 2 0 2 0 2 0 2 0 2 0 2 0 2 0 2 0 2 0 2 0 2 0 2 0 2 0 2 0 2 -0.1 2 0 2 0 2 -0.1 2 0 2 0 2 -0.1 2 0 2 -0.1 2 0 2 0 2.6 -0.1"/>
<path stroke="url(#gNaL2)" d="M1120.3 168.1l2 -0.4 2 -0.4 2 -0.4 2 -0.4 2 -0.4 2 -0.5 2 -0.4 2 -0.4 2 -0.5 2 -0.4 2 -0.5 2 -0.4 2 -0.5 2 -0.4 2 -0.5 2 -0.5 2 -0.5 2 -0.5 2 -0.5 2 -0.6 2 -0.5 2 -0.5 2 -0.5 2 -0.6 2 -0.5 2 -0.5 2 -0.5 2 -0.4 2 -0.5 2 -0.4 2 -0.5 2 -0.5 2 -0.5 2 -0.5 2 -0.4 2 -0.5 2 -0.5 2 -0.4 2 -0.4 2 -0.3 2 -0.4 2 -0.2 2 -0.3 2 -0.1 2 -0.2 2 -0.1 2 -0.1 2 -0.1 2 -0.1 2 -0.1 2 -0.1 2 -0.1 2 -0.1 2 0 2 -0.1 2 -0.1 2 -0.1 2 -0.2 2 -0.1 2 -0.1 2 -0.2 2 -0.2 2 -0.1 2 -0.2 2 -0.1 2 -0.2 2 -0.2 2 -0.1 2 -0.2 2 -0.1 2 -0.1 2 -0.1 2 -0.1 2 -0.1 2 0 2 -0.1 2 -0.1 2 0 2 -0.1 2 0 2 -0.1 2 0 2 -0.1 2 0 2 0 2 0 2 0 2 0.1 2 0 2 0 2 0.1 2 0 2 0.1 2 0.1 2 0 2 0.1 2 0.1 2 0 2 0.1 2 0.1 2 0.2 2 0.1 2 0.2 2 0.1 2 0.2 2 0.1 2 0.2 2 0.2 2 0.1 2 0.2 2 0.1 2 0.2 2 0.1 2 0.1 2 0.1 2 0.1 2 0.1 2 0.1 2 0.1 2 0 2 0.1 2 0.1 2 0.1 2 0.1 2 0.1 2 0.1 2 0.2 2 0.2 2 0.2 2 0.3 2 0.3 2 0.4 2 0.4 2 0.4 2 0.4 2 0.5 2 0.5 2 0.4 2 0.5 2 0.5 2 0.5 2 0.4 2 0.4 2 0.5 2 0.5 2 0.5 2 0.5 2 0.5 2 0.5 2 0.5 2 0.5 2 0.6 2 0.5 2 0.5 2 0.5 2 0.5 2 0.4 2 0.5 2 0.5 2 0.5 2 0.6 2 0.5 2 0.6 2 0.5 2 0.6 2 0.4 2 0.5 2 0.3 2 0.3 2 0.3 2 0.1 2 0 2 0.1 2 0 2 0 2 0 2 0.1 2 0 2 0 2 0 2 0 2 0 2 0.1 2 0 2 0 2 0 2 0 2.6 0"/>
<path stroke="url(#gNaL1)" d="M1120.3 166.3l2 -0.5 2 -0.4 2 -0.5 2 -0.5 2 -0.5 2 -0.5 2 -0.5 2 -0.5 2 -0.5 2 -0.6 2 -0.5 2 -0.5 2 -0.6 2 -0.5 2 -0.6 2 -0.6 2 -0.6 2 -0.7 2 -0.6 2 -0.7 2 -0.7 2 -0.6 2 -0.7 2 -0.6 2 -0.6 2 -0.6 2 -0.6 2 -0.5 2 -0.4 2 -0.5 2 -0.4 2 -0.4 2 -0.4 2 -0.4 2 -0.4 2 -0.3 2 -0.4 2 -0.3 2 -0.3 2 -0.3 2 -0.3 2 -0.3 2 -0.3 2 -0.2 2 -0.3 2 -0.2 2 -0.2 2 -0.3 2 -0.2 2 -0.3 2 -0.2 2 -0.1 2 -0.2 2 -0.1 2 -0.1 2 -0.1 2 0 2 0 2 0 2 0.1 2 0 2 0.1 2 0.1 2 0.1 2 0.1 2 0.1 2 0.1 2 0.2 2 0.1 2 0.1 2 0.1 2 0.1 2 0.2 2 0.1 2 0.1 2 0.2 2 0.1 2 0.2 2 0.2 2 0.2 2 0.1 2 0.2 2 0.1 2 0.1 2 0 2 0 2 -0.1 2 0 2 -0.2 2 -0.1 2 -0.2 2 -0.2 2 -0.2 2 -0.1 2 -0.2 2 -0.2 2 -0.1 2 -0.1 2 -0.1 2 -0.1 2 -0.2 2 -0.1 2 -0.1 2 -0.1 2 -0.1 2 -0.1 2 -0.1 2 -0.1 2 -0.1 2 -0.1 2 0 2 -0.1 2 0 2 0 2 0 2 0.1 2 0.1 2 0.1 2 0.2 2 0.2 2 0.2 2 0.2 2 0.3 2 0.2 2 0.3 2 0.2 2 0.2 2 0.3 2 0.2 2 0.3 2 0.3 2 0.3 2 0.3 2 0.4 2 0.3 2 0.4 2 0.3 2 0.4 2 0.4 2 0.4 2 0.4 2 0.5 2 0.4 2 0.5 2 0.6 2 0.5 2 0.6 2 0.6 2 0.7 2 0.6 2 0.7 2 0.6 2 0.7 2 0.6 2 0.7 2 0.6 2 0.5 2 0.6 2 0.6 2 0.6 2 0.7 2 0.6 2 0.7 2 0.7 2 0.6 2 0.5 2 0.5 2 0.5 2 0.3 2 0.3 2 0.1 2 0 2 -0.1 2 -0.1 2 -0.3 2 -0.2 2 -0.3 2 -0.3 2 -0.3 2 -0.2 2 -0.3 2 -0.3 2 -0.3 2 -0.3 2 -0.3 2 -0.3 2 -0.4 2.6 -0.4"/>
<path stroke="url(#gNaL3)" d="M1120.3 168.1l2 0 2 0 2 0 2 0 2 -0.1 2 0 2 0 2 -0.1 2 0 2 -0.1 2 0 2 -0.1 2 0 2 -0.1 2 -0.1 2 -0.2 2 -0.2 2 -0.3 2 -0.3 2 -0.4 2 -0.4 2 -0.4 2 -0.5 2 -0.5 2 -0.4 2 -0.5 2 -0.5 2 -0.4 2 -0.4 2 -0.5 2 -0.5 2 -0.5 2 -0.5 2 -0.5 2 -0.6 2 -0.5 2 -0.6 2 -0.5 2 -0.5 2 -0.6 2 -0.5 2 -0.4 2 -0.5 2 -0.4 2 -0.4 2 -0.5 2 -0.4 2 -0.5 2 -0.4 2 -0.5 2 -0.4 2 -0.3 2 -0.4 2 -0.2 2 -0.2 2 -0.1 2 -0.1 2 0.1 2 0.1 2 0.1 2 0.2 2 0.2 2 0.2 2 0.2 2 0.2 2 0.2 2 0.3 2 0.3 2 0.3 2 0.4 2 0.3 2 0.4 2 0.3 2 0.2 2 0.2 2 0.2 2 0.2 2 0.2 2 0.1 2 0.2 2 0.1 2 0.1 2 0.1 2 0.1 2 0 2 0 2 0 2 -0.1 2 -0.1 2 -0.1 2 -0.2 2 -0.1 2 -0.2 2 -0.2 2 -0.2 2 -0.2 2 -0.2 2 -0.3 2 -0.3 2 -0.3 2 -0.4 2 -0.3 2 -0.4 2 -0.2 2 -0.3 2 -0.2 2 -0.2 2 -0.2 2 -0.2 2 -0.2 2 -0.2 2 -0.1 2 0 2 0 2 0 2 0.2 2 0.2 2 0.3 2 0.3 2 0.4 2 0.4 2 0.4 2 0.4 2 0.5 2 0.4 2 0.5 2 0.4 2 0.4 2 0.5 2 0.4 2 0.5 2 0.5 2 0.6 2 0.5 2 0.6 2 0.5 2 0.5 2 0.6 2 0.5 2 0.5 2 0.4 2 0.5 2 0.4 2 0.4 2 0.5 2 0.4 2 0.5 2 0.5 2 0.4 2 0.4 2 0.4 2 0.4 2 0.3 2 0.3 2 0.3 2 0.1 2 0.2 2 0 2 0.1 2 0 2 0.1 2 0 2 0 2 0.1 2 0 2 0 2 0 2 0.1 2 0 2 0 2 0.1 2 0.1 2 0.1 2 0.1 2 0.2 2 0.1 2 0.3 2 0.2 2 0.2 2 0.3 2 0.3 2 0.3 2 0.4 2 0.4 2 0.5 2 0.5 2 0.5 2.6 0.7"/>
<path stroke="url(#gNacb)" d="M1120.3 309.3l2 -0.5 2 -0.7 2 -0.7 2 -0.9 2 -0.9 2 -1 2 -1.3 2 -1.4 2 -1.5 2 -1.6 2 -1.6 2 -1.6 2 -1.6 2 -1.6 2 -1.6 2 -1.7 2 -1.6 2 -1.6 2 -1.6 2 -1.6 2 -1.6 2 -1.6 2 -1.5 2 -1.6 2 -1.6 2 -1.6 2 -1.6 2 -1.7 2 -1.6 2 -1.6 2 -1.6 2 -1.5 2 -1.5 2 -1.4 2 -1.4 2 -1.4 2 -1.3 2 -1.3 2 -1.3 2 -1.3 2 -1.3 2 -1.2 2 -1.2 2 -1.2 2 -1.2 2 -1 2 -1.1 2 -1 2 -1 2 -1.2 2 -1.3 2 -1.3 2 -1.3 2 -1.2 2 -1.1 2 -0.8 2 -0.6 2 -0.5 2 -0.3 2 -0.3 2 -0.2 2 -0.4 2 -0.4 2 -0.6 2 -0.7 2 -0.8 2 -0.8 2 -1 2 -1 2 -1 2 -1 2 -1.1 2 -1.3 2 -1.4 2 -1.4 2 -1.3 2 -1.1 2 -1 2 -0.9 2 -0.9 2 -0.9 2 -0.7 2 -0.7 2 -0.4 2 -0.2 2 0 2 0.4 2 0.5 2 0.7 2 0.8 2 0.9 2 0.9 2 0.9 2 1 2 1.3 2 1.4 2 1.4 2 1.3 2 1.2 2 1.1 2 1 2 1 2 1 2 0.9 2 0.8 2 0.7 2 0.7 2 0.5 2 0.4 2 0.3 2 0.3 2 0.3 2 0.3 2 0.5 2 0.7 2 1 2 1.1 2 1.2 2 1.3 2 1.3 2 1.2 2 1.1 2 1 2 1 2 1 2 1.1 2 1.2 2 1.1 2 1.2 2 1.2 2 1.3 2 1.3 2 1.2 2 1.3 2 1.4 2 1.3 2 1.4 2 1.4 2 1.4 2 1.5 2 1.6 2 1.6 2 1.6 2 1.6 2 1.6 2 1.6 2 1.5 2 1.6 2 1.5 2 1.6 2 1.5 2 1.6 2 1.6 2 1.6 2 1.6 2 1.6 2 1.6 2 1.6 2 1.5 2 1.6 2 1.5 2 1.6 2 1.6 2 1.4 2 1.3 2 1.1 2 1 2 0.9 2 0.8 2 0.7 2 0.5 2 0.4 2 0.2 2 0.2 2 0.1 2 0.2 2 0.1 2 0.1 2 0.2 2 0.3 2 0.3 2 0.4 2 0.4 2 0.6 2 0.5 2 0.7 2 0.6 2.6 0.9"/>
<path stroke="url(#gNaca)" d="M1120.3 309.3l2 -0.1 2 -0.4 2 -0.6 2 -0.9 2 -1.4 2 -2 2 -3.6 2 -4.3 2 -4.1 2 -4 2 -4 2 -4.1 2 -4 2 -4.1 2 -4 2 -3.9 2 -3.7 2 -3.6 2 -3.2 2 -3 2 -2.8 2 -2.6 2 -2.5 2 -2.5 2 -2.4 2 -2.4 2 -2.3 2 -2.2 2 -2.2 2 -2.1 2 -2.3 2 -2.2 2 -2.2 2 -1.9 2 -1.5 2 -1.2 2 -1 2 -0.9 2 -0.7 2 -0.6 2 -0.5 2 -0.5 2 -0.4 2 -0.3 2 -0.2 2 -0.1 2 -0.1 2 -0.1 2 -0.1 2 0 2 -0.1 2 0 2 -0.1 2 0 2 0 2 0 2 0 2 0 2 0.1 2 0 2 0.1 2 0.2 2 0.1 2 0.1 2 0.2 2 0.1 2 0.1 2 0.1 2 0.1 2 0.1 2 0 2 0 2 0 2 -0.1 2 -0.1 2 0 2 -0.1 2 -0.1 2 -0.1 2 0 2 -0.1 2 -0.1 2 0 2 -0.1 2 0 2 0 2 0 2 0.1 2 0 2 0.1 2 0.1 2 0.1 2 0.1 2 0 2 0.1 2 0.1 2 0 2 0.1 2 0 2 0 2 -0.1 2 0 2 -0.1 2 -0.1 2 -0.2 2 -0.1 2 -0.1 2 -0.2 2 -0.1 2 -0.1 2 -0.1 2 -0.1 2 0 2 0 2 0 2 0 2 0 2 0.1 2 0 2 0 2 0.1 2 0.1 2 0 2 0.1 2 0.1 2 0.1 2 0.2 2 0.4 2 0.4 2 0.4 2 0.5 2 0.7 2 0.7 2 0.9 2 1 2 1.2 2 1.5 2 1.9 2 2.1 2 2.3 2 2.2 2 2.1 2 2.1 2 2.2 2 2.3 2 2.3 2 2.4 2 2.4 2 2.5 2 2.6 2 2.7 2 2.8 2 3.1 2 3.5 2 3.7 2 3.7 2 3.9 2 4 2 4 2 4 2 4 2 4 2 3.9 2 4.2 2 3.9 2 2.6 2 1.5 2 1.2 2 0.7 2 0.3 2 0.3 2 0.2 2 0.2 2 0.2 2 0.1 2 0.2 2 0.2 2 0.1 2 0.2 2 0.3 2 0.3 2 0.4 2 0.4 2 0.6 2 0.5 2 0.7 2 0.6 2.6 0.9"/>
</g>
<g clip-path="url(#cpb01)" fill="none" stroke-width="2.9" stroke-linecap="round" stroke-linejoin="round">
<path stroke="url(#gOb1)" d="M1521.7 73.3l2 -0.1 2 -0.1 2 -0.1 2 -0.2 2 -0.3 2 -0.3 2 -0.4 2 -0.4 2 -0.5 2 -0.6 2 -0.7 2 -0.9 2 -0.9 2 -1 2 -1.1 2 -1.2 2 -1.1 2 -1.1 2 -1.2 2 -1.1 2 -1 2 -1.1 2 -1.2 2 -1.2 2 -1.1 2 -1.2 2 -1.2 2 -1.2 2 -1.1 2 -1 2 -1 2 -0.9 2 -0.9 2 -0.8 2 -0.8 2 -0.9 2 -0.7 2 -0.8 2 -0.7 2 -0.6 2 -0.6 2 -0.6 2 -0.5 2 -0.4 2 -0.4 2 -0.4 2 -0.4 2 -0.4 2 -0.3 2 -0.4 2 -0.3 2 -0.2 2 -0.3 2 -0.2 2 -0.1 2 -0.1 2 0 2 0.1 2 0.1 2 0.2 2 0.3 2 0.3 2 0.3 2 0.4 2 0.4 2 0.5 2 0.4 2 0.4 2 0.4 2 0.4 2 0.4 2 0.3 2 0.3 2 0.4 2 0.4 2 0.4 2 0.4 2 0.4 2 0.3 2 0.4 2 0.3 2 0.3 2 0.2 2 0.1 2 0.1 2 -0.1 2 -0.1 2 -0.1 2 -0.3 2 -0.2 2 -0.4 2 -0.3 2 -0.4 2 -0.4 2 -0.4 2 -0.4 2 -0.4 2 -0.3 2 -0.4 2 -0.3 2 -0.4 2 -0.4 2 -0.4 2 -0.4 2 -0.4 2 -0.4 2 -0.4 2 -0.4 2 -0.4 2 -0.3 2 -0.2 2 -0.2 2 -0.1 2 0 2 0.1 2 0.1 2 0.1 2 0.2 2 0.3 2 0.2 2 0.4 2 0.3 2 0.4 2 0.3 2 0.4 2 0.4 2 0.4 2 0.4 2 0.5 2 0.6 2 0.6 2 0.6 2 0.7 2 0.8 2 0.7 2 0.8 2 0.8 2 0.9 2 0.8 2 0.9 2 1 2 1 2 1.1 2 1.1 2 1.2 2 1.2 2 1.1 2 1.2 2 1.1 2 1.1 2 1 2 1.1 2 1.1 2 1.2 2 1.1 2 1.1 2 1.1 2 1 2 1 2 0.8 2 0.8 2 0.6 2 0.5 2 0.5 2 0.4 2 0.3 2 0.3 2 0.2 2 0.2 2 0.1 2 0.1 2 0 2 0 2 0 2 0 2 0 2 0 2 0 2 0 2 0 2 0 2 0 2 0 2 0 2 0 2 0 2 0 2.6 0"/>
<path stroke="url(#gOb2)" d="M1521.7 73.3l2 -0.1 2 -0.1 2 -0.2 2 -0.1 2 -0.1 2 -0.2 2 -0.1 2 -0.1 2 -0.2 2 -0.1 2 -0.1 2 -0.2 2 -0.1 2 -0.2 2 -0.1 2 -0.2 2 -0.1 2 -0.2 2 -0.1 2 -0.2 2 -0.1 2 -0.2 2 -0.2 2 -0.2 2 -0.2 2 -0.2 2 -0.2 2 -0.2 2 -0.2 2 -0.2 2 -0.2 2 -0.2 2 -0.2 2 -0.2 2 -0.2 2 -0.2 2 -0.2 2 -0.1 2 -0.2 2 -0.2 2 -0.1 2 -0.1 2 -0.2 2 -0.1 2 -0.1 2 -0.1 2 0 2 -0.1 2 -0.1 2 0 2 -0.1 2 -0.1 2 0 2 -0.1 2 -0.1 2 -0.1 2 -0.1 2 -0.1 2 -0.2 2 -0.1 2 -0.2 2 -0.1 2 -0.2 2 -0.2 2 -0.2 2 -0.2 2 -0.2 2 -0.2 2 -0.2 2 -0.3 2 -0.3 2 -0.3 2 -0.3 2 -0.4 2 -0.3 2 -0.3 2 -0.4 2 -0.3 2 -0.2 2 -0.3 2 -0.2 2 -0.2 2 -0.2 2 -0.1 2 0 2 0 2 0.1 2 0.1 2 0.2 2 0.2 2 0.2 2 0.3 2 0.3 2 0.3 2 0.3 2 0.4 2 0.3 2 0.3 2 0.3 2 0.3 2 0.3 2 0.3 2 0.2 2 0.2 2 0.2 2 0.2 2 0.2 2 0.2 2 0.1 2 0.2 2 0.2 2 0.1 2 0.1 2 0.2 2 0.1 2 0 2 0.1 2 0.1 2 0.1 2 0 2 0.1 2 0.1 2 0 2 0.1 2 0.1 2 0.1 2 0.1 2 0.1 2 0.1 2 0.1 2 0.2 2 0.1 2 0.2 2 0.2 2 0.1 2 0.2 2 0.2 2 0.2 2 0.2 2 0.2 2 0.2 2 0.2 2 0.2 2 0.2 2 0.2 2 0.2 2 0.2 2 0.2 2 0.2 2 0.1 2 0.2 2 0.2 2 0.1 2 0.2 2 0.2 2 0.2 2 0.1 2 0.2 2 0.2 2 0.2 2 0.2 2 0.1 2 0.2 2 0.1 2 0.2 2 0.1 2 0.1 2 0.1 2 0 2 0.1 2 0 2 0 2 0 2 0 2 0 2 0 2 0 2 0 2 0 2 0 2 0 2 0 2 0 2 0 2 0 2 0 2 0 2.6 0"/>
<path stroke="url(#gOb3)" d="M1521.7 97.5l2 0.1 2 0 2 0.1 2 0.2 2 0.1 2 0.2 2 0.2 2 0.2 2 0.3 2 0.2 2 0.4 2 0.4 2 0.4 2 0.5 2 0.5 2 0.6 2 0.6 2 0.6 2 0.6 2 0.6 2 0.6 2 0.6 2 0.8 2 0.7 2 0.9 2 0.8 2 0.8 2 0.8 2 0.7 2 0.6 2 0.6 2 0.4 2 0.4 2 0.3 2 0.4 2 0.3 2 0.3 2 0.3 2 0.3 2 0.2 2 0.2 2 0.1 2 0.1 2 0 2 0 2 -0.1 2 -0.1 2 -0.1 2 -0.1 2 -0.1 2 -0.1 2 -0.1 2 -0.1 2 -0.1 2 -0.1 2 0 2 0 2 0 2 0.1 2 0.1 2 0.2 2 0.2 2 0.2 2 0.3 2 0.2 2 0.3 2 0.3 2 0.2 2 0.2 2 0.3 2 0.2 2 0.1 2 0.2 2 0.2 2 0.1 2 0.2 2 0.2 2 0.1 2 0.2 2 0.1 2 0.2 2 0.1 2 0.1 2 0 2 0 2 0 2 0 2 -0.1 2 -0.1 2 -0.1 2 -0.1 2 -0.2 2 -0.1 2 -0.2 2 -0.2 2 -0.1 2 -0.2 2 -0.2 2 -0.2 2 -0.1 2 -0.2 2 -0.3 2 -0.2 2 -0.3 2 -0.2 2 -0.3 2 -0.2 2 -0.3 2 -0.2 2 -0.2 2 -0.1 2 -0.2 2 0 2 0 2 0 2 0 2 0.1 2 0.1 2 0.1 2 0.1 2 0.1 2 0.2 2 0.1 2 0.1 2 0 2 0.1 2 0 2 0 2 -0.1 2 -0.1 2 -0.2 2 -0.2 2 -0.3 2 -0.3 2 -0.3 2 -0.3 2 -0.4 2 -0.3 2 -0.4 2 -0.4 2 -0.6 2 -0.6 2 -0.7 2 -0.8 2 -0.8 2 -0.8 2 -0.8 2 -0.7 2 -0.8 2 -0.6 2 -0.6 2 -0.6 2 -0.6 2 -0.6 2 -0.6 2 -0.5 2 -0.6 2 -0.5 2 -0.4 2 -0.4 2 -0.4 2 -0.3 2 -0.2 2 -0.2 2 -0.2 2 -0.2 2 -0.2 2 -0.1 2 -0.1 2 -0.1 2 -0.1 2 0 2 0 2 0 2 0 2 0.1 2 0 2 0 2 0.1 2 0 2 0.1 2 0.1 2 0.1 2 0.1 2 0.1 2 0.2 2 0.2 2.6 0.2"/>
<path stroke="url(#gOL10)" d="M1521.7 224.9l2 0.2 2 0.2 2 0.1 2 0.1 2 0.1 2 0.1 2 0.1 2 0 2 0.1 2 0 2 0 2 0 2 0.1 2 0 2 -0.1 2 0 2 -0.1 2 -0.2 2 -0.2 2 -0.1 2 -0.3 2 -0.2 2 -0.2 2 -0.3 2 -0.2 2 -0.3 2 -0.3 2 -0.2 2 -0.2 2 -0.3 2 -0.3 2 -0.4 2 -0.3 2 -0.4 2 -0.4 2 -0.4 2 -0.4 2 -0.3 2 -0.4 2 -0.3 2 -0.3 2 -0.2 2 -0.2 2 -0.1 2 -0.1 2 -0.1 2 -0.1 2 -0.1 2 -0.1 2 0 2 -0.1 2 -0.1 2 0 2 0 2 -0.1 2 0 2 0 2 0 2 0.1 2 0 2 0.1 2 0.1 2 0.1 2 0.1 2 0.1 2 0.2 2 0.1 2 0.4 2 0.5 2 0.5 2 0.6 2 0.5 2 0.3 2 0.3 2 0.1 2 0.1 2 0.2 2 0.1 2 0.1 2 0.1 2 0.1 2 0.1 2 0 2 0.1 2 0 2 0 2 -0.1 2 0 2 -0.1 2 0 2 -0.1 2 -0.1 2 -0.1 2 -0.2 2 -0.1 2 -0.2 2 -0.1 2 -0.3 2 -0.5 2 -0.5 2 -0.5 2 -0.5 2 -0.5 2 -0.3 2 -0.1 2 -0.1 2 -0.2 2 -0.1 2 -0.1 2 0 2 -0.1 2 -0.1 2 0 2 0 2 0 2 0 2 0.1 2 0 2 0.1 2 0 2 0.1 2 0.1 2 0 2 0.1 2 0.1 2 0.1 2 0.1 2 0.1 2 0.2 2 0.3 2 0.2 2 0.4 2 0.3 2 0.4 2 0.3 2 0.4 2 0.4 2 0.4 2 0.3 2 0.4 2 0.3 2 0.2 2 0.3 2 0.2 2 0.3 2 0.2 2 0.3 2 0.2 2 0.3 2 0.2 2 0.2 2 0.2 2 0.2 2 0.1 2 0.1 2 0.1 2 0 2 0 2 0 2 0 2 -0.1 2 -0.1 2 0 2 -0.1 2 -0.1 2 -0.1 2 -0.1 2 -0.1 2 -0.1 2 -0.1 2 -0.1 2 0 2 -0.1 2 0 2 0 2 -0.1 2 0 2 -0.1 2 0 2 0 2 -0.1 2 0 2 0 2 0 2 -0.1 2 0 2 0 2.6 0"/>
<path stroke="url(#gOL9)" d="M1521.7 224.4l2 -0.3 2 -0.3 2 -0.3 2 -0.3 2 -0.3 2 -0.3 2 -0.3 2 -0.3 2 -0.4 2 -0.3 2 -0.3 2 -0.4 2 -0.3 2 -0.4 2 -0.4 2 -0.3 2 -0.4 2 -0.4 2 -0.5 2 -0.4 2 -0.4 2 -0.4 2 -0.4 2 -0.5 2 -0.4 2 -0.4 2 -0.4 2 -0.3 2 -0.4 2 -0.3 2 -0.3 2 -0.3 2 -0.3 2 -0.3 2 -0.3 2 -0.4 2 -0.4 2 -0.5 2 -0.7 2 -0.6 2 -0.6 2 -0.5 2 -0.3 2 -0.1 2 0 2 0 2 0.1 2 0 2 0.1 2 0.1 2 0 2 0.1 2 0.1 2 0.1 2 0 2 0.1 2 0.1 2 0 2 0.1 2 0 2 0 2 0.1 2 0 2 0.1 2 0.1 2 0.1 2 0.1 2 0.4 2 0.5 2 0.7 2 0.7 2 0.7 2 0.6 2 0.6 2 0.5 2 0.6 2 0.6 2 0.6 2 0.6 2 0.5 2 0.5 2 0.5 2 0.3 2 0.2 2 0.2 2 -0.1 2 -0.1 2 -0.3 2 -0.4 2 -0.5 2 -0.5 2 -0.6 2 -0.6 2 -0.6 2 -0.6 2 -0.6 2 -0.5 2 -0.6 2 -0.7 2 -0.7 2 -0.6 2 -0.6 2 -0.5 2 -0.3 2 -0.1 2 -0.1 2 0 2 -0.1 2 0 2 -0.1 2 0 2 -0.1 2 0 2 -0.1 2 0 2 -0.1 2 -0.1 2 0 2 -0.1 2 -0.1 2 -0.1 2 0 2 -0.1 2 -0.1 2 0 2 0 2 0 2 0.1 2 0.4 2 0.5 2 0.6 2 0.6 2 0.6 2 0.6 2 0.4 2 0.3 2 0.3 2 0.3 2 0.3 2 0.3 2 0.3 2 0.3 2 0.4 2 0.3 2 0.4 2 0.4 2 0.4 2 0.4 2 0.4 2 0.4 2 0.5 2 0.4 2 0.4 2 0.4 2 0.4 2 0.3 2 0.4 2 0.4 2 0.4 2 0.4 2 0.4 2 0.4 2 0.4 2 0.4 2 0.4 2 0.3 2 0.4 2 0.2 2 0.2 2 0.2 2 0.1 2 0 2 0 2 0 2 0 2 0 2 0 2 0 2 -0.1 2 0 2 0 2 0 2 -0.1 2 0 2 -0.1 2 0 2 -0.1 2.6 -0.1"/>
<path stroke="url(#gOp2)" d="M1521.7 279.1l2 0.3 2 0.3 2 0.4 2 0.3 2 0.3 2 0.2 2 0.3 2 0.3 2 0.3 2 0.3 2 0.3 2 0.3 2 0.3 2 0.2 2 0.1 2 0 2 -0.1 2 0 2 -0.1 2 -0.1 2 -0.1 2 -0.2 2 -0.4 2 -0.7 2 -1 2 -1.1 2 -1.1 2 -1 2 -0.7 2 -0.6 2 -0.6 2 -0.5 2 -0.5 2 -0.6 2 -0.7 2 -0.7 2 -0.9 2 -1 2 -1.1 2 -1.1 2 -1.2 2 -1.1 2 -1.2 2 -1.4 2 -1.3 2 -1.4 2 -1.2 2 -1.1 2 -0.9 2 -0.8 2 -0.7 2 -0.8 2 -0.7 2 -0.5 2 -0.5 2 -0.2 2 -0.1 2 0 2 0.1 2 0.2 2 0.1 2 0.2 2 0.3 2 0.2 2 0.3 2 0.3 2 0.2 2 0.3 2 0.3 2 0.3 2 0.2 2 0.2 2 0.2 2 0.2 2 0.2 2 0.3 2 0.2 2 0.2 2 0.2 2 0.2 2 0.2 2 0.1 2 0.2 2 0 2 0.1 2 0 2 0 2 0 2 0 2 0 2 0 2 0 2 0 2 0 2 0 2 0 2 0 2 0 2 0 2 0 2 0 2 0 2 0 2 0 2 0.1 2 0 2 0 2 0.1 2 0 2 0.1 2 0 2 0.1 2 0 2 0.1 2 0.2 2 0.2 2 0.3 2 0.4 2 0.4 2 0.5 2 0.5 2 0.5 2 0.7 2 0.8 2 1 2 1 2 1.1 2 1 2 1 2 1 2 1 2 1.1 2 1 2 1 2 1 2 0.9 2 0.8 2 0.8 2 0.8 2 0.7 2 0.7 2 0.6 2 0.6 2 0.4 2 0.4 2 0.4 2 0.3 2 0.3 2 0.2 2 0.1 2 0 2 0 2 0 2 0 2 0 2 0 2 0 2 -0.1 2 -0.1 2 -0.2 2 -0.2 2 -0.3 2 -0.2 2 -0.3 2 -0.3 2 -0.4 2 -0.5 2 -0.4 2 -0.4 2 -0.3 2 -0.2 2 0 2 0.1 2 0.2 2 0.2 2 0.3 2 0.3 2 0.5 2 0.9 2 1.4 2 1.6 2 1.6 2 1.4 2 1.5 2 1.5 2 1.5 2 1.6 2.6 2.1"/>
<path stroke="url(#gOpl)" d="M1521.7 333.8l2 -2.7 2 -2.6 2 -2.6 2 -2.5 2 -2.4 2 -2.4 2 -2.2 2 -2.2 2 -2 2 -2 2 -2 2 -1.9 2 -1.8 2 -1.8 2 -1.7 2 -1.6 2 -1.6 2 -1.4 2 -1.4 2 -1.2 2 -1.3 2 -1.1 2 -1.2 2 -1 2 -1.1 2 -0.9 2 -1 2 -0.9 2 -0.9 2 -0.9 2 -0.9 2 -0.8 2 -0.8 2 -0.7 2 -0.6 2 -0.5 2 -0.5 2 -0.3 2 -0.1 2 0.2 2 0.4 2 0.5 2 0.5 2 0.5 2 0.5 2 0.4 2 0.6 2 0.5 2 0.4 2 0.4 2 0.5 2 0.4 2 0.4 2 0.4 2 0.2 2 0.2 2 0 2 -0.2 2 -0.6 2 -0.9 2 -1 2 -1.2 2 -1.3 2 -1.4 2 -1.3 2 -1.3 2 -1.2 2 -1.3 2 -1.5 2 -1.6 2 -1.5 2 -1.6 2 -1.5 2 -1.4 2 -1.3 2 -1.1 2 -0.9 2 -1 2 -0.9 2 -0.9 2 -0.8 2 -0.8 2 -0.5 2 -0.5 2 -0.1 2 0 2 0.3 2 0.5 2 0.6 2 0.8 2 0.9 2 0.9 2 1 2 0.9 2 1 2 1.2 2 1.3 2 1.5 2 1.5 2 1.6 2 1.5 2 1.6 2 1.4 2 1.3 2 1.2 2 1.3 2 1.3 2 1.3 2 1.3 2 1.2 2 1 2 0.7 2 0.4 2 0.1 2 -0.1 2 -0.2 2 -0.3 2 -0.3 2 -0.5 2 -0.4 2 -0.4 2 -0.4 2 -0.5 2 -0.5 2 -0.5 2 -0.4 2 -0.5 2 -0.5 2 -0.5 2 -0.5 2 -0.3 2 -0.2 2 0.1 2 0.3 2 0.5 2 0.6 2 0.6 2 0.6 2 0.8 2 0.8 2 0.9 2 0.9 2 0.8 2 1 2 0.9 2 1 2 1 2 1 2 1.1 2 1.2 2 1.2 2 1.2 2 1.3 2 1.4 2 1.5 2 1.6 2 1.7 2 1.7 2 1.8 2 1.8 2 2 2 1.9 2 2 2 2.6 2 2.9 2 3.2 2 3.1 2 2.9 2 2.5 2 1.9 2 1.1 2 0.1 2 -0.4 2 -0.6 2 -0.9 2 -1 2 -1 2 -1 2 -0.9 2 -0.7 2 -0.6 2 -0.6 2 -0.5 2 -0.6 2 -0.5 2 -0.4 2 -0.5 2.6 -0.5"/>
<path stroke="url(#gOpk)" d="M1521.7 333.8l2 -3.1 2 -3 2 -2.9 2 -2.8 2 -2.7 2 -2.5 2 -2.5 2 -2.3 2 -2.2 2 -2 2 -1.9 2 -1.9 2 -1.7 2 -1.7 2 -1.7 2 -1.6 2 -1.7 2 -1.6 2 -1.7 2 -1.7 2 -1.7 2 -1.7 2 -1.6 2 -1.6 2 -1.4 2 -1.4 2 -1.3 2 -1.3 2 -1.3 2 -1.1 2 -1 2 -0.9 2 -0.7 2 -0.6 2 -0.6 2 -0.5 2 -0.5 2 -0.6 2 -0.6 2 -0.7 2 -0.7 2 -0.7 2 -0.7 2 -0.6 2 -0.4 2 -0.4 2 -0.2 2 -0.3 2 -0.2 2 -0.2 2 -0.2 2 -0.1 2 -0.2 2 -0.2 2 -0.2 2 -0.3 2 -0.2 2 -0.3 2 -0.4 2 -0.3 2 -0.4 2 -0.4 2 -0.5 2 -0.6 2 -0.7 2 -0.7 2 -0.8 2 -0.8 2 -0.8 2 -0.7 2 -0.7 2 -0.6 2 -0.5 2 -0.4 2 -0.5 2 -0.3 2 -0.2 2 0 2 0.3 2 0.5 2 0.7 2 0.7 2 0.6 2 0.5 2 0.3 2 -0.1 2 -0.4 2 -0.5 2 -0.7 2 -0.7 2 -0.6 2 -0.5 2 -0.2 2 0.1 2 0.3 2 0.4 2 0.5 2 0.4 2 0.5 2 0.7 2 0.7 2 0.8 2 0.8 2 0.8 2 0.7 2 0.7 2 0.7 2 0.5 2 0.5 2 0.4 2 0.3 2 0.4 2 0.3 2 0.3 2 0.2 2 0.3 2 0.2 2 0.2 2 0.1 2 0.2 2 0.2 2 0.2 2 0.2 2 0.2 2 0.3 2 0.4 2 0.4 2 0.6 2 0.7 2 0.7 2 0.7 2 0.7 2 0.6 2 0.5 2 0.5 2 0.6 2 0.5 2 0.6 2 0.8 2 0.8 2 1 2 1.1 2 1.2 2 1.3 2 1.3 2 1.4 2 1.4 2 1.5 2 1.6 2 1.6 2 1.7 2 1.7 2 1.7 2 1.6 2 1.6 2 1.6 2 1.6 2 1.7 2 1.7 2 1.8 2 1.8 2 2 2 2.2 2 2.7 2 3.2 2 3.5 2 3.5 2 3.3 2 2.8 2 2.2 2 1.1 2 0.2 2 -0.4 2 -0.6 2 -0.9 2 -1 2 -1 2 -1 2 -0.9 2 -0.7 2 -0.6 2 -0.6 2 -0.5 2 -0.6 2 -0.5 2 -0.4 2 -0.5 2.6 -0.5"/>
<path stroke="url(#gOla)" d="M1521.7 333.8l2 -4.3 2 -4.1 2 -3.9 2 -3.7 2 -3.4 2 -3.1 2 -2.9 2 -2.7 2 -2.5 2 -2.5 2 -2.5 2 -2.6 2 -2.6 2 -2.7 2 -2.7 2 -2.7 2 -2.6 2 -2.5 2 -2.3 2 -2.2 2 -2.1 2 -2 2 -2 2 -1.9 2 -1.8 2 -1.8 2 -1.7 2 -1.7 2 -1.6 2 -1.5 2 -1.4 2 -1.3 2 -1.2 2 -1.2 2 -1 2 -1 2 -1 2 -0.9 2 -0.8 2 -0.7 2 -0.7 2 -0.6 2 -0.7 2 -0.6 2 -0.6 2 -0.7 2 -0.8 2 -0.7 2 -0.6 2 -0.5 2 -0.3 2 -0.2 2 -0.1 2 -0.2 2 -0.1 2 0 2 -0.1 2 0.1 2 0 2 0.1 2 0.2 2 0.1 2 0.2 2 0.1 2 0.2 2 0.1 2 0.2 2 0.1 2 0.1 2 0.1 2 0 2 0 2 -0.1 2 -0.1 2 -0.1 2 -0.1 2 -0.2 2 -0.1 2 -0.2 2 -0.2 2 -0.1 2 -0.1 2 -0.2 2 0 2 -0.1 2 0.1 2 0 2 0.1 2 0.1 2 0.2 2 0.1 2 0.2 2 0.1 2 0.2 2 0.2 2 0.1 2 0.1 2 0.1 2 0 2 0 2 -0.1 2 0 2 -0.2 2 -0.1 2 -0.1 2 -0.2 2 -0.2 2 -0.1 2 -0.2 2 -0.1 2 -0.1 2 -0.1 2 0 2 -0.1 2 0.1 2 0.1 2 0.1 2 0.1 2 0.2 2 0.2 2 0.3 2 0.6 2 0.6 2 0.8 2 0.7 2 0.6 2 0.6 2 0.7 2 0.6 2 0.6 2 0.7 2 0.8 2 0.8 2 0.8 2 1 2 1 2 1 2 1.1 2 1.2 2 1.3 2 1.4 2 1.5 2 1.6 2 1.6 2 1.7 2 1.7 2 1.8 2 1.9 2 1.9 2 2 2 2.1 2 2.1 2 2.3 2 2.4 2 2.5 2 2.6 2 2.7 2 2.6 2 2.7 2 2.5 2 2.5 2 2.4 2 2.5 2 2.6 2 2.7 2 3 2 3.9 2 4.9 2 4.9 2 4.2 2 2.4 2 0.3 2 -0.7 2 -1.2 2 -1.6 2 -1.9 2 -2 2 -2 2 -1.9 2 -1.6 2 -1.5 2 -1.4 2 -1.4 2 -1.4 2 -1.4 2 -1.3 2 -1.4 2.6 -1.7"/>
<path stroke="url(#gOL8)" d="M1521.7 185.6l2 0.5 2 0.6 2 0.6 2 0.5 2 0.6 2 0.5 2 0.6 2 0.5 2 0.6 2 0.5 2 0.5 2 0.6 2 0.5 2 0.5 2 0.6 2 0.5 2 0.7 2 0.6 2 0.7 2 0.6 2 0.6 2 0.6 2 0.6 2 0.5 2 0.4 2 0.4 2 0.2 2 0.2 2 0 2 0 2 -0.1 2 0 2 -0.1 2 -0.2 2 -0.1 2 -0.2 2 -0.3 2 -0.6 2 -1 2 -1 2 -1.2 2 -1 2 -0.9 2 -0.7 2 -0.5 2 -0.5 2 -0.5 2 -0.5 2 -0.5 2 -0.5 2 -0.4 2 -0.3 2 -0.3 2 -0.3 2 -0.1 2 -0.1 2 -0.1 2 0.1 2 0.2 2 0.2 2 0.4 2 0.3 2 0.5 2 0.4 2 0.5 2 0.4 2 0.5 2 0.7 2 0.7 2 0.8 2 0.8 2 0.8 2 0.7 2 0.5 2 0.4 2 0.5 2 0.4 2 0.4 2 0.4 2 0.4 2 0.3 2 0.3 2 0.2 2 0.2 2 0 2 0 2 -0.1 2 -0.2 2 -0.2 2 -0.3 2 -0.4 2 -0.3 2 -0.4 2 -0.5 2 -0.4 2 -0.5 2 -0.4 2 -0.6 2 -0.7 2 -0.8 2 -0.8 2 -0.8 2 -0.7 2 -0.6 2 -0.5 2 -0.4 2 -0.5 2 -0.4 2 -0.4 2 -0.4 2 -0.3 2 -0.2 2 -0.1 2 -0.1 2 0.1 2 0.1 2 0.2 2 0.3 2 0.3 2 0.4 2 0.4 2 0.4 2 0.5 2 0.5 2 0.5 2 0.5 2 0.5 2 0.7 2 1 2 1 2 1.1 2 1.1 2 0.9 2 0.6 2 0.2 2 0.2 2 0.1 2 0.2 2 0.1 2 0.1 2 0 2 0 2 0 2 -0.2 2 -0.2 2 -0.4 2 -0.4 2 -0.5 2 -0.5 2 -0.6 2 -0.6 2 -0.6 2 -0.7 2 -0.6 2 -0.6 2 -0.6 2 -0.6 2 -0.5 2 -0.5 2 -0.6 2 -0.7 2 -0.6 2 -0.6 2 -0.7 2 -0.6 2 -0.6 2 -0.6 2 -0.5 2 -0.4 2 -0.4 2 -0.3 2 -0.2 2 -0.2 2 -0.2 2 -0.2 2 -0.2 2 -0.2 2 -0.1 2 -0.2 2 -0.1 2 -0.1 2 -0.2 2 -0.1 2 0 2 -0.1 2 -0.1 2 0 2.6 0"/>
<path stroke="url(#gOL7)" d="M1521.7 187.1l2 0 2 0 2 0 2 0 2 0 2 0 2 0 2 0 2 0 2 0 2 0 2 0 2 0 2 0 2 0 2 0.1 2 0 2 0 2 0 2 0 2 0.1 2 0 2 0 2 0.1 2 0 2 0.1 2 0 2 0.1 2 0.1 2 0.1 2 0.1 2 0.3 2 0.2 2 0.4 2 0.3 2 0.4 2 0.3 2 0.4 2 0.4 2 0.3 2 0.4 2 0.3 2 0.3 2 0.2 2 0.3 2 0.2 2 0.2 2 0.3 2 0.2 2 0.3 2 0.2 2 0.2 2 0.1 2 0.2 2 0.1 2 0 2 0 2 0 2 0 2 0 2 0 2 0 2 0 2 0 2 0 2 0 2 0 2 -0.1 2 -0.2 2 -0.3 2 -0.3 2 -0.2 2 -0.3 2 -0.2 2 -0.1 2 -0.2 2 -0.2 2 -0.2 2 -0.2 2 -0.1 2 -0.2 2 -0.1 2 -0.1 2 -0.1 2 0 2 0 2 0.1 2 0 2 0.2 2 0.1 2 0.1 2 0.2 2 0.2 2 0.2 2 0.2 2 0.1 2 0.2 2 0.2 2 0.3 2 0.3 2 0.2 2 0.3 2 0.1 2 0.1 2 0 2 0 2 0 2 0 2 0 2 0 2 0 2 0 2 0 2 0 2 0 2 -0.1 2 -0.1 2 -0.1 2 -0.2 2 -0.2 2 -0.2 2 -0.2 2 -0.3 2 -0.2 2 -0.3 2 -0.2 2 -0.2 2 -0.3 2 -0.2 2 -0.4 2 -0.3 2 -0.4 2 -0.3 2 -0.4 2 -0.4 2 -0.3 2 -0.4 2 -0.3 2 -0.2 2 -0.3 2 -0.1 2 -0.1 2 -0.1 2 0 2 -0.1 2 -0.1 2 0 2 0 2 -0.1 2 0 2 -0.1 2 0 2 0 2 0 2 0 2 -0.1 2 0 2 0 2 0 2 0 2 0 2 0 2 0 2 0 2 0 2 0 2 0 2 0 2 0 2 0 2 0 2 0 2 0.1 2 0 2 0.1 2 0 2 0.1 2 0.1 2 0.2 2 0.1 2 0.1 2 0.2 2 0.2 2 0.1 2 0.2 2 0.2 2 0.2 2.6 0.2"/>
<path stroke="url(#gOL6)" d="M1521.7 186.9l2 -0.1 2 -0.1 2 -0.2 2 -0.2 2 -0.3 2 -0.3 2 -0.4 2 -0.5 2 -0.6 2 -0.7 2 -0.7 2 -0.8 2 -0.6 2 -0.6 2 -0.5 2 -0.6 2 -0.5 2 -0.5 2 -0.5 2 -0.4 2 -0.2 2 -0.2 2 -0.2 2 -0.1 2 -0.1 2 -0.1 2 -0.1 2 -0.1 2 0 2 0 2 0 2 0 2 0 2 0 2 0 2 0 2 0 2 0 2 0 2 0 2 0 2 0 2 0 2 0 2 0 2 0 2 0 2 0 2 0 2 0 2 0 2 0 2 0 2 0 2 0 2 0 2 0 2 0 2 0.1 2 0 2 0 2 0.1 2 0.1 2 0 2 0.1 2 0.1 2 0.1 2 0.1 2 0.1 2 0.1 2 0.1 2 0.1 2 0.1 2 0.1 2 0.2 2 0.2 2 0.2 2 0.2 2 0.3 2 0.2 2 0.3 2 0.2 2 0.1 2 0.1 2 0.1 2 0 2 -0.1 2 -0.1 2 -0.2 2 -0.2 2 -0.3 2 -0.2 2 -0.3 2 -0.2 2 -0.2 2 -0.2 2 -0.1 2 -0.1 2 -0.1 2 -0.1 2 -0.1 2 -0.2 2 -0.1 2 -0.1 2 0 2 -0.1 2 -0.1 2 -0.1 2 0 2 -0.1 2 0 2 -0.1 2 0 2 0 2 0 2 0 2 0 2 0 2 0 2 0 2 0 2 0 2 0 2 0 2 0 2 0 2 0 2 0 2 0 2 0 2 0 2 0 2 0 2 0 2 0 2 0 2 0 2 0 2 0 2 0 2 0 2 0 2 0 2 0.1 2 0.1 2 0.1 2 0.1 2 0.1 2 0.2 2 0.1 2 0.3 2 0.3 2 0.5 2 0.5 2 0.5 2 0.5 2 0.6 2 0.5 2 0.6 2 0.7 2 0.8 2 0.7 2 0.6 2 0.6 2 0.4 2 0.3 2 0.2 2 0.3 2 0.2 2 0.1 2 0.1 2 0.1 2 0.1 2 0 2 0.1 2 0 2 0.1 2 0 2 0 2 0.1 2 0 2 0 2 0 2 0.1 2 0 2 0 2 0 2.6 0"/>
<path stroke="url(#gOL5)" d="M1521.7 169.7l2 0.4 2 0.5 2 0.4 2 0.4 2 0.5 2 0.3 2 0.4 2 0.4 2 0.3 2 0.3 2 0.2 2 0.3 2 0.1 2 0.2 2 0.1 2 0.2 2 0.1 2 0.1 2 0.1 2 0.1 2 0.2 2 0 2 0.1 2 0.1 2 0.1 2 0 2 0 2 0.1 2 0 2 0 2 0 2 0 2 0 2 0 2 0 2 0 2 0 2 0 2 0 2 0 2 0 2 0 2 0 2 0 2 0 2 0 2 0 2 0 2 0 2 0 2 0 2 0 2 0 2 0 2 0 2 0 2 0 2 0 2 0 2 0.1 2 0.1 2 0.1 2 0.1 2 0.1 2 0.1 2 0.1 2 0.1 2 0.1 2 0.1 2 0.1 2 0.1 2 0.1 2 0.1 2 0.2 2 0.2 2 0.2 2 0.3 2 0.3 2 0.2 2 0.2 2 0.1 2 0 2 -0.2 2 -0.2 2 -0.1 2 0 2 0.2 2 0.2 2 0.1 2 0 2 -0.2 2 -0.2 2 -0.2 2 -0.3 2 -0.3 2 -0.2 2 -0.2 2 -0.1 2 -0.1 2 -0.1 2 -0.1 2 -0.1 2 -0.1 2 -0.1 2 -0.1 2 -0.1 2 -0.1 2 -0.1 2 -0.1 2 -0.1 2 -0.1 2 -0.1 2 0 2 0 2 0 2 0 2 0 2 0 2 0 2 0 2 0 2 0 2 0 2 0 2 0 2 0 2 0 2 0 2 0 2 0 2 0 2 0 2 0 2 0 2 0 2 0 2 0 2 0 2 0 2 0 2 0 2 0 2 0 2 0 2 -0.1 2 0 2 -0.1 2 -0.1 2 0 2 -0.1 2 -0.1 2 -0.1 2 -0.2 2 -0.1 2 -0.1 2 -0.1 2 -0.2 2 -0.1 2 -0.3 2 -0.3 2 -0.4 2 -0.4 2 -0.4 2 -0.5 2 -0.5 2 -0.4 2 -0.4 2 -0.4 2 -0.3 2 -0.2 2 -0.1 2 0 2 0 2 0 2 0 2 0 2 0 2 0.1 2 0 2 0.1 2 0 2 0.1 2 0.1 2 0.1 2 0.2 2 0.1 2 0.2 2.6 0.3"/>
<path stroke="url(#gOL4)" d="M1521.7 172.8l2 0 2 0 2 0 2 0 2 0 2 0 2 0 2 0 2 0 2 0 2 0 2 0 2 0 2 0 2 0 2 0 2 -0.1 2 -0.1 2 -0.1 2 -0.1 2 -0.1 2 -0.1 2 -0.2 2 -0.2 2 -0.2 2 -0.2 2 -0.3 2 -0.2 2 -0.3 2 -0.2 2 -0.1 2 -0.1 2 0 2 0.1 2 0.1 2 0.3 2 0.2 2 0.3 2 0.3 2 0.3 2 0.3 2 0.3 2 0.2 2 0.2 2 0.2 2 0.3 2 0.2 2 0.2 2 0.2 2 0.2 2 0.2 2 0.2 2 0.1 2 0.1 2 0.1 2 0.1 2 0 2 0 2 -0.1 2 -0.1 2 -0.1 2 -0.2 2 -0.2 2 -0.2 2 -0.2 2 -0.1 2 -0.3 2 -0.3 2 -0.3 2 -0.4 2 -0.4 2 -0.4 2 -0.2 2 -0.2 2 -0.1 2 -0.1 2 -0.1 2 -0.1 2 -0.1 2 0 2 -0.1 2 -0.1 2 0 2 0 2 0 2 0 2 0 2 0 2 0.1 2 0 2 0.1 2 0.1 2 0.1 2 0 2 0.2 2 0.1 2 0.1 2 0.2 2 0.3 2 0.4 2 0.3 2 0.4 2 0.4 2 0.2 2 0.2 2 0.2 2 0.2 2 0.2 2 0.2 2 0.1 2 0.1 2 0.1 2 0.1 2 0 2 0 2 -0.1 2 -0.1 2 -0.1 2 -0.2 2 -0.2 2 -0.2 2 -0.2 2 -0.2 2 -0.2 2 -0.2 2 -0.2 2 -0.2 2 -0.2 2 -0.3 2 -0.2 2 -0.3 2 -0.4 2 -0.3 2 -0.2 2 -0.3 2 -0.2 2 -0.1 2 -0.1 2 0 2 0.1 2 0.1 2 0.2 2 0.2 2 0.3 2 0.2 2 0.3 2 0.2 2 0.2 2 0.2 2 0.1 2 0.1 2 0.1 2 0.1 2 0.1 2 0 2 0.1 2 0 2 0 2 0 2 0 2 0 2 0 2 0 2 0 2 0 2 0 2 0 2 0 2 0 2 0 2 0 2 0 2 0 2 0 2 0 2 0 2 -0.1 2 0 2 0 2 -0.1 2 0 2 0 2 -0.1 2 0 2 -0.1 2 0 2 0 2.6 -0.1"/>
<path stroke="url(#gOL2)" d="M1521.7 168.1l2 -0.4 2 -0.4 2 -0.4 2 -0.4 2 -0.4 2 -0.5 2 -0.4 2 -0.4 2 -0.5 2 -0.4 2 -0.5 2 -0.4 2 -0.5 2 -0.4 2 -0.5 2 -0.5 2 -0.5 2 -0.5 2 -0.5 2 -0.6 2 -0.5 2 -0.5 2 -0.5 2 -0.6 2 -0.5 2 -0.5 2 -0.5 2 -0.4 2 -0.5 2 -0.4 2 -0.5 2 -0.5 2 -0.5 2 -0.5 2 -0.4 2 -0.5 2 -0.5 2 -0.4 2 -0.4 2 -0.3 2 -0.4 2 -0.2 2 -0.3 2 -0.1 2 -0.2 2 -0.1 2 -0.1 2 -0.1 2 -0.1 2 -0.1 2 -0.1 2 -0.1 2 -0.1 2 0 2 -0.1 2 -0.1 2 -0.1 2 -0.2 2 -0.1 2 -0.1 2 -0.2 2 -0.2 2 -0.1 2 -0.2 2 -0.1 2 -0.2 2 -0.2 2 -0.1 2 -0.2 2 -0.1 2 -0.1 2 -0.1 2 -0.1 2 -0.1 2 0 2 -0.1 2 -0.1 2 0 2 -0.1 2 0 2 -0.1 2 0 2 -0.1 2 0 2 0 2 0 2 0 2 0.1 2 0 2 0 2 0.1 2 0 2 0.1 2 0.1 2 0 2 0.1 2 0.1 2 0 2 0.1 2 0.1 2 0.2 2 0.1 2 0.2 2 0.1 2 0.2 2 0.1 2 0.2 2 0.2 2 0.1 2 0.2 2 0.1 2 0.2 2 0.1 2 0.1 2 0.1 2 0.1 2 0.1 2 0.1 2 0.1 2 0 2 0.1 2 0.1 2 0.1 2 0.1 2 0.1 2 0.1 2 0.2 2 0.2 2 0.2 2 0.3 2 0.3 2 0.4 2 0.4 2 0.4 2 0.4 2 0.5 2 0.5 2 0.4 2 0.5 2 0.5 2 0.5 2 0.4 2 0.4 2 0.5 2 0.5 2 0.5 2 0.5 2 0.5 2 0.5 2 0.5 2 0.5 2 0.6 2 0.5 2 0.5 2 0.5 2 0.5 2 0.4 2 0.5 2 0.5 2 0.5 2 0.6 2 0.5 2 0.6 2 0.5 2 0.6 2 0.4 2 0.5 2 0.3 2 0.3 2 0.3 2 0.1 2 0 2 0.1 2 0 2 0 2 0 2 0.1 2 0 2 0 2 0 2 0 2 0 2 0.1 2 0 2 0 2 0 2 0 2.6 0"/>
<path stroke="url(#gOL1)" d="M1521.7 166.3l2 -0.5 2 -0.4 2 -0.5 2 -0.5 2 -0.5 2 -0.5 2 -0.5 2 -0.5 2 -0.5 2 -0.6 2 -0.5 2 -0.5 2 -0.6 2 -0.5 2 -0.6 2 -0.6 2 -0.6 2 -0.7 2 -0.6 2 -0.7 2 -0.7 2 -0.6 2 -0.7 2 -0.6 2 -0.6 2 -0.6 2 -0.6 2 -0.5 2 -0.4 2 -0.5 2 -0.4 2 -0.4 2 -0.4 2 -0.4 2 -0.4 2 -0.3 2 -0.4 2 -0.3 2 -0.3 2 -0.3 2 -0.3 2 -0.3 2 -0.3 2 -0.2 2 -0.3 2 -0.2 2 -0.2 2 -0.3 2 -0.2 2 -0.3 2 -0.2 2 -0.1 2 -0.2 2 -0.1 2 -0.1 2 -0.1 2 0 2 0 2 0 2 0.1 2 0 2 0.1 2 0.1 2 0.1 2 0.1 2 0.1 2 0.1 2 0.2 2 0.1 2 0.1 2 0.1 2 0.1 2 0.2 2 0.1 2 0.1 2 0.2 2 0.1 2 0.2 2 0.2 2 0.2 2 0.1 2 0.2 2 0.1 2 0.1 2 0 2 0 2 -0.1 2 0 2 -0.2 2 -0.1 2 -0.2 2 -0.2 2 -0.2 2 -0.1 2 -0.2 2 -0.2 2 -0.1 2 -0.1 2 -0.1 2 -0.1 2 -0.2 2 -0.1 2 -0.1 2 -0.1 2 -0.1 2 -0.1 2 -0.1 2 -0.1 2 -0.1 2 -0.1 2 0 2 -0.1 2 0 2 0 2 0 2 0.1 2 0.1 2 0.1 2 0.2 2 0.2 2 0.2 2 0.2 2 0.3 2 0.2 2 0.3 2 0.2 2 0.2 2 0.3 2 0.2 2 0.3 2 0.3 2 0.3 2 0.3 2 0.4 2 0.3 2 0.4 2 0.3 2 0.4 2 0.4 2 0.4 2 0.4 2 0.5 2 0.4 2 0.5 2 0.6 2 0.5 2 0.6 2 0.6 2 0.7 2 0.6 2 0.7 2 0.6 2 0.7 2 0.6 2 0.7 2 0.6 2 0.5 2 0.6 2 0.6 2 0.6 2 0.7 2 0.6 2 0.7 2 0.7 2 0.6 2 0.5 2 0.5 2 0.5 2 0.3 2 0.3 2 0.1 2 0 2 -0.1 2 -0.1 2 -0.3 2 -0.2 2 -0.3 2 -0.3 2 -0.3 2 -0.2 2 -0.3 2 -0.3 2 -0.3 2 -0.3 2 -0.3 2 -0.3 2 -0.4 2.6 -0.4"/>
<path stroke="url(#gOL3)" d="M1521.7 168.1l2 0 2 0 2 0 2 0 2 -0.1 2 0 2 0 2 -0.1 2 0 2 -0.1 2 0 2 -0.1 2 0 2 -0.1 2 -0.1 2 -0.2 2 -0.2 2 -0.3 2 -0.3 2 -0.4 2 -0.4 2 -0.4 2 -0.5 2 -0.5 2 -0.4 2 -0.5 2 -0.5 2 -0.4 2 -0.4 2 -0.5 2 -0.5 2 -0.5 2 -0.5 2 -0.5 2 -0.6 2 -0.5 2 -0.6 2 -0.5 2 -0.5 2 -0.6 2 -0.5 2 -0.4 2 -0.5 2 -0.4 2 -0.4 2 -0.5 2 -0.4 2 -0.5 2 -0.4 2 -0.5 2 -0.4 2 -0.3 2 -0.4 2 -0.2 2 -0.2 2 -0.1 2 -0.1 2 0.1 2 0.1 2 0.1 2 0.2 2 0.2 2 0.2 2 0.2 2 0.2 2 0.2 2 0.3 2 0.3 2 0.3 2 0.4 2 0.3 2 0.4 2 0.3 2 0.2 2 0.2 2 0.2 2 0.2 2 0.2 2 0.1 2 0.2 2 0.1 2 0.1 2 0.1 2 0.1 2 0 2 0 2 0 2 -0.1 2 -0.1 2 -0.1 2 -0.2 2 -0.1 2 -0.2 2 -0.2 2 -0.2 2 -0.2 2 -0.2 2 -0.3 2 -0.3 2 -0.3 2 -0.4 2 -0.3 2 -0.4 2 -0.2 2 -0.3 2 -0.2 2 -0.2 2 -0.2 2 -0.2 2 -0.2 2 -0.2 2 -0.1 2 0 2 0 2 0 2 0.2 2 0.2 2 0.3 2 0.3 2 0.4 2 0.4 2 0.4 2 0.4 2 0.5 2 0.4 2 0.5 2 0.4 2 0.4 2 0.5 2 0.4 2 0.5 2 0.5 2 0.6 2 0.5 2 0.6 2 0.5 2 0.5 2 0.6 2 0.5 2 0.5 2 0.4 2 0.5 2 0.4 2 0.4 2 0.5 2 0.4 2 0.5 2 0.5 2 0.4 2 0.4 2 0.4 2 0.4 2 0.3 2 0.3 2 0.3 2 0.1 2 0.2 2 0 2 0.1 2 0 2 0.1 2 0 2 0 2 0.1 2 0 2 0 2 0 2 0.1 2 0 2 0 2 0.1 2 0.1 2 0.1 2 0.1 2 0.2 2 0.1 2 0.3 2 0.2 2 0.2 2 0.3 2 0.3 2 0.3 2 0.4 2 0.4 2 0.5 2 0.5 2 0.5 2.6 0.7"/>
<path stroke="url(#gOcb)" d="M1521.7 309.3l2 -0.5 2 -0.7 2 -0.7 2 -0.9 2 -0.9 2 -1 2 -1.3 2 -1.4 2 -1.5 2 -1.6 2 -1.6 2 -1.6 2 -1.6 2 -1.6 2 -1.6 2 -1.7 2 -1.6 2 -1.6 2 -1.6 2 -1.6 2 -1.6 2 -1.6 2 -1.5 2 -1.6 2 -1.6 2 -1.6 2 -1.6 2 -1.7 2 -1.6 2 -1.6 2 -1.6 2 -1.5 2 -1.5 2 -1.4 2 -1.4 2 -1.4 2 -1.3 2 -1.3 2 -1.3 2 -1.3 2 -1.3 2 -1.2 2 -1.2 2 -1.2 2 -1.2 2 -1 2 -1.1 2 -1 2 -1 2 -1.2 2 -1.3 2 -1.3 2 -1.3 2 -1.2 2 -1.1 2 -0.8 2 -0.6 2 -0.5 2 -0.3 2 -0.3 2 -0.2 2 -0.4 2 -0.4 2 -0.6 2 -0.7 2 -0.8 2 -0.8 2 -1 2 -1 2 -1 2 -1 2 -1.1 2 -1.3 2 -1.4 2 -1.4 2 -1.3 2 -1.1 2 -1 2 -0.9 2 -0.9 2 -0.9 2 -0.7 2 -0.7 2 -0.4 2 -0.2 2 0 2 0.4 2 0.5 2 0.7 2 0.8 2 0.9 2 0.9 2 0.9 2 1 2 1.3 2 1.4 2 1.4 2 1.3 2 1.2 2 1.1 2 1 2 1 2 1 2 0.9 2 0.8 2 0.7 2 0.7 2 0.5 2 0.4 2 0.3 2 0.3 2 0.3 2 0.3 2 0.5 2 0.7 2 1 2 1.1 2 1.2 2 1.3 2 1.3 2 1.2 2 1.1 2 1 2 1 2 1 2 1.1 2 1.2 2 1.1 2 1.2 2 1.2 2 1.3 2 1.3 2 1.2 2 1.3 2 1.4 2 1.3 2 1.4 2 1.4 2 1.4 2 1.5 2 1.6 2 1.6 2 1.6 2 1.6 2 1.6 2 1.6 2 1.5 2 1.6 2 1.5 2 1.6 2 1.5 2 1.6 2 1.6 2 1.6 2 1.6 2 1.6 2 1.6 2 1.6 2 1.5 2 1.6 2 1.5 2 1.6 2 1.6 2 1.4 2 1.3 2 1.1 2 1 2 0.9 2 0.8 2 0.7 2 0.5 2 0.4 2 0.2 2 0.2 2 0.1 2 0.2 2 0.1 2 0.1 2 0.2 2 0.3 2 0.3 2 0.4 2 0.4 2 0.6 2 0.5 2 0.7 2 0.6 2.6 0.9"/>
<path stroke="url(#gOca)" d="M1521.7 309.3l2 -0.1 2 -0.4 2 -0.6 2 -0.9 2 -1.4 2 -2 2 -3.6 2 -4.3 2 -4.1 2 -4 2 -4 2 -4.1 2 -4 2 -4.1 2 -4 2 -3.9 2 -3.7 2 -3.6 2 -3.2 2 -3 2 -2.8 2 -2.6 2 -2.5 2 -2.5 2 -2.4 2 -2.4 2 -2.3 2 -2.2 2 -2.2 2 -2.1 2 -2.3 2 -2.2 2 -2.2 2 -1.9 2 -1.5 2 -1.2 2 -1 2 -0.9 2 -0.7 2 -0.6 2 -0.5 2 -0.5 2 -0.4 2 -0.3 2 -0.2 2 -0.1 2 -0.1 2 -0.1 2 -0.1 2 0 2 -0.1 2 0 2 -0.1 2 0 2 0 2 0 2 0 2 0 2 0.1 2 0 2 0.1 2 0.2 2 0.1 2 0.1 2 0.2 2 0.1 2 0.1 2 0.1 2 0.1 2 0.1 2 0 2 0 2 0 2 -0.1 2 -0.1 2 0 2 -0.1 2 -0.1 2 -0.1 2 0 2 -0.1 2 -0.1 2 0 2 -0.1 2 0 2 0 2 0 2 0.1 2 0 2 0.1 2 0.1 2 0.1 2 0.1 2 0 2 0.1 2 0.1 2 0 2 0.1 2 0 2 0 2 -0.1 2 0 2 -0.1 2 -0.1 2 -0.2 2 -0.1 2 -0.1 2 -0.2 2 -0.1 2 -0.1 2 -0.1 2 -0.1 2 0 2 0 2 0 2 0 2 0 2 0.1 2 0 2 0 2 0.1 2 0.1 2 0 2 0.1 2 0.1 2 0.1 2 0.2 2 0.4 2 0.4 2 0.4 2 0.5 2 0.7 2 0.7 2 0.9 2 1 2 1.2 2 1.5 2 1.9 2 2.1 2 2.3 2 2.2 2 2.1 2 2.1 2 2.2 2 2.3 2 2.3 2 2.4 2 2.4 2 2.5 2 2.6 2 2.7 2 2.8 2 3.1 2 3.5 2 3.7 2 3.7 2 3.9 2 4 2 4 2 4 2 4 2 4 2 3.9 2 4.2 2 3.9 2 2.6 2 1.5 2 1.2 2 0.7 2 0.3 2 0.3 2 0.2 2 0.2 2 0.2 2 0.1 2 0.2 2 0.2 2 0.1 2 0.2 2 0.3 2 0.3 2 0.4 2 0.4 2 0.6 2 0.5 2 0.7 2 0.6 2.6 0.9"/>
</g>
<g clip-path="url(#cpb10)" fill="none" stroke-width="2.9" stroke-linecap="round" stroke-linejoin="round">
<path stroke="url(#gCob1)" d="M1120.3 443.8l2 -0.1 2 -0.1 2 -0.1 2 -0.2 2 -0.3 2 -0.3 2 -0.4 2 -0.4 2 -0.5 2 -0.6 2 -0.7 2 -0.9 2 -0.9 2 -1 2 -1.1 2 -1.2 2 -1.1 2 -1.1 2 -1.2 2 -1.1 2 -1 2 -1.1 2 -1.2 2 -1.2 2 -1.1 2 -1.2 2 -1.2 2 -1.2 2 -1.1 2 -1 2 -1 2 -0.9 2 -0.9 2 -0.8 2 -0.8 2 -0.9 2 -0.7 2 -0.8 2 -0.7 2 -0.6 2 -0.6 2 -0.6 2 -0.5 2 -0.4 2 -0.4 2 -0.4 2 -0.4 2 -0.4 2 -0.3 2 -0.4 2 -0.3 2 -0.2 2 -0.3 2 -0.2 2 -0.1 2 -0.1 2 0 2 0.1 2 0.1 2 0.2 2 0.3 2 0.3 2 0.3 2 0.4 2 0.4 2 0.5 2 0.4 2 0.4 2 0.4 2 0.4 2 0.4 2 0.3 2 0.3 2 0.4 2 0.4 2 0.4 2 0.4 2 0.4 2 0.3 2 0.4 2 0.3 2 0.3 2 0.2 2 0.1 2 0.1 2 -0.1 2 -0.1 2 -0.1 2 -0.3 2 -0.2 2 -0.4 2 -0.3 2 -0.4 2 -0.4 2 -0.4 2 -0.4 2 -0.4 2 -0.3 2 -0.4 2 -0.3 2 -0.4 2 -0.4 2 -0.4 2 -0.4 2 -0.4 2 -0.4 2 -0.4 2 -0.4 2 -0.4 2 -0.3 2 -0.2 2 -0.2 2 -0.1 2 0 2 0.1 2 0.1 2 0.1 2 0.2 2 0.3 2 0.2 2 0.4 2 0.3 2 0.4 2 0.3 2 0.4 2 0.4 2 0.4 2 0.4 2 0.5 2 0.6 2 0.6 2 0.6 2 0.7 2 0.8 2 0.7 2 0.8 2 0.8 2 0.9 2 0.8 2 0.9 2 1 2 1 2 1.1 2 1.1 2 1.2 2 1.2 2 1.1 2 1.2 2 1.1 2 1.1 2 1 2 1.1 2 1.1 2 1.2 2 1.1 2 1.1 2 1.1 2 1 2 1 2 0.8 2 0.8 2 0.6 2 0.5 2 0.5 2 0.4 2 0.3 2 0.3 2 0.2 2 0.2 2 0.1 2 0.1 2 0 2 0 2 0 2 0 2 0 2 0 2 0 2 0 2 0 2 0 2 0 2 0 2 0 2 0 2 0 2 0 2.6 0"/>
<path stroke="url(#gCob2)" d="M1120.3 443.8l2 -0.1 2 -0.1 2 -0.2 2 -0.1 2 -0.1 2 -0.2 2 -0.1 2 -0.1 2 -0.2 2 -0.1 2 -0.1 2 -0.2 2 -0.1 2 -0.2 2 -0.1 2 -0.2 2 -0.1 2 -0.2 2 -0.1 2 -0.2 2 -0.1 2 -0.2 2 -0.2 2 -0.2 2 -0.2 2 -0.2 2 -0.2 2 -0.2 2 -0.2 2 -0.2 2 -0.2 2 -0.2 2 -0.2 2 -0.2 2 -0.2 2 -0.2 2 -0.2 2 -0.1 2 -0.2 2 -0.2 2 -0.1 2 -0.1 2 -0.2 2 -0.1 2 -0.1 2 -0.1 2 0 2 -0.1 2 -0.1 2 0 2 -0.1 2 -0.1 2 0 2 -0.1 2 -0.1 2 -0.1 2 -0.1 2 -0.1 2 -0.2 2 -0.1 2 -0.2 2 -0.1 2 -0.2 2 -0.2 2 -0.2 2 -0.2 2 -0.2 2 -0.2 2 -0.2 2 -0.3 2 -0.3 2 -0.3 2 -0.3 2 -0.4 2 -0.3 2 -0.3 2 -0.4 2 -0.3 2 -0.2 2 -0.3 2 -0.2 2 -0.2 2 -0.2 2 -0.1 2 0 2 0 2 0.1 2 0.1 2 0.2 2 0.2 2 0.2 2 0.3 2 0.3 2 0.3 2 0.3 2 0.4 2 0.3 2 0.3 2 0.3 2 0.3 2 0.3 2 0.3 2 0.2 2 0.2 2 0.2 2 0.2 2 0.2 2 0.2 2 0.1 2 0.2 2 0.2 2 0.1 2 0.1 2 0.2 2 0.1 2 0 2 0.1 2 0.1 2 0.1 2 0 2 0.1 2 0.1 2 0 2 0.1 2 0.1 2 0.1 2 0.1 2 0.1 2 0.1 2 0.1 2 0.2 2 0.1 2 0.2 2 0.2 2 0.1 2 0.2 2 0.2 2 0.2 2 0.2 2 0.2 2 0.2 2 0.2 2 0.2 2 0.2 2 0.2 2 0.2 2 0.2 2 0.2 2 0.2 2 0.1 2 0.2 2 0.2 2 0.1 2 0.2 2 0.2 2 0.2 2 0.1 2 0.2 2 0.2 2 0.2 2 0.2 2 0.1 2 0.2 2 0.1 2 0.2 2 0.1 2 0.1 2 0.1 2 0 2 0.1 2 0 2 0 2 0 2 0 2 0 2 0 2 0 2 0 2 0 2 0 2 0 2 0 2 0 2 0 2 0 2 0 2 0 2.6 0"/>
<path stroke="url(#gCob3)" d="M1120.3 468.0l2 0.1 2 0 2 0.1 2 0.2 2 0.1 2 0.2 2 0.2 2 0.2 2 0.3 2 0.2 2 0.4 2 0.4 2 0.4 2 0.5 2 0.5 2 0.6 2 0.6 2 0.6 2 0.6 2 0.6 2 0.6 2 0.6 2 0.8 2 0.7 2 0.9 2 0.8 2 0.8 2 0.8 2 0.7 2 0.6 2 0.6 2 0.4 2 0.4 2 0.3 2 0.4 2 0.3 2 0.3 2 0.3 2 0.3 2 0.2 2 0.2 2 0.1 2 0.1 2 0 2 0 2 -0.1 2 -0.1 2 -0.1 2 -0.1 2 -0.1 2 -0.1 2 -0.1 2 -0.1 2 -0.1 2 -0.1 2 0 2 0 2 0 2 0.1 2 0.1 2 0.2 2 0.2 2 0.2 2 0.3 2 0.2 2 0.3 2 0.3 2 0.2 2 0.2 2 0.3 2 0.2 2 0.1 2 0.2 2 0.2 2 0.1 2 0.2 2 0.2 2 0.1 2 0.2 2 0.1 2 0.2 2 0.1 2 0.1 2 0 2 0 2 0 2 0 2 -0.1 2 -0.1 2 -0.1 2 -0.1 2 -0.2 2 -0.1 2 -0.2 2 -0.2 2 -0.1 2 -0.2 2 -0.2 2 -0.2 2 -0.1 2 -0.2 2 -0.3 2 -0.2 2 -0.3 2 -0.2 2 -0.3 2 -0.2 2 -0.3 2 -0.2 2 -0.2 2 -0.1 2 -0.2 2 0 2 0 2 0 2 0 2 0.1 2 0.1 2 0.1 2 0.1 2 0.1 2 0.2 2 0.1 2 0.1 2 0 2 0.1 2 0 2 0 2 -0.1 2 -0.1 2 -0.2 2 -0.2 2 -0.3 2 -0.3 2 -0.3 2 -0.3 2 -0.4 2 -0.3 2 -0.4 2 -0.4 2 -0.6 2 -0.6 2 -0.7 2 -0.8 2 -0.8 2 -0.8 2 -0.8 2 -0.7 2 -0.8 2 -0.6 2 -0.6 2 -0.6 2 -0.6 2 -0.6 2 -0.6 2 -0.5 2 -0.6 2 -0.5 2 -0.4 2 -0.4 2 -0.4 2 -0.3 2 -0.2 2 -0.2 2 -0.2 2 -0.2 2 -0.2 2 -0.1 2 -0.1 2 -0.1 2 -0.1 2 0 2 0 2 0 2 0 2 0.1 2 0 2 0 2 0.1 2 0 2 0.1 2 0.1 2 0.1 2 0.1 2 0.1 2 0.2 2 0.2 2.6 0.2"/>
<path stroke="url(#gCoL10)" d="M1120.3 595.4l2 0.2 2 0.2 2 0.1 2 0.1 2 0.1 2 0.1 2 0.1 2 0 2 0.1 2 0 2 0 2 0 2 0.1 2 0 2 -0.1 2 0 2 -0.1 2 -0.2 2 -0.2 2 -0.1 2 -0.3 2 -0.2 2 -0.2 2 -0.3 2 -0.2 2 -0.3 2 -0.3 2 -0.2 2 -0.2 2 -0.3 2 -0.3 2 -0.4 2 -0.3 2 -0.4 2 -0.4 2 -0.4 2 -0.4 2 -0.3 2 -0.4 2 -0.3 2 -0.3 2 -0.2 2 -0.2 2 -0.1 2 -0.1 2 -0.1 2 -0.1 2 -0.1 2 -0.1 2 0 2 -0.1 2 -0.1 2 0 2 0 2 -0.1 2 0 2 0 2 0 2 0.1 2 0 2 0.1 2 0.1 2 0.1 2 0.1 2 0.1 2 0.2 2 0.1 2 0.4 2 0.5 2 0.5 2 0.6 2 0.5 2 0.3 2 0.3 2 0.1 2 0.1 2 0.2 2 0.1 2 0.1 2 0.1 2 0.1 2 0.1 2 0 2 0.1 2 0 2 0 2 -0.1 2 0 2 -0.1 2 0 2 -0.1 2 -0.1 2 -0.1 2 -0.2 2 -0.1 2 -0.2 2 -0.1 2 -0.3 2 -0.5 2 -0.5 2 -0.5 2 -0.5 2 -0.5 2 -0.3 2 -0.1 2 -0.1 2 -0.2 2 -0.1 2 -0.1 2 0 2 -0.1 2 -0.1 2 0 2 0 2 0 2 0 2 0.1 2 0 2 0.1 2 0 2 0.1 2 0.1 2 0 2 0.1 2 0.1 2 0.1 2 0.1 2 0.1 2 0.2 2 0.3 2 0.2 2 0.4 2 0.3 2 0.4 2 0.3 2 0.4 2 0.4 2 0.4 2 0.3 2 0.4 2 0.3 2 0.2 2 0.3 2 0.2 2 0.3 2 0.2 2 0.3 2 0.2 2 0.3 2 0.2 2 0.2 2 0.2 2 0.2 2 0.1 2 0.1 2 0.1 2 0 2 0 2 0 2 0 2 -0.1 2 -0.1 2 0 2 -0.1 2 -0.1 2 -0.1 2 -0.1 2 -0.1 2 -0.1 2 -0.1 2 -0.1 2 0 2 -0.1 2 0 2 0 2 -0.1 2 0 2 -0.1 2 0 2 0 2 -0.1 2 0 2 0 2 0 2 -0.1 2 0 2 0 2.6 0"/>
<path stroke="url(#gCoL9)" d="M1120.3 594.9l2 -0.3 2 -0.3 2 -0.3 2 -0.3 2 -0.3 2 -0.3 2 -0.3 2 -0.3 2 -0.4 2 -0.3 2 -0.3 2 -0.4 2 -0.3 2 -0.4 2 -0.4 2 -0.3 2 -0.4 2 -0.4 2 -0.5 2 -0.4 2 -0.4 2 -0.4 2 -0.4 2 -0.5 2 -0.4 2 -0.4 2 -0.4 2 -0.3 2 -0.4 2 -0.3 2 -0.3 2 -0.3 2 -0.3 2 -0.3 2 -0.3 2 -0.4 2 -0.4 2 -0.5 2 -0.7 2 -0.6 2 -0.6 2 -0.5 2 -0.3 2 -0.1 2 0 2 0 2 0.1 2 0 2 0.1 2 0.1 2 0 2 0.1 2 0.1 2 0.1 2 0 2 0.1 2 0.1 2 0 2 0.1 2 0 2 0 2 0.1 2 0 2 0.1 2 0.1 2 0.1 2 0.1 2 0.4 2 0.5 2 0.7 2 0.7 2 0.7 2 0.6 2 0.6 2 0.5 2 0.6 2 0.6 2 0.6 2 0.6 2 0.5 2 0.5 2 0.5 2 0.3 2 0.2 2 0.2 2 -0.1 2 -0.1 2 -0.3 2 -0.4 2 -0.5 2 -0.5 2 -0.6 2 -0.6 2 -0.6 2 -0.6 2 -0.6 2 -0.5 2 -0.6 2 -0.7 2 -0.7 2 -0.6 2 -0.6 2 -0.5 2 -0.3 2 -0.1 2 -0.1 2 0 2 -0.1 2 0 2 -0.1 2 0 2 -0.1 2 0 2 -0.1 2 0 2 -0.1 2 -0.1 2 0 2 -0.1 2 -0.1 2 -0.1 2 0 2 -0.1 2 -0.1 2 0 2 0 2 0 2 0.1 2 0.4 2 0.5 2 0.6 2 0.6 2 0.6 2 0.6 2 0.4 2 0.3 2 0.3 2 0.3 2 0.3 2 0.3 2 0.3 2 0.3 2 0.4 2 0.3 2 0.4 2 0.4 2 0.4 2 0.4 2 0.4 2 0.4 2 0.5 2 0.4 2 0.4 2 0.4 2 0.4 2 0.3 2 0.4 2 0.4 2 0.4 2 0.4 2 0.4 2 0.4 2 0.4 2 0.4 2 0.4 2 0.3 2 0.4 2 0.2 2 0.2 2 0.2 2 0.1 2 0 2 0 2 0 2 0 2 0 2 0 2 0 2 -0.1 2 0 2 0 2 0 2 -0.1 2 0 2 -0.1 2 0 2 -0.1 2.6 -0.1"/>
<path stroke="url(#gCop2)" d="M1120.3 649.6l2 0.3 2 0.3 2 0.4 2 0.3 2 0.3 2 0.2 2 0.3 2 0.3 2 0.3 2 0.3 2 0.3 2 0.3 2 0.3 2 0.2 2 0.1 2 0 2 -0.1 2 0 2 -0.1 2 -0.1 2 -0.1 2 -0.2 2 -0.4 2 -0.7 2 -1 2 -1.1 2 -1.1 2 -1 2 -0.7 2 -0.6 2 -0.6 2 -0.5 2 -0.5 2 -0.6 2 -0.7 2 -0.7 2 -0.9 2 -1 2 -1.1 2 -1.1 2 -1.2 2 -1.1 2 -1.2 2 -1.4 2 -1.3 2 -1.4 2 -1.2 2 -1.1 2 -0.9 2 -0.8 2 -0.7 2 -0.8 2 -0.7 2 -0.5 2 -0.5 2 -0.2 2 -0.1 2 0 2 0.1 2 0.2 2 0.1 2 0.2 2 0.3 2 0.2 2 0.3 2 0.3 2 0.2 2 0.3 2 0.3 2 0.3 2 0.2 2 0.2 2 0.2 2 0.2 2 0.2 2 0.3 2 0.2 2 0.2 2 0.2 2 0.2 2 0.2 2 0.1 2 0.2 2 0 2 0.1 2 0 2 0 2 0 2 0 2 0 2 0 2 0 2 0 2 0 2 0 2 0 2 0 2 0 2 0 2 0 2 0 2 0 2 0 2 0 2 0.1 2 0 2 0 2 0.1 2 0 2 0.1 2 0 2 0.1 2 0 2 0.1 2 0.2 2 0.2 2 0.3 2 0.4 2 0.4 2 0.5 2 0.5 2 0.5 2 0.7 2 0.8 2 1 2 1 2 1.1 2 1 2 1 2 1 2 1 2 1.1 2 1 2 1 2 1 2 0.9 2 0.8 2 0.8 2 0.8 2 0.7 2 0.7 2 0.6 2 0.6 2 0.4 2 0.4 2 0.4 2 0.3 2 0.3 2 0.2 2 0.1 2 0 2 0 2 0 2 0 2 0 2 0 2 0 2 -0.1 2 -0.1 2 -0.2 2 -0.2 2 -0.3 2 -0.2 2 -0.3 2 -0.3 2 -0.4 2 -0.5 2 -0.4 2 -0.4 2 -0.3 2 -0.2 2 0 2 0.1 2 0.2 2 0.2 2 0.3 2 0.3 2 0.5 2 0.9 2 1.4 2 1.6 2 1.6 2 1.4 2 1.5 2 1.5 2 1.5 2 1.6 2.6 2.1"/>
<path stroke="url(#gCopl)" d="M1120.3 704.3l2 -2.7 2 -2.6 2 -2.6 2 -2.5 2 -2.4 2 -2.4 2 -2.2 2 -2.2 2 -2 2 -2 2 -2 2 -1.9 2 -1.8 2 -1.8 2 -1.7 2 -1.6 2 -1.6 2 -1.4 2 -1.4 2 -1.2 2 -1.3 2 -1.1 2 -1.2 2 -1 2 -1.1 2 -0.9 2 -1 2 -0.9 2 -0.9 2 -0.9 2 -0.9 2 -0.8 2 -0.8 2 -0.7 2 -0.6 2 -0.5 2 -0.5 2 -0.3 2 -0.1 2 0.2 2 0.4 2 0.5 2 0.5 2 0.5 2 0.5 2 0.4 2 0.6 2 0.5 2 0.4 2 0.4 2 0.5 2 0.4 2 0.4 2 0.4 2 0.2 2 0.2 2 0 2 -0.2 2 -0.6 2 -0.9 2 -1 2 -1.2 2 -1.3 2 -1.4 2 -1.3 2 -1.3 2 -1.2 2 -1.3 2 -1.5 2 -1.6 2 -1.5 2 -1.6 2 -1.5 2 -1.4 2 -1.3 2 -1.1 2 -0.9 2 -1 2 -0.9 2 -0.9 2 -0.8 2 -0.8 2 -0.5 2 -0.5 2 -0.1 2 0 2 0.3 2 0.5 2 0.6 2 0.8 2 0.9 2 0.9 2 1 2 0.9 2 1 2 1.2 2 1.3 2 1.5 2 1.5 2 1.6 2 1.5 2 1.6 2 1.4 2 1.3 2 1.2 2 1.3 2 1.3 2 1.3 2 1.3 2 1.2 2 1 2 0.7 2 0.4 2 0.1 2 -0.1 2 -0.2 2 -0.3 2 -0.3 2 -0.5 2 -0.4 2 -0.4 2 -0.4 2 -0.5 2 -0.5 2 -0.5 2 -0.4 2 -0.5 2 -0.5 2 -0.5 2 -0.5 2 -0.3 2 -0.2 2 0.1 2 0.3 2 0.5 2 0.6 2 0.6 2 0.6 2 0.8 2 0.8 2 0.9 2 0.9 2 0.8 2 1 2 0.9 2 1 2 1 2 1 2 1.1 2 1.2 2 1.2 2 1.2 2 1.3 2 1.4 2 1.5 2 1.6 2 1.7 2 1.7 2 1.8 2 1.8 2 2 2 1.9 2 2 2 2.6 2 2.9 2 3.2 2 3.1 2 2.9 2 2.5 2 1.9 2 1.1 2 0.1 2 -0.4 2 -0.6 2 -0.9 2 -1 2 -1 2 -1 2 -0.9 2 -0.7 2 -0.6 2 -0.6 2 -0.5 2 -0.6 2 -0.5 2 -0.4 2 -0.5 2.6 -0.5"/>
<path stroke="url(#gCopk)" d="M1120.3 704.3l2 -3.1 2 -3 2 -2.9 2 -2.8 2 -2.7 2 -2.5 2 -2.5 2 -2.3 2 -2.2 2 -2 2 -1.9 2 -1.9 2 -1.7 2 -1.7 2 -1.7 2 -1.6 2 -1.7 2 -1.6 2 -1.7 2 -1.7 2 -1.7 2 -1.7 2 -1.6 2 -1.6 2 -1.4 2 -1.4 2 -1.3 2 -1.3 2 -1.3 2 -1.1 2 -1 2 -0.9 2 -0.7 2 -0.6 2 -0.6 2 -0.5 2 -0.5 2 -0.6 2 -0.6 2 -0.7 2 -0.7 2 -0.7 2 -0.7 2 -0.6 2 -0.4 2 -0.4 2 -0.2 2 -0.3 2 -0.2 2 -0.2 2 -0.2 2 -0.1 2 -0.2 2 -0.2 2 -0.2 2 -0.3 2 -0.2 2 -0.3 2 -0.4 2 -0.3 2 -0.4 2 -0.4 2 -0.5 2 -0.6 2 -0.7 2 -0.7 2 -0.8 2 -0.8 2 -0.8 2 -0.7 2 -0.7 2 -0.6 2 -0.5 2 -0.4 2 -0.5 2 -0.3 2 -0.2 2 0 2 0.3 2 0.5 2 0.7 2 0.7 2 0.6 2 0.5 2 0.3 2 -0.1 2 -0.4 2 -0.5 2 -0.7 2 -0.7 2 -0.6 2 -0.5 2 -0.2 2 0.1 2 0.3 2 0.4 2 0.5 2 0.4 2 0.5 2 0.7 2 0.7 2 0.8 2 0.8 2 0.8 2 0.7 2 0.7 2 0.7 2 0.5 2 0.5 2 0.4 2 0.3 2 0.4 2 0.3 2 0.3 2 0.2 2 0.3 2 0.2 2 0.2 2 0.1 2 0.2 2 0.2 2 0.2 2 0.2 2 0.2 2 0.3 2 0.4 2 0.4 2 0.6 2 0.7 2 0.7 2 0.7 2 0.7 2 0.6 2 0.5 2 0.5 2 0.6 2 0.5 2 0.6 2 0.8 2 0.8 2 1 2 1.1 2 1.2 2 1.3 2 1.3 2 1.4 2 1.4 2 1.5 2 1.6 2 1.6 2 1.7 2 1.7 2 1.7 2 1.6 2 1.6 2 1.6 2 1.6 2 1.7 2 1.7 2 1.8 2 1.8 2 2 2 2.2 2 2.7 2 3.2 2 3.5 2 3.5 2 3.3 2 2.8 2 2.2 2 1.1 2 0.2 2 -0.4 2 -0.6 2 -0.9 2 -1 2 -1 2 -1 2 -0.9 2 -0.7 2 -0.6 2 -0.6 2 -0.5 2 -0.6 2 -0.5 2 -0.4 2 -0.5 2.6 -0.5"/>
<path stroke="url(#gCola)" d="M1120.3 704.3l2 -4.3 2 -4.1 2 -3.9 2 -3.7 2 -3.4 2 -3.1 2 -2.9 2 -2.7 2 -2.5 2 -2.5 2 -2.5 2 -2.6 2 -2.6 2 -2.7 2 -2.7 2 -2.7 2 -2.6 2 -2.5 2 -2.3 2 -2.2 2 -2.1 2 -2 2 -2 2 -1.9 2 -1.8 2 -1.8 2 -1.7 2 -1.7 2 -1.6 2 -1.5 2 -1.4 2 -1.3 2 -1.2 2 -1.2 2 -1 2 -1 2 -1 2 -0.9 2 -0.8 2 -0.7 2 -0.7 2 -0.6 2 -0.7 2 -0.6 2 -0.6 2 -0.7 2 -0.8 2 -0.7 2 -0.6 2 -0.5 2 -0.3 2 -0.2 2 -0.1 2 -0.2 2 -0.1 2 0 2 -0.1 2 0.1 2 0 2 0.1 2 0.2 2 0.1 2 0.2 2 0.1 2 0.2 2 0.1 2 0.2 2 0.1 2 0.1 2 0.1 2 0 2 0 2 -0.1 2 -0.1 2 -0.1 2 -0.1 2 -0.2 2 -0.1 2 -0.2 2 -0.2 2 -0.1 2 -0.1 2 -0.2 2 0 2 -0.1 2 0.1 2 0 2 0.1 2 0.1 2 0.2 2 0.1 2 0.2 2 0.1 2 0.2 2 0.2 2 0.1 2 0.1 2 0.1 2 0 2 0 2 -0.1 2 0 2 -0.2 2 -0.1 2 -0.1 2 -0.2 2 -0.2 2 -0.1 2 -0.2 2 -0.1 2 -0.1 2 -0.1 2 0 2 -0.1 2 0.1 2 0.1 2 0.1 2 0.1 2 0.2 2 0.2 2 0.3 2 0.6 2 0.6 2 0.8 2 0.7 2 0.6 2 0.6 2 0.7 2 0.6 2 0.6 2 0.7 2 0.8 2 0.8 2 0.8 2 1 2 1 2 1 2 1.1 2 1.2 2 1.3 2 1.4 2 1.5 2 1.6 2 1.6 2 1.7 2 1.7 2 1.8 2 1.9 2 1.9 2 2 2 2.1 2 2.1 2 2.3 2 2.4 2 2.5 2 2.6 2 2.7 2 2.6 2 2.7 2 2.5 2 2.5 2 2.4 2 2.5 2 2.6 2 2.7 2 3 2 3.9 2 4.9 2 4.9 2 4.2 2 2.4 2 0.3 2 -0.7 2 -1.2 2 -1.6 2 -1.9 2 -2 2 -2 2 -1.9 2 -1.6 2 -1.5 2 -1.4 2 -1.4 2 -1.4 2 -1.4 2 -1.3 2 -1.4 2.6 -1.7"/>
<path stroke="url(#gCoL8)" d="M1120.3 556.1l2 0.5 2 0.6 2 0.6 2 0.5 2 0.6 2 0.5 2 0.6 2 0.5 2 0.6 2 0.5 2 0.5 2 0.6 2 0.5 2 0.5 2 0.6 2 0.5 2 0.7 2 0.6 2 0.7 2 0.6 2 0.6 2 0.6 2 0.6 2 0.5 2 0.4 2 0.4 2 0.2 2 0.2 2 0 2 0 2 -0.1 2 0 2 -0.1 2 -0.2 2 -0.1 2 -0.2 2 -0.3 2 -0.6 2 -1 2 -1 2 -1.2 2 -1 2 -0.9 2 -0.7 2 -0.5 2 -0.5 2 -0.5 2 -0.5 2 -0.5 2 -0.5 2 -0.4 2 -0.3 2 -0.3 2 -0.3 2 -0.1 2 -0.1 2 -0.1 2 0.1 2 0.2 2 0.2 2 0.4 2 0.3 2 0.5 2 0.4 2 0.5 2 0.4 2 0.5 2 0.7 2 0.7 2 0.8 2 0.8 2 0.8 2 0.7 2 0.5 2 0.4 2 0.5 2 0.4 2 0.4 2 0.4 2 0.4 2 0.3 2 0.3 2 0.2 2 0.2 2 0 2 0 2 -0.1 2 -0.2 2 -0.2 2 -0.3 2 -0.4 2 -0.3 2 -0.4 2 -0.5 2 -0.4 2 -0.5 2 -0.4 2 -0.6 2 -0.7 2 -0.8 2 -0.8 2 -0.8 2 -0.7 2 -0.6 2 -0.5 2 -0.4 2 -0.5 2 -0.4 2 -0.4 2 -0.4 2 -0.3 2 -0.2 2 -0.1 2 -0.1 2 0.1 2 0.1 2 0.2 2 0.3 2 0.3 2 0.4 2 0.4 2 0.4 2 0.5 2 0.5 2 0.5 2 0.5 2 0.5 2 0.7 2 1 2 1 2 1.1 2 1.1 2 0.9 2 0.6 2 0.2 2 0.2 2 0.1 2 0.2 2 0.1 2 0.1 2 0 2 0 2 0 2 -0.2 2 -0.2 2 -0.4 2 -0.4 2 -0.5 2 -0.5 2 -0.6 2 -0.6 2 -0.6 2 -0.7 2 -0.6 2 -0.6 2 -0.6 2 -0.6 2 -0.5 2 -0.5 2 -0.6 2 -0.7 2 -0.6 2 -0.6 2 -0.7 2 -0.6 2 -0.6 2 -0.6 2 -0.5 2 -0.4 2 -0.4 2 -0.3 2 -0.2 2 -0.2 2 -0.2 2 -0.2 2 -0.2 2 -0.2 2 -0.1 2 -0.2 2 -0.1 2 -0.1 2 -0.2 2 -0.1 2 0 2 -0.1 2 -0.1 2 0 2.6 0"/>
<path stroke="url(#gCoL7)" d="M1120.3 557.6l2 0 2 0 2 0 2 0 2 0 2 0 2 0 2 0 2 0 2 0 2 0 2 0 2 0 2 0 2 0 2 0.1 2 0 2 0 2 0 2 0 2 0.1 2 0 2 0 2 0.1 2 0 2 0.1 2 0 2 0.1 2 0.1 2 0.1 2 0.1 2 0.3 2 0.2 2 0.4 2 0.3 2 0.4 2 0.3 2 0.4 2 0.4 2 0.3 2 0.4 2 0.3 2 0.3 2 0.2 2 0.3 2 0.2 2 0.2 2 0.3 2 0.2 2 0.3 2 0.2 2 0.2 2 0.1 2 0.2 2 0.1 2 0 2 0 2 0 2 0 2 0 2 0 2 0 2 0 2 0 2 0 2 0 2 0 2 -0.1 2 -0.2 2 -0.3 2 -0.3 2 -0.2 2 -0.3 2 -0.2 2 -0.1 2 -0.2 2 -0.2 2 -0.2 2 -0.2 2 -0.1 2 -0.2 2 -0.1 2 -0.1 2 -0.1 2 0 2 0 2 0.1 2 0 2 0.2 2 0.1 2 0.1 2 0.2 2 0.2 2 0.2 2 0.2 2 0.1 2 0.2 2 0.2 2 0.3 2 0.3 2 0.2 2 0.3 2 0.1 2 0.1 2 0 2 0 2 0 2 0 2 0 2 0 2 0 2 0 2 0 2 0 2 0 2 -0.1 2 -0.1 2 -0.1 2 -0.2 2 -0.2 2 -0.2 2 -0.2 2 -0.3 2 -0.2 2 -0.3 2 -0.2 2 -0.2 2 -0.3 2 -0.2 2 -0.4 2 -0.3 2 -0.4 2 -0.3 2 -0.4 2 -0.4 2 -0.3 2 -0.4 2 -0.3 2 -0.2 2 -0.3 2 -0.1 2 -0.1 2 -0.1 2 0 2 -0.1 2 -0.1 2 0 2 0 2 -0.1 2 0 2 -0.1 2 0 2 0 2 0 2 0 2 -0.1 2 0 2 0 2 0 2 0 2 0 2 0 2 0 2 0 2 0 2 0 2 0 2 0 2 0 2 0 2 0 2 0 2 0.1 2 0 2 0.1 2 0 2 0.1 2 0.1 2 0.2 2 0.1 2 0.1 2 0.2 2 0.2 2 0.1 2 0.2 2 0.2 2 0.2 2.6 0.2"/>
<path stroke="url(#gCoL6)" d="M1120.3 557.4l2 -0.1 2 -0.1 2 -0.2 2 -0.2 2 -0.3 2 -0.3 2 -0.4 2 -0.5 2 -0.6 2 -0.7 2 -0.7 2 -0.8 2 -0.6 2 -0.6 2 -0.5 2 -0.6 2 -0.5 2 -0.5 2 -0.5 2 -0.4 2 -0.2 2 -0.2 2 -0.2 2 -0.1 2 -0.1 2 -0.1 2 -0.1 2 -0.1 2 0 2 0 2 0 2 0 2 0 2 0 2 0 2 0 2 0 2 0 2 0 2 0 2 0 2 0 2 0 2 0 2 0 2 0 2 0 2 0 2 0 2 0 2 0 2 0 2 0 2 0 2 0 2 0 2 0 2 0 2 0.1 2 0 2 0 2 0.1 2 0.1 2 0 2 0.1 2 0.1 2 0.1 2 0.1 2 0.1 2 0.1 2 0.1 2 0.1 2 0.1 2 0.1 2 0.2 2 0.2 2 0.2 2 0.2 2 0.3 2 0.2 2 0.3 2 0.2 2 0.1 2 0.1 2 0.1 2 0 2 -0.1 2 -0.1 2 -0.2 2 -0.2 2 -0.3 2 -0.2 2 -0.3 2 -0.2 2 -0.2 2 -0.2 2 -0.1 2 -0.1 2 -0.1 2 -0.1 2 -0.1 2 -0.2 2 -0.1 2 -0.1 2 0 2 -0.1 2 -0.1 2 -0.1 2 0 2 -0.1 2 0 2 -0.1 2 0 2 0 2 0 2 0 2 0 2 0 2 0 2 0 2 0 2 0 2 0 2 0 2 0 2 0 2 0 2 0 2 0 2 0 2 0 2 0 2 0 2 0 2 0 2 0 2 0 2 0 2 0 2 0 2 0 2 0 2 0 2 0.1 2 0.1 2 0.1 2 0.1 2 0.1 2 0.2 2 0.1 2 0.3 2 0.3 2 0.5 2 0.5 2 0.5 2 0.5 2 0.6 2 0.5 2 0.6 2 0.7 2 0.8 2 0.7 2 0.6 2 0.6 2 0.4 2 0.3 2 0.2 2 0.3 2 0.2 2 0.1 2 0.1 2 0.1 2 0.1 2 0 2 0.1 2 0 2 0.1 2 0 2 0 2 0.1 2 0 2 0 2 0 2 0.1 2 0 2 0 2 0 2.6 0"/>
<path stroke="url(#gCoL5)" d="M1120.3 540.2l2 0.4 2 0.5 2 0.4 2 0.4 2 0.5 2 0.3 2 0.4 2 0.4 2 0.3 2 0.3 2 0.2 2 0.3 2 0.1 2 0.2 2 0.1 2 0.2 2 0.1 2 0.1 2 0.1 2 0.1 2 0.2 2 0 2 0.1 2 0.1 2 0.1 2 0 2 0 2 0.1 2 0 2 0 2 0 2 0 2 0 2 0 2 0 2 0 2 0 2 0 2 0 2 0 2 0 2 0 2 0 2 0 2 0 2 0 2 0 2 0 2 0 2 0 2 0 2 0 2 0 2 0 2 0 2 0 2 0 2 0 2 0 2 0.1 2 0.1 2 0.1 2 0.1 2 0.1 2 0.1 2 0.1 2 0.1 2 0.1 2 0.1 2 0.1 2 0.1 2 0.1 2 0.1 2 0.2 2 0.2 2 0.2 2 0.3 2 0.3 2 0.2 2 0.2 2 0.1 2 0 2 -0.2 2 -0.2 2 -0.1 2 0 2 0.2 2 0.2 2 0.1 2 0 2 -0.2 2 -0.2 2 -0.2 2 -0.3 2 -0.3 2 -0.2 2 -0.2 2 -0.1 2 -0.1 2 -0.1 2 -0.1 2 -0.1 2 -0.1 2 -0.1 2 -0.1 2 -0.1 2 -0.1 2 -0.1 2 -0.1 2 -0.1 2 -0.1 2 -0.1 2 0 2 0 2 0 2 0 2 0 2 0 2 0 2 0 2 0 2 0 2 0 2 0 2 0 2 0 2 0 2 0 2 0 2 0 2 0 2 0 2 0 2 0 2 0 2 0 2 0 2 0 2 0 2 0 2 0 2 0 2 0 2 0 2 -0.1 2 0 2 -0.1 2 -0.1 2 0 2 -0.1 2 -0.1 2 -0.1 2 -0.2 2 -0.1 2 -0.1 2 -0.1 2 -0.2 2 -0.1 2 -0.3 2 -0.3 2 -0.4 2 -0.4 2 -0.4 2 -0.5 2 -0.5 2 -0.4 2 -0.4 2 -0.4 2 -0.3 2 -0.2 2 -0.1 2 0 2 0 2 0 2 0 2 0 2 0 2 0.1 2 0 2 0.1 2 0 2 0.1 2 0.1 2 0.1 2 0.2 2 0.1 2 0.2 2.6 0.3"/>
<path stroke="url(#gCoL4)" d="M1120.3 543.3l2 0 2 0 2 0 2 0 2 0 2 0 2 0 2 0 2 0 2 0 2 0 2 0 2 0 2 0 2 0 2 0 2 -0.1 2 -0.1 2 -0.1 2 -0.1 2 -0.1 2 -0.1 2 -0.2 2 -0.2 2 -0.2 2 -0.2 2 -0.3 2 -0.2 2 -0.3 2 -0.2 2 -0.1 2 -0.1 2 0 2 0.1 2 0.1 2 0.3 2 0.2 2 0.3 2 0.3 2 0.3 2 0.3 2 0.3 2 0.2 2 0.2 2 0.2 2 0.3 2 0.2 2 0.2 2 0.2 2 0.2 2 0.2 2 0.2 2 0.1 2 0.1 2 0.1 2 0.1 2 0 2 0 2 -0.1 2 -0.1 2 -0.1 2 -0.2 2 -0.2 2 -0.2 2 -0.2 2 -0.1 2 -0.3 2 -0.3 2 -0.3 2 -0.4 2 -0.4 2 -0.4 2 -0.2 2 -0.2 2 -0.1 2 -0.1 2 -0.1 2 -0.1 2 -0.1 2 0 2 -0.1 2 -0.1 2 0 2 0 2 0 2 0 2 0 2 0 2 0.1 2 0 2 0.1 2 0.1 2 0.1 2 0 2 0.2 2 0.1 2 0.1 2 0.2 2 0.3 2 0.4 2 0.3 2 0.4 2 0.4 2 0.2 2 0.2 2 0.2 2 0.2 2 0.2 2 0.2 2 0.1 2 0.1 2 0.1 2 0.1 2 0 2 0 2 -0.1 2 -0.1 2 -0.1 2 -0.2 2 -0.2 2 -0.2 2 -0.2 2 -0.2 2 -0.2 2 -0.2 2 -0.2 2 -0.2 2 -0.2 2 -0.3 2 -0.2 2 -0.3 2 -0.4 2 -0.3 2 -0.2 2 -0.3 2 -0.2 2 -0.1 2 -0.1 2 0 2 0.1 2 0.1 2 0.2 2 0.2 2 0.3 2 0.2 2 0.3 2 0.2 2 0.2 2 0.2 2 0.1 2 0.1 2 0.1 2 0.1 2 0.1 2 0 2 0.1 2 0 2 0 2 0 2 0 2 0 2 0 2 0 2 0 2 0 2 0 2 0 2 0 2 0 2 0 2 0 2 0 2 0 2 0 2 0 2 0 2 -0.1 2 0 2 0 2 -0.1 2 0 2 0 2 -0.1 2 0 2 -0.1 2 0 2 0 2.6 -0.1"/>
<path stroke="url(#gCoL2)" d="M1120.3 538.6l2 -0.4 2 -0.4 2 -0.4 2 -0.4 2 -0.4 2 -0.5 2 -0.4 2 -0.4 2 -0.5 2 -0.4 2 -0.5 2 -0.4 2 -0.5 2 -0.4 2 -0.5 2 -0.5 2 -0.5 2 -0.5 2 -0.5 2 -0.6 2 -0.5 2 -0.5 2 -0.5 2 -0.6 2 -0.5 2 -0.5 2 -0.5 2 -0.4 2 -0.5 2 -0.4 2 -0.5 2 -0.5 2 -0.5 2 -0.5 2 -0.4 2 -0.5 2 -0.5 2 -0.4 2 -0.4 2 -0.3 2 -0.4 2 -0.2 2 -0.3 2 -0.1 2 -0.2 2 -0.1 2 -0.1 2 -0.1 2 -0.1 2 -0.1 2 -0.1 2 -0.1 2 -0.1 2 0 2 -0.1 2 -0.1 2 -0.1 2 -0.2 2 -0.1 2 -0.1 2 -0.2 2 -0.2 2 -0.1 2 -0.2 2 -0.1 2 -0.2 2 -0.2 2 -0.1 2 -0.2 2 -0.1 2 -0.1 2 -0.1 2 -0.1 2 -0.1 2 0 2 -0.1 2 -0.1 2 0 2 -0.1 2 0 2 -0.1 2 0 2 -0.1 2 0 2 0 2 0 2 0 2 0.1 2 0 2 0 2 0.1 2 0 2 0.1 2 0.1 2 0 2 0.1 2 0.1 2 0 2 0.1 2 0.1 2 0.2 2 0.1 2 0.2 2 0.1 2 0.2 2 0.1 2 0.2 2 0.2 2 0.1 2 0.2 2 0.1 2 0.2 2 0.1 2 0.1 2 0.1 2 0.1 2 0.1 2 0.1 2 0.1 2 0 2 0.1 2 0.1 2 0.1 2 0.1 2 0.1 2 0.1 2 0.2 2 0.2 2 0.2 2 0.3 2 0.3 2 0.4 2 0.4 2 0.4 2 0.4 2 0.5 2 0.5 2 0.4 2 0.5 2 0.5 2 0.5 2 0.4 2 0.4 2 0.5 2 0.5 2 0.5 2 0.5 2 0.5 2 0.5 2 0.5 2 0.5 2 0.6 2 0.5 2 0.5 2 0.5 2 0.5 2 0.4 2 0.5 2 0.5 2 0.5 2 0.6 2 0.5 2 0.6 2 0.5 2 0.6 2 0.4 2 0.5 2 0.3 2 0.3 2 0.3 2 0.1 2 0 2 0.1 2 0 2 0 2 0 2 0.1 2 0 2 0 2 0 2 0 2 0 2 0.1 2 0 2 0 2 0 2 0 2.6 0"/>
<path stroke="url(#gCoL1)" d="M1120.3 536.8l2 -0.5 2 -0.4 2 -0.5 2 -0.5 2 -0.5 2 -0.5 2 -0.5 2 -0.5 2 -0.5 2 -0.6 2 -0.5 2 -0.5 2 -0.6 2 -0.5 2 -0.6 2 -0.6 2 -0.6 2 -0.7 2 -0.6 2 -0.7 2 -0.7 2 -0.6 2 -0.7 2 -0.6 2 -0.6 2 -0.6 2 -0.6 2 -0.5 2 -0.4 2 -0.5 2 -0.4 2 -0.4 2 -0.4 2 -0.4 2 -0.4 2 -0.3 2 -0.4 2 -0.3 2 -0.3 2 -0.3 2 -0.3 2 -0.3 2 -0.3 2 -0.2 2 -0.3 2 -0.2 2 -0.2 2 -0.3 2 -0.2 2 -0.3 2 -0.2 2 -0.1 2 -0.2 2 -0.1 2 -0.1 2 -0.1 2 0 2 0 2 0 2 0.1 2 0 2 0.1 2 0.1 2 0.1 2 0.1 2 0.1 2 0.1 2 0.2 2 0.1 2 0.1 2 0.1 2 0.1 2 0.2 2 0.1 2 0.1 2 0.2 2 0.1 2 0.2 2 0.2 2 0.2 2 0.1 2 0.2 2 0.1 2 0.1 2 0 2 0 2 -0.1 2 0 2 -0.2 2 -0.1 2 -0.2 2 -0.2 2 -0.2 2 -0.1 2 -0.2 2 -0.2 2 -0.1 2 -0.1 2 -0.1 2 -0.1 2 -0.2 2 -0.1 2 -0.1 2 -0.1 2 -0.1 2 -0.1 2 -0.1 2 -0.1 2 -0.1 2 -0.1 2 0 2 -0.1 2 0 2 0 2 0 2 0.1 2 0.1 2 0.1 2 0.2 2 0.2 2 0.2 2 0.2 2 0.3 2 0.2 2 0.3 2 0.2 2 0.2 2 0.3 2 0.2 2 0.3 2 0.3 2 0.3 2 0.3 2 0.4 2 0.3 2 0.4 2 0.3 2 0.4 2 0.4 2 0.4 2 0.4 2 0.5 2 0.4 2 0.5 2 0.6 2 0.5 2 0.6 2 0.6 2 0.7 2 0.6 2 0.7 2 0.6 2 0.7 2 0.6 2 0.7 2 0.6 2 0.5 2 0.6 2 0.6 2 0.6 2 0.7 2 0.6 2 0.7 2 0.7 2 0.6 2 0.5 2 0.5 2 0.5 2 0.3 2 0.3 2 0.1 2 0 2 -0.1 2 -0.1 2 -0.3 2 -0.2 2 -0.3 2 -0.3 2 -0.3 2 -0.2 2 -0.3 2 -0.3 2 -0.3 2 -0.3 2 -0.3 2 -0.3 2 -0.4 2.6 -0.4"/>
<path stroke="url(#gCoL3)" d="M1120.3 538.6l2 0 2 0 2 0 2 0 2 -0.1 2 0 2 0 2 -0.1 2 0 2 -0.1 2 0 2 -0.1 2 0 2 -0.1 2 -0.1 2 -0.2 2 -0.2 2 -0.3 2 -0.3 2 -0.4 2 -0.4 2 -0.4 2 -0.5 2 -0.5 2 -0.4 2 -0.5 2 -0.5 2 -0.4 2 -0.4 2 -0.5 2 -0.5 2 -0.5 2 -0.5 2 -0.5 2 -0.6 2 -0.5 2 -0.6 2 -0.5 2 -0.5 2 -0.6 2 -0.5 2 -0.4 2 -0.5 2 -0.4 2 -0.4 2 -0.5 2 -0.4 2 -0.5 2 -0.4 2 -0.5 2 -0.4 2 -0.3 2 -0.4 2 -0.2 2 -0.2 2 -0.1 2 -0.1 2 0.1 2 0.1 2 0.1 2 0.2 2 0.2 2 0.2 2 0.2 2 0.2 2 0.2 2 0.3 2 0.3 2 0.3 2 0.4 2 0.3 2 0.4 2 0.3 2 0.2 2 0.2 2 0.2 2 0.2 2 0.2 2 0.1 2 0.2 2 0.1 2 0.1 2 0.1 2 0.1 2 0 2 0 2 0 2 -0.1 2 -0.1 2 -0.1 2 -0.2 2 -0.1 2 -0.2 2 -0.2 2 -0.2 2 -0.2 2 -0.2 2 -0.3 2 -0.3 2 -0.3 2 -0.4 2 -0.3 2 -0.4 2 -0.2 2 -0.3 2 -0.2 2 -0.2 2 -0.2 2 -0.2 2 -0.2 2 -0.2 2 -0.1 2 0 2 0 2 0 2 0.2 2 0.2 2 0.3 2 0.3 2 0.4 2 0.4 2 0.4 2 0.4 2 0.5 2 0.4 2 0.5 2 0.4 2 0.4 2 0.5 2 0.4 2 0.5 2 0.5 2 0.6 2 0.5 2 0.6 2 0.5 2 0.5 2 0.6 2 0.5 2 0.5 2 0.4 2 0.5 2 0.4 2 0.4 2 0.5 2 0.4 2 0.5 2 0.5 2 0.4 2 0.4 2 0.4 2 0.4 2 0.3 2 0.3 2 0.3 2 0.1 2 0.2 2 0 2 0.1 2 0 2 0.1 2 0 2 0 2 0.1 2 0 2 0 2 0 2 0.1 2 0 2 0 2 0.1 2 0.1 2 0.1 2 0.1 2 0.2 2 0.1 2 0.3 2 0.2 2 0.2 2 0.3 2 0.3 2 0.3 2 0.4 2 0.4 2 0.5 2 0.5 2 0.5 2.6 0.7"/>
<path stroke="url(#gCocb)" d="M1120.3 679.8l2 -0.5 2 -0.7 2 -0.7 2 -0.9 2 -0.9 2 -1 2 -1.3 2 -1.4 2 -1.5 2 -1.6 2 -1.6 2 -1.6 2 -1.6 2 -1.6 2 -1.6 2 -1.7 2 -1.6 2 -1.6 2 -1.6 2 -1.6 2 -1.6 2 -1.6 2 -1.5 2 -1.6 2 -1.6 2 -1.6 2 -1.6 2 -1.7 2 -1.6 2 -1.6 2 -1.6 2 -1.5 2 -1.5 2 -1.4 2 -1.4 2 -1.4 2 -1.3 2 -1.3 2 -1.3 2 -1.3 2 -1.3 2 -1.2 2 -1.2 2 -1.2 2 -1.2 2 -1 2 -1.1 2 -1 2 -1 2 -1.2 2 -1.3 2 -1.3 2 -1.3 2 -1.2 2 -1.1 2 -0.8 2 -0.6 2 -0.5 2 -0.3 2 -0.3 2 -0.2 2 -0.4 2 -0.4 2 -0.6 2 -0.7 2 -0.8 2 -0.8 2 -1 2 -1 2 -1 2 -1 2 -1.1 2 -1.3 2 -1.4 2 -1.4 2 -1.3 2 -1.1 2 -1 2 -0.9 2 -0.9 2 -0.9 2 -0.7 2 -0.7 2 -0.4 2 -0.2 2 0 2 0.4 2 0.5 2 0.7 2 0.8 2 0.9 2 0.9 2 0.9 2 1 2 1.3 2 1.4 2 1.4 2 1.3 2 1.2 2 1.1 2 1 2 1 2 1 2 0.9 2 0.8 2 0.7 2 0.7 2 0.5 2 0.4 2 0.3 2 0.3 2 0.3 2 0.3 2 0.5 2 0.7 2 1 2 1.1 2 1.2 2 1.3 2 1.3 2 1.2 2 1.1 2 1 2 1 2 1 2 1.1 2 1.2 2 1.1 2 1.2 2 1.2 2 1.3 2 1.3 2 1.2 2 1.3 2 1.4 2 1.3 2 1.4 2 1.4 2 1.4 2 1.5 2 1.6 2 1.6 2 1.6 2 1.6 2 1.6 2 1.6 2 1.5 2 1.6 2 1.5 2 1.6 2 1.5 2 1.6 2 1.6 2 1.6 2 1.6 2 1.6 2 1.6 2 1.6 2 1.5 2 1.6 2 1.5 2 1.6 2 1.6 2 1.4 2 1.3 2 1.1 2 1 2 0.9 2 0.8 2 0.7 2 0.5 2 0.4 2 0.2 2 0.2 2 0.1 2 0.2 2 0.1 2 0.1 2 0.2 2 0.3 2 0.3 2 0.4 2 0.4 2 0.6 2 0.5 2 0.7 2 0.6 2.6 0.9"/>
<path stroke="url(#gCoca)" d="M1120.3 679.8l2 -0.1 2 -0.4 2 -0.6 2 -0.9 2 -1.4 2 -2 2 -3.6 2 -4.3 2 -4.1 2 -4 2 -4 2 -4.1 2 -4 2 -4.1 2 -4 2 -3.9 2 -3.7 2 -3.6 2 -3.2 2 -3 2 -2.8 2 -2.6 2 -2.5 2 -2.5 2 -2.4 2 -2.4 2 -2.3 2 -2.2 2 -2.2 2 -2.1 2 -2.3 2 -2.2 2 -2.2 2 -1.9 2 -1.5 2 -1.2 2 -1 2 -0.9 2 -0.7 2 -0.6 2 -0.5 2 -0.5 2 -0.4 2 -0.3 2 -0.2 2 -0.1 2 -0.1 2 -0.1 2 -0.1 2 0 2 -0.1 2 0 2 -0.1 2 0 2 0 2 0 2 0 2 0 2 0.1 2 0 2 0.1 2 0.2 2 0.1 2 0.1 2 0.2 2 0.1 2 0.1 2 0.1 2 0.1 2 0.1 2 0 2 0 2 0 2 -0.1 2 -0.1 2 0 2 -0.1 2 -0.1 2 -0.1 2 0 2 -0.1 2 -0.1 2 0 2 -0.1 2 0 2 0 2 0 2 0.1 2 0 2 0.1 2 0.1 2 0.1 2 0.1 2 0 2 0.1 2 0.1 2 0 2 0.1 2 0 2 0 2 -0.1 2 0 2 -0.1 2 -0.1 2 -0.2 2 -0.1 2 -0.1 2 -0.2 2 -0.1 2 -0.1 2 -0.1 2 -0.1 2 0 2 0 2 0 2 0 2 0 2 0.1 2 0 2 0 2 0.1 2 0.1 2 0 2 0.1 2 0.1 2 0.1 2 0.2 2 0.4 2 0.4 2 0.4 2 0.5 2 0.7 2 0.7 2 0.9 2 1 2 1.2 2 1.5 2 1.9 2 2.1 2 2.3 2 2.2 2 2.1 2 2.1 2 2.2 2 2.3 2 2.3 2 2.4 2 2.4 2 2.5 2 2.6 2 2.7 2 2.8 2 3.1 2 3.5 2 3.7 2 3.7 2 3.9 2 4 2 4 2 4 2 4 2 4 2 3.9 2 4.2 2 3.9 2 2.6 2 1.5 2 1.2 2 0.7 2 0.3 2 0.3 2 0.2 2 0.2 2 0.2 2 0.1 2 0.2 2 0.2 2 0.1 2 0.2 2 0.3 2 0.3 2 0.4 2 0.4 2 0.6 2 0.5 2 0.7 2 0.6 2.6 0.9"/>
</g>
<g clip-path="url(#cpb11)" fill="none" stroke-width="2.9" stroke-linecap="round" stroke-linejoin="round">
<path stroke="url(#gSeb1)" d="M1521.7 443.8l2 -0.1 2 -0.1 2 -0.1 2 -0.2 2 -0.3 2 -0.3 2 -0.4 2 -0.4 2 -0.5 2 -0.6 2 -0.7 2 -0.9 2 -0.9 2 -1 2 -1.1 2 -1.2 2 -1.1 2 -1.1 2 -1.2 2 -1.1 2 -1 2 -1.1 2 -1.2 2 -1.2 2 -1.1 2 -1.2 2 -1.2 2 -1.2 2 -1.1 2 -1 2 -1 2 -0.9 2 -0.9 2 -0.8 2 -0.8 2 -0.9 2 -0.7 2 -0.8 2 -0.7 2 -0.6 2 -0.6 2 -0.6 2 -0.5 2 -0.4 2 -0.4 2 -0.4 2 -0.4 2 -0.4 2 -0.3 2 -0.4 2 -0.3 2 -0.2 2 -0.3 2 -0.2 2 -0.1 2 -0.1 2 0 2 0.1 2 0.1 2 0.2 2 0.3 2 0.3 2 0.3 2 0.4 2 0.4 2 0.5 2 0.4 2 0.4 2 0.4 2 0.4 2 0.4 2 0.3 2 0.3 2 0.4 2 0.4 2 0.4 2 0.4 2 0.4 2 0.3 2 0.4 2 0.3 2 0.3 2 0.2 2 0.1 2 0.1 2 -0.1 2 -0.1 2 -0.1 2 -0.3 2 -0.2 2 -0.4 2 -0.3 2 -0.4 2 -0.4 2 -0.4 2 -0.4 2 -0.4 2 -0.3 2 -0.4 2 -0.3 2 -0.4 2 -0.4 2 -0.4 2 -0.4 2 -0.4 2 -0.4 2 -0.4 2 -0.4 2 -0.4 2 -0.3 2 -0.2 2 -0.2 2 -0.1 2 0 2 0.1 2 0.1 2 0.1 2 0.2 2 0.3 2 0.2 2 0.4 2 0.3 2 0.4 2 0.3 2 0.4 2 0.4 2 0.4 2 0.4 2 0.5 2 0.6 2 0.6 2 0.6 2 0.7 2 0.8 2 0.7 2 0.8 2 0.8 2 0.9 2 0.8 2 0.9 2 1 2 1 2 1.1 2 1.1 2 1.2 2 1.2 2 1.1 2 1.2 2 1.1 2 1.1 2 1 2 1.1 2 1.1 2 1.2 2 1.1 2 1.1 2 1.1 2 1 2 1 2 0.8 2 0.8 2 0.6 2 0.5 2 0.5 2 0.4 2 0.3 2 0.3 2 0.2 2 0.2 2 0.1 2 0.1 2 0 2 0 2 0 2 0 2 0 2 0 2 0 2 0 2 0 2 0 2 0 2 0 2 0 2 0 2 0 2 0 2.6 0"/>
<path stroke="url(#gSeb2)" d="M1521.7 443.8l2 -0.1 2 -0.1 2 -0.2 2 -0.1 2 -0.1 2 -0.2 2 -0.1 2 -0.1 2 -0.2 2 -0.1 2 -0.1 2 -0.2 2 -0.1 2 -0.2 2 -0.1 2 -0.2 2 -0.1 2 -0.2 2 -0.1 2 -0.2 2 -0.1 2 -0.2 2 -0.2 2 -0.2 2 -0.2 2 -0.2 2 -0.2 2 -0.2 2 -0.2 2 -0.2 2 -0.2 2 -0.2 2 -0.2 2 -0.2 2 -0.2 2 -0.2 2 -0.2 2 -0.1 2 -0.2 2 -0.2 2 -0.1 2 -0.1 2 -0.2 2 -0.1 2 -0.1 2 -0.1 2 0 2 -0.1 2 -0.1 2 0 2 -0.1 2 -0.1 2 0 2 -0.1 2 -0.1 2 -0.1 2 -0.1 2 -0.1 2 -0.2 2 -0.1 2 -0.2 2 -0.1 2 -0.2 2 -0.2 2 -0.2 2 -0.2 2 -0.2 2 -0.2 2 -0.2 2 -0.3 2 -0.3 2 -0.3 2 -0.3 2 -0.4 2 -0.3 2 -0.3 2 -0.4 2 -0.3 2 -0.2 2 -0.3 2 -0.2 2 -0.2 2 -0.2 2 -0.1 2 0 2 0 2 0.1 2 0.1 2 0.2 2 0.2 2 0.2 2 0.3 2 0.3 2 0.3 2 0.3 2 0.4 2 0.3 2 0.3 2 0.3 2 0.3 2 0.3 2 0.3 2 0.2 2 0.2 2 0.2 2 0.2 2 0.2 2 0.2 2 0.1 2 0.2 2 0.2 2 0.1 2 0.1 2 0.2 2 0.1 2 0 2 0.1 2 0.1 2 0.1 2 0 2 0.1 2 0.1 2 0 2 0.1 2 0.1 2 0.1 2 0.1 2 0.1 2 0.1 2 0.1 2 0.2 2 0.1 2 0.2 2 0.2 2 0.1 2 0.2 2 0.2 2 0.2 2 0.2 2 0.2 2 0.2 2 0.2 2 0.2 2 0.2 2 0.2 2 0.2 2 0.2 2 0.2 2 0.2 2 0.1 2 0.2 2 0.2 2 0.1 2 0.2 2 0.2 2 0.2 2 0.1 2 0.2 2 0.2 2 0.2 2 0.2 2 0.1 2 0.2 2 0.1 2 0.2 2 0.1 2 0.1 2 0.1 2 0 2 0.1 2 0 2 0 2 0 2 0 2 0 2 0 2 0 2 0 2 0 2 0 2 0 2 0 2 0 2 0 2 0 2 0 2 0 2.6 0"/>
<path stroke="url(#gSeb3)" d="M1521.7 468.0l2 0.1 2 0 2 0.1 2 0.2 2 0.1 2 0.2 2 0.2 2 0.2 2 0.3 2 0.2 2 0.4 2 0.4 2 0.4 2 0.5 2 0.5 2 0.6 2 0.6 2 0.6 2 0.6 2 0.6 2 0.6 2 0.6 2 0.8 2 0.7 2 0.9 2 0.8 2 0.8 2 0.8 2 0.7 2 0.6 2 0.6 2 0.4 2 0.4 2 0.3 2 0.4 2 0.3 2 0.3 2 0.3 2 0.3 2 0.2 2 0.2 2 0.1 2 0.1 2 0 2 0 2 -0.1 2 -0.1 2 -0.1 2 -0.1 2 -0.1 2 -0.1 2 -0.1 2 -0.1 2 -0.1 2 -0.1 2 0 2 0 2 0 2 0.1 2 0.1 2 0.2 2 0.2 2 0.2 2 0.3 2 0.2 2 0.3 2 0.3 2 0.2 2 0.2 2 0.3 2 0.2 2 0.1 2 0.2 2 0.2 2 0.1 2 0.2 2 0.2 2 0.1 2 0.2 2 0.1 2 0.2 2 0.1 2 0.1 2 0 2 0 2 0 2 0 2 -0.1 2 -0.1 2 -0.1 2 -0.1 2 -0.2 2 -0.1 2 -0.2 2 -0.2 2 -0.1 2 -0.2 2 -0.2 2 -0.2 2 -0.1 2 -0.2 2 -0.3 2 -0.2 2 -0.3 2 -0.2 2 -0.3 2 -0.2 2 -0.3 2 -0.2 2 -0.2 2 -0.1 2 -0.2 2 0 2 0 2 0 2 0 2 0.1 2 0.1 2 0.1 2 0.1 2 0.1 2 0.2 2 0.1 2 0.1 2 0 2 0.1 2 0 2 0 2 -0.1 2 -0.1 2 -0.2 2 -0.2 2 -0.3 2 -0.3 2 -0.3 2 -0.3 2 -0.4 2 -0.3 2 -0.4 2 -0.4 2 -0.6 2 -0.6 2 -0.7 2 -0.8 2 -0.8 2 -0.8 2 -0.8 2 -0.7 2 -0.8 2 -0.6 2 -0.6 2 -0.6 2 -0.6 2 -0.6 2 -0.6 2 -0.5 2 -0.6 2 -0.5 2 -0.4 2 -0.4 2 -0.4 2 -0.3 2 -0.2 2 -0.2 2 -0.2 2 -0.2 2 -0.2 2 -0.1 2 -0.1 2 -0.1 2 -0.1 2 0 2 0 2 0 2 0 2 0.1 2 0 2 0 2 0.1 2 0 2 0.1 2 0.1 2 0.1 2 0.1 2 0.1 2 0.2 2 0.2 2.6 0.2"/>
<path stroke="url(#gSeL10)" d="M1521.7 595.4l2 0.2 2 0.2 2 0.1 2 0.1 2 0.1 2 0.1 2 0.1 2 0 2 0.1 2 0 2 0 2 0 2 0.1 2 0 2 -0.1 2 0 2 -0.1 2 -0.2 2 -0.2 2 -0.1 2 -0.3 2 -0.2 2 -0.2 2 -0.3 2 -0.2 2 -0.3 2 -0.3 2 -0.2 2 -0.2 2 -0.3 2 -0.3 2 -0.4 2 -0.3 2 -0.4 2 -0.4 2 -0.4 2 -0.4 2 -0.3 2 -0.4 2 -0.3 2 -0.3 2 -0.2 2 -0.2 2 -0.1 2 -0.1 2 -0.1 2 -0.1 2 -0.1 2 -0.1 2 0 2 -0.1 2 -0.1 2 0 2 0 2 -0.1 2 0 2 0 2 0 2 0.1 2 0 2 0.1 2 0.1 2 0.1 2 0.1 2 0.1 2 0.2 2 0.1 2 0.4 2 0.5 2 0.5 2 0.6 2 0.5 2 0.3 2 0.3 2 0.1 2 0.1 2 0.2 2 0.1 2 0.1 2 0.1 2 0.1 2 0.1 2 0 2 0.1 2 0 2 0 2 -0.1 2 0 2 -0.1 2 0 2 -0.1 2 -0.1 2 -0.1 2 -0.2 2 -0.1 2 -0.2 2 -0.1 2 -0.3 2 -0.5 2 -0.5 2 -0.5 2 -0.5 2 -0.5 2 -0.3 2 -0.1 2 -0.1 2 -0.2 2 -0.1 2 -0.1 2 0 2 -0.1 2 -0.1 2 0 2 0 2 0 2 0 2 0.1 2 0 2 0.1 2 0 2 0.1 2 0.1 2 0 2 0.1 2 0.1 2 0.1 2 0.1 2 0.1 2 0.2 2 0.3 2 0.2 2 0.4 2 0.3 2 0.4 2 0.3 2 0.4 2 0.4 2 0.4 2 0.3 2 0.4 2 0.3 2 0.2 2 0.3 2 0.2 2 0.3 2 0.2 2 0.3 2 0.2 2 0.3 2 0.2 2 0.2 2 0.2 2 0.2 2 0.1 2 0.1 2 0.1 2 0 2 0 2 0 2 0 2 -0.1 2 -0.1 2 0 2 -0.1 2 -0.1 2 -0.1 2 -0.1 2 -0.1 2 -0.1 2 -0.1 2 -0.1 2 0 2 -0.1 2 0 2 0 2 -0.1 2 0 2 -0.1 2 0 2 0 2 -0.1 2 0 2 0 2 0 2 -0.1 2 0 2 0 2.6 0"/>
<path stroke="url(#gSeL9)" d="M1521.7 594.9l2 -0.3 2 -0.3 2 -0.3 2 -0.3 2 -0.3 2 -0.3 2 -0.3 2 -0.3 2 -0.4 2 -0.3 2 -0.3 2 -0.4 2 -0.3 2 -0.4 2 -0.4 2 -0.3 2 -0.4 2 -0.4 2 -0.5 2 -0.4 2 -0.4 2 -0.4 2 -0.4 2 -0.5 2 -0.4 2 -0.4 2 -0.4 2 -0.3 2 -0.4 2 -0.3 2 -0.3 2 -0.3 2 -0.3 2 -0.3 2 -0.3 2 -0.4 2 -0.4 2 -0.5 2 -0.7 2 -0.6 2 -0.6 2 -0.5 2 -0.3 2 -0.1 2 0 2 0 2 0.1 2 0 2 0.1 2 0.1 2 0 2 0.1 2 0.1 2 0.1 2 0 2 0.1 2 0.1 2 0 2 0.1 2 0 2 0 2 0.1 2 0 2 0.1 2 0.1 2 0.1 2 0.1 2 0.4 2 0.5 2 0.7 2 0.7 2 0.7 2 0.6 2 0.6 2 0.5 2 0.6 2 0.6 2 0.6 2 0.6 2 0.5 2 0.5 2 0.5 2 0.3 2 0.2 2 0.2 2 -0.1 2 -0.1 2 -0.3 2 -0.4 2 -0.5 2 -0.5 2 -0.6 2 -0.6 2 -0.6 2 -0.6 2 -0.6 2 -0.5 2 -0.6 2 -0.7 2 -0.7 2 -0.6 2 -0.6 2 -0.5 2 -0.3 2 -0.1 2 -0.1 2 0 2 -0.1 2 0 2 -0.1 2 0 2 -0.1 2 0 2 -0.1 2 0 2 -0.1 2 -0.1 2 0 2 -0.1 2 -0.1 2 -0.1 2 0 2 -0.1 2 -0.1 2 0 2 0 2 0 2 0.1 2 0.4 2 0.5 2 0.6 2 0.6 2 0.6 2 0.6 2 0.4 2 0.3 2 0.3 2 0.3 2 0.3 2 0.3 2 0.3 2 0.3 2 0.4 2 0.3 2 0.4 2 0.4 2 0.4 2 0.4 2 0.4 2 0.4 2 0.5 2 0.4 2 0.4 2 0.4 2 0.4 2 0.3 2 0.4 2 0.4 2 0.4 2 0.4 2 0.4 2 0.4 2 0.4 2 0.4 2 0.4 2 0.3 2 0.4 2 0.2 2 0.2 2 0.2 2 0.1 2 0 2 0 2 0 2 0 2 0 2 0 2 0 2 -0.1 2 0 2 0 2 0 2 -0.1 2 0 2 -0.1 2 0 2 -0.1 2.6 -0.1"/>
<path stroke="url(#gSep2)" d="M1521.7 649.6l2 0.3 2 0.3 2 0.4 2 0.3 2 0.3 2 0.2 2 0.3 2 0.3 2 0.3 2 0.3 2 0.3 2 0.3 2 0.3 2 0.2 2 0.1 2 0 2 -0.1 2 0 2 -0.1 2 -0.1 2 -0.1 2 -0.2 2 -0.4 2 -0.7 2 -1 2 -1.1 2 -1.1 2 -1 2 -0.7 2 -0.6 2 -0.6 2 -0.5 2 -0.5 2 -0.6 2 -0.7 2 -0.7 2 -0.9 2 -1 2 -1.1 2 -1.1 2 -1.2 2 -1.1 2 -1.2 2 -1.4 2 -1.3 2 -1.4 2 -1.2 2 -1.1 2 -0.9 2 -0.8 2 -0.7 2 -0.8 2 -0.7 2 -0.5 2 -0.5 2 -0.2 2 -0.1 2 0 2 0.1 2 0.2 2 0.1 2 0.2 2 0.3 2 0.2 2 0.3 2 0.3 2 0.2 2 0.3 2 0.3 2 0.3 2 0.2 2 0.2 2 0.2 2 0.2 2 0.2 2 0.3 2 0.2 2 0.2 2 0.2 2 0.2 2 0.2 2 0.1 2 0.2 2 0 2 0.1 2 0 2 0 2 0 2 0 2 0 2 0 2 0 2 0 2 0 2 0 2 0 2 0 2 0 2 0 2 0 2 0 2 0 2 0 2 0 2 0.1 2 0 2 0 2 0.1 2 0 2 0.1 2 0 2 0.1 2 0 2 0.1 2 0.2 2 0.2 2 0.3 2 0.4 2 0.4 2 0.5 2 0.5 2 0.5 2 0.7 2 0.8 2 1 2 1 2 1.1 2 1 2 1 2 1 2 1 2 1.1 2 1 2 1 2 1 2 0.9 2 0.8 2 0.8 2 0.8 2 0.7 2 0.7 2 0.6 2 0.6 2 0.4 2 0.4 2 0.4 2 0.3 2 0.3 2 0.2 2 0.1 2 0 2 0 2 0 2 0 2 0 2 0 2 0 2 -0.1 2 -0.1 2 -0.2 2 -0.2 2 -0.3 2 -0.2 2 -0.3 2 -0.3 2 -0.4 2 -0.5 2 -0.4 2 -0.4 2 -0.3 2 -0.2 2 0 2 0.1 2 0.2 2 0.2 2 0.3 2 0.3 2 0.5 2 0.9 2 1.4 2 1.6 2 1.6 2 1.4 2 1.5 2 1.5 2 1.5 2 1.6 2.6 2.1"/>
<path stroke="url(#gSepl)" d="M1521.7 704.3l2 -2.7 2 -2.6 2 -2.6 2 -2.5 2 -2.4 2 -2.4 2 -2.2 2 -2.2 2 -2 2 -2 2 -2 2 -1.9 2 -1.8 2 -1.8 2 -1.7 2 -1.6 2 -1.6 2 -1.4 2 -1.4 2 -1.2 2 -1.3 2 -1.1 2 -1.2 2 -1 2 -1.1 2 -0.9 2 -1 2 -0.9 2 -0.9 2 -0.9 2 -0.9 2 -0.8 2 -0.8 2 -0.7 2 -0.6 2 -0.5 2 -0.5 2 -0.3 2 -0.1 2 0.2 2 0.4 2 0.5 2 0.5 2 0.5 2 0.5 2 0.4 2 0.6 2 0.5 2 0.4 2 0.4 2 0.5 2 0.4 2 0.4 2 0.4 2 0.2 2 0.2 2 0 2 -0.2 2 -0.6 2 -0.9 2 -1 2 -1.2 2 -1.3 2 -1.4 2 -1.3 2 -1.3 2 -1.2 2 -1.3 2 -1.5 2 -1.6 2 -1.5 2 -1.6 2 -1.5 2 -1.4 2 -1.3 2 -1.1 2 -0.9 2 -1 2 -0.9 2 -0.9 2 -0.8 2 -0.8 2 -0.5 2 -0.5 2 -0.1 2 0 2 0.3 2 0.5 2 0.6 2 0.8 2 0.9 2 0.9 2 1 2 0.9 2 1 2 1.2 2 1.3 2 1.5 2 1.5 2 1.6 2 1.5 2 1.6 2 1.4 2 1.3 2 1.2 2 1.3 2 1.3 2 1.3 2 1.3 2 1.2 2 1 2 0.7 2 0.4 2 0.1 2 -0.1 2 -0.2 2 -0.3 2 -0.3 2 -0.5 2 -0.4 2 -0.4 2 -0.4 2 -0.5 2 -0.5 2 -0.5 2 -0.4 2 -0.5 2 -0.5 2 -0.5 2 -0.5 2 -0.3 2 -0.2 2 0.1 2 0.3 2 0.5 2 0.6 2 0.6 2 0.6 2 0.8 2 0.8 2 0.9 2 0.9 2 0.8 2 1 2 0.9 2 1 2 1 2 1 2 1.1 2 1.2 2 1.2 2 1.2 2 1.3 2 1.4 2 1.5 2 1.6 2 1.7 2 1.7 2 1.8 2 1.8 2 2 2 1.9 2 2 2 2.6 2 2.9 2 3.2 2 3.1 2 2.9 2 2.5 2 1.9 2 1.1 2 0.1 2 -0.4 2 -0.6 2 -0.9 2 -1 2 -1 2 -1 2 -0.9 2 -0.7 2 -0.6 2 -0.6 2 -0.5 2 -0.6 2 -0.5 2 -0.4 2 -0.5 2.6 -0.5"/>
<path stroke="url(#gSepk)" d="M1521.7 704.3l2 -3.1 2 -3 2 -2.9 2 -2.8 2 -2.7 2 -2.5 2 -2.5 2 -2.3 2 -2.2 2 -2 2 -1.9 2 -1.9 2 -1.7 2 -1.7 2 -1.7 2 -1.6 2 -1.7 2 -1.6 2 -1.7 2 -1.7 2 -1.7 2 -1.7 2 -1.6 2 -1.6 2 -1.4 2 -1.4 2 -1.3 2 -1.3 2 -1.3 2 -1.1 2 -1 2 -0.9 2 -0.7 2 -0.6 2 -0.6 2 -0.5 2 -0.5 2 -0.6 2 -0.6 2 -0.7 2 -0.7 2 -0.7 2 -0.7 2 -0.6 2 -0.4 2 -0.4 2 -0.2 2 -0.3 2 -0.2 2 -0.2 2 -0.2 2 -0.1 2 -0.2 2 -0.2 2 -0.2 2 -0.3 2 -0.2 2 -0.3 2 -0.4 2 -0.3 2 -0.4 2 -0.4 2 -0.5 2 -0.6 2 -0.7 2 -0.7 2 -0.8 2 -0.8 2 -0.8 2 -0.7 2 -0.7 2 -0.6 2 -0.5 2 -0.4 2 -0.5 2 -0.3 2 -0.2 2 0 2 0.3 2 0.5 2 0.7 2 0.7 2 0.6 2 0.5 2 0.3 2 -0.1 2 -0.4 2 -0.5 2 -0.7 2 -0.7 2 -0.6 2 -0.5 2 -0.2 2 0.1 2 0.3 2 0.4 2 0.5 2 0.4 2 0.5 2 0.7 2 0.7 2 0.8 2 0.8 2 0.8 2 0.7 2 0.7 2 0.7 2 0.5 2 0.5 2 0.4 2 0.3 2 0.4 2 0.3 2 0.3 2 0.2 2 0.3 2 0.2 2 0.2 2 0.1 2 0.2 2 0.2 2 0.2 2 0.2 2 0.2 2 0.3 2 0.4 2 0.4 2 0.6 2 0.7 2 0.7 2 0.7 2 0.7 2 0.6 2 0.5 2 0.5 2 0.6 2 0.5 2 0.6 2 0.8 2 0.8 2 1 2 1.1 2 1.2 2 1.3 2 1.3 2 1.4 2 1.4 2 1.5 2 1.6 2 1.6 2 1.7 2 1.7 2 1.7 2 1.6 2 1.6 2 1.6 2 1.6 2 1.7 2 1.7 2 1.8 2 1.8 2 2 2 2.2 2 2.7 2 3.2 2 3.5 2 3.5 2 3.3 2 2.8 2 2.2 2 1.1 2 0.2 2 -0.4 2 -0.6 2 -0.9 2 -1 2 -1 2 -1 2 -0.9 2 -0.7 2 -0.6 2 -0.6 2 -0.5 2 -0.6 2 -0.5 2 -0.4 2 -0.5 2.6 -0.5"/>
<path stroke="url(#gSela)" d="M1521.7 704.3l2 -4.3 2 -4.1 2 -3.9 2 -3.7 2 -3.4 2 -3.1 2 -2.9 2 -2.7 2 -2.5 2 -2.5 2 -2.5 2 -2.6 2 -2.6 2 -2.7 2 -2.7 2 -2.7 2 -2.6 2 -2.5 2 -2.3 2 -2.2 2 -2.1 2 -2 2 -2 2 -1.9 2 -1.8 2 -1.8 2 -1.7 2 -1.7 2 -1.6 2 -1.5 2 -1.4 2 -1.3 2 -1.2 2 -1.2 2 -1 2 -1 2 -1 2 -0.9 2 -0.8 2 -0.7 2 -0.7 2 -0.6 2 -0.7 2 -0.6 2 -0.6 2 -0.7 2 -0.8 2 -0.7 2 -0.6 2 -0.5 2 -0.3 2 -0.2 2 -0.1 2 -0.2 2 -0.1 2 0 2 -0.1 2 0.1 2 0 2 0.1 2 0.2 2 0.1 2 0.2 2 0.1 2 0.2 2 0.1 2 0.2 2 0.1 2 0.1 2 0.1 2 0 2 0 2 -0.1 2 -0.1 2 -0.1 2 -0.1 2 -0.2 2 -0.1 2 -0.2 2 -0.2 2 -0.1 2 -0.1 2 -0.2 2 0 2 -0.1 2 0.1 2 0 2 0.1 2 0.1 2 0.2 2 0.1 2 0.2 2 0.1 2 0.2 2 0.2 2 0.1 2 0.1 2 0.1 2 0 2 0 2 -0.1 2 0 2 -0.2 2 -0.1 2 -0.1 2 -0.2 2 -0.2 2 -0.1 2 -0.2 2 -0.1 2 -0.1 2 -0.1 2 0 2 -0.1 2 0.1 2 0.1 2 0.1 2 0.1 2 0.2 2 0.2 2 0.3 2 0.6 2 0.6 2 0.8 2 0.7 2 0.6 2 0.6 2 0.7 2 0.6 2 0.6 2 0.7 2 0.8 2 0.8 2 0.8 2 1 2 1 2 1 2 1.1 2 1.2 2 1.3 2 1.4 2 1.5 2 1.6 2 1.6 2 1.7 2 1.7 2 1.8 2 1.9 2 1.9 2 2 2 2.1 2 2.1 2 2.3 2 2.4 2 2.5 2 2.6 2 2.7 2 2.6 2 2.7 2 2.5 2 2.5 2 2.4 2 2.5 2 2.6 2 2.7 2 3 2 3.9 2 4.9 2 4.9 2 4.2 2 2.4 2 0.3 2 -0.7 2 -1.2 2 -1.6 2 -1.9 2 -2 2 -2 2 -1.9 2 -1.6 2 -1.5 2 -1.4 2 -1.4 2 -1.4 2 -1.4 2 -1.3 2 -1.4 2.6 -1.7"/>
<path stroke="url(#gSeL8)" d="M1521.7 556.1l2 0.5 2 0.6 2 0.6 2 0.5 2 0.6 2 0.5 2 0.6 2 0.5 2 0.6 2 0.5 2 0.5 2 0.6 2 0.5 2 0.5 2 0.6 2 0.5 2 0.7 2 0.6 2 0.7 2 0.6 2 0.6 2 0.6 2 0.6 2 0.5 2 0.4 2 0.4 2 0.2 2 0.2 2 0 2 0 2 -0.1 2 0 2 -0.1 2 -0.2 2 -0.1 2 -0.2 2 -0.3 2 -0.6 2 -1 2 -1 2 -1.2 2 -1 2 -0.9 2 -0.7 2 -0.5 2 -0.5 2 -0.5 2 -0.5 2 -0.5 2 -0.5 2 -0.4 2 -0.3 2 -0.3 2 -0.3 2 -0.1 2 -0.1 2 -0.1 2 0.1 2 0.2 2 0.2 2 0.4 2 0.3 2 0.5 2 0.4 2 0.5 2 0.4 2 0.5 2 0.7 2 0.7 2 0.8 2 0.8 2 0.8 2 0.7 2 0.5 2 0.4 2 0.5 2 0.4 2 0.4 2 0.4 2 0.4 2 0.3 2 0.3 2 0.2 2 0.2 2 0 2 0 2 -0.1 2 -0.2 2 -0.2 2 -0.3 2 -0.4 2 -0.3 2 -0.4 2 -0.5 2 -0.4 2 -0.5 2 -0.4 2 -0.6 2 -0.7 2 -0.8 2 -0.8 2 -0.8 2 -0.7 2 -0.6 2 -0.5 2 -0.4 2 -0.5 2 -0.4 2 -0.4 2 -0.4 2 -0.3 2 -0.2 2 -0.1 2 -0.1 2 0.1 2 0.1 2 0.2 2 0.3 2 0.3 2 0.4 2 0.4 2 0.4 2 0.5 2 0.5 2 0.5 2 0.5 2 0.5 2 0.7 2 1 2 1 2 1.1 2 1.1 2 0.9 2 0.6 2 0.2 2 0.2 2 0.1 2 0.2 2 0.1 2 0.1 2 0 2 0 2 0 2 -0.2 2 -0.2 2 -0.4 2 -0.4 2 -0.5 2 -0.5 2 -0.6 2 -0.6 2 -0.6 2 -0.7 2 -0.6 2 -0.6 2 -0.6 2 -0.6 2 -0.5 2 -0.5 2 -0.6 2 -0.7 2 -0.6 2 -0.6 2 -0.7 2 -0.6 2 -0.6 2 -0.6 2 -0.5 2 -0.4 2 -0.4 2 -0.3 2 -0.2 2 -0.2 2 -0.2 2 -0.2 2 -0.2 2 -0.2 2 -0.1 2 -0.2 2 -0.1 2 -0.1 2 -0.2 2 -0.1 2 0 2 -0.1 2 -0.1 2 0 2.6 0"/>
<path stroke="url(#gSeL7)" d="M1521.7 557.6l2 0 2 0 2 0 2 0 2 0 2 0 2 0 2 0 2 0 2 0 2 0 2 0 2 0 2 0 2 0 2 0.1 2 0 2 0 2 0 2 0 2 0.1 2 0 2 0 2 0.1 2 0 2 0.1 2 0 2 0.1 2 0.1 2 0.1 2 0.1 2 0.3 2 0.2 2 0.4 2 0.3 2 0.4 2 0.3 2 0.4 2 0.4 2 0.3 2 0.4 2 0.3 2 0.3 2 0.2 2 0.3 2 0.2 2 0.2 2 0.3 2 0.2 2 0.3 2 0.2 2 0.2 2 0.1 2 0.2 2 0.1 2 0 2 0 2 0 2 0 2 0 2 0 2 0 2 0 2 0 2 0 2 0 2 0 2 -0.1 2 -0.2 2 -0.3 2 -0.3 2 -0.2 2 -0.3 2 -0.2 2 -0.1 2 -0.2 2 -0.2 2 -0.2 2 -0.2 2 -0.1 2 -0.2 2 -0.1 2 -0.1 2 -0.1 2 0 2 0 2 0.1 2 0 2 0.2 2 0.1 2 0.1 2 0.2 2 0.2 2 0.2 2 0.2 2 0.1 2 0.2 2 0.2 2 0.3 2 0.3 2 0.2 2 0.3 2 0.1 2 0.1 2 0 2 0 2 0 2 0 2 0 2 0 2 0 2 0 2 0 2 0 2 0 2 -0.1 2 -0.1 2 -0.1 2 -0.2 2 -0.2 2 -0.2 2 -0.2 2 -0.3 2 -0.2 2 -0.3 2 -0.2 2 -0.2 2 -0.3 2 -0.2 2 -0.4 2 -0.3 2 -0.4 2 -0.3 2 -0.4 2 -0.4 2 -0.3 2 -0.4 2 -0.3 2 -0.2 2 -0.3 2 -0.1 2 -0.1 2 -0.1 2 0 2 -0.1 2 -0.1 2 0 2 0 2 -0.1 2 0 2 -0.1 2 0 2 0 2 0 2 0 2 -0.1 2 0 2 0 2 0 2 0 2 0 2 0 2 0 2 0 2 0 2 0 2 0 2 0 2 0 2 0 2 0 2 0 2 0.1 2 0 2 0.1 2 0 2 0.1 2 0.1 2 0.2 2 0.1 2 0.1 2 0.2 2 0.2 2 0.1 2 0.2 2 0.2 2 0.2 2.6 0.2"/>
<path stroke="url(#gSeL6)" d="M1521.7 557.4l2 -0.1 2 -0.1 2 -0.2 2 -0.2 2 -0.3 2 -0.3 2 -0.4 2 -0.5 2 -0.6 2 -0.7 2 -0.7 2 -0.8 2 -0.6 2 -0.6 2 -0.5 2 -0.6 2 -0.5 2 -0.5 2 -0.5 2 -0.4 2 -0.2 2 -0.2 2 -0.2 2 -0.1 2 -0.1 2 -0.1 2 -0.1 2 -0.1 2 0 2 0 2 0 2 0 2 0 2 0 2 0 2 0 2 0 2 0 2 0 2 0 2 0 2 0 2 0 2 0 2 0 2 0 2 0 2 0 2 0 2 0 2 0 2 0 2 0 2 0 2 0 2 0 2 0 2 0 2 0.1 2 0 2 0 2 0.1 2 0.1 2 0 2 0.1 2 0.1 2 0.1 2 0.1 2 0.1 2 0.1 2 0.1 2 0.1 2 0.1 2 0.1 2 0.2 2 0.2 2 0.2 2 0.2 2 0.3 2 0.2 2 0.3 2 0.2 2 0.1 2 0.1 2 0.1 2 0 2 -0.1 2 -0.1 2 -0.2 2 -0.2 2 -0.3 2 -0.2 2 -0.3 2 -0.2 2 -0.2 2 -0.2 2 -0.1 2 -0.1 2 -0.1 2 -0.1 2 -0.1 2 -0.2 2 -0.1 2 -0.1 2 0 2 -0.1 2 -0.1 2 -0.1 2 0 2 -0.1 2 0 2 -0.1 2 0 2 0 2 0 2 0 2 0 2 0 2 0 2 0 2 0 2 0 2 0 2 0 2 0 2 0 2 0 2 0 2 0 2 0 2 0 2 0 2 0 2 0 2 0 2 0 2 0 2 0 2 0 2 0 2 0 2 0 2 0 2 0.1 2 0.1 2 0.1 2 0.1 2 0.1 2 0.2 2 0.1 2 0.3 2 0.3 2 0.5 2 0.5 2 0.5 2 0.5 2 0.6 2 0.5 2 0.6 2 0.7 2 0.8 2 0.7 2 0.6 2 0.6 2 0.4 2 0.3 2 0.2 2 0.3 2 0.2 2 0.1 2 0.1 2 0.1 2 0.1 2 0 2 0.1 2 0 2 0.1 2 0 2 0 2 0.1 2 0 2 0 2 0 2 0.1 2 0 2 0 2 0 2.6 0"/>
<path stroke="url(#gSeL5)" d="M1521.7 540.2l2 0.4 2 0.5 2 0.4 2 0.4 2 0.5 2 0.3 2 0.4 2 0.4 2 0.3 2 0.3 2 0.2 2 0.3 2 0.1 2 0.2 2 0.1 2 0.2 2 0.1 2 0.1 2 0.1 2 0.1 2 0.2 2 0 2 0.1 2 0.1 2 0.1 2 0 2 0 2 0.1 2 0 2 0 2 0 2 0 2 0 2 0 2 0 2 0 2 0 2 0 2 0 2 0 2 0 2 0 2 0 2 0 2 0 2 0 2 0 2 0 2 0 2 0 2 0 2 0 2 0 2 0 2 0 2 0 2 0 2 0 2 0 2 0.1 2 0.1 2 0.1 2 0.1 2 0.1 2 0.1 2 0.1 2 0.1 2 0.1 2 0.1 2 0.1 2 0.1 2 0.1 2 0.1 2 0.2 2 0.2 2 0.2 2 0.3 2 0.3 2 0.2 2 0.2 2 0.1 2 0 2 -0.2 2 -0.2 2 -0.1 2 0 2 0.2 2 0.2 2 0.1 2 0 2 -0.2 2 -0.2 2 -0.2 2 -0.3 2 -0.3 2 -0.2 2 -0.2 2 -0.1 2 -0.1 2 -0.1 2 -0.1 2 -0.1 2 -0.1 2 -0.1 2 -0.1 2 -0.1 2 -0.1 2 -0.1 2 -0.1 2 -0.1 2 -0.1 2 -0.1 2 0 2 0 2 0 2 0 2 0 2 0 2 0 2 0 2 0 2 0 2 0 2 0 2 0 2 0 2 0 2 0 2 0 2 0 2 0 2 0 2 0 2 0 2 0 2 0 2 0 2 0 2 0 2 0 2 0 2 0 2 0 2 0 2 -0.1 2 0 2 -0.1 2 -0.1 2 0 2 -0.1 2 -0.1 2 -0.1 2 -0.2 2 -0.1 2 -0.1 2 -0.1 2 -0.2 2 -0.1 2 -0.3 2 -0.3 2 -0.4 2 -0.4 2 -0.4 2 -0.5 2 -0.5 2 -0.4 2 -0.4 2 -0.4 2 -0.3 2 -0.2 2 -0.1 2 0 2 0 2 0 2 0 2 0 2 0 2 0.1 2 0 2 0.1 2 0 2 0.1 2 0.1 2 0.1 2 0.2 2 0.1 2 0.2 2.6 0.3"/>
<path stroke="url(#gSeL4)" d="M1521.7 543.3l2 0 2 0 2 0 2 0 2 0 2 0 2 0 2 0 2 0 2 0 2 0 2 0 2 0 2 0 2 0 2 0 2 -0.1 2 -0.1 2 -0.1 2 -0.1 2 -0.1 2 -0.1 2 -0.2 2 -0.2 2 -0.2 2 -0.2 2 -0.3 2 -0.2 2 -0.3 2 -0.2 2 -0.1 2 -0.1 2 0 2 0.1 2 0.1 2 0.3 2 0.2 2 0.3 2 0.3 2 0.3 2 0.3 2 0.3 2 0.2 2 0.2 2 0.2 2 0.3 2 0.2 2 0.2 2 0.2 2 0.2 2 0.2 2 0.2 2 0.1 2 0.1 2 0.1 2 0.1 2 0 2 0 2 -0.1 2 -0.1 2 -0.1 2 -0.2 2 -0.2 2 -0.2 2 -0.2 2 -0.1 2 -0.3 2 -0.3 2 -0.3 2 -0.4 2 -0.4 2 -0.4 2 -0.2 2 -0.2 2 -0.1 2 -0.1 2 -0.1 2 -0.1 2 -0.1 2 0 2 -0.1 2 -0.1 2 0 2 0 2 0 2 0 2 0 2 0 2 0.1 2 0 2 0.1 2 0.1 2 0.1 2 0 2 0.2 2 0.1 2 0.1 2 0.2 2 0.3 2 0.4 2 0.3 2 0.4 2 0.4 2 0.2 2 0.2 2 0.2 2 0.2 2 0.2 2 0.2 2 0.1 2 0.1 2 0.1 2 0.1 2 0 2 0 2 -0.1 2 -0.1 2 -0.1 2 -0.2 2 -0.2 2 -0.2 2 -0.2 2 -0.2 2 -0.2 2 -0.2 2 -0.2 2 -0.2 2 -0.2 2 -0.3 2 -0.2 2 -0.3 2 -0.4 2 -0.3 2 -0.2 2 -0.3 2 -0.2 2 -0.1 2 -0.1 2 0 2 0.1 2 0.1 2 0.2 2 0.2 2 0.3 2 0.2 2 0.3 2 0.2 2 0.2 2 0.2 2 0.1 2 0.1 2 0.1 2 0.1 2 0.1 2 0 2 0.1 2 0 2 0 2 0 2 0 2 0 2 0 2 0 2 0 2 0 2 0 2 0 2 0 2 0 2 0 2 0 2 0 2 0 2 0 2 0 2 0 2 -0.1 2 0 2 0 2 -0.1 2 0 2 0 2 -0.1 2 0 2 -0.1 2 0 2 0 2.6 -0.1"/>
<path stroke="url(#gSeL2)" d="M1521.7 538.6l2 -0.4 2 -0.4 2 -0.4 2 -0.4 2 -0.4 2 -0.5 2 -0.4 2 -0.4 2 -0.5 2 -0.4 2 -0.5 2 -0.4 2 -0.5 2 -0.4 2 -0.5 2 -0.5 2 -0.5 2 -0.5 2 -0.5 2 -0.6 2 -0.5 2 -0.5 2 -0.5 2 -0.6 2 -0.5 2 -0.5 2 -0.5 2 -0.4 2 -0.5 2 -0.4 2 -0.5 2 -0.5 2 -0.5 2 -0.5 2 -0.4 2 -0.5 2 -0.5 2 -0.4 2 -0.4 2 -0.3 2 -0.4 2 -0.2 2 -0.3 2 -0.1 2 -0.2 2 -0.1 2 -0.1 2 -0.1 2 -0.1 2 -0.1 2 -0.1 2 -0.1 2 -0.1 2 0 2 -0.1 2 -0.1 2 -0.1 2 -0.2 2 -0.1 2 -0.1 2 -0.2 2 -0.2 2 -0.1 2 -0.2 2 -0.1 2 -0.2 2 -0.2 2 -0.1 2 -0.2 2 -0.1 2 -0.1 2 -0.1 2 -0.1 2 -0.1 2 0 2 -0.1 2 -0.1 2 0 2 -0.1 2 0 2 -0.1 2 0 2 -0.1 2 0 2 0 2 0 2 0 2 0.1 2 0 2 0 2 0.1 2 0 2 0.1 2 0.1 2 0 2 0.1 2 0.1 2 0 2 0.1 2 0.1 2 0.2 2 0.1 2 0.2 2 0.1 2 0.2 2 0.1 2 0.2 2 0.2 2 0.1 2 0.2 2 0.1 2 0.2 2 0.1 2 0.1 2 0.1 2 0.1 2 0.1 2 0.1 2 0.1 2 0 2 0.1 2 0.1 2 0.1 2 0.1 2 0.1 2 0.1 2 0.2 2 0.2 2 0.2 2 0.3 2 0.3 2 0.4 2 0.4 2 0.4 2 0.4 2 0.5 2 0.5 2 0.4 2 0.5 2 0.5 2 0.5 2 0.4 2 0.4 2 0.5 2 0.5 2 0.5 2 0.5 2 0.5 2 0.5 2 0.5 2 0.5 2 0.6 2 0.5 2 0.5 2 0.5 2 0.5 2 0.4 2 0.5 2 0.5 2 0.5 2 0.6 2 0.5 2 0.6 2 0.5 2 0.6 2 0.4 2 0.5 2 0.3 2 0.3 2 0.3 2 0.1 2 0 2 0.1 2 0 2 0 2 0 2 0.1 2 0 2 0 2 0 2 0 2 0 2 0.1 2 0 2 0 2 0 2 0 2.6 0"/>
<path stroke="url(#gSeL1)" d="M1521.7 536.8l2 -0.5 2 -0.4 2 -0.5 2 -0.5 2 -0.5 2 -0.5 2 -0.5 2 -0.5 2 -0.5 2 -0.6 2 -0.5 2 -0.5 2 -0.6 2 -0.5 2 -0.6 2 -0.6 2 -0.6 2 -0.7 2 -0.6 2 -0.7 2 -0.7 2 -0.6 2 -0.7 2 -0.6 2 -0.6 2 -0.6 2 -0.6 2 -0.5 2 -0.4 2 -0.5 2 -0.4 2 -0.4 2 -0.4 2 -0.4 2 -0.4 2 -0.3 2 -0.4 2 -0.3 2 -0.3 2 -0.3 2 -0.3 2 -0.3 2 -0.3 2 -0.2 2 -0.3 2 -0.2 2 -0.2 2 -0.3 2 -0.2 2 -0.3 2 -0.2 2 -0.1 2 -0.2 2 -0.1 2 -0.1 2 -0.1 2 0 2 0 2 0 2 0.1 2 0 2 0.1 2 0.1 2 0.1 2 0.1 2 0.1 2 0.1 2 0.2 2 0.1 2 0.1 2 0.1 2 0.1 2 0.2 2 0.1 2 0.1 2 0.2 2 0.1 2 0.2 2 0.2 2 0.2 2 0.1 2 0.2 2 0.1 2 0.1 2 0 2 0 2 -0.1 2 0 2 -0.2 2 -0.1 2 -0.2 2 -0.2 2 -0.2 2 -0.1 2 -0.2 2 -0.2 2 -0.1 2 -0.1 2 -0.1 2 -0.1 2 -0.2 2 -0.1 2 -0.1 2 -0.1 2 -0.1 2 -0.1 2 -0.1 2 -0.1 2 -0.1 2 -0.1 2 0 2 -0.1 2 0 2 0 2 0 2 0.1 2 0.1 2 0.1 2 0.2 2 0.2 2 0.2 2 0.2 2 0.3 2 0.2 2 0.3 2 0.2 2 0.2 2 0.3 2 0.2 2 0.3 2 0.3 2 0.3 2 0.3 2 0.4 2 0.3 2 0.4 2 0.3 2 0.4 2 0.4 2 0.4 2 0.4 2 0.5 2 0.4 2 0.5 2 0.6 2 0.5 2 0.6 2 0.6 2 0.7 2 0.6 2 0.7 2 0.6 2 0.7 2 0.6 2 0.7 2 0.6 2 0.5 2 0.6 2 0.6 2 0.6 2 0.7 2 0.6 2 0.7 2 0.7 2 0.6 2 0.5 2 0.5 2 0.5 2 0.3 2 0.3 2 0.1 2 0 2 -0.1 2 -0.1 2 -0.3 2 -0.2 2 -0.3 2 -0.3 2 -0.3 2 -0.2 2 -0.3 2 -0.3 2 -0.3 2 -0.3 2 -0.3 2 -0.3 2 -0.4 2.6 -0.4"/>
<path stroke="url(#gSeL3)" d="M1521.7 538.6l2 0 2 0 2 0 2 0 2 -0.1 2 0 2 0 2 -0.1 2 0 2 -0.1 2 0 2 -0.1 2 0 2 -0.1 2 -0.1 2 -0.2 2 -0.2 2 -0.3 2 -0.3 2 -0.4 2 -0.4 2 -0.4 2 -0.5 2 -0.5 2 -0.4 2 -0.5 2 -0.5 2 -0.4 2 -0.4 2 -0.5 2 -0.5 2 -0.5 2 -0.5 2 -0.5 2 -0.6 2 -0.5 2 -0.6 2 -0.5 2 -0.5 2 -0.6 2 -0.5 2 -0.4 2 -0.5 2 -0.4 2 -0.4 2 -0.5 2 -0.4 2 -0.5 2 -0.4 2 -0.5 2 -0.4 2 -0.3 2 -0.4 2 -0.2 2 -0.2 2 -0.1 2 -0.1 2 0.1 2 0.1 2 0.1 2 0.2 2 0.2 2 0.2 2 0.2 2 0.2 2 0.2 2 0.3 2 0.3 2 0.3 2 0.4 2 0.3 2 0.4 2 0.3 2 0.2 2 0.2 2 0.2 2 0.2 2 0.2 2 0.1 2 0.2 2 0.1 2 0.1 2 0.1 2 0.1 2 0 2 0 2 0 2 -0.1 2 -0.1 2 -0.1 2 -0.2 2 -0.1 2 -0.2 2 -0.2 2 -0.2 2 -0.2 2 -0.2 2 -0.3 2 -0.3 2 -0.3 2 -0.4 2 -0.3 2 -0.4 2 -0.2 2 -0.3 2 -0.2 2 -0.2 2 -0.2 2 -0.2 2 -0.2 2 -0.2 2 -0.1 2 0 2 0 2 0 2 0.2 2 0.2 2 0.3 2 0.3 2 0.4 2 0.4 2 0.4 2 0.4 2 0.5 2 0.4 2 0.5 2 0.4 2 0.4 2 0.5 2 0.4 2 0.5 2 0.5 2 0.6 2 0.5 2 0.6 2 0.5 2 0.5 2 0.6 2 0.5 2 0.5 2 0.4 2 0.5 2 0.4 2 0.4 2 0.5 2 0.4 2 0.5 2 0.5 2 0.4 2 0.4 2 0.4 2 0.4 2 0.3 2 0.3 2 0.3 2 0.1 2 0.2 2 0 2 0.1 2 0 2 0.1 2 0 2 0 2 0.1 2 0 2 0 2 0 2 0.1 2 0 2 0 2 0.1 2 0.1 2 0.1 2 0.1 2 0.2 2 0.1 2 0.3 2 0.2 2 0.2 2 0.3 2 0.3 2 0.3 2 0.4 2 0.4 2 0.5 2 0.5 2 0.5 2.6 0.7"/>
<path stroke="url(#gSecb)" d="M1521.7 679.8l2 -0.5 2 -0.7 2 -0.7 2 -0.9 2 -0.9 2 -1 2 -1.3 2 -1.4 2 -1.5 2 -1.6 2 -1.6 2 -1.6 2 -1.6 2 -1.6 2 -1.6 2 -1.7 2 -1.6 2 -1.6 2 -1.6 2 -1.6 2 -1.6 2 -1.6 2 -1.5 2 -1.6 2 -1.6 2 -1.6 2 -1.6 2 -1.7 2 -1.6 2 -1.6 2 -1.6 2 -1.5 2 -1.5 2 -1.4 2 -1.4 2 -1.4 2 -1.3 2 -1.3 2 -1.3 2 -1.3 2 -1.3 2 -1.2 2 -1.2 2 -1.2 2 -1.2 2 -1 2 -1.1 2 -1 2 -1 2 -1.2 2 -1.3 2 -1.3 2 -1.3 2 -1.2 2 -1.1 2 -0.8 2 -0.6 2 -0.5 2 -0.3 2 -0.3 2 -0.2 2 -0.4 2 -0.4 2 -0.6 2 -0.7 2 -0.8 2 -0.8 2 -1 2 -1 2 -1 2 -1 2 -1.1 2 -1.3 2 -1.4 2 -1.4 2 -1.3 2 -1.1 2 -1 2 -0.9 2 -0.9 2 -0.9 2 -0.7 2 -0.7 2 -0.4 2 -0.2 2 0 2 0.4 2 0.5 2 0.7 2 0.8 2 0.9 2 0.9 2 0.9 2 1 2 1.3 2 1.4 2 1.4 2 1.3 2 1.2 2 1.1 2 1 2 1 2 1 2 0.9 2 0.8 2 0.7 2 0.7 2 0.5 2 0.4 2 0.3 2 0.3 2 0.3 2 0.3 2 0.5 2 0.7 2 1 2 1.1 2 1.2 2 1.3 2 1.3 2 1.2 2 1.1 2 1 2 1 2 1 2 1.1 2 1.2 2 1.1 2 1.2 2 1.2 2 1.3 2 1.3 2 1.2 2 1.3 2 1.4 2 1.3 2 1.4 2 1.4 2 1.4 2 1.5 2 1.6 2 1.6 2 1.6 2 1.6 2 1.6 2 1.6 2 1.5 2 1.6 2 1.5 2 1.6 2 1.5 2 1.6 2 1.6 2 1.6 2 1.6 2 1.6 2 1.6 2 1.6 2 1.5 2 1.6 2 1.5 2 1.6 2 1.6 2 1.4 2 1.3 2 1.1 2 1 2 0.9 2 0.8 2 0.7 2 0.5 2 0.4 2 0.2 2 0.2 2 0.1 2 0.2 2 0.1 2 0.1 2 0.2 2 0.3 2 0.3 2 0.4 2 0.4 2 0.6 2 0.5 2 0.7 2 0.6 2.6 0.9"/>
<path stroke="url(#gSeca)" d="M1521.7 679.8l2 -0.1 2 -0.4 2 -0.6 2 -0.9 2 -1.4 2 -2 2 -3.6 2 -4.3 2 -4.1 2 -4 2 -4 2 -4.1 2 -4 2 -4.1 2 -4 2 -3.9 2 -3.7 2 -3.6 2 -3.2 2 -3 2 -2.8 2 -2.6 2 -2.5 2 -2.5 2 -2.4 2 -2.4 2 -2.3 2 -2.2 2 -2.2 2 -2.1 2 -2.3 2 -2.2 2 -2.2 2 -1.9 2 -1.5 2 -1.2 2 -1 2 -0.9 2 -0.7 2 -0.6 2 -0.5 2 -0.5 2 -0.4 2 -0.3 2 -0.2 2 -0.1 2 -0.1 2 -0.1 2 -0.1 2 0 2 -0.1 2 0 2 -0.1 2 0 2 0 2 0 2 0 2 0 2 0.1 2 0 2 0.1 2 0.2 2 0.1 2 0.1 2 0.2 2 0.1 2 0.1 2 0.1 2 0.1 2 0.1 2 0 2 0 2 0 2 -0.1 2 -0.1 2 0 2 -0.1 2 -0.1 2 -0.1 2 0 2 -0.1 2 -0.1 2 0 2 -0.1 2 0 2 0 2 0 2 0.1 2 0 2 0.1 2 0.1 2 0.1 2 0.1 2 0 2 0.1 2 0.1 2 0 2 0.1 2 0 2 0 2 -0.1 2 0 2 -0.1 2 -0.1 2 -0.2 2 -0.1 2 -0.1 2 -0.2 2 -0.1 2 -0.1 2 -0.1 2 -0.1 2 0 2 0 2 0 2 0 2 0 2 0.1 2 0 2 0 2 0.1 2 0.1 2 0 2 0.1 2 0.1 2 0.1 2 0.2 2 0.4 2 0.4 2 0.4 2 0.5 2 0.7 2 0.7 2 0.9 2 1 2 1.2 2 1.5 2 1.9 2 2.1 2 2.3 2 2.2 2 2.1 2 2.1 2 2.2 2 2.3 2 2.3 2 2.4 2 2.4 2 2.5 2 2.6 2 2.7 2 2.8 2 3.1 2 3.5 2 3.7 2 3.7 2 3.9 2 4 2 4 2 4 2 4 2 4 2 3.9 2 4.2 2 3.9 2 2.6 2 1.5 2 1.2 2 0.7 2 0.3 2 0.3 2 0.2 2 0.2 2 0.2 2 0.1 2 0.2 2 0.2 2 0.1 2 0.2 2 0.3 2 0.3 2 0.4 2 0.4 2 0.6 2 0.5 2 0.7 2 0.6 2.6 0.9"/>
</g>
<rect x="1120.3" y="8.0" width="376.6" height="325.8" fill="none" stroke="#000" stroke-width="2"/>
<line x1="1120.3" y1="333.8" x2="1127.8" y2="333.8" stroke="#000" stroke-width="1.8"/>
<text x="1114.4" y="341.2" font-size="26" text-anchor="end" font-family="'Liberation Sans', Arial, sans-serif">0</text>
<line x1="1120.3" y1="307.8" x2="1124.3" y2="307.8" stroke="#000" stroke-width="1.8"/>
<line x1="1120.3" y1="281.7" x2="1127.8" y2="281.7" stroke="#000" stroke-width="1.8"/>
<text x="1114.4" y="289.1" font-size="26" text-anchor="end" font-family="'Liberation Sans', Arial, sans-serif">2</text>
<line x1="1120.3" y1="255.7" x2="1124.3" y2="255.7" stroke="#000" stroke-width="1.8"/>
<line x1="1120.3" y1="229.6" x2="1127.8" y2="229.6" stroke="#000" stroke-width="1.8"/>
<text x="1114.4" y="237.0" font-size="26" text-anchor="end" font-family="'Liberation Sans', Arial, sans-serif">4</text>
<line x1="1120.3" y1="203.6" x2="1124.3" y2="203.6" stroke="#000" stroke-width="1.8"/>
<line x1="1120.3" y1="177.5" x2="1127.8" y2="177.5" stroke="#000" stroke-width="1.8"/>
<text x="1114.4" y="184.9" font-size="26" text-anchor="end" font-family="'Liberation Sans', Arial, sans-serif">6</text>
<line x1="1120.3" y1="151.5" x2="1124.3" y2="151.5" stroke="#000" stroke-width="1.8"/>
<line x1="1120.3" y1="125.4" x2="1127.8" y2="125.4" stroke="#000" stroke-width="1.8"/>
<text x="1114.4" y="132.8" font-size="26" text-anchor="end" font-family="'Liberation Sans', Arial, sans-serif">8</text>
<line x1="1120.3" y1="99.3" x2="1124.3" y2="99.3" stroke="#000" stroke-width="1.8"/>
<line x1="1120.3" y1="73.3" x2="1127.8" y2="73.3" stroke="#000" stroke-width="1.8"/>
<text x="1114.4" y="80.7" font-size="26" text-anchor="end" font-family="'Liberation Sans', Arial, sans-serif">10</text>
<line x1="1120.3" y1="47.2" x2="1124.3" y2="47.2" stroke="#000" stroke-width="1.8"/>
<line x1="1120.3" y1="21.2" x2="1127.8" y2="21.2" stroke="#000" stroke-width="1.8"/>
<text x="1114.4" y="28.6" font-size="26" text-anchor="end" font-family="'Liberation Sans', Arial, sans-serif">12</text>
<line x1="1233.9" y1="333.8" x2="1233.9" y2="326.8" stroke="#000" stroke-width="1.8"/>
<line x1="1348.1" y1="333.8" x2="1348.1" y2="326.8" stroke="#000" stroke-width="1.8"/>
<line x1="1463.4" y1="333.8" x2="1463.4" y2="326.8" stroke="#000" stroke-width="1.8"/>
<text x="1120.3" y="361.8" font-size="28" text-anchor="middle" font-family="'Liberation Serif', 'Times New Roman', serif">Γ</text>
<text x="1233.9" y="361.8" font-size="26.5" text-anchor="middle" font-family="'Liberation Sans', Arial, sans-serif">M</text>
<text x="1348.1" y="361.8" font-size="26.5" text-anchor="middle" font-family="'Liberation Sans', Arial, sans-serif">K</text>
<text x="1463.4" y="361.8" font-size="28" text-anchor="middle" font-family="'Liberation Serif', 'Times New Roman', serif">Γ</text>
<text x="1496.9" y="361.8" font-size="26.5" text-anchor="middle" font-family="'Liberation Sans', Arial, sans-serif">A</text>
<text x="1291.0" y="37.6" font-size="30" text-anchor="middle" font-family="'Liberation Sans', Arial, sans-serif">Na</text>
<rect x="1521.7" y="8.0" width="376.6" height="325.8" fill="none" stroke="#000" stroke-width="2"/>
<line x1="1521.7" y1="333.8" x2="1529.2" y2="333.8" stroke="#000" stroke-width="1.8"/>
<line x1="1521.7" y1="307.8" x2="1525.7" y2="307.8" stroke="#000" stroke-width="1.8"/>
<line x1="1521.7" y1="281.7" x2="1529.2" y2="281.7" stroke="#000" stroke-width="1.8"/>
<line x1="1521.7" y1="255.7" x2="1525.7" y2="255.7" stroke="#000" stroke-width="1.8"/>
<line x1="1521.7" y1="229.6" x2="1529.2" y2="229.6" stroke="#000" stroke-width="1.8"/>
<line x1="1521.7" y1="203.6" x2="1525.7" y2="203.6" stroke="#000" stroke-width="1.8"/>
<line x1="1521.7" y1="177.5" x2="1529.2" y2="177.5" stroke="#000" stroke-width="1.8"/>
<line x1="1521.7" y1="151.5" x2="1525.7" y2="151.5" stroke="#000" stroke-width="1.8"/>
<line x1="1521.7" y1="125.4" x2="1529.2" y2="125.4" stroke="#000" stroke-width="1.8"/>
<line x1="1521.7" y1="99.3" x2="1525.7" y2="99.3" stroke="#000" stroke-width="1.8"/>
<line x1="1521.7" y1="73.3" x2="1529.2" y2="73.3" stroke="#000" stroke-width="1.8"/>
<line x1="1521.7" y1="47.2" x2="1525.7" y2="47.2" stroke="#000" stroke-width="1.8"/>
<line x1="1521.7" y1="21.2" x2="1529.2" y2="21.2" stroke="#000" stroke-width="1.8"/>
<line x1="1635.3" y1="333.8" x2="1635.3" y2="326.8" stroke="#000" stroke-width="1.8"/>
<line x1="1749.5" y1="333.8" x2="1749.5" y2="326.8" stroke="#000" stroke-width="1.8"/>
<line x1="1864.8" y1="333.8" x2="1864.8" y2="326.8" stroke="#000" stroke-width="1.8"/>
<text x="1521.7" y="361.8" font-size="28" text-anchor="middle" font-family="'Liberation Serif', 'Times New Roman', serif">Γ</text>
<text x="1635.3" y="361.8" font-size="26.5" text-anchor="middle" font-family="'Liberation Sans', Arial, sans-serif">M</text>
<text x="1749.5" y="361.8" font-size="26.5" text-anchor="middle" font-family="'Liberation Sans', Arial, sans-serif">K</text>
<text x="1864.8" y="361.8" font-size="28" text-anchor="middle" font-family="'Liberation Serif', 'Times New Roman', serif">Γ</text>
<text x="1898.3" y="361.8" font-size="26.5" text-anchor="middle" font-family="'Liberation Sans', Arial, sans-serif">A</text>
<text x="1692.4" y="37.6" font-size="30" text-anchor="middle" font-family="'Liberation Sans', Arial, sans-serif">O</text>
<text transform="translate(1073.6,160.4) rotate(-90)" font-size="29.6" text-anchor="middle" font-family="'Liberation Sans', Arial, sans-serif">Frequency (THz)</text>
<rect x="1120.3" y="378.5" width="376.6" height="325.79999999999995" fill="none" stroke="#000" stroke-width="2"/>
<line x1="1120.3" y1="704.3" x2="1127.8" y2="704.3" stroke="#000" stroke-width="1.8"/>
<text x="1114.4" y="711.7" font-size="26" text-anchor="end" font-family="'Liberation Sans', Arial, sans-serif">0</text>
<line x1="1120.3" y1="678.2" x2="1124.3" y2="678.2" stroke="#000" stroke-width="1.8"/>
<line x1="1120.3" y1="652.2" x2="1127.8" y2="652.2" stroke="#000" stroke-width="1.8"/>
<text x="1114.4" y="659.6" font-size="26" text-anchor="end" font-family="'Liberation Sans', Arial, sans-serif">2</text>
<line x1="1120.3" y1="626.1" x2="1124.3" y2="626.1" stroke="#000" stroke-width="1.8"/>
<line x1="1120.3" y1="600.1" x2="1127.8" y2="600.1" stroke="#000" stroke-width="1.8"/>
<text x="1114.4" y="607.5" font-size="26" text-anchor="end" font-family="'Liberation Sans', Arial, sans-serif">4</text>
<line x1="1120.3" y1="574.0" x2="1124.3" y2="574.0" stroke="#000" stroke-width="1.8"/>
<line x1="1120.3" y1="548.0" x2="1127.8" y2="548.0" stroke="#000" stroke-width="1.8"/>
<text x="1114.4" y="555.4" font-size="26" text-anchor="end" font-family="'Liberation Sans', Arial, sans-serif">6</text>
<line x1="1120.3" y1="521.9" x2="1124.3" y2="521.9" stroke="#000" stroke-width="1.8"/>
<line x1="1120.3" y1="495.9" x2="1127.8" y2="495.9" stroke="#000" stroke-width="1.8"/>
<text x="1114.4" y="503.3" font-size="26" text-anchor="end" font-family="'Liberation Sans', Arial, sans-serif">8</text>
<line x1="1120.3" y1="469.8" x2="1124.3" y2="469.8" stroke="#000" stroke-width="1.8"/>
<line x1="1120.3" y1="443.8" x2="1127.8" y2="443.8" stroke="#000" stroke-width="1.8"/>
<text x="1114.4" y="451.2" font-size="26" text-anchor="end" font-family="'Liberation Sans', Arial, sans-serif">10</text>
<line x1="1120.3" y1="417.7" x2="1124.3" y2="417.7" stroke="#000" stroke-width="1.8"/>
<line x1="1120.3" y1="391.7" x2="1127.8" y2="391.7" stroke="#000" stroke-width="1.8"/>
<text x="1114.4" y="399.1" font-size="26" text-anchor="end" font-family="'Liberation Sans', Arial, sans-serif">12</text>
<line x1="1233.9" y1="704.3" x2="1233.9" y2="697.3" stroke="#000" stroke-width="1.8"/>
<line x1="1348.1" y1="704.3" x2="1348.1" y2="697.3" stroke="#000" stroke-width="1.8"/>
<line x1="1463.4" y1="704.3" x2="1463.4" y2="697.3" stroke="#000" stroke-width="1.8"/>
<text x="1120.3" y="732.3" font-size="28" text-anchor="middle" font-family="'Liberation Serif', 'Times New Roman', serif">Γ</text>
<text x="1233.9" y="732.3" font-size="26.5" text-anchor="middle" font-family="'Liberation Sans', Arial, sans-serif">M</text>
<text x="1348.1" y="732.3" font-size="26.5" text-anchor="middle" font-family="'Liberation Sans', Arial, sans-serif">K</text>
<text x="1463.4" y="732.3" font-size="28" text-anchor="middle" font-family="'Liberation Serif', 'Times New Roman', serif">Γ</text>
<text x="1496.9" y="732.3" font-size="26.5" text-anchor="middle" font-family="'Liberation Sans', Arial, sans-serif">A</text>
<text x="1291.0" y="408.1" font-size="30" text-anchor="middle" font-family="'Liberation Sans', Arial, sans-serif">Co</text>
<rect x="1521.7" y="378.5" width="376.6" height="325.79999999999995" fill="none" stroke="#000" stroke-width="2"/>
<line x1="1521.7" y1="704.3" x2="1529.2" y2="704.3" stroke="#000" stroke-width="1.8"/>
<line x1="1521.7" y1="678.2" x2="1525.7" y2="678.2" stroke="#000" stroke-width="1.8"/>
<line x1="1521.7" y1="652.2" x2="1529.2" y2="652.2" stroke="#000" stroke-width="1.8"/>
<line x1="1521.7" y1="626.1" x2="1525.7" y2="626.1" stroke="#000" stroke-width="1.8"/>
<line x1="1521.7" y1="600.1" x2="1529.2" y2="600.1" stroke="#000" stroke-width="1.8"/>
<line x1="1521.7" y1="574.0" x2="1525.7" y2="574.0" stroke="#000" stroke-width="1.8"/>
<line x1="1521.7" y1="548.0" x2="1529.2" y2="548.0" stroke="#000" stroke-width="1.8"/>
<line x1="1521.7" y1="521.9" x2="1525.7" y2="521.9" stroke="#000" stroke-width="1.8"/>
<line x1="1521.7" y1="495.9" x2="1529.2" y2="495.9" stroke="#000" stroke-width="1.8"/>
<line x1="1521.7" y1="469.8" x2="1525.7" y2="469.8" stroke="#000" stroke-width="1.8"/>
<line x1="1521.7" y1="443.8" x2="1529.2" y2="443.8" stroke="#000" stroke-width="1.8"/>
<line x1="1521.7" y1="417.7" x2="1525.7" y2="417.7" stroke="#000" stroke-width="1.8"/>
<line x1="1521.7" y1="391.7" x2="1529.2" y2="391.7" stroke="#000" stroke-width="1.8"/>
<line x1="1635.3" y1="704.3" x2="1635.3" y2="697.3" stroke="#000" stroke-width="1.8"/>
<line x1="1749.5" y1="704.3" x2="1749.5" y2="697.3" stroke="#000" stroke-width="1.8"/>
<line x1="1864.8" y1="704.3" x2="1864.8" y2="697.3" stroke="#000" stroke-width="1.8"/>
<text x="1521.7" y="732.3" font-size="28" text-anchor="middle" font-family="'Liberation Serif', 'Times New Roman', serif">Γ</text>
<text x="1635.3" y="732.3" font-size="26.5" text-anchor="middle" font-family="'Liberation Sans', Arial, sans-serif">M</text>
<text x="1749.5" y="732.3" font-size="26.5" text-anchor="middle" font-family="'Liberation Sans', Arial, sans-serif">K</text>
<text x="1864.8" y="732.3" font-size="28" text-anchor="middle" font-family="'Liberation Serif', 'Times New Roman', serif">Γ</text>
<text x="1898.3" y="732.3" font-size="26.5" text-anchor="middle" font-family="'Liberation Sans', Arial, sans-serif">A</text>
<text x="1692.4" y="408.1" font-size="30" text-anchor="middle" font-family="'Liberation Sans', Arial, sans-serif">Se</text>
<text transform="translate(1073.6,530.9) rotate(-90)" font-size="29.6" text-anchor="middle" font-family="'Liberation Sans', Arial, sans-serif">Frequency (THz)</text>
<defs><linearGradient id="cbb" x1="0" y1="0" x2="0" y2="1"><stop offset="0.00" stop-color="#000004"/><stop offset="0.05" stop-color="#06051a"/><stop offset="0.10" stop-color="#140e36"/><stop offset="0.15" stop-color="#251255"/><stop offset="0.20" stop-color="#3b0f70"/><stop offset="0.25" stop-color="#51127c"/><stop offset="0.30" stop-color="#641a80"/><stop offset="0.35" stop-color="#782281"/><stop offset="0.40" stop-color="#8c2981"/><stop offset="0.45" stop-color="#a1307e"/><stop offset="0.50" stop-color="#b73779"/><stop offset="0.55" stop-color="#ca3e72"/><stop offset="0.60" stop-color="#de4968"/><stop offset="0.65" stop-color="#ed5a5f"/><stop offset="0.70" stop-color="#f7705c"/><stop offset="0.75" stop-color="#fc8961"/><stop offset="0.80" stop-color="#fe9f6d"/><stop offset="0.85" stop-color="#feb77e"/><stop offset="0.90" stop-color="#fecf92"/><stop offset="0.95" stop-color="#fde7a9"/><stop offset="1.00" stop-color="#fcfdbf"/></linearGradient></defs>
<rect x="1919.5" y="69.5" width="35.09999999999991" height="538.1" fill="url(#cbb)"/>
<line x1="1954.6" y1="69.5" x2="1954.6" y2="607.6" stroke="#000" stroke-width="1.4"/>
<line x1="1954.6" y1="607.6" x2="1946.6" y2="607.6" stroke="#000" stroke-width="1.6"/>
<text x="1963.5" y="616.4" font-size="25" font-family="'Liberation Sans', Arial, sans-serif">0.0</text>
<line x1="1954.6" y1="526.9" x2="1950.1" y2="526.9" stroke="#000" stroke-width="1.6"/>
<line x1="1954.6" y1="446.2" x2="1946.6" y2="446.2" stroke="#000" stroke-width="1.6"/>
<text x="1963.5" y="455.0" font-size="25" font-family="'Liberation Sans', Arial, sans-serif">0.3</text>
<line x1="1954.6" y1="365.5" x2="1950.1" y2="365.5" stroke="#000" stroke-width="1.6"/>
<line x1="1954.6" y1="284.7" x2="1946.6" y2="284.7" stroke="#000" stroke-width="1.6"/>
<text x="1963.5" y="293.5" font-size="25" font-family="'Liberation Sans', Arial, sans-serif">0.6</text>
<line x1="1954.6" y1="204.0" x2="1950.1" y2="204.0" stroke="#000" stroke-width="1.6"/>
<line x1="1954.6" y1="123.3" x2="1946.6" y2="123.3" stroke="#000" stroke-width="1.6"/>
<text x="1963.5" y="132.1" font-size="25" font-family="'Liberation Sans', Arial, sans-serif">0.9</text>
<text transform="translate(1947,343.5) rotate(-90)" font-size="28.7" text-anchor="middle" fill="#fff" font-family="'Liberation Sans', Arial, sans-serif">Normalized atomic proportion at 300 K</text>
</svg>
</body></html>
